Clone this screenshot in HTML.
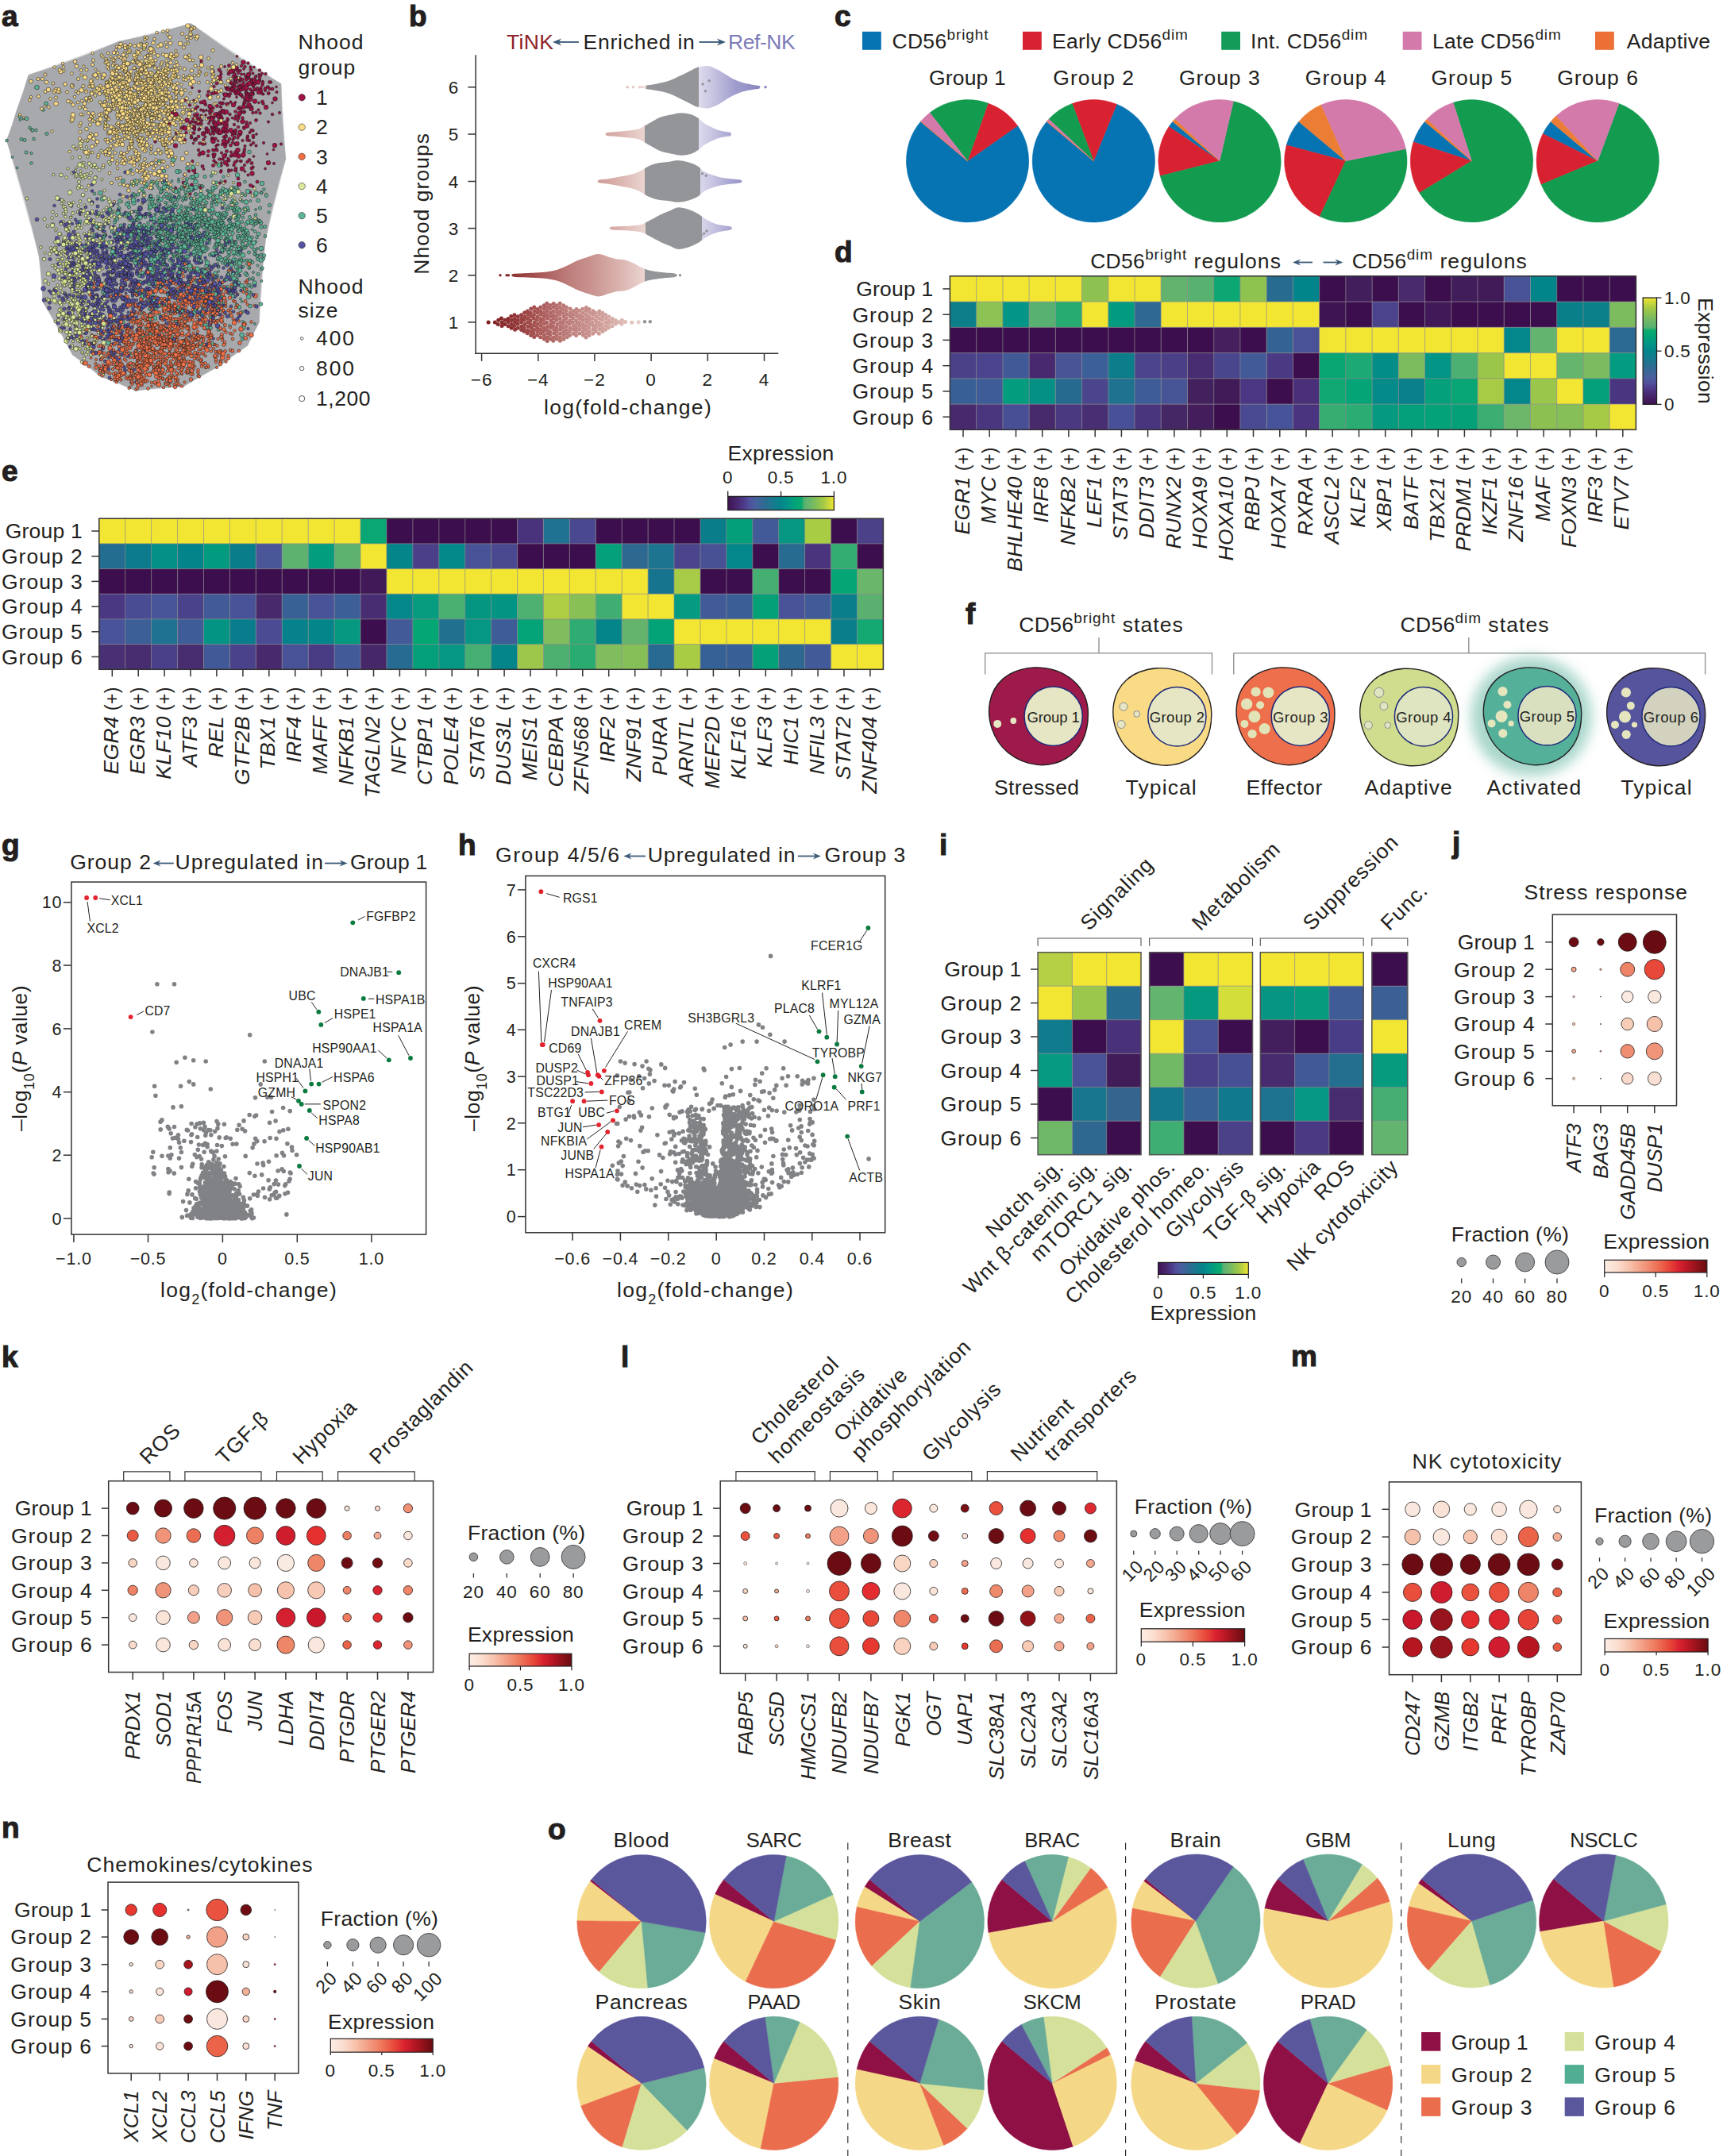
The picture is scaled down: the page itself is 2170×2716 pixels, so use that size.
<!DOCTYPE html><html><head><meta charset="utf-8"><title>Figure</title><style>html,body{margin:0;padding:0;background:#fff}svg{display:block;font-family:"Liberation Sans",sans-serif;font-size:26.5px;letter-spacing:0.3px}text{fill:#231F20}.pl{font-weight:bold;font-size:37px;letter-spacing:0;stroke:#231F20;stroke-width:1.1px}.a0{marker:url(#a0)}.a1{marker:url(#a1)}.a2{marker:url(#a2)}.a3{marker:url(#a3)}.a4{marker:url(#a4)}.a5{marker:url(#a5)}.b0{marker:url(#b0)}.b1{marker:url(#b1)}.b2{marker:url(#b2)}.b3{marker:url(#b3)}.b4{marker:url(#b4)}.b5{marker:url(#b5)}.c0{marker:url(#c0)}.c1{marker:url(#c1)}.c2{marker:url(#c2)}.c3{marker:url(#c3)}.c4{marker:url(#c4)}.c5{marker:url(#c5)}.d0{marker:url(#d0)}.d1{marker:url(#d1)}.d2{marker:url(#d2)}.d3{marker:url(#d3)}.d4{marker:url(#d4)}.d5{marker:url(#d5)}.e0{marker:url(#e0)}.e1{marker:url(#e1)}.e2{marker:url(#e2)}.e3{marker:url(#e3)}.e4{marker:url(#e4)}.e5{marker:url(#e5)}.f0{marker:url(#f0)}.f1{marker:url(#f1)}.f2{marker:url(#f2)}.f3{marker:url(#f3)}.f4{marker:url(#f4)}.f5{marker:url(#f5)}.g1{fill:#9E1245}.g2{fill:#FADB86}.g3{fill:#EF7048}.g4{fill:#DAE698}.g5{fill:#5DB597}.g6{fill:#5552A3}</style></head><body>
<svg width="2170" height="2716" viewBox="0 0 2170 2716">
<rect width="2170" height="2716" fill="#fff"/>
<defs>
<linearGradient id="vh" x1="0" y1="0" x2="1" y2="0"><stop offset="0" stop-color="#3F1353"/><stop offset="0.08" stop-color="#47256C"/><stop offset="0.15" stop-color="#4D3A8A"/><stop offset="0.2" stop-color="#50509B"/><stop offset="0.25" stop-color="#4A5F9F"/><stop offset="0.3" stop-color="#3C6698"/><stop offset="0.35" stop-color="#2D6C93"/><stop offset="0.4" stop-color="#1F7590"/><stop offset="0.45" stop-color="#0F7E8D"/><stop offset="0.5" stop-color="#05858A"/><stop offset="0.55" stop-color="#03908A"/><stop offset="0.6" stop-color="#019C7F"/><stop offset="0.65" stop-color="#04A575"/><stop offset="0.695" stop-color="#0BAA6E"/><stop offset="0.72" stop-color="#55B271"/><stop offset="0.75" stop-color="#62B46E"/><stop offset="0.8" stop-color="#75BA63"/><stop offset="0.85" stop-color="#8CC152"/><stop offset="0.9" stop-color="#A5CA46"/><stop offset="0.95" stop-color="#C9D73B"/><stop offset="1" stop-color="#F0E634"/></linearGradient>
<linearGradient id="vv" x1="0" y1="1" x2="0" y2="0"><stop offset="0" stop-color="#3F1353"/><stop offset="0.08" stop-color="#47256C"/><stop offset="0.15" stop-color="#4D3A8A"/><stop offset="0.2" stop-color="#50509B"/><stop offset="0.25" stop-color="#4A5F9F"/><stop offset="0.3" stop-color="#3C6698"/><stop offset="0.35" stop-color="#2D6C93"/><stop offset="0.4" stop-color="#1F7590"/><stop offset="0.45" stop-color="#0F7E8D"/><stop offset="0.5" stop-color="#05858A"/><stop offset="0.55" stop-color="#03908A"/><stop offset="0.6" stop-color="#019C7F"/><stop offset="0.65" stop-color="#04A575"/><stop offset="0.695" stop-color="#0BAA6E"/><stop offset="0.72" stop-color="#55B271"/><stop offset="0.75" stop-color="#62B46E"/><stop offset="0.8" stop-color="#75BA63"/><stop offset="0.85" stop-color="#8CC152"/><stop offset="0.9" stop-color="#A5CA46"/><stop offset="0.95" stop-color="#C9D73B"/><stop offset="1" stop-color="#F0E634"/></linearGradient>
<linearGradient id="rh" x1="0" y1="0" x2="1" y2="0"><stop offset="0" stop-color="#FCEEE5"/><stop offset="0.125" stop-color="#FBDDCF"/><stop offset="0.25" stop-color="#F7C0A9"/><stop offset="0.375" stop-color="#F29C82"/><stop offset="0.5" stop-color="#EE765A"/><stop offset="0.625" stop-color="#E8483A"/><stop offset="0.72" stop-color="#DA2230"/><stop offset="0.8" stop-color="#BE1826"/><stop offset="0.9" stop-color="#92121A"/><stop offset="1" stop-color="#690C12"/></linearGradient>
</defs>
<text x="2" y="32.5" class="pl">a</text>
<polygon points="240.5,29.2 354.2,105.6 360.1,199.9 334.7,302.2 326.6,406.2 312,435.5 276.2,461.5 230.7,487.5 170.6,492.4 126.7,474.5 91,446.9 53.6,380.2 48.7,321.7 8.1,177.1 21.1,138.1 35.7,94.2 149.5,52" fill="#C4C6C8" opacity="0.55"/>
<path d="M240.5 29.2Q295.6 71 354.2 105.6Q355 154.5 360.1 199.9Q344.4 251.9 334.7 302.2Q327.8 353.1 326.6 406.2Q318.6 420.2 312 435.5Q293.3 447.4 276.2 461.5Q252.9 473 230.7 487.5Q200.5 488.1 170.6 492.4Q149 482 126.7 474.5Q109.4 459.4 91 446.9Q73.9 411.9 53.6 380.2Q52.8 350.3 48.7 321.7Q32.3 250.5 8.1 177.1Q15.6 158.4 21.1 138.1Q29.4 117.2 35.7 94.2Q94 76.5 149.5 52Q194.9 43.4 240.5 29.2Z" fill="#A7A9AC"/>
<defs><marker id="a0" markerUnits="userSpaceOnUse" markerWidth="14" markerHeight="14" refX="7" refY="7"><circle cx="7" cy="7" r="2.9" class="g1" stroke="#1a1a1a" stroke-width="1.1"/></marker><marker id="a1" markerUnits="userSpaceOnUse" markerWidth="14" markerHeight="14" refX="7" refY="7"><circle cx="7" cy="7" r="3.3" class="g1" stroke="#1a1a1a" stroke-width="1.1"/></marker><marker id="a2" markerUnits="userSpaceOnUse" markerWidth="14" markerHeight="14" refX="7" refY="7"><circle cx="7" cy="7" r="3.7" class="g1" stroke="#1a1a1a" stroke-width="1.1"/></marker><marker id="a3" markerUnits="userSpaceOnUse" markerWidth="14" markerHeight="14" refX="7" refY="7"><circle cx="7" cy="7" r="4.1" class="g1" stroke="#1a1a1a" stroke-width="1.1"/></marker><marker id="a4" markerUnits="userSpaceOnUse" markerWidth="14" markerHeight="14" refX="7" refY="7"><circle cx="7" cy="7" r="4.7" class="g1" stroke="#1a1a1a" stroke-width="1.1"/></marker><marker id="a5" markerUnits="userSpaceOnUse" markerWidth="14" markerHeight="14" refX="7" refY="7"><circle cx="7" cy="7" r="5.7" class="g1" stroke="#1a1a1a" stroke-width="1.1"/></marker><marker id="b0" markerUnits="userSpaceOnUse" markerWidth="14" markerHeight="14" refX="7" refY="7"><circle cx="7" cy="7" r="2.9" class="g2" stroke="#1a1a1a" stroke-width="1.1"/></marker><marker id="b1" markerUnits="userSpaceOnUse" markerWidth="14" markerHeight="14" refX="7" refY="7"><circle cx="7" cy="7" r="3.3" class="g2" stroke="#1a1a1a" stroke-width="1.1"/></marker><marker id="b2" markerUnits="userSpaceOnUse" markerWidth="14" markerHeight="14" refX="7" refY="7"><circle cx="7" cy="7" r="3.7" class="g2" stroke="#1a1a1a" stroke-width="1.1"/></marker><marker id="b3" markerUnits="userSpaceOnUse" markerWidth="14" markerHeight="14" refX="7" refY="7"><circle cx="7" cy="7" r="4.1" class="g2" stroke="#1a1a1a" stroke-width="1.1"/></marker><marker id="b4" markerUnits="userSpaceOnUse" markerWidth="14" markerHeight="14" refX="7" refY="7"><circle cx="7" cy="7" r="4.7" class="g2" stroke="#1a1a1a" stroke-width="1.1"/></marker><marker id="b5" markerUnits="userSpaceOnUse" markerWidth="14" markerHeight="14" refX="7" refY="7"><circle cx="7" cy="7" r="5.7" class="g2" stroke="#1a1a1a" stroke-width="1.1"/></marker><marker id="c0" markerUnits="userSpaceOnUse" markerWidth="14" markerHeight="14" refX="7" refY="7"><circle cx="7" cy="7" r="2.9" class="g3" stroke="#1a1a1a" stroke-width="1.1"/></marker><marker id="c1" markerUnits="userSpaceOnUse" markerWidth="14" markerHeight="14" refX="7" refY="7"><circle cx="7" cy="7" r="3.3" class="g3" stroke="#1a1a1a" stroke-width="1.1"/></marker><marker id="c2" markerUnits="userSpaceOnUse" markerWidth="14" markerHeight="14" refX="7" refY="7"><circle cx="7" cy="7" r="3.7" class="g3" stroke="#1a1a1a" stroke-width="1.1"/></marker><marker id="c3" markerUnits="userSpaceOnUse" markerWidth="14" markerHeight="14" refX="7" refY="7"><circle cx="7" cy="7" r="4.1" class="g3" stroke="#1a1a1a" stroke-width="1.1"/></marker><marker id="c4" markerUnits="userSpaceOnUse" markerWidth="14" markerHeight="14" refX="7" refY="7"><circle cx="7" cy="7" r="4.7" class="g3" stroke="#1a1a1a" stroke-width="1.1"/></marker><marker id="c5" markerUnits="userSpaceOnUse" markerWidth="14" markerHeight="14" refX="7" refY="7"><circle cx="7" cy="7" r="5.7" class="g3" stroke="#1a1a1a" stroke-width="1.1"/></marker><marker id="d0" markerUnits="userSpaceOnUse" markerWidth="14" markerHeight="14" refX="7" refY="7"><circle cx="7" cy="7" r="2.9" class="g4" stroke="#1a1a1a" stroke-width="1.1"/></marker><marker id="d1" markerUnits="userSpaceOnUse" markerWidth="14" markerHeight="14" refX="7" refY="7"><circle cx="7" cy="7" r="3.3" class="g4" stroke="#1a1a1a" stroke-width="1.1"/></marker><marker id="d2" markerUnits="userSpaceOnUse" markerWidth="14" markerHeight="14" refX="7" refY="7"><circle cx="7" cy="7" r="3.7" class="g4" stroke="#1a1a1a" stroke-width="1.1"/></marker><marker id="d3" markerUnits="userSpaceOnUse" markerWidth="14" markerHeight="14" refX="7" refY="7"><circle cx="7" cy="7" r="4.1" class="g4" stroke="#1a1a1a" stroke-width="1.1"/></marker><marker id="d4" markerUnits="userSpaceOnUse" markerWidth="14" markerHeight="14" refX="7" refY="7"><circle cx="7" cy="7" r="4.7" class="g4" stroke="#1a1a1a" stroke-width="1.1"/></marker><marker id="d5" markerUnits="userSpaceOnUse" markerWidth="14" markerHeight="14" refX="7" refY="7"><circle cx="7" cy="7" r="5.7" class="g4" stroke="#1a1a1a" stroke-width="1.1"/></marker><marker id="e0" markerUnits="userSpaceOnUse" markerWidth="14" markerHeight="14" refX="7" refY="7"><circle cx="7" cy="7" r="2.9" class="g5" stroke="#1a1a1a" stroke-width="1.1"/></marker><marker id="e1" markerUnits="userSpaceOnUse" markerWidth="14" markerHeight="14" refX="7" refY="7"><circle cx="7" cy="7" r="3.3" class="g5" stroke="#1a1a1a" stroke-width="1.1"/></marker><marker id="e2" markerUnits="userSpaceOnUse" markerWidth="14" markerHeight="14" refX="7" refY="7"><circle cx="7" cy="7" r="3.7" class="g5" stroke="#1a1a1a" stroke-width="1.1"/></marker><marker id="e3" markerUnits="userSpaceOnUse" markerWidth="14" markerHeight="14" refX="7" refY="7"><circle cx="7" cy="7" r="4.1" class="g5" stroke="#1a1a1a" stroke-width="1.1"/></marker><marker id="e4" markerUnits="userSpaceOnUse" markerWidth="14" markerHeight="14" refX="7" refY="7"><circle cx="7" cy="7" r="4.7" class="g5" stroke="#1a1a1a" stroke-width="1.1"/></marker><marker id="e5" markerUnits="userSpaceOnUse" markerWidth="14" markerHeight="14" refX="7" refY="7"><circle cx="7" cy="7" r="5.7" class="g5" stroke="#1a1a1a" stroke-width="1.1"/></marker><marker id="f0" markerUnits="userSpaceOnUse" markerWidth="14" markerHeight="14" refX="7" refY="7"><circle cx="7" cy="7" r="2.9" class="g6" stroke="#1a1a1a" stroke-width="1.1"/></marker><marker id="f1" markerUnits="userSpaceOnUse" markerWidth="14" markerHeight="14" refX="7" refY="7"><circle cx="7" cy="7" r="3.3" class="g6" stroke="#1a1a1a" stroke-width="1.1"/></marker><marker id="f2" markerUnits="userSpaceOnUse" markerWidth="14" markerHeight="14" refX="7" refY="7"><circle cx="7" cy="7" r="3.7" class="g6" stroke="#1a1a1a" stroke-width="1.1"/></marker><marker id="f3" markerUnits="userSpaceOnUse" markerWidth="14" markerHeight="14" refX="7" refY="7"><circle cx="7" cy="7" r="4.1" class="g6" stroke="#1a1a1a" stroke-width="1.1"/></marker><marker id="f4" markerUnits="userSpaceOnUse" markerWidth="14" markerHeight="14" refX="7" refY="7"><circle cx="7" cy="7" r="4.7" class="g6" stroke="#1a1a1a" stroke-width="1.1"/></marker><marker id="f5" markerUnits="userSpaceOnUse" markerWidth="14" markerHeight="14" refX="7" refY="7"><circle cx="7" cy="7" r="5.7" class="g6" stroke="#1a1a1a" stroke-width="1.1"/></marker></defs>
<g transform="scale(.5)" fill="none"><polyline class="e5" points="408,597 614,580 544,559 437,521 537,474 348,590 436,602 569,539 598,441 372,728 470,562 598,550 397,610 502,646 346,741 395,678 600,596 552,506 552,581 431,570 337,633 660,462 493,472 641,713 198,564 484,793 512,600 383,741 483,447 444,746 417,464 496,708 535,527"/><polyline class="b3" points="378,144 409,214 382,223 325,376 328,195 325,161 312,466 286,178 295,188 227,314 295,313 338,417 380,375 423,378 294,178 150,232 351,394 225,384 334,438 264,224 313,388 375,334 342,202 306,411 348,176 481,88 343,185 233,163 271,297 369,249 361,305 368,256 281,461 411,173 353,362 419,241 394,186 382,296"/><polyline class="d5" points="470,492 205,704 239,861 199,614 192,741 184,724 122,690 203,362 169,673 178,766 167,859 305,657 287,810 197,668 244,700 339,341 152,833"/><polyline class="a2" points="663,261 637,421 605,215 564,345 606,239 619,193 534,323 593,191 630,484 637,470 613,220 623,408 568,390"/><polyline class="f2" points="348,731 497,707 279,701 258,597 271,714 250,718 601,718 395,632 488,677 430,681 170,625 451,685 221,774 502,663 179,725 217,785 378,657 316,719 316,673 312,701 254,810 341,734 245,501 415,677 286,639 404,802 213,839 487,603 448,698 193,610 280,654 192,802 292,808 482,594 348,543 489,780 345,578 305,622"/><polyline class="c2" points="428,963 497,794 423,845 457,869 460,778 591,808 485,721 300,833 431,774 404,832 489,827 414,906 461,858 474,822 558,775 602,774 383,867 473,801 348,857 345,954 420,864 404,905 392,967 297,923 522,712 492,848 346,772 533,798 523,773 376,853 515,802 303,940 555,804 467,754 569,837 464,718 332,948"/><polyline class="d2" points="216,822 212,382 184,782 222,877 194,802 277,749 175,805 207,775 275,549 312,627 253,796 201,800 312,626 171,760 255,380 545,506 564,461 299,693"/><polyline class="e4" points="628,719 628,383 475,560 581,626 354,524 643,492 506,658 357,476 379,500 481,670 542,688 577,575 408,600 449,548 528,484 651,589 527,556 502,514 449,596 512,520 565,537 495,533 524,563 441,502 509,549 620,564 521,564 616,726 412,546 520,670 485,527 284,625 479,592"/><polyline class="a0" points="599,348 576,428 676,219 638,218 611,308 613,207 562,402 623,270 599,305 634,229 593,258 547,365 549,355"/><polyline class="f4" points="539,773 154,560 483,794 244,745 298,532 342,707 386,659 426,629 361,605 229,555 333,638 295,609 181,647 256,647 547,564 414,805 258,793 375,807 542,699 465,613 400,709 596,712 350,546 231,583 307,707 321,843 466,755 490,783 475,665 236,697 572,734 296,610 482,615 284,845 453,690 353,824 314,694 349,663"/><polyline class="b2" points="393,260 408,318 326,221 456,322 551,205 411,79 210,269 544,200 501,208 407,338 275,215 538,189 433,410 414,239 393,403 410,244 375,473 370,274 324,371 366,458 341,211 490,190 361,302 349,182 123,270 526,242 417,312 273,170 334,288 342,382 175,382 316,157 266,306 370,350 296,298 392,261 295,171 423,183 381,132"/><polyline class="c2" points="257,873 560,852 440,871 376,841 398,839 358,868 460,859 450,863 462,903 569,911 358,869 440,848 270,846 304,920 379,821 297,825 472,862 449,754 418,904 400,947 401,822 583,679 413,858 325,800 539,808 357,970 461,911 378,865 295,864 425,856 434,874 375,833 399,861 483,770 518,926 329,927 391,754"/><polyline class="e5" points="512,697 471,595 558,486 560,748 589,655 432,694 609,844 606,655 512,632 658,626 553,539 566,583 470,647 549,572 345,592 383,459 407,553 388,550 504,639 490,681 553,557 637,557 516,556 424,574 494,599 570,665 572,485 466,618 478,670 473,580 596,543 409,567 573,611"/><polyline class="b3" points="326,338 501,243 374,322 283,247 281,180 382,339 399,378 278,278 236,190 444,236 304,240 267,149 557,167 305,385 356,460 406,255 263,235 371,284 396,332 277,207 440,166 305,256 283,394 417,303 385,162 328,113 430,245 576,179 317,403 343,152 285,349 463,120 276,280 268,289 297,360 405,406 319,312 389,298"/><polyline class="d2" points="189,688 177,717 171,857 265,549 159,805 139,675 185,510 210,687 118,753 213,756 234,809 130,755 151,636 133,534 141,668 206,411 172,582"/><polyline class="c5" points="480,915 461,754 549,753 545,726 431,862 332,936 494,855 348,920 474,889 615,816 590,813 359,874 254,931 431,821 374,909 305,918 327,876 298,852 537,725 271,921 366,911 306,824 281,848 531,845 385,819 302,927 337,788 359,848 486,763 643,745 359,956 633,844 377,702 504,808 398,845 408,822 627,664 286,823"/><polyline class="a1" points="533,236 585,341 600,184 625,194 608,187 614,262 499,300 560,364 606,338 491,436 519,325 697,232 632,365 564,331"/><polyline class="f3" points="394,620 369,711 584,733 233,673 282,610 346,831 149,616 482,731 323,666 235,604 229,791 575,661 273,563 287,769 457,713 323,618 284,653 212,693 228,691 337,592 330,846 331,591 343,883 406,722 261,772 403,720 337,616 342,767 424,609 187,716 458,634 258,931 486,478 453,678 364,612 284,609 227,791 447,645"/><polyline class="d4" points="195,592 165,614 161,521 168,646 209,822 146,681 326,552 199,469 150,702 264,589 225,412 161,794 289,574 183,613 228,700 182,704 233,561 276,508"/><polyline class="b3" points="349,309 313,179 346,405 349,231 277,202 406,296 226,246 331,286 201,349 411,137 302,357 317,239 424,217 319,231 343,310 323,468 381,298 298,286 378,167 363,184 387,424 284,190 272,298 303,317 459,237 359,347 341,200 365,120 333,284 353,368 435,415 314,334 312,213 411,251 248,183 263,189 266,158 348,314 284,337"/><polyline class="c2" points="497,775 368,922 294,960 465,757 428,931 356,898 490,856 431,897 419,828 556,884 477,734 329,947 428,882 324,896 286,886 458,973 455,936 580,840 400,899 383,885 547,871 482,705 241,857 384,818 447,810 468,679 409,879 373,800 292,887 495,847 462,924 300,906 291,960 575,896 490,700 335,917 395,817"/><polyline class="f3" points="147,665 516,711 340,715 303,696 331,714 437,741 408,642 464,767 299,686 391,561 137,733 610,673 453,821 521,695 449,695 332,585 303,626 630,607 394,580 231,577 350,741 359,617 286,634 371,726 290,600 240,657 281,754 448,699 250,756 328,694 417,637 245,633 236,771 255,622 305,803 365,541 204,529 368,617"/><polyline class="e2" points="631,657 634,723 401,474 433,692 570,600 606,631 609,577 628,675 606,503 433,556 539,668 414,661 430,539 415,558 385,609 423,757 558,569 469,467 402,607 488,682 497,580 528,562 418,645 468,502 616,575 597,704 452,586 575,645 573,667 330,656 480,499 358,609 600,575 429,608"/><polyline class="a2" points="574,302 524,392 503,361 661,214 604,205 529,286 625,193 503,300 575,221 391,357 602,233 620,233 539,405"/><polyline class="e2" points="610,855 584,618 487,719 576,555 238,488 594,570 384,589 540,644 617,458 109,277 423,756 619,590 602,630 482,481 518,542 472,579 596,704 612,548 532,547 17,354 511,591 462,476 355,737 434,508 335,491 488,554 490,585 658,642 504,569 511,634 424,609 500,573 390,705"/><polyline class="c3" points="350,921 502,851 370,928 247,834 227,742 356,892 507,793 511,760 504,815 290,955 455,895 395,864 375,868 410,857 465,877 485,706 517,877 435,858 324,921 381,879 484,741 417,869 346,833 521,754 500,898 369,944 425,960 380,897 384,819 374,804 434,835 200,833 365,939 312,885 512,727 387,825 244,809"/><polyline class="f1" points="298,603 280,716 394,763 264,910 327,623 165,742 552,766 356,664 449,661 364,840 425,553 204,751 227,597 516,757 284,518 251,934 296,603 424,780 326,608 162,827 497,842 336,677 619,783 273,713 507,784 246,719 244,813 418,827 272,662 226,718 258,748 398,532 463,712 330,667 344,579 167,626 592,748 481,599"/><polyline class="a5" points="610,425 567,322 467,467 594,232 595,384 642,255 611,306 536,351 586,179 556,310 599,234 564,281 545,232 623,213"/><polyline class="b1" points="330,186 233,134 334,250 491,264 520,300 311,272 336,468 303,320 346,254 392,267 346,241 305,301 532,212 429,306 314,245 114,267 268,293 544,228 341,214 252,311 400,236 455,171 305,250 338,204 328,363 331,196 387,205 299,226 404,325 304,262 233,201 433,213 362,232 245,302 376,263 411,338 350,365 436,309"/><polyline class="d4" points="194,613 209,491 585,511 250,538 177,631 255,725 255,896 227,820 214,675 192,821 153,783 179,763 195,679 194,716 210,531 166,751 239,778"/><polyline class="c2" points="349,732 375,878 548,765 543,725 337,900 408,826 474,824 468,722 531,760 399,846 526,736 364,856 481,881 522,752 412,891 386,758 301,937 305,957 255,929 225,823 382,813 413,869 445,911 323,917 303,943 371,903 329,767 472,800 393,885 442,860 483,895 388,905 538,784 332,940 586,854 426,765 416,966 492,903"/><polyline class="e4" points="263,718 380,770 426,620 623,524 419,489 401,407 523,588 660,676 526,531 272,538 506,867 388,662 488,553 472,562 459,589 519,601 310,456 523,551 657,766 522,626 402,617 472,424 424,738 314,607 606,637 595,533 308,608 334,623 467,543 616,526 483,469 393,658 457,525"/><polyline class="d4" points="205,804 214,445 111,653 225,504 203,644 174,745 186,625 216,675 181,872 322,611 180,693 206,634 384,617 294,550 190,828 207,853 199,658 245,638"/><polyline class="f3" points="367,579 272,774 416,630 315,756 323,818 547,593 321,796 205,857 237,629 397,652 303,775 493,783 347,835 592,725 271,849 513,718 461,570 597,805 357,580 509,747 146,814 417,649 592,609 529,671 233,715 524,766 318,826 638,743 138,729 316,536 532,760 232,734 297,738 355,695 544,725 312,542 221,703 459,678"/><polyline class="b5" points="366,274 348,306 259,222 336,324 444,177 240,189 371,262 369,166 183,295 274,335 416,211 253,300 371,163 422,289 318,119 370,318 460,400 461,284 247,312 401,432 419,140 428,297 362,300 508,164 444,267 368,233 286,209 327,236 308,364 342,340 429,381 432,386 474,323 351,205 372,240 333,260 141,261 349,204 444,139"/><polyline class="a0" points="624,194 634,213 585,297 566,333 615,187 509,304 673,388 517,345 614,174 584,220 597,209 544,368 633,269"/><polyline class="c3" points="552,773 523,706 436,837 320,866 486,922 512,917 393,749 468,873 514,786 334,804 387,693 487,859 410,930 384,837 430,802 468,856 354,810 452,876 270,926 416,833 351,952 543,814 534,785 415,736 529,819 478,870 249,922 461,871 561,785 483,769 550,756 316,867 325,863 253,839 376,909 385,918 466,819"/><polyline class="f3" points="433,773 409,606 289,756 271,660 235,708 253,620 209,672 335,735 548,639 313,675 524,696 439,667 233,788 425,627 371,611 397,713 390,708 389,654 582,772 381,612 367,770 218,730 385,735 293,716 543,717 365,588 233,712 421,629 450,592 449,694 521,739 587,724 279,890 339,621 226,688 306,636 253,824 281,811"/><polyline class="e3" points="300,525 423,583 643,632 452,565 583,605 562,748 600,642 477,708 545,585 575,571 516,445 355,644 579,478 628,611 579,558 543,600 437,642 636,661 563,626 433,553 375,503 542,586 575,585 290,636 406,562 615,584 424,675 556,583 489,579 613,586 547,621 351,695 485,520 462,500"/><polyline class="d2" points="214,685 206,374 160,538 201,879 206,912 192,746 237,821 154,679 181,662 121,758 204,662 141,633 247,543 216,543 506,481 196,474 544,413"/><polyline class="b3" points="346,331 269,153 500,190 248,390 302,331 416,183 341,203 463,320 355,275 454,309 308,352 359,235 180,305 459,85 535,177 410,407 442,193 423,287 391,236 266,295 536,205 407,114 268,215 317,170 365,282 223,285 218,176 310,271 420,118 457,359 412,179 345,239 391,169 407,183 352,305 345,136 229,298 450,194"/><polyline class="a2" points="539,218 504,386 556,204 602,224 543,349 507,312 601,217 516,362 537,389 483,465 637,284 594,430 525,328 674,219"/><polyline class="f1" points="453,705 344,756 459,674 286,807 195,804 329,734 230,625 538,714 210,682 509,725 240,731 401,725 344,686 312,610 339,624 549,672 387,722 359,617 427,737 385,698 305,849 391,671 589,706 160,609 305,645 388,836 335,651 236,747 514,585 337,583 253,713 336,533 210,672 374,604 319,603 185,724 185,711 262,731"/><polyline class="c3" points="457,911 432,921 377,873 512,750 434,737 426,890 356,819 249,872 413,768 302,909 460,827 430,961 421,955 429,813 476,866 337,813 452,869 467,742 560,798 467,810 462,696 390,755 544,766 377,876 480,849 430,816 532,786 262,935 474,911 390,963 343,899 448,833 546,754 224,923 439,733 559,811 342,849 517,761"/><polyline class="d3" points="151,829 160,670 142,634 149,639 184,537 159,717 220,712 321,617 207,740 195,700 147,738 248,575 112,552 277,526 147,807 237,682 243,851 211,801"/><polyline class="a3" points="540,313 598,177 661,256 616,257 510,419 581,366 638,212 571,381 537,378 593,363 552,287 620,226 686,224"/><polyline class="b2" points="280,216 347,352 418,267 341,275 420,454 316,269 307,394 395,82 458,300 291,242 374,340 188,244 289,336 280,217 301,273 392,438 387,129 305,208 255,260 226,246 228,210 426,314 436,256 444,230 389,333 360,347 349,269 323,237 358,254 141,224 431,253 356,110 472,99 373,260 373,189 308,202 290,385 276,436 259,384"/><polyline class="e2" points="584,698 427,656 469,524 415,607 385,567 458,475 413,554 485,612 519,656 438,598 629,658 514,630 231,599 532,443 460,625 411,578 594,523 418,521 614,657 505,624 588,544 535,694 466,622 327,890 542,536 578,795 512,559 496,513 351,824 577,578 470,564 625,719 390,673"/><polyline class="a0" points="696,219 668,425 512,278 662,205 538,396 628,208 596,245 518,290 539,297 566,351 545,286 541,379 590,210 616,250"/><polyline class="d2" points="193,732 219,657 210,829 218,759 260,422 206,822 277,413 200,627 228,641 208,889 641,475 185,779 232,585 267,353 215,865 203,439 171,701"/><polyline class="b3" points="426,315 385,260 378,344 342,147 404,331 257,265 440,182 406,231 182,215 312,396 222,386 265,308 333,317 114,231 197,199 369,291 332,323 235,152 345,129 348,212 271,358 210,217 431,262 305,282 523,207 393,344 281,267 373,139 447,164 396,183 294,243 288,349 347,307 141,246 534,169 378,334 371,419 399,193"/><polyline class="e5" points="531,571 562,514 477,623 581,599 395,524 592,568 447,432 514,632 390,801 383,659 618,730 499,623 534,583 599,562 407,538 383,688 526,599 320,690 552,570 510,792 420,620 568,480 443,482 388,518 368,465 533,866 542,595 456,544 379,803 401,558 504,682 478,607 405,502"/><polyline class="f2" points="325,584 203,758 147,798 252,790 342,771 205,795 217,616 339,629 274,930 454,591 266,765 272,697 538,701 408,631 380,613 322,703 203,736 204,682 257,751 547,732 315,700 266,593 348,576 329,672 491,785 580,705 207,617 402,568 185,745 490,685 457,732 437,788 560,524 267,810 265,854 302,601 302,490 237,867"/><polyline class="c2" points="535,764 421,902 323,841 499,846 529,797 336,900 370,892 440,803 507,915 211,916 448,943 423,800 344,918 475,803 344,918 410,734 441,729 369,861 436,732 537,772 495,758 446,813 511,848 407,886 480,703 552,744 490,903 320,868 608,788 405,953 495,890 245,853 560,769 315,876 343,981 365,874 290,897"/><polyline class="e3" points="395,529 465,604 482,684 562,629 567,605 567,704 417,590 50,294 327,603 590,532 631,561 482,500 528,531 577,736 573,596 679,517 487,511 643,641 434,594 629,657 426,498 507,605 416,612 371,584 627,636 474,610 566,621 490,504 424,593 629,547 336,489 365,573 472,537 602,601"/><polyline class="d4" points="302,545 224,632 189,775 236,562 277,692 188,682 219,683 280,516 251,801 187,697 234,800 190,847 349,652 140,610 163,719 177,837 200,831 114,708"/><polyline class="a2" points="643,210 633,269 569,342 616,282 490,352 566,285 579,207 534,280 638,217 613,282 643,226 611,297 595,237"/><polyline class="c1" points="423,861 242,925 383,835 262,835 533,766 560,712 432,745 351,774 624,842 376,920 320,885 448,915 431,952 478,925 328,901 354,906 395,915 403,853 448,851 490,773 210,869 591,833 423,968 406,771 590,759 382,840 352,833 392,856 459,718 370,926 477,747 287,848 377,758 311,848 392,830 338,803 531,846"/><polyline class="f2" points="526,703 531,718 394,683 254,906 260,749 299,646 332,653 381,629 430,678 545,723 249,797 379,753 241,727 382,716 347,718 243,743 444,559 257,617 503,653 317,663 399,727 563,675 346,617 294,738 338,614 471,624 468,562 588,785 469,735 245,761 194,644 555,793 353,660 436,657 462,583 265,651 253,654 459,781"/><polyline class="b2" points="346,291 408,335 364,271 357,278 383,332 345,159 416,325 360,361 344,238 196,258 300,143 348,227 483,317 350,250 220,355 384,256 439,188 405,163 368,209 387,276 353,201 295,166 356,229 339,293 352,182 437,296 223,380 280,355 440,281 282,199 256,286 465,270 392,418 318,181 363,242 353,188 379,141 306,190 203,368"/><polyline class="e2" points="665,477 373,561 460,604 79,411 490,588 430,524 349,539 604,627 521,746 413,495 304,576 413,599 364,613 421,499 615,591 507,678 85,350 436,598 460,626 485,617 510,610 620,586 539,710 385,513 495,520 531,741 250,620 572,722 427,601 552,591 268,623 497,502 531,799"/><polyline class="c3" points="358,888 329,915 342,885 405,821 404,711 404,945 559,843 520,868 400,937 321,951 372,854 476,880 564,723 518,759 434,704 358,921 356,948 403,922 356,939 291,946 344,772 399,913 433,920 618,759 387,880 467,890 454,717 397,720 328,950 424,925 533,718 396,770 440,764 544,906 588,733 496,871 562,742 233,880"/><polyline class="a1" points="591,213 602,219 551,326 573,299 482,278 569,364 558,385 616,416 479,489 708,363 630,310 494,308 557,187 651,277"/><polyline class="f2" points="428,706 511,773 371,766 262,798 419,566 508,661 415,634 642,720 302,669 406,763 446,690 446,590 189,593 357,669 607,732 207,680 236,622 345,711 422,739 210,780 271,759 477,755 467,798 467,569 202,647 329,695 196,622 423,680 269,811 323,799 304,840 294,691 289,625 492,687 398,764 411,718 427,546 426,750"/><polyline class="b2" points="352,137 325,294 273,391 256,139 418,300 359,242 478,190 357,293 160,169 474,257 334,403 433,216 481,96 445,288 383,321 286,161 491,298 359,166 323,254 398,455 420,310 286,258 325,409 350,289 357,298 425,270 391,202 386,459 436,229 363,277 444,291 236,418 336,287 399,260 341,235 356,303 75,252 465,358"/><polyline class="d0" points="244,858 300,601 200,716 156,513 198,647 311,615 217,660 208,871 228,631 302,595 208,448 160,558 156,685 196,782 170,707 249,696 183,794 200,861"/><polyline class="a2" points="593,281 633,203 594,424 539,305 593,337 571,315 579,288 582,393 493,350 589,416 479,309 569,220 625,254"/><polyline class="d1" points="226,864 213,517 185,782 177,670 166,571 218,370 145,718 184,860 214,659 191,597 232,669 471,471 158,706 157,655 172,583 224,821 204,853"/><polyline class="f2" points="462,752 149,502 422,600 579,552 243,747 372,880 320,667 200,661 310,768 353,600 366,580 327,692 231,866 385,636 318,643 281,746 363,884 458,645 569,726 538,749 350,588 336,652 526,550 275,665 469,571 354,724 137,518 511,776 358,638 288,774 306,748 178,662 377,666 435,728 456,608 377,731 269,665 453,676"/><polyline class="b1" points="50,289 366,164 256,221 365,93 237,231 351,161 422,87 327,430 462,287 349,199 287,363 334,360 347,355 279,205 321,198 559,209 380,166 380,386 456,327 289,153 308,315 284,331 131,331 370,96 427,342 506,321 308,116 381,216 395,292 266,390 381,305 370,110 399,320 501,171 398,179 275,248 528,266 474,109 432,260"/><polyline class="e4" points="413,431 461,819 611,596 116,261 558,546 549,653 295,586 408,575 516,604 239,593 657,561 361,502 183,803 491,568 352,523 466,554 452,686 425,527 395,460 461,629 600,685 630,771 574,694 402,550 652,558 589,528 439,600 515,507 452,496 607,657 294,552 395,834 511,739"/><polyline class="c4" points="564,868 538,732 449,904 302,919 565,751 401,762 525,751 426,805 429,797 458,922 557,757 288,851 354,936 559,898 427,823 469,859 404,890 567,766 429,959 531,720 484,942 400,853 558,807 352,857 387,838 449,968 291,753 385,878 421,856 368,863 470,937 485,913 380,770 387,763 356,966 441,975 472,734"/><polyline class="f1" points="361,592 260,809 309,580 373,676 315,819 124,733 283,824 258,620 397,613 291,651 367,603 619,785 490,655 226,537 313,574 310,724 320,775 197,779 252,885 307,843 405,693 224,634 467,685 453,756 307,660 375,693 397,702 377,574 286,662 189,818 185,852 348,593 405,599 400,691 523,705 528,733 214,859 625,828"/><polyline class="c2" points="302,837 404,918 481,731 331,828 442,855 323,955 519,680 575,738 393,903 274,939 451,782 519,692 402,925 543,725 563,782 442,901 275,856 328,718 541,899 270,919 287,904 413,862 332,958 258,901 340,844 437,905 404,923 430,844 338,952 418,817 389,892 346,978 313,749 280,899 431,922 580,787 342,896"/><polyline class="b3" points="391,313 480,76 460,349 294,166 298,253 390,172 425,462 422,420 318,175 295,412 331,281 81,328 470,93 465,174 396,334 331,362 364,218 360,327 357,238 535,185 390,297 321,273 520,186 419,375 230,233 412,261 358,294 107,199 356,323 382,257 354,186 368,330 284,326 543,262 395,272 492,166 311,271 269,245"/><polyline class="d0" points="216,785 242,446 140,581 191,446 220,850 208,808 287,586 181,644 225,871 180,777 203,632 201,780 222,828 191,749 586,481 226,852 192,423 215,879"/><polyline class="e1" points="585,611 376,628 428,489 392,590 564,630 551,549 575,684 482,509 599,476 563,445 420,512 333,556 595,689 505,708 477,682 456,532 332,588 581,564 366,547 557,635 342,533 556,480 569,526 366,594 537,539 257,715 346,555 359,615 351,611 554,571 480,585 466,615 610,786 391,751"/><polyline class="a2" points="554,259 466,352 573,416 624,343 669,186 612,393 559,278 490,326 538,337 679,224 537,322 507,154 587,351 558,334"/><polyline class="f2" points="180,672 304,785 387,636 586,732 352,622 393,690 348,551 368,742 425,768 390,617 299,600 357,598 346,727 411,660 356,674 282,668 463,723 375,749 436,701 425,624 395,697 272,685 433,615 339,719 347,618 287,513 296,637 284,627 319,690 249,701 301,869 212,789 443,597 174,775 392,890 330,638 336,564 267,621"/><polyline class="b4" points="442,315 433,291 366,267 356,155 394,194 327,263 440,215 215,275 373,273 370,253 297,356 286,322 389,439 234,286 304,230 340,144 412,191 234,219 337,290 275,334 364,373 430,158 324,241 146,230 483,178 364,440 294,330 164,212 356,250 270,317 419,350 283,403 357,226 445,336 305,319 416,333 386,267 557,228 356,281"/><polyline class="e3" points="401,568 620,689 425,555 424,624 499,856 469,543 589,514 509,700 456,586 498,594 621,599 562,579 583,625 66,384 498,563 622,693 503,544 602,712 438,682 418,469 202,558 383,474 605,626 310,588 411,567 287,701 592,620 594,541 348,535 448,635 483,580 453,432 537,555"/><polyline class="d2" points="192,825 203,803 516,519 159,665 231,538 202,785 618,528 258,819 185,369 203,531 182,436 222,628 171,566 229,436 234,563 173,569 244,643"/><polyline class="c2" points="377,853 335,766 496,763 332,785 489,828 503,734 410,856 331,935 512,859 387,827 367,808 554,887 254,871 384,766 346,909 483,798 453,805 399,859 413,848 379,830 468,776 447,892 430,932 621,712 575,782 434,837 463,903 409,858 519,824 412,768 466,883 458,722 364,837 256,814 447,804 426,948 462,871 500,742"/><polyline class="a5" points="626,188 589,334 693,249 630,250 553,195 613,157 622,248 597,362 567,360 552,334 537,356 471,303 512,337"/><polyline class="c3" points="506,908 362,961 531,783 567,885 480,912 525,726 511,876 470,855 346,950 488,878 352,892 312,846 408,801 304,877 483,859 500,947 306,798 442,786 325,852 355,820 300,873 432,869 400,752 339,727 533,783 342,891 430,856 523,869 470,792 258,937 478,807 345,809 293,807 331,963 303,744 388,818 309,922"/><polyline class="b4" points="182,218 348,132 312,317 303,270 342,340 424,320 338,218 402,231 276,385 364,220 381,288 350,225 420,307 470,248 445,254 443,236 404,259 331,225 359,309 379,121 363,491 402,292 344,331 331,245 311,138 376,313 342,299 324,200 301,119 376,154 266,382 390,350 317,282 429,145 315,180 419,444 372,292 485,70"/><polyline class="e3" points="443,566 381,503 469,632 652,556 467,535 575,493 325,522 526,551 480,564 54,351 360,691 540,596 585,616 649,653 572,615 453,605 567,651 553,615 474,545 546,577 484,549 430,506 495,544 519,731 463,547 473,633 423,772 450,498 402,557 508,536 420,581 474,646 540,624"/><polyline class="f5" points="454,706 277,707 310,752 428,693 306,732 313,659 513,681 351,713 412,690 214,749 375,578 231,804 324,545 374,700 467,657 282,720 274,733 293,635 490,772 482,729 159,703 262,730 433,537 355,626 360,772 295,748 549,781 412,665 535,723 544,735 497,724 499,595 514,712 368,593 526,690 384,761 271,841 526,746"/><polyline class="d2" points="214,826 212,903 180,624 103,623 172,688 165,685 221,395 263,713 219,439 256,539 191,878 169,674 565,502 217,622 205,719 330,700 231,581 196,625"/><polyline class="a1" points="594,292 668,228 605,338 498,269 571,407 589,264 513,280 529,296 482,347 653,229 614,283 427,312 602,293 517,262"/><polyline class="a2" points="648,222 635,206 594,175 638,360 607,406 469,334 583,211 627,239 628,354 525,231 637,329 606,284 616,376"/><polyline class="b2" points="581,198 492,280 379,322 355,224 421,229 399,315 334,308 278,213 371,240 181,185 310,495 319,118 376,415 341,202 204,177 329,304 485,276 346,278 389,98 359,162 338,301 271,351 297,332 401,300 537,186 267,231 264,283 364,299 300,364 363,316 294,337 374,128 388,135 352,276 445,350 451,340 169,232 340,201 457,240"/><polyline class="c1" points="408,913 275,895 468,880 280,956 372,804 434,893 496,889 456,785 419,842 315,933 388,931 354,878 447,812 363,955 383,827 408,911 458,942 581,778 387,925 569,758 439,968 302,834 538,742 546,808 465,963 283,897 461,879 349,791 443,818 498,872 260,923 435,860 348,877 406,848 457,790 525,925 285,918 455,783"/><polyline class="e1" points="550,592 527,609 561,663 406,638 266,614 491,452 567,623 590,638 457,551 547,776 605,577 564,549 493,678 404,723 377,537 613,672 468,533 493,575 406,575 427,589 407,657 588,713 651,644 448,504 457,519 600,581 345,572 327,536 387,665 602,622 482,526 452,579 644,609 421,558"/><polyline class="d1" points="213,733 190,430 260,567 181,697 233,709 221,551 158,819 155,634 165,668 142,577 179,547 139,810 164,521 204,641 247,576 203,445 243,563"/><polyline class="f2" points="378,645 379,790 325,572 409,664 305,603 522,725 439,677 305,673 488,527 550,671 431,636 361,736 280,574 226,767 493,728 263,623 228,733 274,816 434,692 425,759 253,828 335,776 231,887 367,667 219,676 323,687 496,645 473,700 337,561 537,853 250,576 357,544 420,814 339,709 221,601 413,656 324,671 299,826"/><polyline class="b5" points="214,195 245,229 386,216 473,65 408,443 357,223 332,309 529,246 373,445 343,457 372,227 367,252 407,311 408,235 477,287 413,284 435,195 404,219 374,336 446,292 248,225 378,230 440,190 350,114 405,113 288,232 284,185 313,149 205,227 338,239 312,257 308,271 368,450 289,331 153,180 273,228 398,220 373,233"/><polyline class="e3" points="478,568 310,811 550,560 556,570 473,623 541,564 510,470 502,562 591,512 383,508 380,590 599,583 597,659 439,571 587,505 287,731 469,459 326,569 330,623 588,687 499,606 524,593 476,552 667,571 118,337 512,572 366,470 609,559 444,598 570,592 348,690 609,601 435,553"/><polyline class="a2" points="465,441 556,269 530,274 575,357 493,273 575,400 488,307 588,217 655,285 482,346 553,401 636,231 638,346 611,244"/><polyline class="d2" points="153,726 220,873 193,827 224,717 196,567 180,751 165,642 152,591 242,749 122,715 170,780 172,795 213,441 133,632 166,533 162,762 274,501 175,701"/><polyline class="f4" points="240,889 242,615 221,659 195,560 573,797 311,668 547,725 355,583 441,751 414,709 270,690 390,625 511,705 245,675 357,751 385,750 269,674 158,752 313,651 295,808 344,670 385,751 284,686 330,623 432,748 448,703 297,694 238,807 379,544 315,586 209,633 389,640 280,882 236,874 244,703 321,658 290,757 508,745"/><polyline class="c1" points="348,908 368,897 400,868 539,727 594,775 410,846 402,887 370,841 266,937 549,854 350,777 462,858 316,828 355,920 529,755 583,680 502,949 423,859 358,862 387,933 641,770 509,744 410,953 435,791 447,787 487,721 371,832 528,853 436,805 327,976 555,909 354,858 409,806 587,803 496,872 418,968 420,710"/><polyline class="c1" points="485,855 410,716 517,793 260,940 358,832 403,939 291,939 445,860 430,910 475,860 324,890 524,871 521,828 317,953 327,832 332,848 273,888 349,930 448,758 525,848 446,967 336,855 524,841 354,847 332,841 623,706 602,809 362,788 364,903 354,680 543,794 284,930 477,833 425,892 403,850 335,836 410,756"/><polyline class="b4" points="361,217 372,255 409,423 360,204 308,325 336,157 271,274 332,355 386,196 368,153 333,313 473,413 361,423 512,359 463,341 388,224 280,320 435,146 328,306 325,197 380,269 138,229 429,109 434,175 409,247 304,111 357,327 390,288 361,303 345,210 213,261 294,237 231,340 296,213 273,376 441,346 349,288 365,170 425,394"/><polyline class="a3" points="639,214 634,424 648,458 507,292 606,275 578,350 600,450 462,460 577,165 626,240 631,237 561,260 559,298"/><polyline class="f4" points="238,802 369,686 176,691 181,702 262,810 555,753 317,694 303,859 232,510 379,494 240,805 242,640 360,714 322,897 507,703 268,706 363,587 441,734 295,690 377,707 646,772 173,669 348,659 474,567 437,728 231,735 303,639 359,696 302,673 397,659 279,790 293,835 246,672 376,587 224,714 336,616 325,668 288,681"/><polyline class="d4" points="193,829 240,448 198,747 239,803 537,434 154,441 238,415 197,633 167,578 176,693 208,418 181,800 194,761 193,442 161,632 188,680 181,788"/><polyline class="e3" points="507,549 534,510 335,608 589,568 364,612 650,691 500,633 520,576 594,610 460,673 506,594 534,641 351,664 496,541 384,572 603,581 526,571 531,826 345,605 487,521 471,451 453,574 451,592 589,545 527,489 432,598 550,565 348,490 479,553 423,550 440,577 262,597 411,662"/><polyline class="b4" points="320,325 350,387 401,251 337,312 353,323 398,140 232,369 358,429 336,400 395,188 182,302 384,124 293,199 348,396 325,249 371,309 578,175 296,290 260,193 365,228 503,182 302,212 328,242 427,283 193,167 387,298 376,280 233,212 361,315 236,350 346,156 293,327 431,137 345,430 374,188 306,298 296,235 427,361"/><polyline class="d2" points="231,513 195,715 609,492 218,610 543,436 670,490 182,676 218,661 239,854 260,607 262,553 215,807 214,657 167,447 217,893 205,758 230,417 260,944"/><polyline class="c2" points="373,979 507,749 350,868 356,907 412,976 529,862 486,806 508,923 407,887 536,809 347,968 384,804 405,900 348,837 443,716 557,733 406,830 467,882 369,880 451,842 481,891 298,823 373,796 419,857 376,815 449,928 494,897 462,881 550,706 521,848 464,907 381,733 566,862 353,805 321,830 399,929 426,891 403,858"/><polyline class="a1" points="660,185 602,219 591,186 553,283 556,181 466,253 493,351 645,192 642,210 589,226 638,236 682,207 545,375 530,338"/><polyline class="f1" points="562,769 234,609 363,746 308,687 335,797 380,555 354,783 268,637 553,711 319,730 517,649 324,688 505,714 198,701 368,538 328,588 285,866 346,593 243,532 460,714 476,710 456,637 293,716 397,715 329,669 232,716 502,727 359,749 173,778 535,706 351,676 566,770 348,505 240,811 388,696 261,781 535,759 209,811"/><polyline class="e1" points="347,867 387,559 339,633 537,509 350,528 453,632 396,467 383,675 593,522 582,510 468,500 351,455 591,664 401,670 468,521 433,664 548,586 595,616 536,481 504,510 498,605 550,651 227,722 373,579 416,582 327,672 516,560 573,629 459,617 677,535 416,510 502,598 297,596 408,665"/><polyline class="b4" points="229,204 398,282 382,298 189,155 400,269 448,300 385,335 371,229 218,325 354,308 437,220 324,191 386,108 407,264 392,386 78,205 265,317 420,384 172,255 345,224 382,202 184,264 391,281 315,115 340,379 270,239 322,302 471,145 328,314 443,256 310,322 314,161 353,277 338,139 539,202 422,270 309,196 395,205 349,400"/><polyline class="c4" points="584,719 312,861 382,850 302,908 410,858 390,836 334,867 419,869 399,865 278,916 449,889 374,895 350,717 405,858 352,945 465,761 466,892 456,800 395,869 357,849 459,844 367,850 340,858 365,878 445,882 275,864 305,811 478,919 400,788 434,775 481,956 357,760 353,788 530,765 530,786 536,695 368,879"/><polyline class="e1" points="436,565 471,536 533,570 493,565 451,487 363,487 621,619 569,502 610,507 446,546 551,763 552,605 469,578 624,617 498,600 414,644 618,492 351,640 351,590 496,635 621,655 374,585 452,589 440,496 595,554 213,622 467,484 454,597 405,646 450,457 398,505 435,703 463,537"/><polyline class="d1" points="232,665 222,766 148,741 166,718 545,511 130,633 188,848 203,431 252,762 197,714 588,460 306,508 113,637 193,808 135,692 205,815 222,591 208,706"/><polyline class="a0" points="513,426 640,169 652,188 629,184 559,401 689,377 550,365 532,319 575,261 534,347 557,283 488,253 554,335"/><polyline class="f5" points="244,634 282,684 573,699 353,526 544,741 109,727 570,608 251,596 308,730 384,780 179,629 297,903 538,642 523,706 240,812 446,708 175,592 220,720 287,670 452,575 353,543 311,772 184,626 321,542 365,639 292,741 422,722 442,779 136,696 365,665 593,716 288,773 510,682 461,729 429,713 248,706 472,593 306,726"/><polyline class="f2" points="272,747 437,673 261,656 430,708 173,649 314,767 353,762 465,783 338,931 297,814 432,617 222,637 521,867 175,706 454,735 173,632 480,689 464,719 516,828 258,878 277,703 457,736 369,691 256,660 411,763 393,634 279,573 277,597 277,715 536,798 345,681 343,555 432,712 307,578 556,714 221,625 321,579 470,716"/><polyline class="e3" points="497,738 259,737 512,681 520,511 348,597 313,665 374,641 455,623 509,693 463,616 555,489 443,810 431,475 618,689 445,562 418,640 436,553 466,664 543,472 450,618 388,757 384,680 375,621 289,560 655,524 384,462 339,492 434,609 448,582 495,525 352,572 330,618 360,848"/><polyline class="d1" points="227,813 154,564 205,771 214,564 250,647 154,643 182,397 228,599 174,708 149,758 208,627 217,778 161,508 198,659 235,422 575,442 171,659"/><polyline class="b5" points="482,197 316,215 338,258 263,266 380,148 321,434 588,169 506,144 389,260 326,129 480,211 380,123 453,352 383,206 297,239 292,221 313,210 294,245 293,365 501,309 321,345 381,208 307,280 412,364 379,217 532,224 372,336 413,315 420,172 331,321 345,190 364,115 436,310 374,200 408,353 274,276 454,110 381,185"/><polyline class="c2" points="468,895 389,927 465,762 385,819 466,821 479,751 584,724 384,777 556,912 432,819 411,829 415,752 517,718 403,704 516,787 461,787 464,908 288,869 480,800 469,783 344,961 457,766 450,905 223,808 299,923 394,901 517,915 514,816 356,779 335,743 602,884 370,794 260,808 285,846 336,917 438,858 445,940"/><polyline class="a3" points="576,239 543,320 645,303 546,210 525,381 567,369 641,225 577,242 539,394 631,467 585,334 632,176 538,235"/><polyline class="c1" points="455,816 475,829 384,937 524,921 239,865 327,951 532,813 238,713 411,851 315,941 370,902 396,768 567,790 419,920 431,920 300,900 388,925 409,885 360,916 231,844 407,736 365,806 269,911 408,687 353,960 203,844 403,825 343,786 386,824 544,912 470,857 557,758 389,862 432,779 323,825 553,830 392,928 320,865"/><polyline class="b3" points="306,223 114,188 352,158 377,271 355,187 374,238 280,194 265,324 148,225 439,274 150,176 401,412 97,243 250,289 448,295 462,200 396,254 202,332 307,259 326,322 324,225 394,439 535,194 363,123 354,176 341,221 306,196 404,277 369,225 361,292 345,403 339,116 535,291 301,291 310,168 377,282 482,73 326,327 422,77"/><polyline class="a5" points="629,210 670,270 569,309 583,226 488,320 622,240 543,289 488,428 581,180 511,385 676,410 608,223 692,366 615,223"/><polyline class="f4" points="233,751 369,598 326,545 493,780 185,729 207,699 291,627 278,788 397,752 287,636 446,626 529,816 435,704 335,712 249,711 276,780 344,633 227,648 394,761 588,686 183,685 111,756 340,706 317,696 449,776 426,706 542,770 217,596 93,553 266,743 499,617 312,802 259,750 329,699 495,662 398,660 554,716 483,788"/><polyline class="d2" points="251,613 263,480 228,866 195,854 163,810 258,853 184,600 141,624 194,625 222,734 636,493 192,375 216,831 165,712 301,599 592,508 151,664 261,496"/><polyline class="e3" points="374,624 305,598 472,466 658,485 607,629 541,638 597,628 584,666 346,546 498,508 455,575 82,328 405,485 358,656 486,446 482,560 341,572 394,573 379,842 477,936 386,502 62,353 562,475 353,647 421,555 563,550 448,741 376,715 359,687 399,582 304,568 476,746 596,768 596,512"/><polyline class="c2" points="430,707 499,938 307,852 438,775 456,892 435,891 407,802 496,800 437,860 514,868 280,746 428,833 373,908 310,876 551,731 334,823 334,890 341,943 404,854 346,925 494,850 432,738 314,905 433,867 439,768 541,868 286,942 432,861 455,916 355,663 349,820 415,853 504,864 569,735 459,815 257,947 272,893"/><polyline class="a1" points="546,333 690,412 626,236 577,405 631,169 518,264 604,200 506,277 636,200 597,405 607,201 527,280 663,237"/><polyline class="d2" points="164,634 198,607 168,611 165,527 218,639 230,683 165,546 207,771 275,528 157,705 171,794 221,887 235,692 240,806 148,654 197,788 243,422"/><polyline class="f2" points="567,787 458,680 369,734 332,690 273,831 522,734 206,768 317,697 245,595 321,583 272,726 475,730 308,835 208,762 443,635 258,647 481,696 375,729 584,737 274,806 178,602 575,691 495,609 371,681 340,644 434,544 413,707 220,684 535,807 251,820 325,688 238,797 242,596 476,659 357,616 284,829 501,652 491,648"/><polyline class="e1" points="473,741 555,544 482,574 456,573 591,528 527,613 412,660 532,539 519,566 508,628 453,545 626,530 457,471 594,653 544,638 627,595 519,577 457,642 474,717 404,686 260,575 480,570 467,573 499,620 402,640 611,488 248,540 401,531 397,604 384,643 430,502 654,558 448,644"/><polyline class="b2" points="245,197 350,318 332,458 352,434 417,365 383,313 462,191 463,307 437,183 367,276 297,201 410,202 368,276 201,271 408,157 258,198 303,448 389,215 497,413 420,198 408,338 324,187 385,253 597,198 442,289 352,208 296,281 252,235 400,172 356,274 348,392 420,161 324,286 470,277 363,462 437,176 158,160 134,210"/><polyline class="d3" points="240,652 279,677 200,849 154,768 267,555 187,648 201,796 534,490 235,560 236,765 122,756 264,770 212,715 163,738 287,802 250,725 229,894 201,396"/><polyline class="b2" points="298,316 483,256 312,170 459,271 206,254 433,280 328,321 358,179 407,383 358,330 342,196 356,163 333,242 525,147 490,70 402,239 467,227 316,179 346,353 432,278 265,234 371,217 509,294 383,163 442,397 296,134 379,435 350,313 491,92 326,131 380,243 379,183 314,350 382,248 366,433 288,198 327,397 441,351 444,156"/><polyline class="a1" points="676,307 436,349 514,335 637,185 529,305 444,336 526,311 502,230 576,432 494,351 611,200 504,309 581,257 586,359"/><polyline class="c3" points="509,805 348,902 345,900 396,925 396,887 291,925 366,961 313,943 507,906 253,839 557,849 401,864 286,899 333,964 476,725 414,942 399,961 427,879 502,852 376,865 298,887 349,971 262,890 395,729 368,960 392,854 489,846 325,933 424,766 425,771 219,831 497,770 235,891 446,958 301,819 606,788 485,916 530,812"/><polyline class="f1" points="379,827 533,698 233,660 274,786 403,516 377,813 407,573 424,743 410,460 161,804 404,665 230,711 331,494 433,606 283,832 161,610 289,707 442,734 486,739 296,676 309,604 230,830 229,627 357,637 306,774 289,628 431,628 390,638 302,804 353,562 556,635 605,795 223,733 538,790 241,693 444,597 391,697 268,726"/><polyline class="e3" points="463,554 374,762 558,557 492,548 387,717 529,642 487,547 563,618 462,650 522,586 603,659 289,595 426,590 671,493 645,551 318,618 595,473 512,773 451,479 378,792 514,573 289,643 502,551 243,571 463,667 393,843 502,612 545,515 459,784 348,659 446,515 592,718 553,647"/><polyline class="a5" points="547,312 601,393 569,319 602,464 635,437 613,390 603,286 640,202 523,331 570,331 614,269 591,390 593,201"/><polyline class="e5" points="553,416 495,442 612,643 436,502 604,681 516,630 517,818 380,653 645,487 658,655 273,864 511,626 625,559 253,486 451,560 516,529 557,654 493,458 321,514 506,490 258,501 629,602 547,496 453,632 397,648 522,662 572,605 455,655 596,673 415,687 589,636 545,617 561,563 639,612"/><polyline class="d3" points="224,550 219,806 255,644 133,565 168,659 201,722 232,533 188,684 185,639 199,458 293,665 175,559 182,734 548,464 181,811 250,428 280,543"/><polyline class="c2" points="335,845 308,849 520,785 379,832 520,769 513,771 511,786 530,774 525,859 598,741 441,780 598,769 397,921 432,739 412,784 419,910 385,795 434,929 449,725 379,856 474,875 302,823 427,749 343,945 379,915 408,844 506,697 374,811 524,743 399,953 441,838 447,846 469,846 464,871 289,950 443,804 560,856"/><polyline class="f2" points="270,816 454,728 278,784 253,850 196,748 527,687 381,600 241,539 495,566 500,714 413,642 518,567 310,781 394,596 482,638 125,763 341,641 256,887 232,465 528,687 223,817 316,822 515,712 325,825 269,831 355,601 537,673 503,807 389,709 298,529 274,735 334,745 531,721 448,652 281,735 301,881 293,620 316,690"/><polyline class="b5" points="310,287 387,250 375,201 294,201 262,189 325,202 393,272 332,408 389,438 432,255 459,254 394,199 122,226 334,302 321,160 184,289 319,296 382,160 316,172 226,345 277,332 363,214 368,183 217,384 396,243 360,274 352,162 318,241 418,278 381,229 310,208 487,206 340,257 458,234 360,375 425,333 271,217 301,252"/><polyline class="f4" points="521,749 395,713 285,683 307,748 301,800 339,605 172,852 310,752 395,771 385,631 276,832 258,545 186,662 164,567 511,593 124,776 294,782 376,675 366,620 328,669 431,735 314,713 396,683 452,715 243,640 130,738 624,788 405,659 254,833 577,730 460,667 418,721 303,660 307,618 354,654 170,620 193,846 369,635"/><polyline class="a3" points="511,363 592,299 557,294 552,176 601,273 617,258 520,323 593,329 584,391 588,192 565,313 561,309 497,288 626,266"/><polyline class="c2" points="364,914 353,841 440,933 392,837 413,825 379,847 345,916 383,835 366,928 407,874 549,809 425,849 513,806 252,934 411,834 361,802 457,890 413,800 351,939 408,877 283,824 367,865 428,953 420,958 417,876 374,900 505,729 424,690 633,811 428,848 294,923 287,821 382,964 481,739 350,866 325,863 387,934"/><polyline class="d1" points="205,574 266,841 270,649 250,824 140,727 216,668 183,806 181,713 605,502 257,766 165,603 268,523 211,410 562,492 315,545 228,881 180,617 208,705"/><polyline class="b4" points="269,284 283,240 495,253 366,379 381,266 385,411 300,195 340,332 308,219 320,314 433,357 285,256 287,133 387,314 301,262 427,243 425,203 282,225 447,270 382,412 269,207 365,241 478,151 242,339 308,317 345,340 429,271 338,286 339,171 470,385 394,327 425,280 231,236 422,175 358,212 427,324 480,86 348,224 311,171"/><polyline class="e4" points="437,550 349,583 508,618 529,576 493,490 611,616 634,621 580,483 302,506 422,472 313,591 650,505 571,658 587,691 585,571 363,568 473,555 497,646 67,299 337,656 546,614 559,630 419,641 553,649 658,572 435,540 583,668 510,560 541,576 276,648 558,727 461,590 522,563"/><polyline class="f2" points="298,664 368,759 271,654 215,794 177,874 407,630 177,829 231,664 216,522 259,582 406,732 418,773 258,627 264,638 357,778 407,652 229,730 312,682 259,635 365,578 537,762 327,670 333,710 401,843 180,519 502,789 280,822 186,434 322,805 581,677 331,579 382,636 378,764 260,878 276,836 332,654 339,575 558,699"/><polyline class="c0" points="518,897 457,919 547,897 358,881 336,866 310,860 296,855 499,907 389,735 511,744 381,818 432,874 294,925 429,803 519,743 441,882 528,837 454,893 444,746 377,874 540,868 404,866 229,902 300,820 269,814 456,795 521,775 437,860 324,769 372,851 284,808 403,940 506,881 367,827 470,870 342,944 375,897 373,883"/><polyline class="b1" points="414,230 331,350 430,201 365,194 423,207 332,299 265,352 457,213 403,269 378,284 379,253 391,256 315,247 233,384 438,302 394,295 353,198 296,344 321,283 241,365 413,327 425,175 368,215 295,405 502,181 232,296 228,336 358,446 355,111 443,141 368,224 294,327 355,319 385,243 331,367 257,291 438,303 282,244"/><polyline class="e5" points="453,575 414,472 549,606 337,511 529,492 499,568 331,553 410,624 626,748 467,624 548,540 542,741 535,559 505,528 590,481 609,720 481,474 379,676 360,747 517,685 495,614 330,592 93,220 485,612 507,614 451,531 613,825 404,597 465,621 386,611 348,635 395,528 436,403"/><polyline class="d4" points="261,797 179,515 164,686 209,865 182,767 216,837 281,574 168,837 198,598 289,656 250,681 580,493 202,775 240,749 221,537 247,647 263,499"/><polyline class="a2" points="623,347 608,239 567,457 605,197 537,272 629,199 597,227 478,265 502,325 495,311 537,180 645,283 654,177"/><polyline class="c1" points="482,709 457,794 250,943 426,898 379,798 459,931 242,906 404,912 543,771 204,849 304,893 503,765 340,739 407,752 329,953 461,860 623,767 373,914 487,930 312,862 338,925 358,837 421,726 520,925 246,823 364,790 424,834 323,924 487,839 569,772 277,941 427,951 512,854 311,896 457,820 411,956 411,867"/><polyline class="b3" points="419,189 319,199 393,254 278,264 259,196 413,195 391,285 292,265 312,245 403,214 406,213 292,229 353,348 435,190 217,231 382,199 410,262 419,226 531,299 402,227 234,304 105,274 368,243 369,432 495,97 265,230 380,473 343,286 283,150 292,260 422,357 267,295 316,272 360,221 483,317 271,169 293,186 197,234 453,296"/><polyline class="f3" points="553,737 278,841 311,699 360,656 315,933 268,653 277,731 224,628 221,697 461,656 419,667 462,654 229,633 169,749 306,686 412,764 241,798 218,725 273,692 524,772 434,532 222,722 401,581 279,810 518,734 372,579 342,734 484,760 405,704 257,772 543,667 294,668 226,623 320,496 451,780 337,725 247,767 162,778"/><polyline class="e2" points="366,547 303,594 648,645 388,641 466,544 631,737 614,607 264,740 474,584 483,605 612,623 469,542 579,821 439,644 560,561 446,630 413,556 419,590 647,562 490,585 513,723 534,755 365,507 412,535 429,788 91,328 567,541 439,516 550,831 400,587 475,524 606,626 640,629 532,570"/><polyline class="d3" points="184,755 191,576 263,753 248,784 286,533 192,770 176,820 68,500 142,728 232,791 197,591 210,688 203,539 163,690 265,565 583,474 266,613 274,557"/><polyline class="a1" points="554,461 645,367 583,429 513,351 611,354 551,298 625,441 614,321 503,468 629,334 544,410 657,221 582,383 609,217"/><polyline class="e0" points="411,481 344,555 659,708 484,552 450,451 644,528 433,500 561,724 366,623 542,560 642,816 525,500 376,614 494,582 427,519 426,543 598,680 541,730 581,548 305,596 538,462 566,819 51,302 518,618 375,687 353,661 435,509 538,588 330,428 572,603 558,619 533,642 402,793"/><polyline class="b1" points="402,261 381,234 292,257 418,190 292,126 312,233 320,220 373,335 388,301 308,176 344,187 209,289 335,272 307,207 313,325 385,216 349,355 230,252 355,353 417,356 432,208 251,188 539,262 351,329 366,262 416,329 416,279 326,225 355,299 568,215 417,244 295,360 457,263 237,292 471,195 322,132 274,301 419,198"/><polyline class="d2" points="135,705 168,616 171,671 261,530 208,710 256,606 156,504 161,603 336,462 209,450 166,665 643,550 171,851 188,651 211,659 196,858 153,831"/><polyline class="a0" points="482,342 609,282 604,270 487,361 619,237 570,224 639,394 558,417 646,338 583,208 597,142 558,410 620,199"/><polyline class="f1" points="317,688 190,553 502,705 534,785 384,634 185,651 476,754 308,596 182,564 264,766 427,628 461,723 216,727 251,829 440,497 288,855 601,799 269,632 234,568 274,901 283,759 334,740 470,608 367,708 281,732 372,751 322,628 459,647 269,703 342,963 223,678 420,755 422,668 232,620 205,646 324,638 364,599 249,766"/><polyline class="c1" points="453,779 396,926 402,839 387,896 576,681 393,837 416,834 512,727 293,963 503,707 539,807 425,929 442,959 376,943 318,863 481,715 260,919 427,972 433,770 322,837 437,737 295,914 425,923 461,804 420,776 518,803 442,790 513,855 346,906 498,835 482,796 528,832 473,892 477,742 290,865 292,744 585,842"/><polyline class="f1" points="242,631 536,742 166,678 400,608 535,789 332,825 364,746 270,822 274,777 550,741 267,732 227,537 398,531 264,592 598,743 237,617 261,813 376,540 317,583 359,764 237,749 551,778 436,738 326,679 249,754 302,577 344,587 319,766 278,706 310,681 190,633 503,598 322,589 586,660 229,629 490,657 308,671 359,737"/><polyline class="c0" points="618,710 439,780 429,915 254,841 383,827 391,864 261,874 403,880 346,851 517,813 394,931 405,860 330,873 345,902 375,821 382,973 423,692 338,787 491,923 445,773 359,817 499,762 411,781 436,817 461,806 382,693 274,891 329,807 427,828 436,947 346,843 390,751 332,768 464,718 378,940 379,900 358,913 372,932"/><polyline class="d2" points="168,809 175,610 229,878 252,577 198,645 254,757 137,746 157,652 198,769 173,663 219,558 217,479 153,779 259,606 227,666 225,601 138,624 244,696"/><polyline class="a3" points="592,200 601,342 500,344 615,323 576,186 523,240 604,335 537,417 487,319 620,201 592,409 497,296 634,411 562,282"/><polyline class="e5" points="620,509 398,625 599,526 416,530 390,653 451,547 530,576 404,585 467,581 388,622 589,701 449,668 511,497 486,422 336,504 378,522 561,589 504,502 497,677 284,634 634,560 584,577 514,540 374,572 489,635 491,785 604,663 297,537 624,482 361,733 353,548 320,541 394,713"/><polyline class="b2" points="400,346 439,349 229,293 203,310 381,465 311,153 307,230 477,139 376,162 445,330 355,173 416,365 405,325 410,177 444,245 350,295 291,145 419,372 573,265 349,196 272,134 436,479 365,100 296,424 272,155 247,396 357,209 355,430 360,365 295,203 483,411 480,336 406,201 477,277 305,233 385,199 411,187 333,308 365,210"/><polyline class="d1" points="245,546 196,534 255,722 248,838 222,722 168,690 213,805 225,584 212,588 223,562 157,736 141,763 178,648 160,612 275,561 208,635 218,630 184,586"/><polyline class="a2" points="615,382 686,288 620,235 476,431 583,207 662,209 590,314 605,178 623,353 505,473 591,346 654,203 588,229"/><polyline class="b2" points="252,257 361,296 419,153 401,282 312,334 596,163 367,166 305,146 301,345 403,209 322,262 127,249 367,228 342,313 268,238 434,275 359,287 354,279 306,244 223,468 204,288 355,126 378,254 286,256 430,465 294,450 428,200 388,326 407,327 390,231 407,454 284,165 201,317 315,400 396,282 586,158 356,313 371,285"/><polyline class="f2" points="285,744 301,822 267,923 204,746 390,778 223,651 244,590 403,705 149,747 242,889 205,805 322,677 284,703 340,766 423,681 144,641 324,646 260,857 425,783 309,574 313,566 189,616 542,769 313,925 416,638 365,608 367,729 344,799 414,628 378,727 431,652 388,722 400,624 172,789 277,800 436,568 448,735 254,671"/><polyline class="e0" points="598,636 343,545 390,540 508,468 466,543 638,686 637,704 433,851 437,651 613,626 617,595 425,501 475,482 341,495 297,515 470,593 460,506 658,679 604,635 502,467 606,753 411,659 522,480 426,594 540,504 452,650 386,643 595,639 517,519 340,593 589,643 450,735 338,555 461,596"/><polyline class="c4" points="352,839 441,891 361,800 482,897 350,866 426,761 537,789 225,867 520,748 371,883 536,741 319,844 473,934 478,845 443,916 524,788 564,830 516,770 518,805 526,836 452,902 515,826 585,884 385,851 381,912 420,832 426,872 420,801 447,842 498,812 440,897 372,850 357,926 513,721 448,895 438,775 266,925"/><polyline class="a1" points="677,235 617,368 584,224 621,237 535,332 531,270 501,327 463,319 545,321 557,430 564,237 543,310 547,379 500,313"/><polyline class="c5" points="442,818 496,750 317,855 494,823 532,752 369,908 449,827 273,912 393,940 490,739 430,866 404,886 389,860 482,922 607,829 561,901 506,757 215,915 450,918 344,845 370,921 324,769 415,776 295,836 405,826 489,824 319,749 393,787 443,894 487,870 256,718 348,945 440,822 464,914 392,733 278,796 310,940 348,949"/><polyline class="e0" points="221,612 336,583 437,482 414,770 284,534 553,615 548,697 612,810 659,486 419,649 522,600 348,541 465,552 445,702 448,658 584,483 540,492 584,722 445,610 516,589 648,626 541,460 503,516 627,703 402,567 447,785 414,667 479,704 489,598 421,544 343,650 479,514 536,501"/><polyline class="f2" points="246,696 241,831 604,694 551,792 479,642 414,456 510,731 480,699 521,613 406,598 514,767 444,815 201,535 477,846 331,730 380,774 308,624 305,716 371,681 331,636 190,706 296,630 311,671 314,646 493,755 286,649 527,809 258,643 315,434 238,636 528,603 350,660 290,809 327,648 605,631 405,798 437,705 537,770"/><polyline class="d1" points="591,499 171,797 182,877 180,613 178,548 207,887 200,794 120,570 332,534 219,636 286,625 156,685 171,425 203,633 258,677 192,809 175,574"/><polyline class="b1" points="179,257 296,205 313,341 387,160 354,333 524,171 161,179 344,339 264,256 347,156 412,216 326,188 381,287 475,316 320,194 333,266 324,259 291,169 425,279 211,167 266,310 288,508 287,276 479,235 291,209 429,205 334,355 388,247 370,159 374,247 358,350 272,235 449,230 294,117 284,376 412,302 363,120 409,221 270,376"/><polyline class="f2" points="436,616 214,698 480,565 411,524 232,481 240,765 588,738 566,707 578,609 281,714 287,589 329,641 411,681 345,616 473,745 324,800 589,727 485,572 487,733 265,801 324,755 469,677 497,735 428,688 572,669 537,800 393,672 491,722 405,631 481,739 169,639 181,622 370,539 501,647 535,763 567,617 232,752 316,751"/><polyline class="e0" points="393,528 600,674 495,610 553,544 639,569 43,423 548,664 605,528 631,506 399,593 409,606 605,594 581,549 436,517 520,625 587,471 607,610 425,551 540,591 609,760 483,610 452,556 441,472 521,592 470,662 402,647 557,456 469,607 635,578 407,476 556,540 424,529 295,581"/><polyline class="a2" points="600,320 548,292 621,308 607,227 625,159 649,207 633,245 603,220 500,378 645,204 633,328 593,202 580,236"/><polyline class="d2" points="208,701 263,868 309,674 237,864 198,519 201,735 302,464 206,444 167,796 252,600 199,646 164,690 236,555 196,877 240,664 197,573 162,719 346,603"/><polyline class="c5" points="344,768 378,738 462,918 431,932 562,891 343,852 344,811 456,742 288,908 400,969 251,888 552,887 477,749 410,868 277,877 349,871 376,944 478,920 528,871 441,834 521,882 426,783 373,820 492,744 367,896 456,861 380,908 472,864 506,814 365,929 369,876 308,881 395,835 413,891 470,765 299,946 406,733"/><polyline class="b2" points="318,259 384,202 381,237 430,249 381,153 347,315 374,221 341,249 390,261 363,321 426,210 353,176 409,350 385,261 402,315 327,334 356,251 240,241 548,196 342,278 269,156 355,301 402,319 372,140 309,295 137,169 371,166 421,477 360,202 265,274 322,185 371,288 221,353 316,217 365,401 207,356 374,204 347,195"/><polyline class="e4" points="474,598 586,746 369,600 622,581 589,566 603,774 341,663 603,530 521,568 470,568 570,572 474,550 403,674 602,543 325,542 350,632 425,637 438,600 577,569 342,632 542,698 536,639 277,528 424,587 475,528 351,567 586,588 432,609 475,479 409,599 464,569 665,644 460,597 576,635"/><polyline class="c1" points="397,918 345,941 541,786 258,843 342,884 376,867 362,879 507,820 318,705 497,747 323,828 344,744 372,748 449,872 314,798 351,931 447,872 293,852 411,795 372,737 462,871 580,825 470,809 495,776 498,855 438,835 286,882 360,844 487,753 288,889 280,868 302,954 415,784 534,779 473,789 449,915 412,825"/><polyline class="d3" points="197,720 189,756 150,781 232,847 193,689 225,590 210,763 255,565 202,605 182,729 206,472 215,706 190,838 125,640 149,689 351,481 223,613"/><polyline class="b2" points="302,394 319,210 336,335 225,218 181,215 486,152 320,333 385,288 551,231 364,381 414,180 297,266 398,442 363,312 365,283 360,297 413,407 337,323 418,266 402,197 327,280 326,316 383,287 288,257 396,199 360,253 600,196 335,395 253,216 359,332 402,353 385,153 404,315 457,225 332,255 286,152 366,179 432,177 344,288"/><polyline class="a0" points="486,299 652,259 617,432 443,474 557,290 549,286 596,195 566,168 571,237 605,406 520,278 484,221 634,205 686,259"/><polyline class="f3" points="591,725 294,856 437,624 375,766 434,578 475,710 497,785 232,640 366,646 485,600 364,586 223,760 209,760 324,668 320,598 277,733 432,694 215,631 247,729 273,716 191,631 286,730 360,763 372,600 325,694 369,667 186,584 176,789 183,670 327,733 419,531 330,576 520,782 250,644 450,655 291,699 216,797 399,675"/><polyline class="c1" points="410,954 341,946 448,956 317,908 363,951 357,922 288,913 545,886 281,835 452,749 255,906 377,883 553,889 305,725 485,780 580,882 445,856 371,853 322,921 452,811 360,885 471,750 266,899 281,848 472,867 219,859 537,711 324,869 473,760 465,882 323,924 529,679 480,789 364,877 550,782 306,946 469,762 513,769"/><polyline class="f2" points="191,817 418,638 294,603 360,574 429,726 398,773 268,616 302,604 406,687 289,889 380,692 351,640 269,535 259,839 418,552 315,687 268,733 471,712 263,583 334,567 546,630 375,650 307,893 431,731 327,721 239,848 308,851 488,720 485,686 267,730 537,801 389,770 427,783 334,694 435,689 544,756 234,581 437,772"/><polyline class="a3" points="593,428 537,323 506,258 628,403 594,200 597,171 676,235 574,226 547,267 600,298 502,390 488,335 638,342"/><polyline class="d2" points="201,684 568,501 172,607 227,639 200,771 166,802 202,696 560,516 211,836 585,516 128,625 212,702 233,688 218,777 220,675 216,776 303,590 145,654"/><polyline class="b3" points="346,292 399,182 417,178 279,234 273,162 289,241 447,210 374,191 327,308 334,155 415,300 417,253 283,197 415,232 325,325 350,329 368,177 338,410 549,244 245,222 442,232 474,196 367,263 414,206 279,368 404,386 337,276 365,437 226,301 466,440 423,288 322,213 360,415 321,468 429,143 329,356 343,381 374,255"/><polyline class="e0" points="264,592 553,570 475,591 403,644 569,548 450,542 419,557 496,590 524,480 446,647 494,608 421,609 551,674 495,631 649,669 422,743 281,787 432,572 579,643 586,565 339,643 31,396 550,684 368,826 594,611 575,653 469,571 435,586 536,736 59,299 275,625 393,540 331,464"/><polyline class="b3" points="272,232 456,341 317,189 447,180 445,232 476,295 311,165 342,387 347,330 328,231 332,371 305,238 408,279 338,171 374,233 288,272 468,201 398,117 339,278 233,217 422,164 319,221 415,248 294,346 536,127 298,309 440,298 315,245 96,199 315,121 361,311 365,144 297,208 363,411 425,233 325,259 309,405 357,176 392,152"/><polyline class="f2" points="337,599 331,617 320,645 473,695 375,611 454,789 294,694 350,709 243,659 235,827 400,524 347,627 501,723 544,698 347,767 163,740 556,727 393,633 298,781 335,571 577,738 286,809 175,743 509,796 262,570 452,711 193,617 300,597 388,646 328,680 176,602 313,648 229,612 234,742 476,621 408,535 264,647 247,649"/><polyline class="c1" points="501,881 621,740 318,835 426,775 460,687 460,764 414,876 332,961 458,940 450,765 321,879 392,931 364,869 414,853 502,771 387,889 456,825 416,723 296,957 329,811 365,890 546,926 443,918 367,914 403,827 505,847 350,828 294,832 472,940 494,730 416,828 374,742 505,908 541,780 241,916 489,675 513,893"/><polyline class="a5" points="650,207 620,221 544,313 599,378 539,327 656,228 627,264 443,288 570,282 588,264 581,328 466,323 551,308 633,274"/><polyline class="e2" points="585,695 546,616 402,769 381,551 387,582 340,455 413,556 452,617 350,602 469,557 632,557 376,515 625,587 557,562 628,736 440,544 535,597 374,588 642,583 369,575 443,595 306,540 496,544 557,600 343,732 549,651 655,557 599,695 443,522 427,585 469,567 498,553 466,579"/><polyline class="d4" points="150,589 233,790 279,611 137,629 142,636 178,517 224,736 135,738 151,762 250,565 223,815 163,599 220,649 305,612 220,823 538,460 235,605"/><polyline class="a5" points="568,239 605,333 565,393 652,232 442,367 622,317 564,356 568,410 563,325 529,268 514,257 555,333 534,298"/><polyline class="e2" points="416,700 613,538 602,545 500,655 394,517 606,570 424,575 575,691 637,701 586,524 581,524 557,584 644,541 474,785 514,542 566,575 373,645 635,598 75,322 422,594 398,495 461,587 469,492 477,580 468,678 602,627 450,581 320,538 282,584 668,595 416,583 579,658 545,460 449,775"/><polyline class="f5" points="214,730 246,715 409,695 541,715 294,733 528,761 144,601 548,821 239,785 452,662 510,726 268,731 481,793 380,637 381,703 342,610 367,641 270,744 465,633 407,568 316,664 498,692 321,595 431,581 481,733 276,709 266,659 333,791 362,505 263,614 395,529 311,646 324,758 299,579 248,664 335,757 227,815 328,549"/><polyline class="d1" points="236,761 199,601 215,354 465,466 186,847 489,500 244,608 257,452 217,422 225,833 135,440 174,512 132,669 262,715 200,732 212,657 185,756 142,542"/><polyline class="b1" points="336,244 431,247 381,368 320,141 421,344 310,151 428,341 334,301 370,360 400,250 285,262 366,316 261,416 354,414 316,264 318,207 407,161 417,225 303,186 288,325 359,292 327,500 382,304 312,160 412,365 341,301 205,189 419,232 279,143 450,297 467,111 345,314 393,252 268,208 372,272 294,342 334,235 410,359"/><polyline class="c1" points="588,758 527,866 387,786 496,812 438,815 408,938 348,896 471,928 429,857 386,829 372,959 378,829 592,760 411,900 314,890 498,867 451,828 389,815 543,886 599,790 561,711 473,938 325,978 321,835 237,849 359,797 327,797 401,885 459,926 405,863 352,888 451,869 333,968 530,806 367,822 621,729 457,909"/><polyline class="c2" points="303,934 362,870 529,742 249,891 396,918 415,760 328,925 370,910 532,851 503,891 404,919 295,917 351,921 360,887 379,780 499,932 345,963 511,889 319,893 412,835 538,878 422,935 418,792 532,885 458,931 438,951 481,943 466,665 487,868 613,735 328,768 317,850 399,914 436,713 394,817 474,827 397,813 436,820"/><polyline class="f3" points="419,693 362,657 532,678 327,802 245,773 276,952 234,767 186,665 246,754 368,670 471,748 251,759 384,763 261,692 292,736 503,753 362,647 187,779 237,650 344,644 477,562 593,734 160,757 241,619 408,626 498,733 345,690 306,695 381,667 318,757 439,855 180,849 419,577 451,696 169,564 281,715 435,527 126,653"/><polyline class="b1" points="448,334 354,246 271,252 441,327 78,244 136,233 287,326 419,314 492,354 259,143 438,142 268,262 455,314 286,268 442,189 305,167 320,290 331,252 320,384 395,245 218,252 518,189 402,337 224,255 266,319 433,394 351,321 383,219 358,513 492,256 404,188 418,107 303,233 238,306 363,203 192,230 296,206 267,293 443,128"/><polyline class="d5" points="216,663 160,616 218,558 137,758 176,485 159,711 600,483 195,765 163,709 167,817 159,790 223,822 200,838 146,608 263,817 195,776 583,488"/><polyline class="a2" points="556,433 630,225 617,168 539,328 593,328 520,331 608,166 434,284 656,190 558,260 541,325 541,389 491,352 546,326"/><polyline class="e0" points="458,604 404,553 322,649 503,553 350,600 497,531 465,494 598,599 441,551 495,572 582,739 490,627 501,615 433,456 621,665 356,570 290,554 618,594 261,603 439,609 568,658 563,763 438,641 470,611 356,788 526,675 453,795 549,694 396,585 540,574 445,616 375,540 561,636"/><polyline class="d5" points="208,652 148,794 190,638 185,799 191,879 517,529 590,546 144,499 237,459 183,599 221,799 261,863 199,781 270,612 132,568 201,415 261,815 192,814"/><polyline class="e1" points="594,548 410,607 522,590 629,703 422,567 279,642 398,596 434,494 398,506 274,610 627,674 361,482 324,510 641,640 347,554 375,527 449,540 492,620 592,485 509,558 480,560 575,519 644,564 362,584 354,710 618,533 79,386 537,501 481,539 400,583 380,494 416,633 376,778"/><polyline class="a1" points="643,194 704,284 537,309 564,249 485,406 664,360 587,224 660,236 457,323 483,306 533,294 500,300 525,297"/><polyline class="c4" points="398,713 555,917 394,949 474,842 615,818 542,896 459,839 293,839 379,795 352,935 359,732 392,863 619,852 415,868 345,810 490,815 265,930 459,888 579,750 296,927 391,819 604,864 557,728 373,686 473,866 429,839 343,892 410,932 348,932 393,890 333,792 510,732 441,771 483,934 416,916 242,926 467,757"/><polyline class="f0" points="354,637 362,710 250,813 347,686 229,866 193,737 480,596 187,700 351,528 213,866 271,772 387,612 445,664 187,666 201,540 235,831 481,741 231,748 286,570 164,699 360,511 508,688 323,787 281,660 350,610 204,786 489,578 229,821 531,734 335,727 363,732 284,707 415,526 317,739 316,718 330,675 263,724 270,641"/><polyline class="b4" points="402,206 328,233 419,251 363,247 356,174 330,180 556,207 497,92 300,240 575,204 370,366 117,207 294,226 324,480 356,276 391,195 217,248 245,357 285,253 313,412 435,269 324,346 392,191 251,236 428,94 445,222 362,358 377,166 557,304 386,271 380,208 467,143 378,264 424,270 356,356 347,253 299,171 534,180"/><polyline class="c3" points="547,790 555,827 345,901 284,901 462,746 393,841 492,729 512,786 363,854 458,772 471,827 400,932 443,951 432,940 567,819 500,853 558,777 393,846 363,862 485,877 242,848 424,780 391,849 466,796 296,951 575,903 416,891 466,810 237,724 583,795 476,762 352,902 462,882 355,754 353,898 349,809 491,889 413,859"/><polyline class="b0" points="461,450 217,227 476,276 369,412 364,454 454,333 359,266 480,81 368,279 194,373 398,222 340,344 60,296 332,329 357,310 344,143 355,317 341,243 322,220 381,376 288,180 241,175 273,174 390,226 483,319 314,131 352,418 394,297 346,263 418,241 453,259 352,324 273,262 324,312 350,327 325,118 374,259 373,323 317,308"/><polyline class="d2" points="131,549 175,844 237,665 180,705 230,823 200,567 274,408 228,674 202,507 176,721 288,547 192,439 187,814 194,670 225,448 195,720 258,826 215,601"/><polyline class="e2" points="507,609 405,654 375,577 407,555 502,587 397,507 664,652 488,642 618,624 337,593 533,578 401,507 542,508 621,606 492,781 647,598 466,462 506,657 574,528 563,568 522,825 344,464 493,489 588,573 393,778 406,483 423,609 570,607 489,616 533,518 571,705 410,460 520,496 497,568"/><polyline class="f3" points="473,785 286,896 218,811 253,780 246,520 440,673 284,647 351,537 252,850 447,739 337,784 327,620 275,539 238,687 284,787 333,689 290,793 332,621 390,623 385,715 330,705 282,674 156,826 492,746 378,601 435,672 367,662 217,839 521,691 550,730 307,793 292,715 352,737 455,705 335,717 339,594 382,575 140,733 274,648"/><polyline class="a3" points="568,327 592,219 569,344 629,269 636,238 550,293 612,213 571,357 571,262 679,207 490,290 606,238 668,223 654,196"/></g>
<text x="375.4" y="61.7" letter-spacing="1">Nhood</text>
<text x="375.4" y="94.2" letter-spacing="1">group</text>
<circle cx="380.2" cy="122.8" r="4.2" fill="#9E1245" stroke="#333" stroke-width="0.6"/>
<text x="398.1" y="132">1</text>
<circle cx="380.2" cy="160.2" r="4.2" fill="#FADB86" stroke="#333" stroke-width="0.6"/>
<text x="398.1" y="169.4">2</text>
<circle cx="380.2" cy="197.3" r="4.2" fill="#F26D43" stroke="#333" stroke-width="0.6"/>
<text x="398.1" y="206.5">3</text>
<circle cx="380.2" cy="234.6" r="4.2" fill="#DCE89A" stroke="#333" stroke-width="0.6"/>
<text x="398.1" y="243.8">4</text>
<circle cx="380.2" cy="271.7" r="4.2" fill="#5DB597" stroke="#333" stroke-width="0.6"/>
<text x="398.1" y="280.9">5</text>
<circle cx="380.2" cy="308.7" r="4.2" fill="#5552A3" stroke="#333" stroke-width="0.6"/>
<text x="398.1" y="317.9">6</text>
<text x="375.4" y="369.8" letter-spacing="1">Nhood</text>
<text x="375.4" y="400.4" letter-spacing="1">size</text>
<circle cx="380.2" cy="426.4" r="1.8" fill="#fff" stroke="#333" stroke-width="0.8"/>
<text x="398.1" y="435" letter-spacing="1.8">400</text>
<circle cx="380.2" cy="464.1" r="2.7" fill="#fff" stroke="#333" stroke-width="0.8"/>
<text x="398.1" y="472.7" letter-spacing="1.8">800</text>
<circle cx="380.2" cy="502.1" r="3.6" fill="#fff" stroke="#333" stroke-width="0.8"/>
<text x="398.1" y="510.7" letter-spacing="0.5">1,200</text>
<text x="515" y="32.5" class="pl">b</text>
<text x="638" y="61.7" style="fill:#8E2328">TiNK</text>
<line x1="729" y1="53" x2="701.4" y2="53" stroke="#3C5A78" stroke-width="1.8"/>
<path d="M696 53L707.2 48.5L703.6 53L707.2 57.5Z" fill="#3C5A78"/>
<text x="734.6" y="61.7" textLength="140.5" lengthAdjust="spacing">Enriched in</text>
<line x1="880.5" y1="53" x2="908.6" y2="53" stroke="#3C5A78" stroke-width="1.8"/>
<path d="M914 53L902.8 48.5L906.4 53L902.8 57.5Z" fill="#3C5A78"/>
<text x="917" y="61.7" style="fill:#7C7BB8" textLength="85" lengthAdjust="spacing">Ref-NK</text>
<line x1="599.1" y1="69.2" x2="599.1" y2="445.9" stroke="#333" stroke-width="1.5"/>
<line x1="598.4" y1="445.2" x2="980.3" y2="445.2" stroke="#333" stroke-width="1.5"/>
<line x1="606.6" y1="445.2" x2="606.6" y2="454.9" stroke="#333" stroke-width="1.5"/>
<text x="606.6" y="485.5" font-size="22.5" text-anchor="middle" letter-spacing="1">−6</text>
<line x1="677.8" y1="445.2" x2="677.8" y2="454.9" stroke="#333" stroke-width="1.5"/>
<text x="677.8" y="485.5" font-size="22.5" text-anchor="middle" letter-spacing="1">−4</text>
<line x1="748.9" y1="445.2" x2="748.9" y2="454.9" stroke="#333" stroke-width="1.5"/>
<text x="748.9" y="485.5" font-size="22.5" text-anchor="middle" letter-spacing="1">−2</text>
<line x1="820.1" y1="445.2" x2="820.1" y2="454.9" stroke="#333" stroke-width="1.5"/>
<text x="820.1" y="485.5" font-size="22.5" text-anchor="middle" letter-spacing="1">0</text>
<line x1="891.3" y1="445.2" x2="891.3" y2="454.9" stroke="#333" stroke-width="1.5"/>
<text x="891.3" y="485.5" font-size="22.5" text-anchor="middle" letter-spacing="1">2</text>
<line x1="962.5" y1="445.2" x2="962.5" y2="454.9" stroke="#333" stroke-width="1.5"/>
<text x="962.5" y="485.5" font-size="22.5" text-anchor="middle" letter-spacing="1">4</text>
<line x1="589.4" y1="109.8" x2="599.1" y2="109.8" stroke="#333" stroke-width="1.5"/>
<text x="577.5" y="117.8" font-size="22.5" text-anchor="end">6</text>
<line x1="589.4" y1="169" x2="599.1" y2="169" stroke="#333" stroke-width="1.5"/>
<text x="577.5" y="177" font-size="22.5" text-anchor="end">5</text>
<line x1="589.4" y1="228.5" x2="599.1" y2="228.5" stroke="#333" stroke-width="1.5"/>
<text x="577.5" y="236.5" font-size="22.5" text-anchor="end">4</text>
<line x1="589.4" y1="287.6" x2="599.1" y2="287.6" stroke="#333" stroke-width="1.5"/>
<text x="577.5" y="295.6" font-size="22.5" text-anchor="end">3</text>
<line x1="589.4" y1="346.8" x2="599.1" y2="346.8" stroke="#333" stroke-width="1.5"/>
<text x="577.5" y="354.8" font-size="22.5" text-anchor="end">2</text>
<line x1="589.4" y1="405.9" x2="599.1" y2="405.9" stroke="#333" stroke-width="1.5"/>
<text x="577.5" y="413.9" font-size="22.5" text-anchor="end">1</text>
<text x="790.5" y="522" text-anchor="middle" textLength="211" lengthAdjust="spacing">log(fold-change)</text>
<text transform="translate(539.5,256.7) rotate(-90)" text-anchor="middle" textLength="178" lengthAdjust="spacing">Nhood groups</text>
<defs>
<linearGradient id="bg6" gradientUnits="userSpaceOnUse" x1="606.6" y1="0" x2="962.5" y2="0"><stop offset="0.0000" stop-color="#7A1A1F"/><stop offset="0.1000" stop-color="#8C2E30"/><stop offset="0.2000" stop-color="#A85655"/><stop offset="0.3000" stop-color="#BC7B78"/><stop offset="0.4000" stop-color="#CB9692"/><stop offset="0.5000" stop-color="#DDB8B3"/><stop offset="0.5800" stop-color="#EBD6D2"/><stop offset="0.5817" stop-color="#EBD6D2"/><stop offset="0.5817" stop-color="#939598"/><stop offset="0.7671" stop-color="#939598"/><stop offset="0.7671" stop-color="#DDDBEC"/><stop offset="0.8200" stop-color="#C6C3E1"/><stop offset="0.9000" stop-color="#9F9CCD"/><stop offset="1.0000" stop-color="#8582BE"/></linearGradient>
<linearGradient id="bg5" gradientUnits="userSpaceOnUse" x1="606.6" y1="0" x2="962.5" y2="0"><stop offset="0.0000" stop-color="#7A1A1F"/><stop offset="0.1000" stop-color="#8C2E30"/><stop offset="0.2000" stop-color="#A85655"/><stop offset="0.3000" stop-color="#BC7B78"/><stop offset="0.4000" stop-color="#CB9692"/><stop offset="0.5000" stop-color="#DDB8B3"/><stop offset="0.5772" stop-color="#EBD5D1"/><stop offset="0.5772" stop-color="#939598"/><stop offset="0.7689" stop-color="#939598"/><stop offset="0.7689" stop-color="#DCDAEC"/><stop offset="0.8200" stop-color="#C6C3E1"/><stop offset="0.9000" stop-color="#9F9CCD"/><stop offset="1.0000" stop-color="#8582BE"/></linearGradient>
<linearGradient id="bg4" gradientUnits="userSpaceOnUse" x1="606.6" y1="0" x2="962.5" y2="0"><stop offset="0.0000" stop-color="#7A1A1F"/><stop offset="0.1000" stop-color="#8C2E30"/><stop offset="0.2000" stop-color="#A85655"/><stop offset="0.3000" stop-color="#BC7B78"/><stop offset="0.4000" stop-color="#CB9692"/><stop offset="0.5000" stop-color="#DDB8B3"/><stop offset="0.5772" stop-color="#EBD5D1"/><stop offset="0.5772" stop-color="#939598"/><stop offset="0.7735" stop-color="#939598"/><stop offset="0.7735" stop-color="#DAD8EB"/><stop offset="0.8200" stop-color="#C6C3E1"/><stop offset="0.9000" stop-color="#9F9CCD"/><stop offset="1.0000" stop-color="#8582BE"/></linearGradient>
<linearGradient id="bg3" gradientUnits="userSpaceOnUse" x1="606.6" y1="0" x2="962.5" y2="0"><stop offset="0.0000" stop-color="#7A1A1F"/><stop offset="0.1000" stop-color="#8C2E30"/><stop offset="0.2000" stop-color="#A85655"/><stop offset="0.3000" stop-color="#BC7B78"/><stop offset="0.4000" stop-color="#CB9692"/><stop offset="0.5000" stop-color="#DDB8B3"/><stop offset="0.5790" stop-color="#EBD6D2"/><stop offset="0.5790" stop-color="#939598"/><stop offset="0.7781" stop-color="#939598"/><stop offset="0.7781" stop-color="#D8D6EA"/><stop offset="0.8200" stop-color="#C6C3E1"/><stop offset="0.9000" stop-color="#9F9CCD"/><stop offset="1.0000" stop-color="#8582BE"/></linearGradient>
<linearGradient id="bg2" gradientUnits="userSpaceOnUse" x1="606.6" y1="0" x2="962.5" y2="0"><stop offset="0.0000" stop-color="#7A1A1F"/><stop offset="0.1000" stop-color="#8C2E30"/><stop offset="0.2000" stop-color="#A85655"/><stop offset="0.3000" stop-color="#BC7B78"/><stop offset="0.4000" stop-color="#CB9692"/><stop offset="0.5000" stop-color="#DDB8B3"/><stop offset="0.5772" stop-color="#EBD5D1"/><stop offset="0.5772" stop-color="#939598"/><stop offset="1.0000" stop-color="#939598"/></linearGradient>
</defs>
<path d="M812.6 108.9C814.7 108.2 820.2 107.8 825 106.9C829.8 106 835.8 105.1 841.2 103.3C846.7 101.6 852.6 98.5 857.5 96.2C862.4 93.9 867 91.4 870.5 89.7C874 88 875.1 86.7 878.6 85.8C882.1 84.9 887.6 83.7 891.6 84.2C895.7 84.6 899.5 86.7 903 88.4C906.5 90.1 909.5 92.3 912.7 94.2C916 96.2 918.7 98.3 922.5 100.1C926.3 101.9 931.2 104 935.5 105.3C939.8 106.6 945.1 107.3 948.5 107.9C951.8 108.5 954.4 108.4 955.6 108.9C956.8 109.4 956.8 110.3 955.6 110.8C954.4 111.3 951.8 111.2 948.5 111.8C945.1 112.4 939.8 113.1 935.5 114.4C931.2 115.7 926.3 117.8 922.5 119.6C918.7 121.4 916 123.5 912.7 125.4C909.5 127.4 906.5 129.6 903 131.3C899.5 133 895.7 135.1 891.6 135.5C887.6 136 882.1 134.8 878.6 133.9C875.1 133 874 131.7 870.5 130C867 128.3 862.4 125.8 857.5 123.5C852.6 121.2 846.7 118.1 841.2 116.3C835.8 114.6 829.8 113.7 825 112.8C820.2 111.9 814.7 111.5 812.6 110.8C810.6 110.2 810.6 109.5 812.6 108.9Z" fill="url(#bg6)" stroke="url(#bg6)" stroke-width="2" stroke-linejoin="round"/>
<path d="M764.9 168C766.8 167.5 771.6 167.5 776.2 167C780.8 166.6 787.6 166.1 792.5 165.4C797.4 164.8 802.1 164.2 805.5 163.1C808.9 162.1 809.9 160.8 812.6 159.2C815.4 157.7 818.6 155.8 821.7 154C824.9 152.3 827.7 150.3 831.5 148.8C835.3 147.4 840.2 146.5 844.5 145.6C848.8 144.7 853.2 143.4 857.5 143.3C861.8 143.3 866.8 144.1 870.5 145.3C874.2 146.4 877.2 148.5 879.6 150.1C882 151.8 882.8 153.7 885.1 155.3C887.4 157 890.3 158.4 893.2 159.9C896.2 161.4 899.7 163.3 903 164.4C906.2 165.6 910 166.2 912.7 166.7C915.4 167.3 918.2 167.1 919.2 167.7C920.3 168.3 920.3 169.7 919.2 170.3C918.2 170.9 915.4 170.7 912.7 171.3C910 171.8 906.2 172.4 903 173.5C899.7 174.7 896.2 176.6 893.2 178.1C890.3 179.6 887.4 181 885.1 182.6C882.8 184.3 882 186.2 879.6 187.8C877.2 189.5 874.2 191.6 870.5 192.7C866.8 193.9 861.8 194.7 857.5 194.7C853.2 194.6 848.8 193.3 844.5 192.4C840.2 191.5 835.3 190.6 831.5 189.1C827.7 187.7 824.9 185.7 821.7 183.9C818.6 182.2 815.4 180.3 812.6 178.7C809.9 177.2 808.9 175.9 805.5 174.8C802.1 173.8 797.4 173.2 792.5 172.6C787.6 171.9 780.8 171.4 776.2 170.9C771.6 170.5 766.8 170.5 764.9 170C763 169.5 763 168.5 764.9 168Z" fill="url(#bg5)" stroke="url(#bg5)" stroke-width="2" stroke-linejoin="round"/>
<path d="M755.1 227.5C757 227 761.9 226.9 766.5 226.2C771.1 225.5 777.3 224.4 782.7 223.3C788.2 222.2 794.7 221 799 219.7C803.3 218.4 805.8 217 808.7 215.5C811.7 213.9 813.6 211.8 816.9 210.3C820.1 208.8 824.2 207.2 828.2 206.4C832.3 205.5 837 205.6 841.2 205.1C845.5 204.5 849.3 203.1 853.6 203.1C857.9 203.2 863.1 204.2 867.2 205.4C871.4 206.6 875.6 208.5 878.6 210.3C881.6 212.1 882.7 214.5 885.1 216.1C887.6 217.7 889.7 218.7 893.2 220C896.8 221.4 901.4 223.2 906.2 224.2C911.1 225.3 918.2 226 922.5 226.5C926.8 227.1 930.6 227 932.2 227.5C933.9 228 933.9 229 932.2 229.4C930.6 229.9 926.8 229.9 922.5 230.4C918.2 231 911.1 231.6 906.2 232.7C901.4 233.8 896.8 235.6 893.2 236.9C889.7 238.3 887.6 239.2 885.1 240.8C882.7 242.4 881.6 244.9 878.6 246.7C875.6 248.5 871.4 250.4 867.2 251.5C863.1 252.7 857.9 253.8 853.6 253.8C849.3 253.9 845.5 252.4 841.2 251.9C837 251.3 832.3 251.4 828.2 250.6C824.2 249.7 820.1 248.2 816.9 246.7C813.6 245.2 811.7 243 808.7 241.5C805.8 239.9 803.3 238.5 799 237.2C794.7 235.9 788.2 234.8 782.7 233.7C777.3 232.6 771.1 231.4 766.5 230.7C761.9 230 757 230 755.1 229.4C753.2 228.9 753.2 228 755.1 227.5Z" fill="url(#bg4)" stroke="url(#bg4)" stroke-width="2" stroke-linejoin="round"/>
<path d="M771.4 286.6C774.9 286.2 786.5 286.1 792.5 285.7C798.5 285.2 803.3 284.9 807.1 284C810.9 283.2 812.3 281.9 815.2 280.5C818.2 279 821.7 277 825 275.3C828.2 273.5 831.5 271.6 834.7 270.1C838 268.6 841.2 267.5 844.5 266.2C847.7 264.9 850.4 262.5 854.2 262.3C858 262.1 863.2 263.6 867.2 264.9C871.3 266.2 875.4 268.2 878.6 270.1C881.9 271.9 884 274.2 886.7 275.9C889.4 277.7 891.9 279.1 894.9 280.5C897.8 281.8 900.6 283.1 904.6 284C908.7 285 916.8 285.5 919.2 286.3C921.7 287.1 921.7 288.1 919.2 288.9C916.8 289.7 908.7 290.2 904.6 291.2C900.6 292.2 897.8 293.4 894.9 294.8C891.9 296.1 889.4 297.6 886.7 299.3C884 301.1 881.9 303.3 878.6 305.2C875.4 307 871.3 309.1 867.2 310.4C863.2 311.7 858 313.2 854.2 313C850.4 312.8 847.7 310.4 844.5 309.1C841.2 307.8 838 306.7 834.7 305.2C831.5 303.7 828.2 301.7 825 300C821.7 298.2 818.2 296.2 815.2 294.8C812.3 293.3 810.9 292.1 807.1 291.2C803.3 290.3 798.5 290 792.5 289.6C786.5 289.1 774.9 289.1 771.4 288.6C767.8 288.1 767.8 287.1 771.4 286.6Z" fill="url(#bg3)" stroke="url(#bg3)" stroke-width="2" stroke-linejoin="round"/>
<path d="M647.9 345.8C651.4 345.3 662.2 345.2 669 344.8C675.8 344.4 683.1 344.2 688.5 343.5C693.9 342.9 697.2 342.2 701.5 340.9C705.8 339.6 710.2 337.7 714.5 335.7C718.8 333.8 723.2 331.1 727.5 329.2C731.8 327.4 736.2 326 740.5 324.7C744.8 323.3 749.2 321.1 753.5 321.1C757.8 321.1 762.7 323.6 766.5 324.7C770.3 325.7 772.7 326.6 776.2 327.3C779.8 327.9 784.1 327.7 787.6 328.6C791.1 329.4 794.1 331 797.4 332.5C800.6 334 804.1 336.3 807.1 337.7C810.1 339.1 812.3 340 815.2 340.9C818.2 341.8 821.2 342.3 825 342.9C828.8 343.5 833.9 344.1 838 344.5C842.1 344.9 847.5 344.9 849.4 345.5C851.3 346.1 851.3 347.5 849.4 348.1C847.5 348.7 842.1 348.6 838 349C833.9 349.5 828.8 350.1 825 350.7C821.2 351.3 818.2 351.7 815.2 352.6C812.3 353.5 810.1 354.5 807.1 355.9C804.1 357.3 800.6 359.5 797.4 361.1C794.1 362.6 791.1 364.1 787.6 365C784.1 365.8 779.8 365.6 776.2 366.3C772.7 366.9 770.3 367.8 766.5 368.9C762.7 369.9 757.8 372.4 753.5 372.4C749.2 372.4 744.8 370.2 740.5 368.9C736.2 367.5 731.8 366.2 727.5 364.3C723.2 362.5 718.8 359.8 714.5 357.8C710.2 355.9 705.8 353.9 701.5 352.6C697.2 351.3 693.9 350.7 688.5 350C683.1 349.4 675.8 349.1 669 348.7C662.2 348.3 651.4 348.2 647.9 347.7C644.4 347.3 644.4 346.3 647.9 345.8Z" fill="url(#bg2)" stroke="url(#bg2)" stroke-width="2" stroke-linejoin="round"/>
<circle cx="790.2" cy="109.8" r="1.7" fill="#E0BEB9"/>
<circle cx="797.4" cy="109.8" r="1.7" fill="#E3C6C1"/>
<circle cx="805.5" cy="109.8" r="1.7" fill="#E7CECA"/>
<circle cx="808.7" cy="109.8" r="1.7" fill="#E9D2CD"/>
<circle cx="950.1" cy="109.8" r="1.7" fill="#8E8BC3"/>
<circle cx="955" cy="109.8" r="1.7" fill="#8A87C1"/>
<circle cx="964.1" cy="109.8" r="1.7" fill="#8582BE"/>
<circle cx="885.1" cy="105.9" r="1.7" fill="#939598"/>
<circle cx="888.4" cy="114.7" r="1.7" fill="#939598"/>
<circle cx="893.2" cy="101.7" r="1.7" fill="#939598"/>
<circle cx="765.8" cy="169" r="1.7" fill="#D4A6A2"/>
<circle cx="916" cy="169" r="1.7" fill="#AEABD5"/>
<circle cx="756.7" cy="228.5" r="1.7" fill="#CF9D99"/>
<circle cx="758.4" cy="228.5" r="1.7" fill="#D09F9B"/>
<circle cx="924.1" cy="228.5" r="1.7" fill="#A3A0CF"/>
<circle cx="931.6" cy="228.5" r="1.7" fill="#9C99CB"/>
<circle cx="889.3" cy="221.3" r="1.7" fill="#939598"/>
<circle cx="884.5" cy="218.7" r="1.7" fill="#939598"/>
<circle cx="772.3" cy="287.6" r="1.7" fill="#D7ACA8"/>
<circle cx="777.9" cy="287.6" r="1.7" fill="#DAB2AD"/>
<circle cx="917.6" cy="287.6" r="1.7" fill="#ACA9D4"/>
<circle cx="886.7" cy="294.1" r="1.7" fill="#939598"/>
<circle cx="883.5" cy="296.1" r="1.7" fill="#939598"/>
<circle cx="890" cy="290.9" r="1.7" fill="#939598"/>
<circle cx="630" cy="346.8" r="1.7" fill="#86272A"/>
<circle cx="638.1" cy="346.8" r="1.7" fill="#8A2C2E"/>
<circle cx="640.4" cy="346.8" r="1.7" fill="#8B2D2F"/>
<circle cx="650.1" cy="346.8" r="1.7" fill="#923738"/>
<circle cx="655.3" cy="346.8" r="1.7" fill="#963D3E"/>
<circle cx="659.9" cy="346.8" r="1.7" fill="#9A4242"/>
<circle cx="665.7" cy="346.8" r="1.7" fill="#9F4848"/>
<circle cx="670.6" cy="346.8" r="1.7" fill="#A24E4E"/>
<circle cx="856.5" cy="346.8" r="1.7" fill="#939598"/>
<circle cx="851" cy="346.8" r="1.7" fill="#939598"/>
<g>
<circle cx="615.1" cy="405.9" r="2.5" fill="#7E1F23"/>
<circle cx="623.4" cy="406" r="2.5" fill="#832327"/>
<circle cx="627.8" cy="403.3" r="2.5" fill="#852629"/>
<circle cx="627.2" cy="408.5" r="2.5" fill="#842629"/>
<circle cx="631.5" cy="401" r="2.5" fill="#87282B"/>
<circle cx="632.2" cy="405.9" r="2.5" fill="#87282B"/>
<circle cx="632.1" cy="410.6" r="2.5" fill="#87282B"/>
<circle cx="636" cy="403.3" r="2.5" fill="#892B2D"/>
<circle cx="636" cy="408.5" r="2.5" fill="#892B2D"/>
<circle cx="640" cy="401.4" r="2.5" fill="#8B2D2F"/>
<circle cx="640.1" cy="405.6" r="2.5" fill="#8B2D2F"/>
<circle cx="640.2" cy="410.7" r="2.5" fill="#8B2D2F"/>
<circle cx="643.8" cy="398.5" r="2.5" fill="#8D3032"/>
<circle cx="644.4" cy="403.5" r="2.5" fill="#8E3032"/>
<circle cx="644.2" cy="408.5" r="2.5" fill="#8E3032"/>
<circle cx="644.2" cy="413.3" r="2.5" fill="#8E3032"/>
<circle cx="648" cy="396.7" r="2.5" fill="#913536"/>
<circle cx="648.1" cy="401.5" r="2.5" fill="#913536"/>
<circle cx="648.5" cy="405.7" r="2.5" fill="#913537"/>
<circle cx="647.8" cy="410.4" r="2.5" fill="#903436"/>
<circle cx="648.6" cy="415.3" r="2.5" fill="#913537"/>
<circle cx="652.3" cy="398.7" r="2.5" fill="#94393B"/>
<circle cx="652.2" cy="403.5" r="2.5" fill="#94393A"/>
<circle cx="652.1" cy="408.3" r="2.5" fill="#94393A"/>
<circle cx="652.3" cy="413.2" r="2.5" fill="#94393B"/>
<circle cx="656.5" cy="396.8" r="2.5" fill="#973E3F"/>
<circle cx="656.7" cy="401.5" r="2.5" fill="#973E3F"/>
<circle cx="656.5" cy="405.7" r="2.5" fill="#973E3F"/>
<circle cx="656.7" cy="410.9" r="2.5" fill="#973E3F"/>
<circle cx="656.7" cy="415.4" r="2.5" fill="#973E3F"/>
<circle cx="660.6" cy="393.9" r="2.5" fill="#9B4343"/>
<circle cx="660.7" cy="398.9" r="2.5" fill="#9B4343"/>
<circle cx="660.2" cy="403.3" r="2.5" fill="#9A4243"/>
<circle cx="660.8" cy="408.6" r="2.5" fill="#9B4343"/>
<circle cx="660" cy="413.2" r="2.5" fill="#9A4243"/>
<circle cx="660.3" cy="417.5" r="2.5" fill="#9A4243"/>
<circle cx="664.3" cy="392" r="2.5" fill="#9D4747"/>
<circle cx="664.9" cy="396.2" r="2.5" fill="#9E4848"/>
<circle cx="664.6" cy="400.9" r="2.5" fill="#9E4747"/>
<circle cx="664.7" cy="405.8" r="2.5" fill="#9E4747"/>
<circle cx="664.9" cy="410.9" r="2.5" fill="#9E4848"/>
<circle cx="664.5" cy="415.7" r="2.5" fill="#9E4747"/>
<circle cx="664.3" cy="419.8" r="2.5" fill="#9D4747"/>
<circle cx="668.7" cy="389.1" r="2.5" fill="#A14C4C"/>
<circle cx="668.3" cy="394.1" r="2.5" fill="#A14B4B"/>
<circle cx="668.7" cy="398.6" r="2.5" fill="#A14C4C"/>
<circle cx="668.2" cy="403.8" r="2.5" fill="#A04B4B"/>
<circle cx="668.4" cy="408.6" r="2.5" fill="#A14B4B"/>
<circle cx="669" cy="412.9" r="2.5" fill="#A14C4C"/>
<circle cx="668.6" cy="417.7" r="2.5" fill="#A14C4B"/>
<circle cx="668.7" cy="422.5" r="2.5" fill="#A14C4C"/>
<circle cx="672.8" cy="387.1" r="2.5" fill="#A45050"/>
<circle cx="673.1" cy="391.8" r="2.5" fill="#A45150"/>
<circle cx="672.6" cy="396.6" r="2.5" fill="#A45050"/>
<circle cx="672.4" cy="401.1" r="2.5" fill="#A4504F"/>
<circle cx="673.2" cy="405.9" r="2.5" fill="#A45150"/>
<circle cx="672.7" cy="410.3" r="2.5" fill="#A45050"/>
<circle cx="672.6" cy="415.4" r="2.5" fill="#A45050"/>
<circle cx="672.2" cy="420.1" r="2.5" fill="#A4504F"/>
<circle cx="672.8" cy="424.5" r="2.5" fill="#A45050"/>
<circle cx="676.9" cy="389.4" r="2.5" fill="#A75554"/>
<circle cx="677" cy="394" r="2.5" fill="#A75554"/>
<circle cx="677" cy="399" r="2.5" fill="#A75554"/>
<circle cx="676.3" cy="403.3" r="2.5" fill="#A75454"/>
<circle cx="677" cy="408.6" r="2.5" fill="#A75554"/>
<circle cx="676.6" cy="413" r="2.5" fill="#A75554"/>
<circle cx="676.9" cy="417.6" r="2.5" fill="#A75554"/>
<circle cx="676.7" cy="422.3" r="2.5" fill="#A75554"/>
<circle cx="680.8" cy="387.1" r="2.5" fill="#AA5958"/>
<circle cx="680.7" cy="391.7" r="2.5" fill="#AA5958"/>
<circle cx="681.2" cy="396.2" r="2.5" fill="#AA5A58"/>
<circle cx="681" cy="401.4" r="2.5" fill="#AA5958"/>
<circle cx="680.7" cy="405.7" r="2.5" fill="#AA5958"/>
<circle cx="681.2" cy="410.5" r="2.5" fill="#AA5A58"/>
<circle cx="680.6" cy="415.3" r="2.5" fill="#AA5958"/>
<circle cx="681.1" cy="419.8" r="2.5" fill="#AA5958"/>
<circle cx="680.7" cy="424.7" r="2.5" fill="#AA5958"/>
<circle cx="685.3" cy="384.7" r="2.5" fill="#AC5E5C"/>
<circle cx="685.3" cy="389.2" r="2.5" fill="#AC5E5C"/>
<circle cx="684.8" cy="394.2" r="2.5" fill="#AC5D5C"/>
<circle cx="685.4" cy="398.8" r="2.5" fill="#AC5E5C"/>
<circle cx="684.7" cy="403.3" r="2.5" fill="#AC5D5C"/>
<circle cx="685" cy="408.1" r="2.5" fill="#AC5E5C"/>
<circle cx="685.3" cy="413.2" r="2.5" fill="#AC5E5C"/>
<circle cx="684.7" cy="417.6" r="2.5" fill="#AC5D5C"/>
<circle cx="685.3" cy="422.5" r="2.5" fill="#AC5E5C"/>
<circle cx="685.3" cy="427" r="2.5" fill="#AC5E5C"/>
<circle cx="688.7" cy="382.2" r="2.5" fill="#AE6160"/>
<circle cx="689.4" cy="386.9" r="2.5" fill="#AF6260"/>
<circle cx="688.9" cy="391.7" r="2.5" fill="#AE6260"/>
<circle cx="689" cy="396.4" r="2.5" fill="#AE6260"/>
<circle cx="689.5" cy="401" r="2.5" fill="#AF6261"/>
<circle cx="688.6" cy="406.2" r="2.5" fill="#AE6160"/>
<circle cx="689.5" cy="410.9" r="2.5" fill="#AF6260"/>
<circle cx="689" cy="415.6" r="2.5" fill="#AE6260"/>
<circle cx="689.5" cy="419.9" r="2.5" fill="#AF6261"/>
<circle cx="689.3" cy="425" r="2.5" fill="#AE6260"/>
<circle cx="689.2" cy="429.5" r="2.5" fill="#AE6260"/>
<circle cx="693" cy="384.6" r="2.5" fill="#B16664"/>
<circle cx="692.9" cy="389.1" r="2.5" fill="#B16664"/>
<circle cx="693.3" cy="394" r="2.5" fill="#B16664"/>
<circle cx="693.5" cy="398.6" r="2.5" fill="#B16664"/>
<circle cx="693.6" cy="403.7" r="2.5" fill="#B16665"/>
<circle cx="693.6" cy="408.5" r="2.5" fill="#B16665"/>
<circle cx="693.6" cy="413" r="2.5" fill="#B16665"/>
<circle cx="692.7" cy="417.9" r="2.5" fill="#B06664"/>
<circle cx="692.9" cy="422.3" r="2.5" fill="#B06664"/>
<circle cx="693.3" cy="427.1" r="2.5" fill="#B16664"/>
<circle cx="697.2" cy="382.6" r="2.5" fill="#B36A68"/>
<circle cx="697.4" cy="387" r="2.5" fill="#B36A68"/>
<circle cx="697" cy="392" r="2.5" fill="#B36A68"/>
<circle cx="697.2" cy="396.7" r="2.5" fill="#B36A68"/>
<circle cx="697.1" cy="401" r="2.5" fill="#B36A68"/>
<circle cx="697.3" cy="406.1" r="2.5" fill="#B36A68"/>
<circle cx="696.9" cy="410.8" r="2.5" fill="#B36A68"/>
<circle cx="697.7" cy="415.5" r="2.5" fill="#B36B69"/>
<circle cx="697.6" cy="419.7" r="2.5" fill="#B36B68"/>
<circle cx="697.4" cy="425" r="2.5" fill="#B36A68"/>
<circle cx="696.8" cy="429.3" r="2.5" fill="#B36A68"/>
<circle cx="701.1" cy="384.7" r="2.5" fill="#B56E6C"/>
<circle cx="701.3" cy="389.4" r="2.5" fill="#B56E6C"/>
<circle cx="701.6" cy="393.8" r="2.5" fill="#B56F6C"/>
<circle cx="700.9" cy="398.6" r="2.5" fill="#B56E6C"/>
<circle cx="701" cy="403.3" r="2.5" fill="#B56E6C"/>
<circle cx="701.8" cy="408.5" r="2.5" fill="#B66F6D"/>
<circle cx="701" cy="413" r="2.5" fill="#B56E6C"/>
<circle cx="701.2" cy="417.6" r="2.5" fill="#B56E6C"/>
<circle cx="701.2" cy="422.5" r="2.5" fill="#B56E6C"/>
<circle cx="701.4" cy="427" r="2.5" fill="#B56F6C"/>
<circle cx="705.2" cy="382.2" r="2.5" fill="#B77270"/>
<circle cx="705.1" cy="387.1" r="2.5" fill="#B77270"/>
<circle cx="705.7" cy="391.7" r="2.5" fill="#B87370"/>
<circle cx="705.1" cy="396.3" r="2.5" fill="#B77270"/>
<circle cx="705.3" cy="401.3" r="2.5" fill="#B77370"/>
<circle cx="705.7" cy="405.8" r="2.5" fill="#B87371"/>
<circle cx="705.8" cy="410.7" r="2.5" fill="#B87371"/>
<circle cx="705.4" cy="415.3" r="2.5" fill="#B87370"/>
<circle cx="705.5" cy="420.2" r="2.5" fill="#B87370"/>
<circle cx="705.4" cy="424.9" r="2.5" fill="#B87370"/>
<circle cx="705.4" cy="429.3" r="2.5" fill="#B87370"/>
<circle cx="709.6" cy="384.8" r="2.5" fill="#BA7774"/>
<circle cx="709.1" cy="389.4" r="2.5" fill="#BA7774"/>
<circle cx="709.5" cy="394.4" r="2.5" fill="#BA7774"/>
<circle cx="710" cy="398.8" r="2.5" fill="#BA7775"/>
<circle cx="709.9" cy="403.7" r="2.5" fill="#BA7775"/>
<circle cx="709.3" cy="408.2" r="2.5" fill="#BA7774"/>
<circle cx="709.2" cy="413.2" r="2.5" fill="#BA7774"/>
<circle cx="709.7" cy="417.9" r="2.5" fill="#BA7774"/>
<circle cx="709.8" cy="422.5" r="2.5" fill="#BA7775"/>
<circle cx="709.8" cy="427.2" r="2.5" fill="#BA7774"/>
<circle cx="713.3" cy="387.1" r="2.5" fill="#BC7B78"/>
<circle cx="713.2" cy="391.5" r="2.5" fill="#BC7B78"/>
<circle cx="713.9" cy="396.2" r="2.5" fill="#BC7B78"/>
<circle cx="713.3" cy="400.9" r="2.5" fill="#BC7B78"/>
<circle cx="714" cy="405.7" r="2.5" fill="#BC7C78"/>
<circle cx="713.2" cy="410.8" r="2.5" fill="#BC7B78"/>
<circle cx="713.3" cy="415.6" r="2.5" fill="#BC7B78"/>
<circle cx="713.8" cy="420.3" r="2.5" fill="#BC7B78"/>
<circle cx="714.1" cy="424.8" r="2.5" fill="#BC7C79"/>
<circle cx="718" cy="389.1" r="2.5" fill="#BE7F7B"/>
<circle cx="718" cy="394.1" r="2.5" fill="#BE7F7B"/>
<circle cx="718" cy="398.6" r="2.5" fill="#BE7E7B"/>
<circle cx="718" cy="403.8" r="2.5" fill="#BE7F7B"/>
<circle cx="717.3" cy="408.2" r="2.5" fill="#BE7E7B"/>
<circle cx="717.8" cy="413.2" r="2.5" fill="#BE7E7B"/>
<circle cx="717.5" cy="417.5" r="2.5" fill="#BE7E7B"/>
<circle cx="717.5" cy="422.5" r="2.5" fill="#BE7E7B"/>
<circle cx="722.1" cy="391.7" r="2.5" fill="#C0827E"/>
<circle cx="721.7" cy="396.4" r="2.5" fill="#C0817E"/>
<circle cx="721.7" cy="401.1" r="2.5" fill="#C0817E"/>
<circle cx="721.4" cy="405.9" r="2.5" fill="#BF817E"/>
<circle cx="722.3" cy="410.6" r="2.5" fill="#C0827F"/>
<circle cx="722.1" cy="415.1" r="2.5" fill="#C0827E"/>
<circle cx="722" cy="420.2" r="2.5" fill="#C0827E"/>
<circle cx="726.1" cy="389.4" r="2.5" fill="#C18581"/>
<circle cx="725.9" cy="394.2" r="2.5" fill="#C18581"/>
<circle cx="726.3" cy="398.6" r="2.5" fill="#C18581"/>
<circle cx="725.5" cy="403.7" r="2.5" fill="#C18481"/>
<circle cx="726.3" cy="408.3" r="2.5" fill="#C18581"/>
<circle cx="725.9" cy="413.1" r="2.5" fill="#C18581"/>
<circle cx="725.6" cy="417.5" r="2.5" fill="#C18481"/>
<circle cx="725.6" cy="422.5" r="2.5" fill="#C18481"/>
<circle cx="729.8" cy="391.6" r="2.5" fill="#C38884"/>
<circle cx="730.2" cy="396.8" r="2.5" fill="#C38884"/>
<circle cx="729.8" cy="401.3" r="2.5" fill="#C38784"/>
<circle cx="729.9" cy="406.1" r="2.5" fill="#C38884"/>
<circle cx="730.1" cy="410.5" r="2.5" fill="#C38884"/>
<circle cx="729.8" cy="415" r="2.5" fill="#C38784"/>
<circle cx="730" cy="420" r="2.5" fill="#C38884"/>
<circle cx="733.8" cy="389.3" r="2.5" fill="#C58B87"/>
<circle cx="734" cy="394.3" r="2.5" fill="#C58B87"/>
<circle cx="733.8" cy="399.2" r="2.5" fill="#C58A87"/>
<circle cx="734.1" cy="403.6" r="2.5" fill="#C58B87"/>
<circle cx="734.1" cy="408.5" r="2.5" fill="#C58B87"/>
<circle cx="734.4" cy="413" r="2.5" fill="#C58B87"/>
<circle cx="734.1" cy="417.8" r="2.5" fill="#C58B87"/>
<circle cx="734.5" cy="422.3" r="2.5" fill="#C58B87"/>
<circle cx="738.4" cy="387.4" r="2.5" fill="#C78E8A"/>
<circle cx="738.2" cy="391.6" r="2.5" fill="#C68E8A"/>
<circle cx="738" cy="396.6" r="2.5" fill="#C68E8A"/>
<circle cx="738.4" cy="401.5" r="2.5" fill="#C78E8A"/>
<circle cx="738.6" cy="405.7" r="2.5" fill="#C78E8A"/>
<circle cx="737.9" cy="410.5" r="2.5" fill="#C68E8A"/>
<circle cx="737.9" cy="415.5" r="2.5" fill="#C68E8A"/>
<circle cx="738.6" cy="420.3" r="2.5" fill="#C78E8A"/>
<circle cx="738" cy="425" r="2.5" fill="#C68E8A"/>
<circle cx="742.1" cy="389.4" r="2.5" fill="#C8918D"/>
<circle cx="742.5" cy="393.9" r="2.5" fill="#C8918D"/>
<circle cx="741.9" cy="399.1" r="2.5" fill="#C8918D"/>
<circle cx="742.1" cy="403.5" r="2.5" fill="#C8918D"/>
<circle cx="742.4" cy="408.4" r="2.5" fill="#C8918D"/>
<circle cx="741.8" cy="412.9" r="2.5" fill="#C8918D"/>
<circle cx="742.3" cy="417.7" r="2.5" fill="#C8918D"/>
<circle cx="742" cy="422.5" r="2.5" fill="#C8918D"/>
<circle cx="746.9" cy="391.7" r="2.5" fill="#CA9490"/>
<circle cx="746.5" cy="396.2" r="2.5" fill="#CA9490"/>
<circle cx="746.2" cy="401.3" r="2.5" fill="#CA9490"/>
<circle cx="746" cy="406.2" r="2.5" fill="#CA9490"/>
<circle cx="746.8" cy="410.4" r="2.5" fill="#CA9490"/>
<circle cx="746.8" cy="415.3" r="2.5" fill="#CA9490"/>
<circle cx="746.7" cy="420.2" r="2.5" fill="#CA9490"/>
<circle cx="750.3" cy="394.2" r="2.5" fill="#CC9793"/>
<circle cx="750.7" cy="399" r="2.5" fill="#CC9894"/>
<circle cx="750.3" cy="403.7" r="2.5" fill="#CC9793"/>
<circle cx="751" cy="408.4" r="2.5" fill="#CC9894"/>
<circle cx="750.5" cy="412.7" r="2.5" fill="#CC9893"/>
<circle cx="750.5" cy="417.6" r="2.5" fill="#CC9793"/>
<circle cx="754.8" cy="391.9" r="2.5" fill="#CE9C97"/>
<circle cx="754.7" cy="396.3" r="2.5" fill="#CE9B97"/>
<circle cx="754.7" cy="401.3" r="2.5" fill="#CE9C97"/>
<circle cx="754.3" cy="406.2" r="2.5" fill="#CE9B97"/>
<circle cx="754.8" cy="410.4" r="2.5" fill="#CE9C97"/>
<circle cx="755" cy="415.1" r="2.5" fill="#CE9C98"/>
<circle cx="754.4" cy="420.2" r="2.5" fill="#CE9B97"/>
<circle cx="758.8" cy="394.2" r="2.5" fill="#D09F9B"/>
<circle cx="758.8" cy="398.8" r="2.5" fill="#D09F9B"/>
<circle cx="758.5" cy="403.3" r="2.5" fill="#D09F9B"/>
<circle cx="758.3" cy="408.4" r="2.5" fill="#D09F9B"/>
<circle cx="758.9" cy="413" r="2.5" fill="#D0A09B"/>
<circle cx="758.9" cy="417.6" r="2.5" fill="#D0A09B"/>
<circle cx="762.6" cy="396.4" r="2.5" fill="#D2A39F"/>
<circle cx="763.2" cy="400.9" r="2.5" fill="#D2A49F"/>
<circle cx="762.8" cy="405.8" r="2.5" fill="#D2A39F"/>
<circle cx="763.1" cy="410.5" r="2.5" fill="#D2A39F"/>
<circle cx="762.6" cy="415.3" r="2.5" fill="#D2A39F"/>
<circle cx="766.9" cy="399" r="2.5" fill="#D4A7A3"/>
<circle cx="766.7" cy="403.8" r="2.5" fill="#D4A7A3"/>
<circle cx="766.5" cy="408.1" r="2.5" fill="#D4A7A2"/>
<circle cx="766.5" cy="412.7" r="2.5" fill="#D4A7A2"/>
<circle cx="771.3" cy="401.4" r="2.5" fill="#D6ABA7"/>
<circle cx="770.7" cy="405.7" r="2.5" fill="#D6ABA6"/>
<circle cx="770.9" cy="410.8" r="2.5" fill="#D6ABA6"/>
<circle cx="775.4" cy="403.7" r="2.5" fill="#D8AFAB"/>
<circle cx="775.2" cy="408" r="2.5" fill="#D8AFAA"/>
<circle cx="779.1" cy="405.7" r="2.5" fill="#DAB3AE"/>
<circle cx="783.3" cy="403.6" r="2.5" fill="#DCB7B2"/>
<circle cx="783" cy="408.1" r="2.5" fill="#DCB7B2"/>
<circle cx="787.6" cy="405.6" r="2.5" fill="#DFBBB6"/>
<circle cx="795.8" cy="406.2" r="2.5" fill="#E3C4BF"/>
<circle cx="804.2" cy="405.8" r="2.5" fill="#E7CDC8"/>
</g>
<circle cx="812" cy="405.3" r="2.2" fill="#939598"/>
<circle cx="818.8" cy="405.3" r="2.2" fill="#939598"/>
<text x="1051" y="33" class="pl">c</text>
<rect x="1086" y="39.8" width="23.8" height="23" fill="#0673B3"/>
<text x="1123.5" y="60.6">CD56<tspan dy="-11" font-size="19" letter-spacing="0.9">bright</tspan></text>
<rect x="1288" y="39.8" width="23.8" height="23" fill="#D92231"/>
<text x="1325" y="60.6">Early CD56<tspan dy="-11" font-size="19" letter-spacing="0.9">dim</tspan></text>
<rect x="1538.2" y="39.8" width="23.8" height="23" fill="#139B5A"/>
<text x="1575" y="60.6">Int. CD56<tspan dy="-11" font-size="19" letter-spacing="0.9">dim</tspan></text>
<rect x="1766.7" y="39.8" width="23.8" height="23" fill="#D37AAB"/>
<text x="1804" y="60.6">Late CD56<tspan dy="-11" font-size="19" letter-spacing="0.9">dim</tspan></text>
<rect x="2009" y="39.8" width="23.8" height="23" fill="#EC6F35"/>
<text x="2048.8" y="60.6">Adaptive</text>
<text x="1218.5" y="107" text-anchor="middle" textLength="97.2" lengthAdjust="spacing">Group 1</text>
<path d="M1218.5 202.8L1159.4 153.2A77.2 77.2 0 1 0 1281.7 158.4Z" fill="#0673B3" stroke="#0673B3" stroke-width="0.5"/>
<path d="M1218.5 202.8L1281.7 158.4A77.2 77.2 0 0 0 1244.4 130.1Z" fill="#D92231" stroke="#D92231" stroke-width="0.5"/>
<path d="M1218.5 202.8L1244.4 130.1A77.2 77.2 0 0 0 1171 142Z" fill="#139B4F" stroke="#139B4F" stroke-width="0.5"/>
<path d="M1218.5 202.8L1171 142A77.2 77.2 0 0 0 1159.6 152.9Z" fill="#D37AAB" stroke="#D37AAB" stroke-width="0.5"/>
<path d="M1218.5 202.8L1159.6 152.9A77.2 77.2 0 0 0 1159.4 153.2Z" fill="#EC7D35" stroke="#EC7D35" stroke-width="0.5"/>
<text x="1377.3" y="107" text-anchor="middle" textLength="102" lengthAdjust="spacing">Group 2</text>
<path d="M1377.3 202.8L1318.2 153.2A77.2 77.2 0 1 0 1406.5 131.3Z" fill="#0673B3" stroke="#0673B3" stroke-width="0.5"/>
<path d="M1377.3 202.8L1406.5 131.3A77.2 77.2 0 0 0 1350.3 130.5Z" fill="#D92231" stroke="#D92231" stroke-width="0.5"/>
<path d="M1377.3 202.8L1350.3 130.5A77.2 77.2 0 0 0 1320.8 150.1Z" fill="#139B4F" stroke="#139B4F" stroke-width="0.5"/>
<path d="M1377.3 202.8L1320.8 150.1A77.2 77.2 0 0 0 1318.5 152.8Z" fill="#D37AAB" stroke="#D37AAB" stroke-width="0.5"/>
<path d="M1377.3 202.8L1318.5 152.8A77.2 77.2 0 0 0 1318.2 153.2Z" fill="#EC7D35" stroke="#EC7D35" stroke-width="0.5"/>
<text x="1536" y="107" text-anchor="middle" textLength="102" lengthAdjust="spacing">Group 3</text>
<path d="M1536 202.8L1476.9 153.2A77.2 77.2 0 0 0 1472.1 159.5Z" fill="#0673B3" stroke="#0673B3" stroke-width="0.5"/>
<path d="M1536 202.8L1472.1 159.5A77.2 77.2 0 0 0 1461.2 221.7Z" fill="#D92231" stroke="#D92231" stroke-width="0.5"/>
<path d="M1536 202.8L1461.2 221.7A77.2 77.2 0 1 0 1553.5 127.6Z" fill="#139B4F" stroke="#139B4F" stroke-width="0.5"/>
<path d="M1536 202.8L1553.5 127.6A77.2 77.2 0 0 0 1479.5 150.1Z" fill="#D37AAB" stroke="#D37AAB" stroke-width="0.5"/>
<path d="M1536 202.8L1479.5 150.1A77.2 77.2 0 0 0 1476.9 153.2Z" fill="#EC7D35" stroke="#EC7D35" stroke-width="0.5"/>
<text x="1694.8" y="107" text-anchor="middle" textLength="102" lengthAdjust="spacing">Group 4</text>
<path d="M1694.8 202.8L1635.7 153.2A77.2 77.2 0 0 0 1620.2 182.8Z" fill="#0673B3" stroke="#0673B3" stroke-width="0.5"/>
<path d="M1694.8 202.8L1620.2 182.8A77.2 77.2 0 0 0 1662.2 272.8Z" fill="#D92231" stroke="#D92231" stroke-width="0.5"/>
<path d="M1694.8 202.8L1662.2 272.8A77.2 77.2 0 0 0 1770.5 187.5Z" fill="#139B4F" stroke="#139B4F" stroke-width="0.5"/>
<path d="M1694.8 202.8L1770.5 187.5A77.2 77.2 0 0 0 1663.5 132.2Z" fill="#D37AAB" stroke="#D37AAB" stroke-width="0.5"/>
<path d="M1694.8 202.8L1663.5 132.2A77.2 77.2 0 0 0 1635.7 153.2Z" fill="#EC7D35" stroke="#EC7D35" stroke-width="0.5"/>
<text x="1853.5" y="107" text-anchor="middle" textLength="102" lengthAdjust="spacing">Group 5</text>
<path d="M1853.5 202.8L1794.4 153.2A77.2 77.2 0 0 0 1780.1 178.8Z" fill="#0673B3" stroke="#0673B3" stroke-width="0.5"/>
<path d="M1853.5 202.8L1780.1 178.8A77.2 77.2 0 0 0 1787.7 243.1Z" fill="#D92231" stroke="#D92231" stroke-width="0.5"/>
<path d="M1853.5 202.8L1787.7 243.1A77.2 77.2 0 1 0 1830.2 129.2Z" fill="#139B4F" stroke="#139B4F" stroke-width="0.5"/>
<path d="M1853.5 202.8L1830.2 129.2A77.2 77.2 0 0 0 1796.9 150.3Z" fill="#D37AAB" stroke="#D37AAB" stroke-width="0.5"/>
<path d="M1853.5 202.8L1796.9 150.3A77.2 77.2 0 0 0 1794.4 153.2Z" fill="#EC7D35" stroke="#EC7D35" stroke-width="0.5"/>
<text x="2012.2" y="107" text-anchor="middle" textLength="102" lengthAdjust="spacing">Group 6</text>
<path d="M2012.2 202.8L1953.1 153.2A77.2 77.2 0 0 0 1943.1 168.4Z" fill="#0673B3" stroke="#0673B3" stroke-width="0.5"/>
<path d="M2012.2 202.8L1943.1 168.4A77.2 77.2 0 0 0 1941 232.6Z" fill="#D92231" stroke="#D92231" stroke-width="0.5"/>
<path d="M2012.2 202.8L1941 232.6A77.2 77.2 0 1 0 2039 130.4Z" fill="#139B4F" stroke="#139B4F" stroke-width="0.5"/>
<path d="M2012.2 202.8L2039 130.4A77.2 77.2 0 0 0 1959.6 146.2Z" fill="#D37AAB" stroke="#D37AAB" stroke-width="0.5"/>
<path d="M2012.2 202.8L1959.6 146.2A77.2 77.2 0 0 0 1953.1 153.2Z" fill="#EC7D35" stroke="#EC7D35" stroke-width="0.5"/>
<text x="1051" y="330" class="pl">d</text>
<text x="1373.2" y="337.9">CD56<tspan dy="-11" font-size="19" letter-spacing="0.9">bright</tspan><tspan dy="11" letter-spacing="1.1"> regulons</tspan></text>
<line x1="1653" y1="330.5" x2="1632.8" y2="330.5" stroke="#3C5A78" stroke-width="1.8"/>
<path d="M1628 330.5L1638 326.5L1634.8 330.5L1638 334.5Z" fill="#3C5A78"/>
<line x1="1666.5" y1="330.5" x2="1686.7" y2="330.5" stroke="#3C5A78" stroke-width="1.8"/>
<path d="M1691.5 330.5L1681.5 326.5L1684.7 330.5L1681.5 334.5Z" fill="#3C5A78"/>
<text x="1702.7" y="337.9">CD56<tspan dy="-11" font-size="19" letter-spacing="0.9">dim</tspan><tspan dy="11" letter-spacing="1.1"> regulons</tspan></text>
<rect x="1196.4" y="347.8" width="33.5" height="32.5" fill="#F2E632"/>
<rect x="1229.6" y="347.8" width="33.5" height="32.5" fill="#F2E632"/>
<rect x="1262.9" y="347.8" width="33.5" height="32.5" fill="#F2E632"/>
<rect x="1296.1" y="347.8" width="33.5" height="32.5" fill="#F2E632"/>
<rect x="1329.3" y="347.8" width="33.5" height="32.5" fill="#F2E632"/>
<rect x="1362.6" y="347.8" width="33.5" height="32.5" fill="#8DC251"/>
<rect x="1395.8" y="347.8" width="33.5" height="32.5" fill="#F2E632"/>
<rect x="1429" y="347.8" width="33.5" height="32.5" fill="#F2E632"/>
<rect x="1462.2" y="347.8" width="33.5" height="32.5" fill="#63B36E"/>
<rect x="1495.5" y="347.8" width="33.5" height="32.5" fill="#58B16F"/>
<rect x="1528.7" y="347.8" width="33.5" height="32.5" fill="#0CA772"/>
<rect x="1561.9" y="347.8" width="33.5" height="32.5" fill="#8FC34F"/>
<rect x="1595.2" y="347.8" width="33.5" height="32.5" fill="#276B91"/>
<rect x="1628.4" y="347.8" width="33.5" height="32.5" fill="#02848B"/>
<rect x="1661.6" y="347.8" width="33.5" height="32.5" fill="#3D0E4E"/>
<rect x="1694.8" y="347.8" width="33.5" height="32.5" fill="#431E5C"/>
<rect x="1728.1" y="347.8" width="33.5" height="32.5" fill="#3D0E4E"/>
<rect x="1761.3" y="347.8" width="33.5" height="32.5" fill="#482A6D"/>
<rect x="1794.5" y="347.8" width="33.5" height="32.5" fill="#3D0E4E"/>
<rect x="1827.8" y="347.8" width="33.5" height="32.5" fill="#421D5B"/>
<rect x="1861" y="347.8" width="33.5" height="32.5" fill="#411A58"/>
<rect x="1894.2" y="347.8" width="33.5" height="32.5" fill="#485296"/>
<rect x="1927.5" y="347.8" width="33.5" height="32.5" fill="#02858A"/>
<rect x="1960.7" y="347.8" width="33.5" height="32.5" fill="#3D0E4E"/>
<rect x="1993.9" y="347.8" width="33.5" height="32.5" fill="#3D0E4E"/>
<rect x="2027.2" y="347.8" width="33.5" height="32.5" fill="#3D0E4E"/>
<rect x="1196.4" y="380.1" width="33.5" height="32.5" fill="#0C7F8B"/>
<rect x="1229.6" y="380.1" width="33.5" height="32.5" fill="#8DC254"/>
<rect x="1262.9" y="380.1" width="33.5" height="32.5" fill="#039585"/>
<rect x="1296.1" y="380.1" width="33.5" height="32.5" fill="#58B170"/>
<rect x="1329.3" y="380.1" width="33.5" height="32.5" fill="#27AB71"/>
<rect x="1362.6" y="380.1" width="33.5" height="32.5" fill="#F2E632"/>
<rect x="1395.8" y="380.1" width="33.5" height="32.5" fill="#039B7F"/>
<rect x="1429" y="380.1" width="33.5" height="32.5" fill="#2D6993"/>
<rect x="1462.2" y="380.1" width="33.5" height="32.5" fill="#F2E632"/>
<rect x="1495.5" y="380.1" width="33.5" height="32.5" fill="#F2E632"/>
<rect x="1528.7" y="380.1" width="33.5" height="32.5" fill="#F2E632"/>
<rect x="1561.9" y="380.1" width="33.5" height="32.5" fill="#F2E632"/>
<rect x="1595.2" y="380.1" width="33.5" height="32.5" fill="#F2E632"/>
<rect x="1628.4" y="380.1" width="33.5" height="32.5" fill="#F2E632"/>
<rect x="1661.6" y="380.1" width="33.5" height="32.5" fill="#3F1452"/>
<rect x="1694.8" y="380.1" width="33.5" height="32.5" fill="#3D0E4E"/>
<rect x="1728.1" y="380.1" width="33.5" height="32.5" fill="#4B448C"/>
<rect x="1761.3" y="380.1" width="33.5" height="32.5" fill="#3D0E4E"/>
<rect x="1794.5" y="380.1" width="33.5" height="32.5" fill="#411958"/>
<rect x="1827.8" y="380.1" width="33.5" height="32.5" fill="#3D0E4E"/>
<rect x="1861" y="380.1" width="33.5" height="32.5" fill="#3D0E4E"/>
<rect x="1894.2" y="380.1" width="33.5" height="32.5" fill="#3D0E4E"/>
<rect x="1927.5" y="380.1" width="33.5" height="32.5" fill="#3D0E4E"/>
<rect x="1960.7" y="380.1" width="33.5" height="32.5" fill="#097F8A"/>
<rect x="1993.9" y="380.1" width="33.5" height="32.5" fill="#0B7F8A"/>
<rect x="2027.2" y="380.1" width="33.5" height="32.5" fill="#7CBB5E"/>
<rect x="1196.4" y="412.3" width="33.5" height="32.5" fill="#3D0E4E"/>
<rect x="1229.6" y="412.3" width="33.5" height="32.5" fill="#3D0E4E"/>
<rect x="1262.9" y="412.3" width="33.5" height="32.5" fill="#3D0E4E"/>
<rect x="1296.1" y="412.3" width="33.5" height="32.5" fill="#3D0E4E"/>
<rect x="1329.3" y="412.3" width="33.5" height="32.5" fill="#3D0E4E"/>
<rect x="1362.6" y="412.3" width="33.5" height="32.5" fill="#3D0E4E"/>
<rect x="1395.8" y="412.3" width="33.5" height="32.5" fill="#3D0E4E"/>
<rect x="1429" y="412.3" width="33.5" height="32.5" fill="#3D0E4E"/>
<rect x="1462.2" y="412.3" width="33.5" height="32.5" fill="#3D0E4E"/>
<rect x="1495.5" y="412.3" width="33.5" height="32.5" fill="#3D0E4E"/>
<rect x="1528.7" y="412.3" width="33.5" height="32.5" fill="#451F5E"/>
<rect x="1561.9" y="412.3" width="33.5" height="32.5" fill="#3D0E4E"/>
<rect x="1595.2" y="412.3" width="33.5" height="32.5" fill="#336393"/>
<rect x="1628.4" y="412.3" width="33.5" height="32.5" fill="#4A5297"/>
<rect x="1661.6" y="412.3" width="33.5" height="32.5" fill="#F2E632"/>
<rect x="1694.8" y="412.3" width="33.5" height="32.5" fill="#F2E632"/>
<rect x="1728.1" y="412.3" width="33.5" height="32.5" fill="#F2E632"/>
<rect x="1761.3" y="412.3" width="33.5" height="32.5" fill="#F2E632"/>
<rect x="1794.5" y="412.3" width="33.5" height="32.5" fill="#F2E632"/>
<rect x="1827.8" y="412.3" width="33.5" height="32.5" fill="#F2E632"/>
<rect x="1861" y="412.3" width="33.5" height="32.5" fill="#F2E632"/>
<rect x="1894.2" y="412.3" width="33.5" height="32.5" fill="#03878A"/>
<rect x="1927.5" y="412.3" width="33.5" height="32.5" fill="#62B46F"/>
<rect x="1960.7" y="412.3" width="33.5" height="32.5" fill="#F2E632"/>
<rect x="1993.9" y="412.3" width="33.5" height="32.5" fill="#F2E632"/>
<rect x="2027.2" y="412.3" width="33.5" height="32.5" fill="#2D6A93"/>
<rect x="1196.4" y="444.6" width="33.5" height="32.5" fill="#4A4189"/>
<rect x="1229.6" y="444.6" width="33.5" height="32.5" fill="#49448D"/>
<rect x="1262.9" y="444.6" width="33.5" height="32.5" fill="#425997"/>
<rect x="1296.1" y="444.6" width="33.5" height="32.5" fill="#48296F"/>
<rect x="1329.3" y="444.6" width="33.5" height="32.5" fill="#485496"/>
<rect x="1362.6" y="444.6" width="33.5" height="32.5" fill="#3B5F98"/>
<rect x="1395.8" y="444.6" width="33.5" height="32.5" fill="#0C7E8B"/>
<rect x="1429" y="444.6" width="33.5" height="32.5" fill="#4A448C"/>
<rect x="1462.2" y="444.6" width="33.5" height="32.5" fill="#4B4088"/>
<rect x="1495.5" y="444.6" width="33.5" height="32.5" fill="#482C72"/>
<rect x="1528.7" y="444.6" width="33.5" height="32.5" fill="#49468E"/>
<rect x="1561.9" y="444.6" width="33.5" height="32.5" fill="#435A98"/>
<rect x="1595.2" y="444.6" width="33.5" height="32.5" fill="#4A3A84"/>
<rect x="1628.4" y="444.6" width="33.5" height="32.5" fill="#3D0E4E"/>
<rect x="1661.6" y="444.6" width="33.5" height="32.5" fill="#09A673"/>
<rect x="1694.8" y="444.6" width="33.5" height="32.5" fill="#1CA973"/>
<rect x="1728.1" y="444.6" width="33.5" height="32.5" fill="#038D88"/>
<rect x="1761.3" y="444.6" width="33.5" height="32.5" fill="#7CBC5F"/>
<rect x="1794.5" y="444.6" width="33.5" height="32.5" fill="#039585"/>
<rect x="1827.8" y="444.6" width="33.5" height="32.5" fill="#4BB072"/>
<rect x="1861" y="444.6" width="33.5" height="32.5" fill="#9AC64A"/>
<rect x="1894.2" y="444.6" width="33.5" height="32.5" fill="#F2E632"/>
<rect x="1927.5" y="444.6" width="33.5" height="32.5" fill="#F2E632"/>
<rect x="1960.7" y="444.6" width="33.5" height="32.5" fill="#66B56D"/>
<rect x="1993.9" y="444.6" width="33.5" height="32.5" fill="#7CBB5F"/>
<rect x="2027.2" y="444.6" width="33.5" height="32.5" fill="#039C80"/>
<rect x="1196.4" y="476.8" width="33.5" height="32.5" fill="#386096"/>
<rect x="1229.6" y="476.8" width="33.5" height="32.5" fill="#3E5C97"/>
<rect x="1262.9" y="476.8" width="33.5" height="32.5" fill="#039C7E"/>
<rect x="1296.1" y="476.8" width="33.5" height="32.5" fill="#059085"/>
<rect x="1329.3" y="476.8" width="33.5" height="32.5" fill="#266B8F"/>
<rect x="1362.6" y="476.8" width="33.5" height="32.5" fill="#4A458C"/>
<rect x="1395.8" y="476.8" width="33.5" height="32.5" fill="#1F7390"/>
<rect x="1429" y="476.8" width="33.5" height="32.5" fill="#3E5D98"/>
<rect x="1462.2" y="476.8" width="33.5" height="32.5" fill="#475596"/>
<rect x="1495.5" y="476.8" width="33.5" height="32.5" fill="#43215F"/>
<rect x="1528.7" y="476.8" width="33.5" height="32.5" fill="#411B58"/>
<rect x="1561.9" y="476.8" width="33.5" height="32.5" fill="#4A3682"/>
<rect x="1595.2" y="476.8" width="33.5" height="32.5" fill="#3D0E4E"/>
<rect x="1628.4" y="476.8" width="33.5" height="32.5" fill="#4A3078"/>
<rect x="1661.6" y="476.8" width="33.5" height="32.5" fill="#12A873"/>
<rect x="1694.8" y="476.8" width="33.5" height="32.5" fill="#04A477"/>
<rect x="1728.1" y="476.8" width="33.5" height="32.5" fill="#048A88"/>
<rect x="1761.3" y="476.8" width="33.5" height="32.5" fill="#09808B"/>
<rect x="1794.5" y="476.8" width="33.5" height="32.5" fill="#03A07B"/>
<rect x="1827.8" y="476.8" width="33.5" height="32.5" fill="#08A575"/>
<rect x="1861" y="476.8" width="33.5" height="32.5" fill="#A8CB45"/>
<rect x="1894.2" y="476.8" width="33.5" height="32.5" fill="#04878A"/>
<rect x="1927.5" y="476.8" width="33.5" height="32.5" fill="#99C64B"/>
<rect x="1960.7" y="476.8" width="33.5" height="32.5" fill="#F2E632"/>
<rect x="1993.9" y="476.8" width="33.5" height="32.5" fill="#03A07A"/>
<rect x="2027.2" y="476.8" width="33.5" height="32.5" fill="#4A3580"/>
<rect x="1196.4" y="509.1" width="33.5" height="32.5" fill="#48296D"/>
<rect x="1229.6" y="509.1" width="33.5" height="32.5" fill="#4A357F"/>
<rect x="1262.9" y="509.1" width="33.5" height="32.5" fill="#484F95"/>
<rect x="1296.1" y="509.1" width="33.5" height="32.5" fill="#472A6C"/>
<rect x="1329.3" y="509.1" width="33.5" height="32.5" fill="#4A3981"/>
<rect x="1362.6" y="509.1" width="33.5" height="32.5" fill="#482E73"/>
<rect x="1395.8" y="509.1" width="33.5" height="32.5" fill="#485197"/>
<rect x="1429" y="509.1" width="33.5" height="32.5" fill="#49347E"/>
<rect x="1462.2" y="509.1" width="33.5" height="32.5" fill="#452766"/>
<rect x="1495.5" y="509.1" width="33.5" height="32.5" fill="#431D5C"/>
<rect x="1528.7" y="509.1" width="33.5" height="32.5" fill="#3D0E4E"/>
<rect x="1561.9" y="509.1" width="33.5" height="32.5" fill="#494A92"/>
<rect x="1595.2" y="509.1" width="33.5" height="32.5" fill="#475399"/>
<rect x="1628.4" y="509.1" width="33.5" height="32.5" fill="#4A3480"/>
<rect x="1661.6" y="509.1" width="33.5" height="32.5" fill="#37AD72"/>
<rect x="1694.8" y="509.1" width="33.5" height="32.5" fill="#2BAC72"/>
<rect x="1728.1" y="509.1" width="33.5" height="32.5" fill="#049A80"/>
<rect x="1761.3" y="509.1" width="33.5" height="32.5" fill="#03A07B"/>
<rect x="1794.5" y="509.1" width="33.5" height="32.5" fill="#04A279"/>
<rect x="1827.8" y="509.1" width="33.5" height="32.5" fill="#04A179"/>
<rect x="1861" y="509.1" width="33.5" height="32.5" fill="#3DAE72"/>
<rect x="1894.2" y="509.1" width="33.5" height="32.5" fill="#6CB76A"/>
<rect x="1927.5" y="509.1" width="33.5" height="32.5" fill="#8CC152"/>
<rect x="1960.7" y="509.1" width="33.5" height="32.5" fill="#86BF57"/>
<rect x="1993.9" y="509.1" width="33.5" height="32.5" fill="#A5CA46"/>
<rect x="2027.2" y="509.1" width="33.5" height="32.5" fill="#F2E632"/>
<path d="M1229.6 347.8v193.5M1262.9 347.8v193.5M1296.1 347.8v193.5M1329.3 347.8v193.5M1362.6 347.8v193.5M1395.8 347.8v193.5M1429 347.8v193.5M1462.2 347.8v193.5M1495.5 347.8v193.5M1528.7 347.8v193.5M1561.9 347.8v193.5M1595.2 347.8v193.5M1628.4 347.8v193.5M1661.6 347.8v193.5M1694.8 347.8v193.5M1728.1 347.8v193.5M1761.3 347.8v193.5M1794.5 347.8v193.5M1827.8 347.8v193.5M1861 347.8v193.5M1894.2 347.8v193.5M1927.5 347.8v193.5M1960.7 347.8v193.5M1993.9 347.8v193.5M2027.2 347.8v193.5M1196.4 380.1h864M1196.4 412.3h864M1196.4 444.6h864M1196.4 476.8h864M1196.4 509.1h864" stroke="#8C8C8C" stroke-width="0.7" fill="none"/>
<rect x="1196.4" y="347.8" width="864" height="193.5" fill="none" stroke="#333" stroke-width="1.5"/>
<line x1="1187.4" y1="363.9" x2="1196.4" y2="363.9" stroke="#333" stroke-width="1.5"/>
<text x="1175.5" y="373.2" text-anchor="end" textLength="97.2" lengthAdjust="spacing">Group 1</text>
<line x1="1187.4" y1="396.2" x2="1196.4" y2="396.2" stroke="#333" stroke-width="1.5"/>
<text x="1175.5" y="405.5" text-anchor="end" textLength="102" lengthAdjust="spacing">Group 2</text>
<line x1="1187.4" y1="428.4" x2="1196.4" y2="428.4" stroke="#333" stroke-width="1.5"/>
<text x="1175.5" y="437.7" text-anchor="end" textLength="102" lengthAdjust="spacing">Group 3</text>
<line x1="1187.4" y1="460.7" x2="1196.4" y2="460.7" stroke="#333" stroke-width="1.5"/>
<text x="1175.5" y="470" text-anchor="end" textLength="102" lengthAdjust="spacing">Group 4</text>
<line x1="1187.4" y1="492.9" x2="1196.4" y2="492.9" stroke="#333" stroke-width="1.5"/>
<text x="1175.5" y="502.2" text-anchor="end" textLength="102" lengthAdjust="spacing">Group 5</text>
<line x1="1187.4" y1="525.2" x2="1196.4" y2="525.2" stroke="#333" stroke-width="1.5"/>
<text x="1175.5" y="534.5" text-anchor="end" textLength="102" lengthAdjust="spacing">Group 6</text>
<line x1="1213" y1="541.3" x2="1213" y2="550.5" stroke="#333" stroke-width="1.5"/>
<text transform="translate(1220.6,563) rotate(-90)" text-anchor="end"><tspan font-style="italic">EGR1</tspan><tspan font-size="23.5"> (+)</tspan></text>
<line x1="1246.2" y1="541.3" x2="1246.2" y2="550.5" stroke="#333" stroke-width="1.5"/>
<text transform="translate(1253.8,563) rotate(-90)" text-anchor="end"><tspan font-style="italic">MYC</tspan><tspan font-size="23.5"> (+)</tspan></text>
<line x1="1279.5" y1="541.3" x2="1279.5" y2="550.5" stroke="#333" stroke-width="1.5"/>
<text transform="translate(1287.1,563) rotate(-90)" text-anchor="end"><tspan font-style="italic">BHLHE40</tspan><tspan font-size="23.5"> (+)</tspan></text>
<line x1="1312.7" y1="541.3" x2="1312.7" y2="550.5" stroke="#333" stroke-width="1.5"/>
<text transform="translate(1320.3,563) rotate(-90)" text-anchor="end"><tspan font-style="italic">IRF8</tspan><tspan font-size="23.5"> (+)</tspan></text>
<line x1="1345.9" y1="541.3" x2="1345.9" y2="550.5" stroke="#333" stroke-width="1.5"/>
<text transform="translate(1353.5,563) rotate(-90)" text-anchor="end"><tspan font-style="italic">NFKB2</tspan><tspan font-size="23.5"> (+)</tspan></text>
<line x1="1379.2" y1="541.3" x2="1379.2" y2="550.5" stroke="#333" stroke-width="1.5"/>
<text transform="translate(1386.8,563) rotate(-90)" text-anchor="end"><tspan font-style="italic">LEF1</tspan><tspan font-size="23.5"> (+)</tspan></text>
<line x1="1412.4" y1="541.3" x2="1412.4" y2="550.5" stroke="#333" stroke-width="1.5"/>
<text transform="translate(1420,563) rotate(-90)" text-anchor="end"><tspan font-style="italic">STAT3</tspan><tspan font-size="23.5"> (+)</tspan></text>
<line x1="1445.6" y1="541.3" x2="1445.6" y2="550.5" stroke="#333" stroke-width="1.5"/>
<text transform="translate(1453.2,563) rotate(-90)" text-anchor="end"><tspan font-style="italic">DDIT3</tspan><tspan font-size="23.5"> (+)</tspan></text>
<line x1="1478.9" y1="541.3" x2="1478.9" y2="550.5" stroke="#333" stroke-width="1.5"/>
<text transform="translate(1486.5,563) rotate(-90)" text-anchor="end"><tspan font-style="italic">RUNX2</tspan><tspan font-size="23.5"> (+)</tspan></text>
<line x1="1512.1" y1="541.3" x2="1512.1" y2="550.5" stroke="#333" stroke-width="1.5"/>
<text transform="translate(1519.7,563) rotate(-90)" text-anchor="end"><tspan font-style="italic">HOXA9</tspan><tspan font-size="23.5"> (+)</tspan></text>
<line x1="1545.3" y1="541.3" x2="1545.3" y2="550.5" stroke="#333" stroke-width="1.5"/>
<text transform="translate(1552.9,563) rotate(-90)" text-anchor="end"><tspan font-style="italic">HOXA10</tspan><tspan font-size="23.5"> (+)</tspan></text>
<line x1="1578.5" y1="541.3" x2="1578.5" y2="550.5" stroke="#333" stroke-width="1.5"/>
<text transform="translate(1586.1,563) rotate(-90)" text-anchor="end"><tspan font-style="italic">RBPJ</tspan><tspan font-size="23.5"> (+)</tspan></text>
<line x1="1611.8" y1="541.3" x2="1611.8" y2="550.5" stroke="#333" stroke-width="1.5"/>
<text transform="translate(1619.4,563) rotate(-90)" text-anchor="end"><tspan font-style="italic">HOXA7</tspan><tspan font-size="23.5"> (+)</tspan></text>
<line x1="1645" y1="541.3" x2="1645" y2="550.5" stroke="#333" stroke-width="1.5"/>
<text transform="translate(1652.6,563) rotate(-90)" text-anchor="end"><tspan font-style="italic">RXRA</tspan><tspan font-size="23.5"> (+)</tspan></text>
<line x1="1678.2" y1="541.3" x2="1678.2" y2="550.5" stroke="#333" stroke-width="1.5"/>
<text transform="translate(1685.8,563) rotate(-90)" text-anchor="end"><tspan font-style="italic">ASCL2</tspan><tspan font-size="23.5"> (+)</tspan></text>
<line x1="1711.5" y1="541.3" x2="1711.5" y2="550.5" stroke="#333" stroke-width="1.5"/>
<text transform="translate(1719.1,563) rotate(-90)" text-anchor="end"><tspan font-style="italic">KLF2</tspan><tspan font-size="23.5"> (+)</tspan></text>
<line x1="1744.7" y1="541.3" x2="1744.7" y2="550.5" stroke="#333" stroke-width="1.5"/>
<text transform="translate(1752.3,563) rotate(-90)" text-anchor="end"><tspan font-style="italic">XBP1</tspan><tspan font-size="23.5"> (+)</tspan></text>
<line x1="1777.9" y1="541.3" x2="1777.9" y2="550.5" stroke="#333" stroke-width="1.5"/>
<text transform="translate(1785.5,563) rotate(-90)" text-anchor="end"><tspan font-style="italic">BATF</tspan><tspan font-size="23.5"> (+)</tspan></text>
<line x1="1811.2" y1="541.3" x2="1811.2" y2="550.5" stroke="#333" stroke-width="1.5"/>
<text transform="translate(1818.8,563) rotate(-90)" text-anchor="end"><tspan font-style="italic">TBX21</tspan><tspan font-size="23.5"> (+)</tspan></text>
<line x1="1844.4" y1="541.3" x2="1844.4" y2="550.5" stroke="#333" stroke-width="1.5"/>
<text transform="translate(1852,563) rotate(-90)" text-anchor="end"><tspan font-style="italic">PRDM1</tspan><tspan font-size="23.5"> (+)</tspan></text>
<line x1="1877.6" y1="541.3" x2="1877.6" y2="550.5" stroke="#333" stroke-width="1.5"/>
<text transform="translate(1885.2,563) rotate(-90)" text-anchor="end"><tspan font-style="italic">IKZF1</tspan><tspan font-size="23.5"> (+)</tspan></text>
<line x1="1910.8" y1="541.3" x2="1910.8" y2="550.5" stroke="#333" stroke-width="1.5"/>
<text transform="translate(1918.4,563) rotate(-90)" text-anchor="end"><tspan font-style="italic">ZNF16</tspan><tspan font-size="23.5"> (+)</tspan></text>
<line x1="1944.1" y1="541.3" x2="1944.1" y2="550.5" stroke="#333" stroke-width="1.5"/>
<text transform="translate(1951.7,563) rotate(-90)" text-anchor="end"><tspan font-style="italic">MAF</tspan><tspan font-size="23.5"> (+)</tspan></text>
<line x1="1977.3" y1="541.3" x2="1977.3" y2="550.5" stroke="#333" stroke-width="1.5"/>
<text transform="translate(1984.9,563) rotate(-90)" text-anchor="end"><tspan font-style="italic">FOXN3</tspan><tspan font-size="23.5"> (+)</tspan></text>
<line x1="2010.5" y1="541.3" x2="2010.5" y2="550.5" stroke="#333" stroke-width="1.5"/>
<text transform="translate(2018.1,563) rotate(-90)" text-anchor="end"><tspan font-style="italic">IRF3</tspan><tspan font-size="23.5"> (+)</tspan></text>
<line x1="2043.8" y1="541.3" x2="2043.8" y2="550.5" stroke="#333" stroke-width="1.5"/>
<text transform="translate(2051.4,563) rotate(-90)" text-anchor="end"><tspan font-style="italic">ETV7</tspan><tspan font-size="23.5"> (+)</tspan></text>
<rect x="2069.2" y="375.1" width="17.3" height="134.3" fill="url(#vv)" stroke="#231F20" stroke-width="1.3"/>
<line x1="2086.5" y1="375.1" x2="2092.5" y2="375.1" stroke="#231F20" stroke-width="1.3"/>
<text x="2096" y="383.1" font-size="22.5" letter-spacing="0.8">1.0</text>
<line x1="2086.5" y1="442.2" x2="2092.5" y2="442.2" stroke="#231F20" stroke-width="1.3"/>
<text x="2096" y="450.2" font-size="22.5" letter-spacing="0.8">0.5</text>
<line x1="2086.5" y1="509.4" x2="2092.5" y2="509.4" stroke="#231F20" stroke-width="1.3"/>
<text x="2096" y="517.4" font-size="22.5" letter-spacing="0.8">0</text>
<text transform="translate(2138.5,442) rotate(90)" text-anchor="middle">Expression</text>
<text x="2" y="605.5" class="pl">e</text>
<rect x="124.8" y="653.2" width="33.2" height="32" fill="#F2E632"/>
<rect x="157.7" y="653.2" width="33.2" height="32" fill="#F2E632"/>
<rect x="190.6" y="653.2" width="33.2" height="32" fill="#F2E632"/>
<rect x="223.6" y="653.2" width="33.2" height="32" fill="#F2E632"/>
<rect x="256.5" y="653.2" width="33.2" height="32" fill="#F2E632"/>
<rect x="289.4" y="653.2" width="33.2" height="32" fill="#F2E632"/>
<rect x="322.3" y="653.2" width="33.2" height="32" fill="#F2E632"/>
<rect x="355.2" y="653.2" width="33.2" height="32" fill="#F2E632"/>
<rect x="388.2" y="653.2" width="33.2" height="32" fill="#F2E632"/>
<rect x="421.1" y="653.2" width="33.2" height="32" fill="#F2E632"/>
<rect x="454" y="653.2" width="33.2" height="32" fill="#0AA673"/>
<rect x="486.9" y="653.2" width="33.2" height="32" fill="#3D0E4E"/>
<rect x="519.8" y="653.2" width="33.2" height="32" fill="#3D0E4E"/>
<rect x="552.8" y="653.2" width="33.2" height="32" fill="#3D0E4E"/>
<rect x="585.7" y="653.2" width="33.2" height="32" fill="#3D0E4E"/>
<rect x="618.6" y="653.2" width="33.2" height="32" fill="#3D0E4E"/>
<rect x="651.5" y="653.2" width="33.2" height="32" fill="#4A337D"/>
<rect x="684.4" y="653.2" width="33.2" height="32" fill="#1F7291"/>
<rect x="717.4" y="653.2" width="33.2" height="32" fill="#4A4890"/>
<rect x="750.3" y="653.2" width="33.2" height="32" fill="#3D0E4E"/>
<rect x="783.2" y="653.2" width="33.2" height="32" fill="#3D0E4E"/>
<rect x="816.1" y="653.2" width="33.2" height="32" fill="#3D0E4E"/>
<rect x="849" y="653.2" width="33.2" height="32" fill="#3D0E4E"/>
<rect x="882" y="653.2" width="33.2" height="32" fill="#0A7D8B"/>
<rect x="914.9" y="653.2" width="33.2" height="32" fill="#039F7A"/>
<rect x="947.8" y="653.2" width="33.2" height="32" fill="#425A98"/>
<rect x="980.7" y="653.2" width="33.2" height="32" fill="#059782"/>
<rect x="1013.6" y="653.2" width="33.2" height="32" fill="#A9CC45"/>
<rect x="1046.6" y="653.2" width="33.2" height="32" fill="#3D0E4E"/>
<rect x="1079.5" y="653.2" width="33.2" height="32" fill="#4A4189"/>
<rect x="124.8" y="684.9" width="33.2" height="32" fill="#236E90"/>
<rect x="157.7" y="684.9" width="33.2" height="32" fill="#0C7B8C"/>
<rect x="190.6" y="684.9" width="33.2" height="32" fill="#048F87"/>
<rect x="223.6" y="684.9" width="33.2" height="32" fill="#03838A"/>
<rect x="256.5" y="684.9" width="33.2" height="32" fill="#039B7F"/>
<rect x="289.4" y="684.9" width="33.2" height="32" fill="#0A7D8B"/>
<rect x="322.3" y="684.9" width="33.2" height="32" fill="#495698"/>
<rect x="355.2" y="684.9" width="33.2" height="32" fill="#5DB270"/>
<rect x="388.2" y="684.9" width="33.2" height="32" fill="#029C7E"/>
<rect x="421.1" y="684.9" width="33.2" height="32" fill="#5EB270"/>
<rect x="454" y="684.9" width="33.2" height="32" fill="#F2E632"/>
<rect x="486.9" y="684.9" width="33.2" height="32" fill="#03858A"/>
<rect x="519.8" y="684.9" width="33.2" height="32" fill="#4A3F88"/>
<rect x="552.8" y="684.9" width="33.2" height="32" fill="#03898A"/>
<rect x="585.7" y="684.9" width="33.2" height="32" fill="#485296"/>
<rect x="618.6" y="684.9" width="33.2" height="32" fill="#4A4990"/>
<rect x="651.5" y="684.9" width="33.2" height="32" fill="#3D0E4E"/>
<rect x="684.4" y="684.9" width="33.2" height="32" fill="#3D0E4E"/>
<rect x="717.4" y="684.9" width="33.2" height="32" fill="#3D0E4E"/>
<rect x="750.3" y="684.9" width="33.2" height="32" fill="#04A07A"/>
<rect x="783.2" y="684.9" width="33.2" height="32" fill="#2D6891"/>
<rect x="816.1" y="684.9" width="33.2" height="32" fill="#1C7490"/>
<rect x="849" y="684.9" width="33.2" height="32" fill="#4A458D"/>
<rect x="882" y="684.9" width="33.2" height="32" fill="#495195"/>
<rect x="914.9" y="684.9" width="33.2" height="32" fill="#03878A"/>
<rect x="947.8" y="684.9" width="33.2" height="32" fill="#3D0E4E"/>
<rect x="980.7" y="684.9" width="33.2" height="32" fill="#276B90"/>
<rect x="1013.6" y="684.9" width="33.2" height="32" fill="#4A347E"/>
<rect x="1046.6" y="684.9" width="33.2" height="32" fill="#34AD72"/>
<rect x="1079.5" y="684.9" width="33.2" height="32" fill="#3D0E4E"/>
<rect x="124.8" y="716.6" width="33.2" height="32" fill="#3D0E4E"/>
<rect x="157.7" y="716.6" width="33.2" height="32" fill="#3D0E4E"/>
<rect x="190.6" y="716.6" width="33.2" height="32" fill="#3D0E4E"/>
<rect x="223.6" y="716.6" width="33.2" height="32" fill="#3D0E4E"/>
<rect x="256.5" y="716.6" width="33.2" height="32" fill="#3D0E4E"/>
<rect x="289.4" y="716.6" width="33.2" height="32" fill="#3D0E4E"/>
<rect x="322.3" y="716.6" width="33.2" height="32" fill="#3D0E4E"/>
<rect x="355.2" y="716.6" width="33.2" height="32" fill="#3D0E4E"/>
<rect x="388.2" y="716.6" width="33.2" height="32" fill="#3D0E4E"/>
<rect x="421.1" y="716.6" width="33.2" height="32" fill="#3D0E4E"/>
<rect x="454" y="716.6" width="33.2" height="32" fill="#411958"/>
<rect x="486.9" y="716.6" width="33.2" height="32" fill="#F2E632"/>
<rect x="519.8" y="716.6" width="33.2" height="32" fill="#F2E632"/>
<rect x="552.8" y="716.6" width="33.2" height="32" fill="#F2E632"/>
<rect x="585.7" y="716.6" width="33.2" height="32" fill="#F2E632"/>
<rect x="618.6" y="716.6" width="33.2" height="32" fill="#F2E632"/>
<rect x="651.5" y="716.6" width="33.2" height="32" fill="#F2E632"/>
<rect x="684.4" y="716.6" width="33.2" height="32" fill="#F2E632"/>
<rect x="717.4" y="716.6" width="33.2" height="32" fill="#F2E632"/>
<rect x="750.3" y="716.6" width="33.2" height="32" fill="#F2E632"/>
<rect x="783.2" y="716.6" width="33.2" height="32" fill="#F2E632"/>
<rect x="816.1" y="716.6" width="33.2" height="32" fill="#17748F"/>
<rect x="849" y="716.6" width="33.2" height="32" fill="#A7CB46"/>
<rect x="882" y="716.6" width="33.2" height="32" fill="#3D0E4E"/>
<rect x="914.9" y="716.6" width="33.2" height="32" fill="#3D0E4E"/>
<rect x="947.8" y="716.6" width="33.2" height="32" fill="#45AF72"/>
<rect x="980.7" y="716.6" width="33.2" height="32" fill="#3D0E4E"/>
<rect x="1013.6" y="716.6" width="33.2" height="32" fill="#3D0E4E"/>
<rect x="1046.6" y="716.6" width="33.2" height="32" fill="#06A575"/>
<rect x="1079.5" y="716.6" width="33.2" height="32" fill="#6AB66B"/>
<rect x="124.8" y="748.2" width="33.2" height="32" fill="#4A3882"/>
<rect x="157.7" y="748.2" width="33.2" height="32" fill="#494C93"/>
<rect x="190.6" y="748.2" width="33.2" height="32" fill="#465699"/>
<rect x="223.6" y="748.2" width="33.2" height="32" fill="#4A438B"/>
<rect x="256.5" y="748.2" width="33.2" height="32" fill="#425A98"/>
<rect x="289.4" y="748.2" width="33.2" height="32" fill="#485397"/>
<rect x="322.3" y="748.2" width="33.2" height="32" fill="#47296C"/>
<rect x="355.2" y="748.2" width="33.2" height="32" fill="#386196"/>
<rect x="388.2" y="748.2" width="33.2" height="32" fill="#485296"/>
<rect x="421.1" y="748.2" width="33.2" height="32" fill="#3C5F97"/>
<rect x="454" y="748.2" width="33.2" height="32" fill="#482D73"/>
<rect x="486.9" y="748.2" width="33.2" height="32" fill="#03878A"/>
<rect x="519.8" y="748.2" width="33.2" height="32" fill="#069C7F"/>
<rect x="552.8" y="748.2" width="33.2" height="32" fill="#4AB072"/>
<rect x="585.7" y="748.2" width="33.2" height="32" fill="#059682"/>
<rect x="618.6" y="748.2" width="33.2" height="32" fill="#049484"/>
<rect x="651.5" y="748.2" width="33.2" height="32" fill="#4FB171"/>
<rect x="684.4" y="748.2" width="33.2" height="32" fill="#B0CE43"/>
<rect x="717.4" y="748.2" width="33.2" height="32" fill="#89C055"/>
<rect x="750.3" y="748.2" width="33.2" height="32" fill="#40AE72"/>
<rect x="783.2" y="748.2" width="33.2" height="32" fill="#F2E632"/>
<rect x="816.1" y="748.2" width="33.2" height="32" fill="#F2E632"/>
<rect x="849" y="748.2" width="33.2" height="32" fill="#049B80"/>
<rect x="882" y="748.2" width="33.2" height="32" fill="#405B98"/>
<rect x="914.9" y="748.2" width="33.2" height="32" fill="#3A5F97"/>
<rect x="947.8" y="748.2" width="33.2" height="32" fill="#04A179"/>
<rect x="980.7" y="748.2" width="33.2" height="32" fill="#485296"/>
<rect x="1013.6" y="748.2" width="33.2" height="32" fill="#405B98"/>
<rect x="1046.6" y="748.2" width="33.2" height="32" fill="#0A7E8B"/>
<rect x="1079.5" y="748.2" width="33.2" height="32" fill="#5AB16F"/>
<rect x="124.8" y="779.9" width="33.2" height="32" fill="#48539A"/>
<rect x="157.7" y="779.9" width="33.2" height="32" fill="#3C5F98"/>
<rect x="190.6" y="779.9" width="33.2" height="32" fill="#1F7291"/>
<rect x="223.6" y="779.9" width="33.2" height="32" fill="#3E5D98"/>
<rect x="256.5" y="779.9" width="33.2" height="32" fill="#049484"/>
<rect x="289.4" y="779.9" width="33.2" height="32" fill="#0A7D8C"/>
<rect x="322.3" y="779.9" width="33.2" height="32" fill="#4A4B93"/>
<rect x="355.2" y="779.9" width="33.2" height="32" fill="#05828B"/>
<rect x="388.2" y="779.9" width="33.2" height="32" fill="#03858A"/>
<rect x="421.1" y="779.9" width="33.2" height="32" fill="#069980"/>
<rect x="454" y="779.9" width="33.2" height="32" fill="#3D0E4E"/>
<rect x="486.9" y="779.9" width="33.2" height="32" fill="#425A98"/>
<rect x="519.8" y="779.9" width="33.2" height="32" fill="#04A674"/>
<rect x="552.8" y="779.9" width="33.2" height="32" fill="#207190"/>
<rect x="585.7" y="779.9" width="33.2" height="32" fill="#059783"/>
<rect x="618.6" y="779.9" width="33.2" height="32" fill="#3E5C98"/>
<rect x="651.5" y="779.9" width="33.2" height="32" fill="#04A478"/>
<rect x="684.4" y="779.9" width="33.2" height="32" fill="#80BD5C"/>
<rect x="717.4" y="779.9" width="33.2" height="32" fill="#2EAC72"/>
<rect x="750.3" y="779.9" width="33.2" height="32" fill="#03858A"/>
<rect x="783.2" y="779.9" width="33.2" height="32" fill="#65B46D"/>
<rect x="816.1" y="779.9" width="33.2" height="32" fill="#04A377"/>
<rect x="849" y="779.9" width="33.2" height="32" fill="#F2E632"/>
<rect x="882" y="779.9" width="33.2" height="32" fill="#F2E632"/>
<rect x="914.9" y="779.9" width="33.2" height="32" fill="#F2E632"/>
<rect x="947.8" y="779.9" width="33.2" height="32" fill="#F2E632"/>
<rect x="980.7" y="779.9" width="33.2" height="32" fill="#F2E632"/>
<rect x="1013.6" y="779.9" width="33.2" height="32" fill="#F2E632"/>
<rect x="1046.6" y="779.9" width="33.2" height="32" fill="#0A7F8B"/>
<rect x="1079.5" y="779.9" width="33.2" height="32" fill="#14A973"/>
<rect x="124.8" y="811.6" width="33.2" height="32" fill="#493074"/>
<rect x="157.7" y="811.6" width="33.2" height="32" fill="#482C70"/>
<rect x="190.6" y="811.6" width="33.2" height="32" fill="#4A4089"/>
<rect x="223.6" y="811.6" width="33.2" height="32" fill="#482C70"/>
<rect x="256.5" y="811.6" width="33.2" height="32" fill="#425998"/>
<rect x="289.4" y="811.6" width="33.2" height="32" fill="#4A438C"/>
<rect x="322.3" y="811.6" width="33.2" height="32" fill="#48296D"/>
<rect x="355.2" y="811.6" width="33.2" height="32" fill="#485296"/>
<rect x="388.2" y="811.6" width="33.2" height="32" fill="#4A3B85"/>
<rect x="421.1" y="811.6" width="33.2" height="32" fill="#425A98"/>
<rect x="454" y="811.6" width="33.2" height="32" fill="#46286A"/>
<rect x="486.9" y="811.6" width="33.2" height="32" fill="#286B92"/>
<rect x="519.8" y="811.6" width="33.2" height="32" fill="#03A07A"/>
<rect x="552.8" y="811.6" width="33.2" height="32" fill="#059783"/>
<rect x="585.7" y="811.6" width="33.2" height="32" fill="#46AF72"/>
<rect x="618.6" y="811.6" width="33.2" height="32" fill="#03858A"/>
<rect x="651.5" y="811.6" width="33.2" height="32" fill="#9CC74A"/>
<rect x="684.4" y="811.6" width="33.2" height="32" fill="#4DB071"/>
<rect x="717.4" y="811.6" width="33.2" height="32" fill="#2AAC71"/>
<rect x="750.3" y="811.6" width="33.2" height="32" fill="#80BD5C"/>
<rect x="783.2" y="811.6" width="33.2" height="32" fill="#86BF57"/>
<rect x="816.1" y="811.6" width="33.2" height="32" fill="#286A91"/>
<rect x="849" y="811.6" width="33.2" height="32" fill="#A9CC45"/>
<rect x="882" y="811.6" width="33.2" height="32" fill="#366196"/>
<rect x="914.9" y="811.6" width="33.2" height="32" fill="#386096"/>
<rect x="947.8" y="811.6" width="33.2" height="32" fill="#04A179"/>
<rect x="980.7" y="811.6" width="33.2" height="32" fill="#2E6792"/>
<rect x="1013.6" y="811.6" width="33.2" height="32" fill="#425A98"/>
<rect x="1046.6" y="811.6" width="33.2" height="32" fill="#F2E632"/>
<rect x="1079.5" y="811.6" width="33.2" height="32" fill="#F2E632"/>
<path d="M157.7 653.2v190.1M190.6 653.2v190.1M223.6 653.2v190.1M256.5 653.2v190.1M289.4 653.2v190.1M322.3 653.2v190.1M355.2 653.2v190.1M388.2 653.2v190.1M421.1 653.2v190.1M454 653.2v190.1M486.9 653.2v190.1M519.8 653.2v190.1M552.8 653.2v190.1M585.7 653.2v190.1M618.6 653.2v190.1M651.5 653.2v190.1M684.4 653.2v190.1M717.4 653.2v190.1M750.3 653.2v190.1M783.2 653.2v190.1M816.1 653.2v190.1M849 653.2v190.1M882 653.2v190.1M914.9 653.2v190.1M947.8 653.2v190.1M980.7 653.2v190.1M1013.6 653.2v190.1M1046.6 653.2v190.1M1079.5 653.2v190.1M124.8 684.9h987.6M124.8 716.6h987.6M124.8 748.2h987.6M124.8 779.9h987.6M124.8 811.6h987.6" stroke="#8C8C8C" stroke-width="0.7" fill="none"/>
<rect x="124.8" y="653.2" width="987.6" height="190.1" fill="none" stroke="#333" stroke-width="1.5"/>
<line x1="115.4" y1="669" x2="124.8" y2="669" stroke="#333" stroke-width="1.5"/>
<text x="104" y="678.3" text-anchor="end" textLength="97.2" lengthAdjust="spacing">Group 1</text>
<line x1="115.4" y1="700.7" x2="124.8" y2="700.7" stroke="#333" stroke-width="1.5"/>
<text x="104" y="710" text-anchor="end" textLength="102" lengthAdjust="spacing">Group 2</text>
<line x1="115.4" y1="732.4" x2="124.8" y2="732.4" stroke="#333" stroke-width="1.5"/>
<text x="104" y="741.7" text-anchor="end" textLength="102" lengthAdjust="spacing">Group 3</text>
<line x1="115.4" y1="764.1" x2="124.8" y2="764.1" stroke="#333" stroke-width="1.5"/>
<text x="104" y="773.4" text-anchor="end" textLength="102" lengthAdjust="spacing">Group 4</text>
<line x1="115.4" y1="795.8" x2="124.8" y2="795.8" stroke="#333" stroke-width="1.5"/>
<text x="104" y="805.1" text-anchor="end" textLength="102" lengthAdjust="spacing">Group 5</text>
<line x1="115.4" y1="827.4" x2="124.8" y2="827.4" stroke="#333" stroke-width="1.5"/>
<text x="104" y="836.7" text-anchor="end" textLength="102" lengthAdjust="spacing">Group 6</text>
<line x1="141.3" y1="843.3" x2="141.3" y2="852.3" stroke="#333" stroke-width="1.5"/>
<text transform="translate(148.9,865) rotate(-90)" text-anchor="end"><tspan font-style="italic">EGR4</tspan><tspan font-size="23.5"> (+)</tspan></text>
<line x1="174.2" y1="843.3" x2="174.2" y2="852.3" stroke="#333" stroke-width="1.5"/>
<text transform="translate(181.8,865) rotate(-90)" text-anchor="end"><tspan font-style="italic">EGR3</tspan><tspan font-size="23.5"> (+)</tspan></text>
<line x1="207.1" y1="843.3" x2="207.1" y2="852.3" stroke="#333" stroke-width="1.5"/>
<text transform="translate(214.7,865) rotate(-90)" text-anchor="end"><tspan font-style="italic">KLF10</tspan><tspan font-size="23.5"> (+)</tspan></text>
<line x1="240" y1="843.3" x2="240" y2="852.3" stroke="#333" stroke-width="1.5"/>
<text transform="translate(247.6,865) rotate(-90)" text-anchor="end"><tspan font-style="italic">ATF3</tspan><tspan font-size="23.5"> (+)</tspan></text>
<line x1="272.9" y1="843.3" x2="272.9" y2="852.3" stroke="#333" stroke-width="1.5"/>
<text transform="translate(280.5,865) rotate(-90)" text-anchor="end"><tspan font-style="italic">REL</tspan><tspan font-size="23.5"> (+)</tspan></text>
<line x1="305.9" y1="843.3" x2="305.9" y2="852.3" stroke="#333" stroke-width="1.5"/>
<text transform="translate(313.5,865) rotate(-90)" text-anchor="end"><tspan font-style="italic">GTF2B</tspan><tspan font-size="23.5"> (+)</tspan></text>
<line x1="338.8" y1="843.3" x2="338.8" y2="852.3" stroke="#333" stroke-width="1.5"/>
<text transform="translate(346.4,865) rotate(-90)" text-anchor="end"><tspan font-style="italic">TBX1</tspan><tspan font-size="23.5"> (+)</tspan></text>
<line x1="371.7" y1="843.3" x2="371.7" y2="852.3" stroke="#333" stroke-width="1.5"/>
<text transform="translate(379.3,865) rotate(-90)" text-anchor="end"><tspan font-style="italic">IRF4</tspan><tspan font-size="23.5"> (+)</tspan></text>
<line x1="404.6" y1="843.3" x2="404.6" y2="852.3" stroke="#333" stroke-width="1.5"/>
<text transform="translate(412.2,865) rotate(-90)" text-anchor="end"><tspan font-style="italic">MAFF</tspan><tspan font-size="23.5"> (+)</tspan></text>
<line x1="437.5" y1="843.3" x2="437.5" y2="852.3" stroke="#333" stroke-width="1.5"/>
<text transform="translate(445.1,865) rotate(-90)" text-anchor="end"><tspan font-style="italic">NFKB1</tspan><tspan font-size="23.5"> (+)</tspan></text>
<line x1="470.5" y1="843.3" x2="470.5" y2="852.3" stroke="#333" stroke-width="1.5"/>
<text transform="translate(478.1,865) rotate(-90)" text-anchor="end"><tspan font-style="italic">TAGLN2</tspan><tspan font-size="23.5"> (+)</tspan></text>
<line x1="503.4" y1="843.3" x2="503.4" y2="852.3" stroke="#333" stroke-width="1.5"/>
<text transform="translate(511,865) rotate(-90)" text-anchor="end"><tspan font-style="italic">NFYC</tspan><tspan font-size="23.5"> (+)</tspan></text>
<line x1="536.3" y1="843.3" x2="536.3" y2="852.3" stroke="#333" stroke-width="1.5"/>
<text transform="translate(543.9,865) rotate(-90)" text-anchor="end"><tspan font-style="italic">CTBP1</tspan><tspan font-size="23.5"> (+)</tspan></text>
<line x1="569.2" y1="843.3" x2="569.2" y2="852.3" stroke="#333" stroke-width="1.5"/>
<text transform="translate(576.8,865) rotate(-90)" text-anchor="end"><tspan font-style="italic">POLE4</tspan><tspan font-size="23.5"> (+)</tspan></text>
<line x1="602.1" y1="843.3" x2="602.1" y2="852.3" stroke="#333" stroke-width="1.5"/>
<text transform="translate(609.7,865) rotate(-90)" text-anchor="end"><tspan font-style="italic">STAT6</tspan><tspan font-size="23.5"> (+)</tspan></text>
<line x1="635.1" y1="843.3" x2="635.1" y2="852.3" stroke="#333" stroke-width="1.5"/>
<text transform="translate(642.7,865) rotate(-90)" text-anchor="end"><tspan font-style="italic">DUS3L</tspan><tspan font-size="23.5"> (+)</tspan></text>
<line x1="668" y1="843.3" x2="668" y2="852.3" stroke="#333" stroke-width="1.5"/>
<text transform="translate(675.6,865) rotate(-90)" text-anchor="end"><tspan font-style="italic">MEIS1</tspan><tspan font-size="23.5"> (+)</tspan></text>
<line x1="700.9" y1="843.3" x2="700.9" y2="852.3" stroke="#333" stroke-width="1.5"/>
<text transform="translate(708.5,865) rotate(-90)" text-anchor="end"><tspan font-style="italic">CEBPA</tspan><tspan font-size="23.5"> (+)</tspan></text>
<line x1="733.8" y1="843.3" x2="733.8" y2="852.3" stroke="#333" stroke-width="1.5"/>
<text transform="translate(741.4,865) rotate(-90)" text-anchor="end"><tspan font-style="italic">ZFN568</tspan><tspan font-size="23.5"> (+)</tspan></text>
<line x1="766.7" y1="843.3" x2="766.7" y2="852.3" stroke="#333" stroke-width="1.5"/>
<text transform="translate(774.3,865) rotate(-90)" text-anchor="end"><tspan font-style="italic">IRF2</tspan><tspan font-size="23.5"> (+)</tspan></text>
<line x1="799.7" y1="843.3" x2="799.7" y2="852.3" stroke="#333" stroke-width="1.5"/>
<text transform="translate(807.3,865) rotate(-90)" text-anchor="end"><tspan font-style="italic">ZNF91</tspan><tspan font-size="23.5"> (+)</tspan></text>
<line x1="832.6" y1="843.3" x2="832.6" y2="852.3" stroke="#333" stroke-width="1.5"/>
<text transform="translate(840.2,865) rotate(-90)" text-anchor="end"><tspan font-style="italic">PURA</tspan><tspan font-size="23.5"> (+)</tspan></text>
<line x1="865.5" y1="843.3" x2="865.5" y2="852.3" stroke="#333" stroke-width="1.5"/>
<text transform="translate(873.1,865) rotate(-90)" text-anchor="end"><tspan font-style="italic">ARNTL</tspan><tspan font-size="23.5"> (+)</tspan></text>
<line x1="898.4" y1="843.3" x2="898.4" y2="852.3" stroke="#333" stroke-width="1.5"/>
<text transform="translate(906,865) rotate(-90)" text-anchor="end"><tspan font-style="italic">MEF2D</tspan><tspan font-size="23.5"> (+)</tspan></text>
<line x1="931.3" y1="843.3" x2="931.3" y2="852.3" stroke="#333" stroke-width="1.5"/>
<text transform="translate(938.9,865) rotate(-90)" text-anchor="end"><tspan font-style="italic">KLF16</tspan><tspan font-size="23.5"> (+)</tspan></text>
<line x1="964.3" y1="843.3" x2="964.3" y2="852.3" stroke="#333" stroke-width="1.5"/>
<text transform="translate(971.9,865) rotate(-90)" text-anchor="end"><tspan font-style="italic">KLF3</tspan><tspan font-size="23.5"> (+)</tspan></text>
<line x1="997.2" y1="843.3" x2="997.2" y2="852.3" stroke="#333" stroke-width="1.5"/>
<text transform="translate(1004.8,865) rotate(-90)" text-anchor="end"><tspan font-style="italic">HIC1</tspan><tspan font-size="23.5"> (+)</tspan></text>
<line x1="1030.1" y1="843.3" x2="1030.1" y2="852.3" stroke="#333" stroke-width="1.5"/>
<text transform="translate(1037.7,865) rotate(-90)" text-anchor="end"><tspan font-style="italic">NFIL3</tspan><tspan font-size="23.5"> (+)</tspan></text>
<line x1="1063" y1="843.3" x2="1063" y2="852.3" stroke="#333" stroke-width="1.5"/>
<text transform="translate(1070.6,865) rotate(-90)" text-anchor="end"><tspan font-style="italic">STAT2</tspan><tspan font-size="23.5"> (+)</tspan></text>
<line x1="1095.9" y1="843.3" x2="1095.9" y2="852.3" stroke="#333" stroke-width="1.5"/>
<text transform="translate(1103.5,865) rotate(-90)" text-anchor="end"><tspan font-style="italic">ZNF404</tspan><tspan font-size="23.5"> (+)</tspan></text>
<text x="983.6" y="580" text-anchor="middle">Expression</text>
<rect x="916.7" y="625.4" width="133.7" height="17.2" fill="url(#vh)" stroke="#231F20" stroke-width="1.3"/>
<line x1="916.7" y1="618.8" x2="916.7" y2="625.4" stroke="#231F20" stroke-width="1.3"/>
<text x="916.7" y="609" font-size="22.5" text-anchor="middle" letter-spacing="0.8">0</text>
<line x1="983.6" y1="618.8" x2="983.6" y2="625.4" stroke="#231F20" stroke-width="1.3"/>
<text x="983.6" y="609" font-size="22.5" text-anchor="middle" letter-spacing="0.8">0.5</text>
<line x1="1050.4" y1="618.8" x2="1050.4" y2="625.4" stroke="#231F20" stroke-width="1.3"/>
<text x="1050.4" y="609" font-size="22.5" text-anchor="middle" letter-spacing="0.8">1.0</text>
<text x="1216" y="786" class="pl">f</text>
<text x="1283.3" y="795.9">CD56<tspan dy="-11" font-size="19" letter-spacing="0.9">bright</tspan><tspan dy="11" letter-spacing="1.1"> states</tspan></text>
<text x="1763.6" y="795.9">CD56<tspan dy="-11" font-size="19" letter-spacing="0.9">dim</tspan><tspan dy="11" letter-spacing="1.1"> states</tspan></text>
<path d="M1240.7 849.4V822.9H1526.5V849.4M1384 822.9V803M1553.8 849.4V822.9H2147.6V849.4M1849.8 822.9V803" fill="none" stroke="#8A8C8E" stroke-width="1.3"/>
<defs><filter id="glow" x="-40%" y="-40%" width="180%" height="180%"><feGaussianBlur stdDeviation="8"/></filter></defs>
<path d="M1301.5 840.9 C1342.3 839.7 1370.4 865.6 1370.4 898.9 C1370.4 927.3 1360.2 944.6 1342.3 955.7 C1321.9 968 1291.3 966.8 1268.3 947 C1233.9 917.4 1233.9 845.8 1301.5 840.9 Z" fill="#9E1A4A" stroke="#231F20" stroke-width="1.4"/>
<circle cx="1256.2" cy="911.9" r="5" fill="#E6E6C5"/>
<circle cx="1276.3" cy="908" r="3.9" fill="#E6E6C5"/>
<ellipse cx="1326.7" cy="902.2" rx="36.6" ry="37.2" fill="#E6E6C5" stroke="#1E2A78" stroke-width="1.5"/>
<text x="1326.7" y="909.6" font-size="18.5" text-anchor="middle" letter-spacing="0.1" textLength="66.5" lengthAdjust="spacing">Group 1</text>
<text x="1305.7" y="1001" text-anchor="middle" textLength="107.2" lengthAdjust="spacing">Stressed</text>
<path d="M1457.4 841.7 C1497.9 840.5 1525.8 866.3 1525.8 899.6 C1525.8 927.9 1515.7 945.1 1497.9 956.2 C1477.7 968.5 1447.2 967.3 1424.4 947.6 C1390.2 918 1390.2 846.6 1457.4 841.7 Z" fill="#F9DA85" stroke="#231F20" stroke-width="1.4"/>
<circle cx="1415" cy="890.2" r="5" fill="#E6E6C5" stroke="#8A8C8E" stroke-width="1"/>
<circle cx="1431.7" cy="899.4" r="3.9" fill="#E6E6C5" stroke="#8A8C8E" stroke-width="1"/>
<circle cx="1412.2" cy="912.5" r="5" fill="#E6E6C5" stroke="#8A8C8E" stroke-width="1"/>
<ellipse cx="1482.4" cy="902.7" rx="36.6" ry="37.2" fill="#E6E6C5" stroke="#1E2A78" stroke-width="1.5"/>
<text x="1482.4" y="910.1" font-size="18.5" text-anchor="middle" letter-spacing="0.1" textLength="69.5" lengthAdjust="spacing">Group 2</text>
<text x="1462.3" y="1001" text-anchor="middle" textLength="89.5" lengthAdjust="spacing">Typical</text>
<path d="M1612.6 840.9 C1653.1 839.7 1681 865.6 1681 898.9 C1681 927.3 1670.9 944.6 1653.1 955.7 C1632.9 968 1602.4 966.8 1579.6 947 C1545.4 917.4 1545.4 845.8 1612.6 840.9 Z" fill="#EE6F4B" stroke="#231F20" stroke-width="1.4"/>
<circle cx="1581.6" cy="871.5" r="6.1" fill="#E3E3B8"/>
<circle cx="1597.4" cy="872.4" r="7" fill="#E3E3B8"/>
<circle cx="1570.1" cy="886.9" r="7.2" fill="#E3E3B8"/>
<circle cx="1587.1" cy="888.2" r="5" fill="#E3E3B8"/>
<circle cx="1579.9" cy="902.7" r="7.5" fill="#E3E3B8"/>
<circle cx="1567.4" cy="911.9" r="5" fill="#E3E3B8"/>
<circle cx="1592.7" cy="918.1" r="7" fill="#E3E3B8"/>
<circle cx="1577.1" cy="924.5" r="5.6" fill="#E3E3B8"/>
<ellipse cx="1637.8" cy="902.2" rx="36.6" ry="37.2" fill="#E6E6C5" stroke="#1E2A78" stroke-width="1.5"/>
<text x="1637.8" y="909.6" font-size="18.5" text-anchor="middle" letter-spacing="0.1" textLength="69.5" lengthAdjust="spacing">Group 3</text>
<text x="1617.5" y="1001" text-anchor="middle" textLength="96.1" lengthAdjust="spacing">Effector</text>
<path d="M1768.3 842.3 C1808.9 841.1 1836.8 866.9 1836.8 900.2 C1836.8 928.5 1826.7 945.7 1808.9 956.8 C1788.6 969.1 1758.2 967.9 1735.4 948.2 C1701.1 918.6 1701.1 847.2 1768.3 842.3 Z" fill="#D0DD8E" stroke="#231F20" stroke-width="1.4"/>
<circle cx="1736.8" cy="872.4" r="6.1" fill="#DFE5C0" stroke="#8A8C8E" stroke-width="1"/>
<circle cx="1742.9" cy="889.6" r="5" fill="#DFE5C0" stroke="#8A8C8E" stroke-width="1"/>
<circle cx="1723.4" cy="913.6" r="5" fill="#DFE5C0" stroke="#8A8C8E" stroke-width="1"/>
<circle cx="1747.7" cy="913.6" r="3.9" fill="#DFE5C0" stroke="#8A8C8E" stroke-width="1"/>
<ellipse cx="1793" cy="902.7" rx="36.6" ry="37.2" fill="#DFE5C0" stroke="#1E2A78" stroke-width="1.5"/>
<text x="1793" y="910.1" font-size="18.5" text-anchor="middle" letter-spacing="0.1" textLength="69.5" lengthAdjust="spacing">Group 4</text>
<text x="1773.8" y="1001" text-anchor="middle" textLength="110.6" lengthAdjust="spacing">Adaptive</text>
<ellipse cx="1928.6" cy="902.6" rx="76" ry="75" fill="#6FBBA8" opacity="0.6" filter="url(#glow)"/>
<path d="M1923.6 840.9 C1963.9 839.7 1991.7 865.6 1991.7 898.9 C1991.7 927.3 1981.6 944.6 1963.9 955.7 C1943.7 968 1913.5 966.8 1890.7 947 C1856.7 917.4 1856.7 845.8 1923.6 840.9 Z" fill="#55B09A" stroke="#231F20" stroke-width="1.4"/>
<circle cx="1892.5" cy="871" r="6.1" fill="#E5E6BE"/>
<circle cx="1898.4" cy="887.7" r="5" fill="#E5E6BE"/>
<circle cx="1891.1" cy="902.5" r="7.5" fill="#E5E6BE"/>
<circle cx="1878.6" cy="911.4" r="5" fill="#E5E6BE"/>
<circle cx="1903.1" cy="911.4" r="3.6" fill="#E5E6BE"/>
<circle cx="1892.8" cy="923.9" r="5.6" fill="#E5E6BE"/>
<ellipse cx="1948.5" cy="901.6" rx="36.6" ry="37.2" fill="#D8E0C0" stroke="#1E2A78" stroke-width="1.5"/>
<text x="1948.5" y="909" font-size="18.5" text-anchor="middle" letter-spacing="0.1" textLength="69.5" lengthAdjust="spacing">Group 5</text>
<text x="1932" y="1001" text-anchor="middle" textLength="119.2" lengthAdjust="spacing">Activated</text>
<path d="M2079.2 841.7 C2119.8 840.5 2147.7 866.4 2147.7 899.8 C2147.7 928.3 2137.6 945.6 2119.8 956.7 C2099.5 969.1 2069.1 967.9 2046.3 948.1 C2012 918.4 2012 846.6 2079.2 841.7 Z" fill="#57549E" stroke="#231F20" stroke-width="1.4"/>
<circle cx="2047.9" cy="872.4" r="6.1" fill="#E5E6BE"/>
<circle cx="2053.8" cy="889.1" r="5" fill="#E5E6BE"/>
<circle cx="2046.5" cy="903" r="7.5" fill="#E5E6BE"/>
<circle cx="2034" cy="913" r="5" fill="#E5E6BE"/>
<circle cx="2058.5" cy="913" r="3.6" fill="#E5E6BE"/>
<circle cx="2048.2" cy="925.3" r="5.6" fill="#E5E6BE"/>
<ellipse cx="2104.5" cy="902.7" rx="36.6" ry="37.2" fill="#D2D2BE" stroke="#1E2A78" stroke-width="1.5"/>
<text x="2104.5" y="910.1" font-size="18.5" text-anchor="middle" letter-spacing="0.1" textLength="69.5" lengthAdjust="spacing">Group 6</text>
<text x="2086.1" y="1001" text-anchor="middle" textLength="89.5" lengthAdjust="spacing">Typical</text>
<text x="2" y="1077" class="pl">g</text>
<text x="88.2" y="1094.6" textLength="102" lengthAdjust="spacing">Group 2</text>
<line x1="218.8" y1="1087.5" x2="197.3" y2="1087.5" stroke="#3C5A78" stroke-width="1.8"/>
<path d="M192.5 1087.5L202.5 1083.5L199.3 1087.5L202.5 1091.5Z" fill="#3C5A78"/>
<text x="220.5" y="1094.6" textLength="186.8" lengthAdjust="spacing">Upregulated in</text>
<line x1="409" y1="1087.5" x2="432.8" y2="1087.5" stroke="#3C5A78" stroke-width="1.8"/>
<path d="M437.6 1087.5L427.6 1083.5L430.8 1087.5L427.6 1091.5Z" fill="#3C5A78"/>
<text x="441" y="1094.6" textLength="97.6" lengthAdjust="spacing">Group 1</text>
<rect x="89.9" y="1111.1" width="446.7" height="444" fill="none" stroke="#333" stroke-width="1.5"/>
<line x1="92.9" y1="1555.1" x2="92.9" y2="1565.1" stroke="#333" stroke-width="1.5"/>
<text x="92.9" y="1592.9" font-size="21.5" text-anchor="middle" letter-spacing="0.8">−1.0</text>
<line x1="186.5" y1="1555.1" x2="186.5" y2="1565.1" stroke="#333" stroke-width="1.5"/>
<text x="186.5" y="1592.9" font-size="21.5" text-anchor="middle" letter-spacing="0.8">−0.5</text>
<line x1="280.4" y1="1555.1" x2="280.4" y2="1565.1" stroke="#333" stroke-width="1.5"/>
<text x="280.4" y="1592.9" font-size="21.5" text-anchor="middle" letter-spacing="0.8">0</text>
<line x1="374.3" y1="1555.1" x2="374.3" y2="1565.1" stroke="#333" stroke-width="1.5"/>
<text x="374.3" y="1592.9" font-size="21.5" text-anchor="middle" letter-spacing="0.8">0.5</text>
<line x1="467.9" y1="1555.1" x2="467.9" y2="1565.1" stroke="#333" stroke-width="1.5"/>
<text x="467.9" y="1592.9" font-size="21.5" text-anchor="middle" letter-spacing="0.8">1.0</text>
<line x1="79.9" y1="1136.7" x2="89.9" y2="1136.7" stroke="#333" stroke-width="1.5"/>
<text x="78.3" y="1144.4" font-size="21.5" text-anchor="end" letter-spacing="0.8">10</text>
<line x1="79.9" y1="1216.1" x2="89.9" y2="1216.1" stroke="#333" stroke-width="1.5"/>
<text x="78.3" y="1223.8" font-size="21.5" text-anchor="end" letter-spacing="0.8">8</text>
<line x1="79.9" y1="1295.9" x2="89.9" y2="1295.9" stroke="#333" stroke-width="1.5"/>
<text x="78.3" y="1303.6" font-size="21.5" text-anchor="end" letter-spacing="0.8">6</text>
<line x1="79.9" y1="1375.7" x2="89.9" y2="1375.7" stroke="#333" stroke-width="1.5"/>
<text x="78.3" y="1383.4" font-size="21.5" text-anchor="end" letter-spacing="0.8">4</text>
<line x1="79.9" y1="1455.2" x2="89.9" y2="1455.2" stroke="#333" stroke-width="1.5"/>
<text x="78.3" y="1462.9" font-size="21.5" text-anchor="end" letter-spacing="0.8">2</text>
<line x1="79.9" y1="1534.9" x2="89.9" y2="1534.9" stroke="#333" stroke-width="1.5"/>
<text x="78.3" y="1542.6" font-size="21.5" text-anchor="end" letter-spacing="0.8">0</text>
<path d="M248.2 1521.7h0M265.9 1521.2h0M269.7 1519.4h0M272.5 1519.2h0M277.5 1513.1h0M272.3 1527h0M288.2 1532.8h0M258 1534h0M264.1 1496.5h0M262.3 1531.1h0M274.7 1534.6h0M278.2 1530.3h0M295 1528.8h0M280.6 1522.2h0M257.1 1494.5h0M274.8 1519.7h0M265.7 1511.1h0M274.9 1495.3h0M270 1494.8h0M266.6 1529.2h0M301 1527.4h0M288.2 1523.7h0M251.8 1493.9h0M289.9 1493.8h0M288.5 1534.9h0M306.8 1521h0M294.2 1519.1h0M281.1 1501.9h0M289.9 1528h0M279.9 1504.7h0M279.7 1532.2h0M286.8 1533.5h0M279.9 1500h0M293.6 1521.9h0M278.3 1530.3h0M269 1512.3h0M270.3 1532.2h0M283.6 1528h0M265.8 1502.9h0M308.1 1529.7h0M290.3 1523.9h0M262.4 1532.6h0M277.1 1526.4h0M303.1 1526.2h0M284.2 1527.2h0M279 1515.8h0M267.5 1528.8h0M269.6 1521.7h0M252.7 1515.6h0M265.7 1530.5h0M302.5 1531.2h0M264.1 1528.6h0M276.8 1530.3h0M244 1530.1h0M275.6 1469.3h0M264.9 1522.9h0M317.2 1532.5h0M288 1528.9h0M274 1508.2h0M300.7 1515h0M289.1 1527.3h0M301.4 1533.3h0M252.1 1529.2h0M266.8 1514h0M287.2 1527.7h0M274.8 1534.5h0M273.9 1528h0M281 1530.7h0M271.3 1524.8h0M274.8 1525.1h0M285.2 1486.4h0M272.9 1509.2h0M278.6 1515.7h0M283.1 1534.5h0M262.8 1482.1h0M242.5 1534.4h0M255.1 1512.8h0M281 1526.5h0M255.9 1531.9h0M266 1484.5h0M268.4 1505.7h0M254.1 1480.9h0M266 1525.4h0M251.2 1490.1h0M284.9 1523.1h0M250.9 1516.3h0M263.3 1513.4h0M287.8 1514.4h0M248.9 1533.1h0M246.6 1488.5h0M259.5 1506.4h0M290.3 1515.9h0M280.7 1522.2h0M270.1 1504.5h0M265.8 1534.2h0M268.9 1529.2h0M257.9 1508.7h0M269.8 1479.5h0M291.2 1528.4h0M276.1 1510.1h0M294.7 1529.9h0M299.7 1511.3h0M287.3 1522.1h0M268.4 1510.9h0M254.7 1530.1h0M277 1481.1h0M261.2 1488.4h0M291.1 1526.6h0M250.8 1531.7h0M272.7 1493.6h0M284.3 1507.7h0M275.5 1530.8h0M276 1521.8h0M287.5 1523.2h0M264.7 1513.4h0M272.8 1494.9h0M279.6 1516.9h0M272.7 1489.8h0M274.7 1534h0M260.3 1526.8h0M279.7 1500.6h0M278.4 1521.6h0M285.3 1534.4h0M269.7 1531.6h0M268.4 1533.8h0M265.7 1513.1h0M287 1511.6h0M245.7 1509.6h0M269.9 1530h0M281.5 1534.7h0M275.5 1520.9h0M269.8 1527.9h0M272.6 1525.6h0M261.2 1514h0M257.7 1504h0M280.7 1483.1h0M301.8 1532.9h0M269.6 1531.9h0M256.1 1521.7h0M255.9 1524.5h0M293.8 1516.5h0M258 1471.7h0M272 1521.3h0M268 1506.9h0M261.8 1497.6h0M260.8 1529.6h0M297 1484.5h0M272.3 1518h0M262.8 1500.7h0M293 1492.5h0M291.7 1525.5h0M283.9 1517.4h0M271.2 1502.9h0M273.4 1498.6h0M282.6 1533.5h0M269.9 1526h0M277.8 1501h0M283 1519h0M284.7 1506.8h0M257.5 1471.1h0M282.7 1520h0M277 1529.4h0M271.5 1518.5h0M295.9 1512.6h0M286.6 1518.7h0M263.1 1526.7h0M295.2 1524.4h0M252.8 1529.8h0M284.9 1493.3h0M273.3 1516.3h0M262 1530h0M272.7 1514.6h0M298 1534.3h0M274.7 1523.7h0M261.1 1499.6h0M269.6 1509.2h0M264.5 1533.4h0M265.2 1466.1h0M268.2 1478.7h0M296.4 1531.9h0M289.7 1522.5h0M250.2 1520.7h0M285.7 1526.5h0M280.9 1478.1h0M280 1531.9h0M276 1530.2h0M274 1529.3h0M266.6 1525.3h0M292.7 1513.7h0M294.4 1532h0M277 1519.3h0M285.9 1518.4h0M267.4 1522.3h0M286.7 1518.4h0M285.3 1531.1h0M293.3 1512.6h0M288 1518.4h0M260.3 1492.4h0M277.4 1529.1h0M252.9 1483.9h0M265.5 1526.6h0M309.7 1529.5h0M279 1499.6h0M281.4 1506.5h0M301.5 1528.3h0M292.9 1522.9h0M281.8 1500.7h0M284.3 1509.6h0M287 1534.5h0M283.6 1481.9h0M254.1 1530.3h0M276.3 1519.6h0M277 1509.6h0M284.9 1532.4h0M262.4 1534.1h0M271.5 1516.5h0M283.4 1531.4h0M279.2 1494.8h0M276.4 1498h0M269.1 1468.7h0M278.6 1521.3h0M265.2 1521.1h0M260.4 1519h0M288.8 1534.6h0M279.4 1508.5h0M270.2 1521.7h0M267.9 1505.5h0M284.8 1531h0M305.7 1519.2h0M275.7 1499.5h0M286.2 1508.2h0M262.6 1523.6h0M238.9 1514.9h0M272.4 1499.1h0M299.3 1528.4h0M263.6 1502h0M253.3 1498h0M283.3 1488.5h0M277.4 1508.9h0M254 1523.5h0M284.8 1506.8h0M282.8 1521.1h0M266.5 1534.7h0M290.6 1513.5h0M299.4 1529.1h0M271.1 1525.9h0M261.4 1511.3h0M270.6 1524.1h0M268.8 1509.3h0M255.2 1534h0M275.4 1514h0M267.1 1523.7h0M284.8 1533.8h0M293.4 1532.6h0M294.2 1528.6h0M267.5 1519.4h0M294 1512.3h0M272.7 1498.6h0M258.7 1533.2h0M265 1533.9h0M274.4 1476.6h0M293.5 1530.8h0M273.6 1519.9h0M266.2 1471.3h0M259.1 1522.9h0M274.9 1524.9h0M268.2 1527.5h0M263.2 1527.6h0M274.2 1507.3h0M281.2 1528.7h0M294 1533.9h0M297.7 1524.1h0M270.6 1485h0M269.4 1497.3h0M293.1 1533.2h0M269.2 1520.7h0M244.9 1525.2h0M270.5 1506.8h0M302.6 1521.1h0M273 1514.6h0M267.7 1532.2h0M267.6 1529.9h0M272.1 1533.7h0M276.3 1522.1h0M266 1510.8h0M279.3 1515.8h0M280.8 1523h0M259.4 1497h0M275 1505.9h0M275.6 1486h0M266 1501.3h0M269 1528h0M259.9 1509.6h0M269 1513h0M277.6 1504.3h0M281.1 1498.5h0M274.8 1488.7h0M280 1528h0M273.1 1522.8h0M272.4 1517.8h0M299.3 1533.3h0M287.1 1517.4h0M265.6 1513.1h0M291.1 1529.7h0M277.4 1525.7h0M250.7 1533.2h0M287.2 1532.1h0M258.7 1502.8h0M268.9 1529.7h0M277.2 1498.6h0M253.7 1524.8h0M242.8 1526.3h0M276 1517.5h0M246.2 1522.7h0M301.9 1524.8h0M297.4 1533.1h0M263.6 1533h0M269.6 1509.6h0M279.5 1527.1h0M273.2 1529.6h0M285 1511.1h0M279.8 1506.6h0M273.7 1509h0M286 1525.2h0M270.6 1506.6h0M279.5 1507.9h0M304 1516.5h0M259.1 1481.4h0M281.5 1522.3h0M266.8 1526.5h0M305.4 1523.7h0M266.4 1528.7h0M269.2 1525.1h0M288 1523.9h0M284.2 1524.2h0M287.3 1500h0M285.8 1517.9h0M262.8 1530.6h0M281.2 1503.8h0M271.5 1534.4h0M260.1 1519h0M270.7 1509h0M286.4 1499.2h0M279.3 1500.9h0M301.3 1533h0M278.3 1484.7h0M274 1533h0M269.4 1504.9h0M276 1512h0M282.4 1503.2h0M278.2 1518.8h0M264 1525.9h0M259.7 1508.1h0M275.4 1507h0M285.9 1507.9h0M267 1496.6h0M289.4 1510.8h0M256.9 1495.6h0M284.7 1486.9h0M271.9 1518.7h0M279.1 1507.8h0M263.9 1523h0M276.8 1531.4h0M234.5 1524.6h0M283.7 1530.9h0M293.3 1527.3h0M276.9 1532.5h0M281.6 1512h0M275.6 1502.2h0M282 1521.5h0M279.4 1515.7h0M277.3 1532.4h0M281.4 1530.4h0M283.6 1507.2h0M277.7 1515.1h0M287.9 1527.7h0M279.9 1530.8h0M265.2 1517.5h0M264.4 1497.7h0M272 1487.1h0M263.5 1481.1h0M275 1466h0M278.1 1520.5h0M270.4 1470.4h0M262.9 1499.5h0M288 1519h0M300 1527.9h0M277.6 1529h0M265.4 1534.7h0M275.3 1500h0M269.2 1507.6h0M273.9 1531.2h0M276.7 1526.4h0M304.4 1519h0M286 1512.7h0M276.4 1518.2h0M279.5 1531.3h0M272.3 1497.2h0M274.2 1493.9h0M273.3 1528h0M286.3 1507.3h0M286.5 1521.1h0M254.2 1466.8h0M263.7 1527h0M251.3 1500.8h0M296.5 1532.8h0M276.4 1496.6h0M293.3 1518.6h0M285.7 1531.1h0M267.6 1526.8h0M273.9 1533.2h0M287.8 1507.4h0M275.6 1525.1h0M271.8 1523.9h0M303 1521.3h0M270.7 1511.7h0M262.7 1534.6h0M295.1 1529h0M274.7 1516.7h0M274.5 1503.1h0M269.9 1529.8h0M270.2 1524.6h0M273.2 1517.9h0M290.2 1524h0M275.1 1510.8h0M282.7 1506.1h0M295.8 1526.2h0M269.4 1506.7h0M281.3 1526.1h0M273.6 1531.6h0M269.2 1532.7h0M258.2 1530.6h0M287.7 1523.6h0M262.3 1532.8h0M283.1 1529.3h0M283.9 1523.5h0M293.8 1533.2h0M270.2 1519.2h0M278.2 1512.1h0M251.9 1524.2h0M276.2 1526.1h0M279.2 1523.7h0M296.8 1508.6h0M273 1511.3h0M287.8 1514.4h0M279.8 1525.7h0M285.5 1511.9h0M285.3 1519.3h0M280.8 1500.9h0M261 1531.1h0M286.2 1503.1h0M267.9 1525.4h0M290.7 1519.7h0M292.2 1514.4h0M279 1507.4h0M263.4 1471.5h0M277.7 1513.3h0M284.7 1528.8h0M272.6 1516.1h0M261.6 1477h0M271 1525.1h0M280.8 1529.5h0M258.5 1483.6h0M272 1516.9h0M317.1 1528.2h0M254.2 1497.7h0M293.8 1514.8h0M297.5 1527.4h0M271.4 1485.1h0M287 1496h0M273.5 1530.4h0M278.1 1534.2h0M314.4 1530.6h0M273.1 1511.4h0M267.3 1526.9h0M257.6 1524.4h0M277.1 1515.3h0M276.6 1530h0M285.9 1521.1h0M286.8 1516.5h0M267.7 1530.7h0M275.3 1516.5h0M275.8 1526.1h0M272.7 1510.6h0M299 1531.5h0M272.7 1521h0M262.5 1523.3h0M261.4 1503.8h0M235.9 1504.4h0M275.6 1495h0M262.5 1492.6h0M284.3 1516.6h0M258.8 1483.3h0M274.9 1522.5h0M269 1483.5h0M278.4 1506.6h0M269 1484.5h0M258.3 1504.4h0M273.9 1526.9h0M276.3 1532h0M263.6 1521.9h0M279.6 1533.7h0M266 1508.9h0M276.8 1526.9h0M278.4 1523.9h0M273.5 1481.9h0M283.7 1508.4h0M264.5 1499.1h0M278.6 1529.4h0M258 1483.7h0M281.6 1532.6h0M270.2 1518h0M273.5 1468.9h0M278.6 1527.1h0M306.7 1526.3h0M282.2 1497.9h0M266.3 1523.8h0M295.7 1533.9h0M290.4 1534.2h0M270.2 1519.8h0M278.5 1475.4h0M276.7 1529.8h0M305.9 1527.2h0M264.3 1530.1h0M265 1495.1h0M292.6 1530.8h0M278.1 1488.5h0M275.6 1513h0M282.6 1530.2h0M276.3 1532.4h0M264.6 1506.6h0M292.1 1490.3h0M287.4 1507.6h0M278.4 1474.1h0M286.3 1522h0M283.4 1526.9h0M277.5 1507.8h0M287.7 1529h0M278.6 1511h0M263.7 1511.2h0M265 1487.7h0M273 1527.1h0M265.7 1477.7h0M266.8 1512.5h0M295.9 1532.8h0M275.4 1518.5h0M294.4 1518.3h0M284.2 1527.6h0M280.9 1528.6h0M272.8 1527.6h0M274.5 1504.1h0M287.6 1517.5h0M314.4 1530.4h0M252.5 1534.2h0M277.5 1521.3h0M260.4 1476.9h0M284.6 1519.7h0M290.5 1512.2h0M264.6 1525.1h0M257.1 1519h0M288.8 1519.5h0M260 1518.8h0M273.8 1468.6h0M302.3 1530.9h0M277.5 1514.4h0M286.5 1502.4h0M275.8 1501.1h0M267.5 1520.2h0M263.8 1529.4h0M271.2 1534.1h0M272.5 1515h0M258.4 1489.7h0M280.8 1530.6h0M279.3 1519.9h0M267.5 1522.4h0M276.6 1499.8h0M296.2 1533.3h0M267.2 1517.7h0M274 1500.6h0M286.6 1526.7h0M271.5 1534h0M294.3 1518.6h0M273.4 1528.2h0M270.4 1497.3h0M279 1530.8h0M282.5 1509.2h0M273.6 1496h0M273 1523.3h0M286.1 1525h0M319.5 1534h0M280.1 1520.2h0M235.6 1531.5h0M277.4 1521.6h0M274.7 1528.9h0M277.2 1486.6h0M289.8 1527.2h0M281 1522.8h0M275.8 1504.5h0M275.7 1505.9h0M286.9 1517.3h0M245.8 1528.8h0M286.1 1525h0M297.9 1525.9h0M277.4 1534h0M275 1523.6h0M274.3 1525.7h0M286.1 1508.9h0M261 1487.3h0M256.6 1521.3h0M295.1 1524.4h0M276.1 1501.6h0M292.6 1530.5h0M281.4 1517.4h0M287.6 1529.6h0M272 1521.1h0M287.4 1507.9h0M274.7 1491.4h0M294 1533.2h0M268.7 1509.2h0M289.3 1534.5h0M278 1530.5h0M278.4 1478.6h0M273.5 1507.4h0M293.4 1531.3h0M259.4 1474.5h0M290.8 1506.8h0M278.5 1482.9h0M279.6 1524.3h0M289.6 1533h0M266.9 1502.7h0M289.8 1518.9h0M283.9 1528.9h0M291.8 1534h0M296.6 1534.2h0M262.4 1526.7h0M288.1 1531.7h0M273.7 1508.1h0M295.8 1510.9h0M282.8 1531.4h0M284.4 1507.6h0M256.5 1523.5h0M298.3 1529.3h0M272.9 1527.3h0M288.7 1534h0M266.4 1534.4h0M262.5 1498.7h0M262.7 1523h0M249.9 1529.6h0M259.6 1509.3h0M249.3 1490.5h0M274.6 1529h0M273.2 1522.7h0M290.9 1524h0M283.6 1526.2h0M275.7 1519.9h0M286 1523.6h0M287.6 1520.8h0M297.7 1528.9h0M271 1532.8h0M292.5 1531.3h0M271.4 1515.8h0M260 1508.5h0M268.6 1534.4h0M288.9 1533.5h0M293.4 1523.6h0M281.6 1515.6h0M272.6 1521h0M290.3 1534.4h0M292.7 1525.6h0M266.9 1528.3h0M281 1510.8h0M289.6 1514h0M260.7 1467.2h0M276.5 1472.4h0M262.6 1502.6h0M263.8 1523.3h0M273.5 1523.1h0M290.1 1488.5h0M281.4 1524.4h0M277.2 1531.7h0M272.5 1519.4h0M291.9 1528.9h0M282.2 1530.2h0M300.9 1529h0M265.2 1534.9h0M274.9 1528.9h0M267.1 1520h0M262.8 1513.5h0M293.8 1516.9h0M245.3 1526h0M287.7 1525.6h0M267.9 1507.3h0M262.7 1508.9h0M246.5 1496.8h0M266.8 1531.1h0M265.9 1516.7h0M272.9 1524.8h0M298.7 1518.2h0M279 1529h0M292.4 1530.6h0M280.5 1519.1h0M283.6 1533.3h0M277.5 1532.5h0M271 1521.8h0M267 1502.5h0M272.5 1490.9h0M279.1 1490.3h0M280.5 1519.4h0M259.3 1500.1h0M293.4 1528.5h0M269.7 1507.4h0M283.6 1503.7h0M279 1494.4h0M261.8 1523h0M258.3 1508h0M258.4 1499.5h0M263.4 1532h0M294.2 1529.1h0M298.9 1530.4h0M269.3 1472.9h0M273.1 1529.6h0M263.5 1513h0M316.6 1523.8h0M261.2 1533.8h0M277.5 1507.6h0M281.5 1527.5h0M280.7 1506.1h0M278.1 1526.1h0M262.9 1534.3h0M273.8 1524.7h0M287.1 1526.8h0M252.2 1527.6h0M260.2 1524h0M261.5 1519.4h0M253.7 1509h0M271.7 1531.4h0M306.4 1530.7h0M300.1 1528.6h0M286.1 1520.2h0M289.3 1534.5h0M288.1 1516.6h0M294.7 1527.9h0M265 1529.2h0M280.3 1528.3h0M309.4 1533.7h0M290.5 1526.8h0M286.9 1533.1h0M293.7 1526.9h0M261 1490.7h0M274.4 1498.9h0M294.7 1523.9h0M281.3 1511.5h0M270.8 1513.5h0M296.1 1491.1h0M287.5 1517.3h0M258.5 1530.7h0M283.7 1534.3h0M286.4 1533.2h0M278.5 1525.2h0M265.3 1519.1h0M289.6 1534.7h0M317.6 1534.7h0M285.8 1518.5h0M254.6 1505.8h0M286.6 1523.7h0M253.1 1502.9h0M293.7 1530.9h0M271.1 1508.2h0M281.5 1528.6h0M274.9 1516.1h0M268.1 1529.3h0M283.5 1511.5h0M262.6 1498.5h0M293.5 1525.3h0M289.3 1527.7h0M272.1 1532.7h0M277.8 1526h0M266.1 1505.1h0M273.2 1517.6h0M271 1532.5h0M270 1531.5h0M293.2 1534.7h0M267.3 1519.6h0M283.6 1518h0M272 1468.3h0M307 1526.4h0M301.6 1504.2h0M303.8 1522.6h0M259.5 1526.2h0M291.9 1530.6h0M263.1 1527.9h0M247 1526.4h0M251.2 1530.5h0M314.7 1531.4h0M262.5 1512.9h0M293.8 1529.7h0M295.6 1513.9h0M259.4 1513.2h0M271 1519.5h0M270.3 1495.1h0M257.5 1509.3h0M283.8 1523h0M280.4 1524.3h0M294.4 1516.3h0M295.7 1519h0M281.5 1521.9h0M251.1 1515.2h0M259.9 1531.3h0M300 1521.1h0M277.4 1526.7h0M286.7 1505.7h0M271 1490.7h0M296.9 1531.9h0M277.9 1529.1h0M257.3 1494.8h0M251.8 1496.2h0M237.2 1499.9h0M276.2 1533.4h0M269.7 1490.2h0M264.9 1498.9h0M250.4 1521.7h0M272.4 1530.1h0M275.1 1527.7h0M272.6 1517.2h0M265.1 1501h0M273.9 1499.7h0M273.8 1492.6h0M258.3 1483.2h0M279.8 1500h0M291.4 1532.6h0M262.6 1534.1h0M290.7 1495.6h0M285.7 1532.2h0M281.9 1493.5h0M280.2 1513.9h0M275.2 1526.7h0M290.8 1513.2h0M262.4 1530.1h0M273.5 1510.7h0M279.4 1525.8h0M270.5 1526.6h0M268.5 1514.7h0M277.9 1508.9h0M281.1 1509h0M282.2 1521.1h0M271.4 1472.9h0M270.7 1514.3h0M281.2 1507.4h0M267.9 1505.7h0M287.2 1523.4h0M268.7 1531.4h0M264.3 1497.3h0M261.7 1523.4h0M271 1472.7h0M275.3 1525.6h0M267.2 1515.9h0M287 1527.6h0M265.8 1492.7h0M247.2 1510.2h0M287.2 1524.2h0M263.9 1505.1h0M269.9 1533.4h0M274.8 1523h0M275.4 1467.3h0M271.2 1527.3h0M258.2 1528.8h0M298 1523.3h0M301.8 1528.6h0M263.6 1523h0M288.8 1493.3h0M270.6 1515.3h0M269.4 1485.2h0M270 1532.9h0M283.7 1506.8h0M260.4 1510.7h0M281.9 1469.5h0M268.4 1534.4h0M266.3 1525.1h0M269.1 1521.2h0M294 1514.5h0M283.7 1496h0M272.2 1496.3h0M262.2 1511.9h0M229.3 1533.4h0M261 1521.3h0M291.6 1529.5h0M273 1526.6h0M283.7 1523.9h0M280.7 1505.3h0M279.6 1512h0M275.5 1513.5h0M264.6 1498.4h0M275.6 1506.2h0M270.5 1521.1h0M303.4 1534.6h0M252.5 1485.4h0M268.7 1534.4h0M290.3 1518.2h0M282.7 1532.3h0M265.9 1519.4h0M272.3 1532h0M276.3 1532.9h0M270.6 1519.2h0M303.3 1528.7h0M287.1 1523.2h0M280.8 1521.7h0M251.4 1517h0M287 1532.5h0M288.1 1493.4h0M306.6 1518.6h0M256.4 1523.5h0M259.4 1518.4h0M296.1 1534.7h0M292.9 1505.9h0M283.3 1507.6h0M295.6 1534.3h0M267.2 1532.3h0M307.5 1512.3h0M282.9 1493.7h0M284.2 1533.1h0M303.8 1528.3h0M299.2 1526.2h0M261 1520.2h0M254 1470.8h0M247.8 1516.5h0M277.8 1523.9h0M277.8 1527.1h0M267.1 1524.9h0M264.7 1522.6h0M279.6 1522.6h0M302.7 1521.8h0M288.6 1533.5h0M263.9 1518.5h0M274.6 1529.4h0M270.5 1532.6h0M285.9 1520.4h0M278.9 1529.2h0M262.2 1534.7h0M279.5 1523.5h0M276 1515.2h0M266.5 1520.3h0M270.5 1527.1h0M266.5 1514.3h0M270.8 1519.8h0M277.1 1519h0M274.6 1532.8h0M275.5 1528.5h0M302.5 1522.8h0M264.9 1491.9h0M281.3 1510h0M308.1 1532.9h0M275.7 1526.2h0M289.2 1526.5h0M255.3 1512.4h0M280.2 1533.6h0M271.9 1513.4h0M293.9 1517.3h0M270.3 1534.4h0M269 1475.3h0M259.8 1534.8h0M258.6 1505.7h0M281.5 1498.4h0M282.9 1533.2h0M261.7 1504.4h0M263.7 1524.5h0M284.7 1532.2h0M277.9 1526.5h0M273.7 1532.2h0M265.7 1495.6h0M263.1 1532.3h0M265.7 1532.1h0M307.4 1516.9h0M271.7 1479h0M290.4 1518.1h0M288.3 1494.9h0M297 1520.9h0M266.3 1534.2h0M280.5 1510.3h0M255.6 1477.3h0M278.9 1524.2h0M288.9 1501.9h0M294.4 1530.9h0M280 1515.6h0M292.4 1531h0M263.7 1525.5h0M268.7 1524.1h0M283.3 1516.2h0M266 1515.7h0M289.5 1520.6h0M273.7 1508.7h0M277.2 1529.1h0M297.9 1516.2h0M303.9 1528.4h0M288.5 1524.5h0M259.3 1507.3h0M284.2 1517h0M260.7 1498.7h0M283.6 1529.1h0M282.4 1504.3h0M277.8 1493.7h0M273.6 1534.1h0M260.3 1517.3h0M298.8 1526h0M297.6 1503.2h0M289.5 1499h0M293.9 1529.5h0M259.2 1530h0M275 1532.1h0M252.1 1503.2h0M259.8 1478.5h0M255.1 1509.3h0M297.5 1507.1h0M293.3 1527.4h0M260.4 1528.2h0M296.9 1528.6h0M281.1 1528.5h0M278.5 1527.3h0M284.6 1520.4h0M276.1 1527.9h0M287.8 1519.3h0M282.4 1489.6h0M289.8 1492.7h0M255.7 1514.3h0M270.9 1518.2h0M294.8 1511.3h0M266.5 1528.3h0M293.1 1533.7h0M269.4 1501h0M265.4 1529.1h0M278 1506.3h0M257.5 1471.9h0M277.6 1525.5h0M285.7 1529.1h0M267.1 1473.1h0M300.3 1511.5h0M293.8 1532.5h0M305.7 1516.7h0M308.1 1526.8h0M285.7 1489.9h0M288.2 1533.4h0M240.5 1534.2h0M259.9 1509.6h0M274.8 1492.6h0M261.7 1533.1h0M283.5 1518.5h0M294.3 1525.3h0M284.1 1519.8h0M298.6 1523.1h0M291.2 1520.3h0M284 1517h0M283 1512.6h0M287.4 1525.9h0M306.4 1508.4h0M259.5 1469.3h0M282.5 1478.1h0M252.1 1534.5h0M259.7 1520.2h0M265.4 1514.1h0M281.2 1514.1h0M274.7 1518.9h0M303.2 1533.6h0M276.9 1465.9h0M308.2 1534.4h0M279.9 1509.4h0M257 1518.8h0M264 1498.8h0M304.9 1534.9h0M282.3 1501.7h0M271.2 1523.4h0M292.1 1534.6h0M272.8 1502.7h0M294.9 1518.6h0M271.1 1526h0M264.5 1529.1h0M273.8 1488.1h0M286.3 1528.5h0M279.9 1520.6h0M266 1528.9h0M274.6 1511.6h0M296.6 1528.5h0M274.3 1489h0M288.2 1527h0M275.2 1526.1h0M256.5 1500.7h0M296.9 1517.9h0M290.7 1528.8h0M240.6 1529.5h0M300.2 1524.8h0M315.2 1525.3h0M255.1 1524.2h0M285.9 1531.7h0M254 1525.9h0M266.7 1500.7h0M283.7 1515.2h0M252.5 1505.3h0M284.3 1534.6h0M273.5 1519.8h0M272.2 1481.1h0M287.9 1531.5h0M295.1 1497.8h0M285.5 1525.7h0M272 1507.5h0M269.6 1471.2h0M281.7 1510.1h0M267.6 1488h0M244 1521.7h0M286.4 1524.7h0M273.1 1473.7h0M285.3 1533.3h0M292.8 1533.8h0M281.5 1526.9h0M283.3 1518.5h0M256 1517.9h0M267.5 1518.5h0M272.9 1470.5h0M285 1533.2h0M280.7 1526.8h0M246.2 1519.6h0M269.9 1531.1h0M295.1 1527.3h0M286.1 1500.4h0M273.7 1514.7h0M265.5 1493.9h0M269.3 1471.8h0M281.1 1533.9h0M264.4 1533.7h0M290.6 1531h0M300.4 1529.7h0M285.1 1534.5h0M301.2 1519.8h0M267.7 1511.7h0M282.1 1534.6h0M289.4 1527h0M278.7 1513.8h0M258.5 1524.8h0M281.9 1526.6h0M292.3 1525.2h0M265.4 1523.1h0M265.1 1517.9h0M272 1481.3h0M305.5 1529.1h0M263.5 1488.1h0M236.2 1531h0M276.3 1527.4h0M277.4 1530.8h0M266.9 1515.7h0M290.9 1531.1h0M275.6 1532.7h0M266.1 1509.5h0M291.5 1519.8h0M248 1416.1h0M262.1 1471.1h0M261 1441.6h0M284.2 1433.5h0M279.3 1443.6h0M273.5 1442.5h0M276.2 1432.9h0M261.1 1444.8h0M267.1 1466.2h0M252.4 1421.7h0M262.5 1423.6h0M297.9 1441.1h0M227.3 1445.8h0M250.4 1442h0M255.8 1442.4h0M293.1 1441.2h0M267.2 1450.8h0M274 1421.4h0M298.8 1423.3h0M258.8 1430.3h0M256.6 1423.6h0M235.3 1423.4h0M268.9 1460.7h0M251.1 1456.6h0M282.4 1416.3h0M266.2 1450.7h0M236.6 1424h0M241.1 1415.5h0M285.3 1432.8h0M272.8 1464.7h0M273 1412.6h0M253.6 1460.1h0M265.9 1429.8h0M217.4 1434h0M262.7 1463.7h0M258 1419.4h0M270.7 1425.3h0M231.9 1437.2h0M251.6 1414.9h0M249.3 1448.3h0M272.9 1450.1h0M264.9 1423.7h0M247.8 1457.6h0M240.9 1429.8h0M258.4 1440.4h0M275.2 1460h0M248.7 1432.5h0M228.4 1451.5h0M274.7 1415.9h0M256.5 1414.4h0M290.3 1434.2h0M257.1 1451.3h0M245.3 1454.5h0M260.9 1469.1h0M245.9 1419.7h0M259.5 1426.8h0M270.1 1456.3h0M283.5 1456.8h0M268.2 1451.7h0M265.7 1450h0M218 1394.9h0M212.1 1476.7h0M215.2 1427.8h0M213.1 1421.9h0M219.5 1419.5h0M237.8 1485.2h0M242.7 1466.2h0M230.6 1513.6h0M219.3 1478.1h0M228.5 1470.6h0M224.4 1434.8h0M213.1 1503.6h0M240.5 1438.6h0M194.1 1479.1h0M213.3 1502h0M220.5 1433.3h0M224.5 1429.8h0M192.8 1451.2h0M193.2 1478.1h0M194.2 1470.8h0M195.9 1380.3h0M215.9 1454.7h0M242 1504.9h0M202 1413.3h0M211.9 1456h0M203.9 1410.9h0M213.9 1474.7h0M214.1 1475.1h0M211.9 1472.5h0M214.3 1445.8h0M214.2 1458.9h0M241.6 1428.7h0M225.6 1439.3h0M228.4 1393.7h0M225.5 1459.1h0M202.2 1422.9h0M241.8 1469.3h0M191.2 1457.7h0M204 1456.3h0M211.3 1419.4h0M362.5 1502.3h0M339.6 1414.2h0M357.3 1475.5h0M340.1 1433.5h0M352 1425.6h0M339.3 1497.9h0M348.1 1455.7h0M336.9 1382.3h0M308.6 1424.8h0M321.7 1434.3h0M365.1 1485.2h0M338.5 1463.2h0M333.5 1508.2h0M342.6 1400.5h0M345.2 1491.6h0M355.1 1472.8h0M309.2 1456.4h0M331.1 1465.1h0M368 1449.2h0M365.3 1477h0M351.8 1506.4h0M320 1440.9h0M347.1 1412.1h0M325.5 1501.1h0M324 1466h0M300.8 1491.7h0M344.8 1504.8h0M320.8 1406.3h0M364 1488h0M311.5 1519.1h0M305.1 1422.2h0M350.5 1492.1h0M333.1 1437.7h0M301.1 1417.3h0M358.8 1493.6h0M348 1434.2h0M322.6 1405h0M314.3 1477.6h0M320.9 1481.3h0M355.5 1452.4h0M341.5 1382.3h0M314.7 1509.7h0M342.2 1505.8h0M366.1 1478h0M329.7 1479.9h0M356.6 1395.5h0M346.2 1502.4h0M323.8 1437.6h0M314.2 1404.5h0M359.7 1491.9h0M324.4 1506.3h0M349 1509.1h0M347.4 1509.1h0M357.5 1455.7h0M339.6 1510.8h0M302.2 1494.5h0M367.5 1445h0M359 1503.8h0M306.2 1524.5h0M347.5 1501.4h0M318.1 1445.8h0M347.4 1487.1h0M331.6 1497h0M338.1 1486.7h0M324.1 1504.4h0M319.4 1505h0M300.3 1499.8h0M340.3 1495.7h0M307 1411.9h0M331.7 1467.7h0M197.9 1239.7h0M219.5 1239.7h0M191.9 1300h0M314.7 1303.7h0M222.2 1338.3h0M232.9 1332.3h0M243.7 1335.7h0M259.2 1337h0M333.3 1337h0M194.6 1368.3h0M227.6 1368.3h0M238.3 1362.6h0M243.7 1365.9h0M265.3 1372h0M328.2 1365.9h0M321.5 1382.8h0M365.2 1399.6h0M373.6 1454.8h0M360.9 1529.9h0M350.1 1475h0M361.9 1440.7h0M362.9 1422.2h0M356.8 1423.8h0" stroke="#808285" stroke-width="5.6" stroke-linecap="round" fill="none"/>
<path d="M125.2 1131.7L138.7 1133.7M110.1 1136L113.4 1160.6M172.3 1278.4L180.8 1274.1M451.1 1158.9L459.5 1154.5M487.4 1224.2L494.2 1224.2M463.9 1258.2L471.3 1258.2M392.2 1262.3L398.9 1271.7M409 1288.5L419.1 1282.5M501.6 1304.3L515 1329.6M476.3 1322.9L487.1 1333M389.8 1346.4L391.5 1361.6M405.6 1363.3L419.1 1356.5M373 1358.2L382.1 1370.7M366.9 1381.8L373.6 1385.1M383.7 1390.9L403.9 1390.9M392.2 1402L399.9 1408.7M388.8 1436.6L396.5 1443.4M379.7 1472.3L387.1 1479.4" stroke="#231F20" stroke-width="1" fill="none"/>
<circle cx="109.1" cy="1131" r="2.9" fill="#E3232D"/>
<circle cx="120.2" cy="1131" r="2.9" fill="#E3232D"/>
<circle cx="164.6" cy="1281.1" r="2.9" fill="#E3232D"/>
<circle cx="444.3" cy="1162.3" r="2.9" fill="#0B7A3E"/>
<circle cx="502.2" cy="1225.2" r="2.9" fill="#0B7A3E"/>
<circle cx="457.8" cy="1257.9" r="2.9" fill="#0B7A3E"/>
<circle cx="401.3" cy="1274.7" r="2.9" fill="#0B7A3E"/>
<circle cx="404.3" cy="1290.9" r="2.9" fill="#0B7A3E"/>
<circle cx="517" cy="1333" r="2.9" fill="#0B7A3E"/>
<circle cx="489.8" cy="1335.3" r="2.9" fill="#0B7A3E"/>
<circle cx="392.2" cy="1365.6" r="2.9" fill="#0B7A3E"/>
<circle cx="401.6" cy="1365.6" r="2.9" fill="#0B7A3E"/>
<circle cx="384.4" cy="1374.4" r="2.9" fill="#0B7A3E"/>
<circle cx="376" cy="1386.8" r="2.9" fill="#0B7A3E"/>
<circle cx="379.7" cy="1390.9" r="2.9" fill="#0B7A3E"/>
<circle cx="389.8" cy="1398.9" r="2.9" fill="#0B7A3E"/>
<circle cx="386.1" cy="1433.9" r="2.9" fill="#0B7A3E"/>
<circle cx="377" cy="1469" r="2.9" fill="#0B7A3E"/>
<text x="139.7" y="1140.4" font-size="15.8" letter-spacing="0.2">XCL1</text>
<text x="109.4" y="1175.4" font-size="15.8" letter-spacing="0.2">XCL2</text>
<text x="461.2" y="1159.6" font-size="15.8" letter-spacing="0.2">FGFBP2</text>
<text x="428.2" y="1230.3" font-size="15.8" letter-spacing="0.2">DNAJB1</text>
<text x="473" y="1264.6" font-size="15.8" letter-spacing="0.2">HSPA1B</text>
<text x="363.6" y="1259.6" font-size="15.8" letter-spacing="0.2">UBC</text>
<text x="420.8" y="1283.1" font-size="15.8" letter-spacing="0.2">HSPE1</text>
<text x="469.6" y="1300.3" font-size="15.8" letter-spacing="0.2">HSPA1A</text>
<text x="393.2" y="1326.2" font-size="15.8" letter-spacing="0.2">HSP90AA1</text>
<text x="345.7" y="1344.7" font-size="15.8" letter-spacing="0.2">DNAJA1</text>
<text x="420.1" y="1362.6" font-size="15.8" letter-spacing="0.2">HSPA6</text>
<text x="322.5" y="1362.6" font-size="15.8" letter-spacing="0.2">HSPH1</text>
<text x="324.8" y="1381.8" font-size="15.8" letter-spacing="0.2">GZMH</text>
<text x="406.6" y="1397.6" font-size="15.8" letter-spacing="0.2">SPON2</text>
<text x="401.3" y="1417.1" font-size="15.8" letter-spacing="0.2">HSPA8</text>
<text x="397.2" y="1451.8" font-size="15.8" letter-spacing="0.2">HSP90AB1</text>
<text x="387.8" y="1486.8" font-size="15.8" letter-spacing="0.2">JUN</text>
<text x="182.4" y="1279.1" font-size="15.8" letter-spacing="0.2">CD7</text>
<text x="313" y="1634.2" text-anchor="middle" textLength="222" lengthAdjust="spacing">log<tspan dy="9" font-size="18">2</tspan><tspan dy="-9">(fold-change)</tspan></text>
<text transform="translate(33.7,1333) rotate(-90)" text-anchor="middle" textLength="184" lengthAdjust="spacing">–log<tspan dy="9" font-size="18">10</tspan><tspan dy="-9">(<tspan font-style="italic">P</tspan> value)</tspan></text>
<text x="577" y="1077" class="pl">h</text>
<text x="623.9" y="1085.5" textLength="156.5" lengthAdjust="spacing">Group 4/5/6</text>
<line x1="813" y1="1078.5" x2="790.2" y2="1078.5" stroke="#3C5A78" stroke-width="1.8"/>
<path d="M785.4 1078.5L795.4 1074.5L792.2 1078.5L795.4 1082.5Z" fill="#3C5A78"/>
<text x="815.7" y="1085.5" textLength="186.2" lengthAdjust="spacing">Upregulated in</text>
<line x1="1004.9" y1="1078.5" x2="1029.1" y2="1078.5" stroke="#3C5A78" stroke-width="1.8"/>
<path d="M1033.9 1078.5L1023.9 1074.5L1027.1 1078.5L1023.9 1082.5Z" fill="#3C5A78"/>
<text x="1038.6" y="1085.5" textLength="102" lengthAdjust="spacing">Group 3</text>
<rect x="661.9" y="1103.4" width="452.8" height="449.4" fill="none" stroke="#333" stroke-width="1.5"/>
<line x1="721.1" y1="1552.8" x2="721.1" y2="1562.8" stroke="#333" stroke-width="1.5"/>
<text x="721.1" y="1592.9" font-size="21.5" text-anchor="middle" letter-spacing="0.8">−0.6</text>
<line x1="781.4" y1="1552.8" x2="781.4" y2="1562.8" stroke="#333" stroke-width="1.5"/>
<text x="781.4" y="1592.9" font-size="21.5" text-anchor="middle" letter-spacing="0.8">−0.4</text>
<line x1="841.7" y1="1552.8" x2="841.7" y2="1562.8" stroke="#333" stroke-width="1.5"/>
<text x="841.7" y="1592.9" font-size="21.5" text-anchor="middle" letter-spacing="0.8">−0.2</text>
<line x1="902.2" y1="1552.8" x2="902.2" y2="1562.8" stroke="#333" stroke-width="1.5"/>
<text x="902.2" y="1592.9" font-size="21.5" text-anchor="middle" letter-spacing="0.8">0</text>
<line x1="962.5" y1="1552.8" x2="962.5" y2="1562.8" stroke="#333" stroke-width="1.5"/>
<text x="962.5" y="1592.9" font-size="21.5" text-anchor="middle" letter-spacing="0.8">0.2</text>
<line x1="1022.8" y1="1552.8" x2="1022.8" y2="1562.8" stroke="#333" stroke-width="1.5"/>
<text x="1022.8" y="1592.9" font-size="21.5" text-anchor="middle" letter-spacing="0.8">0.4</text>
<line x1="1083" y1="1552.8" x2="1083" y2="1562.8" stroke="#333" stroke-width="1.5"/>
<text x="1083" y="1592.9" font-size="21.5" text-anchor="middle" letter-spacing="0.8">0.6</text>
<line x1="651.9" y1="1120.9" x2="661.9" y2="1120.9" stroke="#333" stroke-width="1.5"/>
<text x="650.5" y="1128.6" font-size="21.5" text-anchor="end" letter-spacing="0.8">7</text>
<line x1="651.9" y1="1179.8" x2="661.9" y2="1179.8" stroke="#333" stroke-width="1.5"/>
<text x="650.5" y="1187.5" font-size="21.5" text-anchor="end" letter-spacing="0.8">6</text>
<line x1="651.9" y1="1238.7" x2="661.9" y2="1238.7" stroke="#333" stroke-width="1.5"/>
<text x="650.5" y="1246.4" font-size="21.5" text-anchor="end" letter-spacing="0.8">5</text>
<line x1="651.9" y1="1297.3" x2="661.9" y2="1297.3" stroke="#333" stroke-width="1.5"/>
<text x="650.5" y="1305" font-size="21.5" text-anchor="end" letter-spacing="0.8">4</text>
<line x1="651.9" y1="1356.2" x2="661.9" y2="1356.2" stroke="#333" stroke-width="1.5"/>
<text x="650.5" y="1363.9" font-size="21.5" text-anchor="end" letter-spacing="0.8">3</text>
<line x1="651.9" y1="1414.8" x2="661.9" y2="1414.8" stroke="#333" stroke-width="1.5"/>
<text x="650.5" y="1422.5" font-size="21.5" text-anchor="end" letter-spacing="0.8">2</text>
<line x1="651.9" y1="1473.7" x2="661.9" y2="1473.7" stroke="#333" stroke-width="1.5"/>
<text x="650.5" y="1481.4" font-size="21.5" text-anchor="end" letter-spacing="0.8">1</text>
<line x1="651.9" y1="1532.6" x2="661.9" y2="1532.6" stroke="#333" stroke-width="1.5"/>
<text x="650.5" y="1540.3" font-size="21.5" text-anchor="end" letter-spacing="0.8">0</text>
<path d="M882.5 1503.4h0M864.4 1516h0M870.4 1523.4h0M918.9 1474.7h0M869.9 1501.1h0M919.7 1511.5h0M924.8 1518.2h0M906.9 1515.4h0M942.8 1522.5h0M896.8 1531.2h0M897.6 1528.7h0M899.9 1523.1h0M906.4 1482.5h0M916.5 1528.3h0M900.4 1482.7h0M950 1517.2h0M897.9 1496.5h0M947 1516.1h0M859 1509.1h0M896.4 1516.2h0M913.6 1523h0M910.5 1527.1h0M927.7 1521.9h0M906.5 1495.4h0M918.3 1521.4h0M887.9 1520.8h0M923.8 1521.2h0M900.7 1530.2h0M905.3 1527.3h0M876.7 1525.5h0M890.9 1527.1h0M904.8 1529.7h0M909.1 1517.6h0M902.5 1516.9h0M870.3 1507.2h0M919.3 1519.7h0M899.8 1490.3h0M927.5 1500.6h0M872.4 1518.3h0M919.9 1474.4h0M915 1513.6h0M873.3 1490.1h0M945.1 1502.5h0M901.3 1512h0M915.1 1526.3h0M910.5 1520.2h0M840.9 1501.4h0M910.1 1528.5h0M903.7 1502.2h0M913.1 1517.5h0M882.9 1494.1h0M911.4 1507.7h0M924.4 1480.9h0M910.6 1504.4h0M898.5 1525.7h0M866.2 1511.4h0M898.6 1529.8h0M909.8 1519.7h0M893.9 1521h0M934.2 1442.4h0M857 1492.1h0M912.5 1505.2h0M888 1529h0M921.8 1526.2h0M919.5 1518h0M901.1 1470h0M890.1 1512.3h0M911.7 1527h0M933.7 1526.6h0M893.3 1516.8h0M877.6 1523h0M881.8 1520.1h0M891.3 1531.2h0M893.3 1526.9h0M909.3 1490.4h0M893.1 1525.1h0M895.6 1498.8h0M904.7 1529.3h0M901.8 1514.6h0M888.7 1519.6h0M882.5 1518.1h0M891.4 1525.9h0M880.7 1507.6h0M891.9 1521.8h0M872.1 1505.1h0M856.1 1507.1h0M899.2 1503.8h0M903.9 1517.9h0M864.6 1502.4h0M910.6 1495.1h0M879.7 1525h0M934.6 1512.3h0M890.8 1500.6h0M919.5 1502.2h0M883.2 1527.2h0M902.3 1531.5h0M921.9 1518.3h0M896.2 1522.4h0M883.1 1518.9h0M911.7 1505.6h0M910.9 1531.4h0M917.3 1518.2h0M915.5 1525.8h0M910.8 1505.6h0M924.2 1507.7h0M898.8 1517.2h0M905.5 1531.9h0M914 1516h0M910.3 1522.3h0M891.3 1520.9h0M912.3 1499.4h0M919.7 1506.9h0M926.1 1515.2h0M894.8 1488.5h0M925.6 1493h0M892.5 1517.7h0M925.5 1511.7h0M881 1475.4h0M900.1 1499.4h0M941 1501.5h0M905.9 1520.8h0M894.3 1501.3h0M926.6 1510.5h0M894.5 1514h0M911.2 1516.5h0M952.8 1515.5h0M946.5 1486.7h0M891.8 1504.1h0M950.3 1511.8h0M914 1513.9h0M903.5 1504h0M923.8 1526.2h0M924.7 1507.7h0M911.2 1513.3h0M875.1 1523.4h0M907.9 1502.2h0M944.3 1524h0M894.2 1528.9h0M914.7 1531h0M904.7 1512h0M892.3 1510.8h0M885.6 1511.9h0M898.2 1532.1h0M892.9 1531.2h0M902.2 1510.7h0M925.4 1523.8h0M909.8 1509.8h0M885.4 1527.7h0M922.5 1512.8h0M890.1 1508.9h0M909.4 1489.8h0M917.5 1503.5h0M883 1523.5h0M912 1478.4h0M917.9 1514h0M896.9 1522.8h0M937.3 1519.2h0M923.3 1489.5h0M889.1 1523.6h0M934.4 1522.8h0M900.8 1521h0M909.3 1501.7h0M906.1 1510.4h0M925.9 1513.9h0M900.3 1529.1h0M935.4 1526.9h0M881.9 1523.1h0M911.5 1493.5h0M893.6 1444.9h0M901.1 1530.2h0M895.9 1523.1h0M863.3 1495.4h0M897.6 1529.5h0M944 1518h0M926.5 1512.6h0M911.1 1520h0M902.5 1527.3h0M917.1 1513.8h0M908.3 1524.9h0M889.6 1496.3h0M899.6 1523h0M912.5 1513.1h0M892.7 1509.4h0M898.9 1510.4h0M917.2 1496.7h0M927.3 1512.3h0M903.8 1478.3h0M896 1500.2h0M925.4 1530h0M931.3 1517.4h0M915.2 1520.5h0M929.6 1504.7h0M931.6 1515.8h0M900.2 1526.7h0M899.7 1527.3h0M924.1 1509.1h0M937.9 1516h0M935.5 1513h0M912.3 1493.5h0M909.1 1519.3h0M896.2 1496.9h0M913.4 1530.5h0M900.4 1496.5h0M897.8 1526.8h0M893.9 1516.2h0M919.7 1530.5h0M894.8 1515.3h0M911.8 1522.5h0M882.9 1515.2h0M889.1 1523.7h0M888.1 1514.8h0M891.5 1505.6h0M890.4 1531.1h0M908.2 1527.3h0M910 1530.5h0M891.9 1510.9h0M905.4 1532.6h0M915.3 1481.6h0M892.5 1513.5h0M907.5 1521.5h0M913.9 1524.4h0M918.5 1515.4h0M899.2 1522.2h0M918 1532.1h0M917.7 1521.9h0M923.6 1530h0M917.2 1477.5h0M944.2 1492.9h0M881.5 1518.5h0M916.7 1473.9h0M925.8 1505.5h0M930.1 1523.1h0M896.7 1530.7h0M909.1 1530.9h0M911.9 1531.4h0M944.7 1478.4h0M917.3 1518.5h0M908.8 1512.8h0M880.7 1528.2h0M916.5 1523.1h0M863.8 1505h0M890.7 1516.6h0M905.5 1529.9h0M920.2 1492.7h0M908.4 1526.3h0M882.6 1461.3h0M903.7 1509.8h0M909.3 1524.7h0M892.5 1509.5h0M903.7 1525h0M910.7 1532.3h0M909.3 1525.6h0M921.4 1531.7h0M910.6 1529.8h0M921.8 1468.4h0M924.5 1519.9h0M919.7 1507.7h0M913.9 1514.1h0M921 1508.5h0M892.8 1503.2h0M896.6 1521.9h0M908.6 1502h0M908.1 1500.5h0M924.9 1507.8h0M869.6 1524.3h0M923 1523h0M895.4 1524.5h0M916.1 1516.6h0M925.2 1496.3h0M892.7 1523.5h0M910.7 1525.6h0M912.2 1532.3h0M917.4 1503.4h0M911.2 1532.3h0M901.2 1530.2h0M918.5 1526.3h0M911.2 1524.7h0M913.5 1513.7h0M886.5 1512.8h0M878.9 1508.9h0M896.4 1508.8h0M882.2 1517.9h0M895.9 1494.3h0M893.7 1526.7h0M890.6 1523.4h0M910.2 1526.4h0M917.3 1523.2h0M893.6 1523.5h0M920.4 1493.9h0M904.5 1527.1h0M908.7 1520.2h0M937.7 1502h0M896.8 1500.3h0M922.2 1529.5h0M917.8 1518.2h0M908 1499.9h0M879.6 1514.1h0M919.4 1507.5h0M931.3 1514.1h0M925.4 1477.5h0M898.3 1529.2h0M944.5 1510.1h0M910.9 1507h0M919.4 1493.2h0M896.2 1504.5h0M900.5 1499.9h0M929.8 1496.5h0M908.4 1525.5h0M905.2 1526.3h0M895.4 1507.5h0M893.4 1514.4h0M918.3 1528.3h0M926.4 1523h0M931.5 1506.9h0M920 1531.4h0M949.1 1506.1h0M884.8 1512.5h0M911.4 1521.4h0M888 1518.5h0M908.4 1517.9h0M925.1 1500.6h0M899 1519.2h0M892.1 1526.2h0M871.8 1512.4h0M879.8 1500.8h0M907.4 1530.1h0M903.8 1499.8h0M921.1 1522.8h0M909.1 1530.2h0M921 1523.4h0M910.9 1494.5h0M948.3 1476h0M866.1 1510.1h0M881.6 1519.6h0M896.5 1489.5h0M925.1 1511h0M886.7 1519.7h0M911.9 1530.5h0M914.9 1512.8h0M888.1 1496h0M892.5 1527.9h0M899.5 1514.7h0M900 1530.6h0M883.2 1510.8h0M887 1502.5h0M879.5 1511.3h0M898.2 1519.6h0M900.4 1480.2h0M948.8 1511.4h0M906.6 1531.1h0M912.7 1520.7h0M869.8 1502.3h0M890.9 1503.8h0M911.1 1523.6h0M885.6 1520.8h0M890.7 1527.4h0M898 1519.6h0M917.9 1525.9h0M873.4 1494.6h0M928.2 1515.2h0M894.9 1530.8h0M915.9 1503.1h0M870.8 1508.1h0M889.7 1529.1h0M916.9 1505.5h0M897.1 1515.3h0M927.5 1526.1h0M903.4 1517h0M907.4 1520.6h0M895.1 1501.5h0M915.5 1526.1h0M889.4 1503h0M879.2 1517.9h0M914.4 1506.2h0M861 1501.1h0M938.9 1512.5h0M867.3 1498h0M930.3 1527.6h0M888.8 1517.4h0M912.6 1519.5h0M911.8 1526.6h0M926.8 1512.8h0M927.5 1499.7h0M876.9 1528.7h0M879.9 1519.7h0M877.1 1477.5h0M863.3 1487.3h0M910.5 1523.4h0M910.6 1517.1h0M920.4 1513.3h0M878.7 1515.4h0M915.5 1510.9h0M900.8 1509.5h0M923.5 1507.9h0M927.2 1506.2h0M907.7 1469.2h0M903.6 1523.6h0M881.1 1521.9h0M920.2 1511.6h0M931.1 1508h0M896.7 1511.4h0M924.5 1525.3h0M876.4 1518.3h0M898.8 1514.2h0M938.2 1507.7h0M905.2 1524.7h0M912.1 1516.6h0M900.4 1527.7h0M912.6 1531.1h0M916.2 1461.8h0M900.9 1509h0M902.8 1522.7h0M934.6 1504.8h0M907.1 1490.5h0M908 1529.7h0M922.5 1522.2h0M905.2 1524.5h0M952.1 1519.5h0M913.7 1506.4h0M913.3 1515.4h0M896.6 1496.4h0M905.6 1524.4h0M928.7 1499h0M916.8 1502.2h0M889 1503.5h0M902.6 1528.2h0M911.6 1490.7h0M929.9 1489.5h0M867.1 1507.4h0M971.9 1465.9h0M873.3 1522.2h0M889.4 1527.6h0M891.5 1454.5h0M922.2 1527.2h0M923.4 1528.9h0M929.7 1524.3h0M913.1 1521.8h0M907.5 1523.2h0M937.7 1493.9h0M898.3 1520.3h0M910.9 1486.5h0M898.9 1500.2h0M915.4 1520.7h0M878.4 1481.5h0M908 1517.1h0M912 1515h0M891.2 1532h0M897 1530.4h0M897.8 1465.9h0M899.3 1529.4h0M924.2 1505.4h0M918.1 1515.8h0M909.7 1500.3h0M902.9 1514.7h0M899.9 1515h0M895.8 1494.1h0M921.6 1513.7h0M903.9 1531.7h0M889.6 1529.2h0M905.1 1498.6h0M900.8 1530.4h0M905.8 1525.7h0M916.8 1515.5h0M907.9 1512h0M915.4 1498.3h0M897.6 1511.4h0M899.3 1494.2h0M882.3 1476.8h0M904.6 1511.7h0M946.4 1503.9h0M915.7 1508.7h0M886.8 1530h0M939.2 1489.6h0M926.1 1523.1h0M898.1 1526.1h0M922.9 1515.5h0M900.9 1517.2h0M907.5 1524.3h0M914.7 1513.3h0M951.6 1492.5h0M918.1 1530.9h0M879.1 1524.1h0M935.3 1514.3h0M923.8 1506h0M917.7 1532.1h0M891.9 1513.6h0M899.3 1520.3h0M909.8 1527.3h0M886 1530.6h0M906.1 1525.3h0M887.7 1519.6h0M902.5 1527.7h0M901.3 1522.1h0M883.9 1526.5h0M897.8 1519.3h0M903.2 1521.2h0M918.5 1498h0M909.2 1524.9h0M913.4 1497.9h0M885.2 1501.8h0M918.4 1500.4h0M898.9 1525.6h0M894.1 1532.1h0M906.6 1532.2h0M887.4 1531.1h0M893.5 1510h0M915.5 1522.9h0M944.4 1518.9h0M914.9 1513h0M915.4 1509.7h0M886 1506.7h0M913.7 1526.4h0M907.7 1494.9h0M914.6 1502.1h0M900.8 1520.8h0M924 1529.4h0M894.1 1480.9h0M895.2 1498.3h0M924.4 1494.7h0M893.7 1522h0M914.4 1517.7h0M940 1500.1h0M927.8 1529.4h0M863.1 1493.3h0M929.6 1501.1h0M912.3 1526.6h0M876.2 1500.4h0M903.2 1525.7h0M902.5 1508.6h0M881.9 1506.6h0M921.5 1530.9h0M912.1 1527.3h0M919.3 1496.5h0M930.2 1490.3h0M911.8 1513.3h0M948.3 1507.4h0M869.9 1519.3h0M905.5 1521h0M912.2 1517.3h0M910.3 1501.1h0M913 1529.7h0M901.5 1475.2h0M898.4 1506.5h0M927.6 1498.8h0M921.6 1509.5h0M943.8 1469.4h0M900.2 1507h0M925.7 1528.3h0M902.3 1506.8h0M924.9 1525.1h0M896.7 1511.5h0M869.6 1495.6h0M936.3 1511.9h0M904.1 1519.3h0M925.3 1477.4h0M910.4 1506.4h0M892.8 1504.5h0M905.8 1512.4h0M894.1 1531.9h0M912.8 1491.6h0M900.2 1522.1h0M931 1521.4h0M898.7 1531.1h0M905.7 1519.4h0M911.9 1527.3h0M915.4 1500.1h0M898 1523.4h0M898.8 1528.9h0M899.2 1516.1h0M909.9 1527.6h0M898 1530.3h0M891.9 1530.6h0M890 1503h0M909.3 1482.4h0M898.6 1515h0M940.6 1507.2h0M919.9 1515.3h0M941.5 1474.4h0M926.4 1507.6h0M881 1527h0M900.2 1512.5h0M883.5 1510.6h0M926.3 1491.1h0M892.1 1522.5h0M887.3 1529.3h0M883.6 1524.4h0M896.9 1528.4h0M905.8 1531.4h0M877.6 1521.8h0M901.8 1528.8h0M900.8 1505.1h0M913.7 1520.4h0M898.4 1484.8h0M935.2 1513.8h0M924.7 1505.9h0M918.1 1530h0M907.8 1496.5h0M888.5 1497h0M905.3 1506.2h0M932.7 1518.6h0M924.4 1509.4h0M889.2 1531.3h0M900.7 1529.2h0M935.7 1522.6h0M906.8 1528.6h0M898.6 1531.4h0M911.3 1506.9h0M887.8 1523.4h0M905.3 1527.1h0M877.6 1520.7h0M877.8 1499.1h0M884.6 1503h0M884.9 1512.3h0M912.2 1481.6h0M905 1516h0M912.7 1512h0M916.3 1513.4h0M912.5 1517.8h0M906.3 1506.4h0M932.4 1520.2h0M912.5 1521.2h0M891.1 1482.4h0M895.3 1526.2h0M917.8 1510.4h0M907.8 1527.8h0M916.3 1492h0M872.1 1515.5h0M877.7 1515.4h0M870.4 1494.6h0M889.5 1525.7h0M882.9 1513.1h0M884.3 1503.6h0M909.8 1517.5h0M917 1523.8h0M877.4 1515h0M925.5 1521.7h0M891.9 1519.9h0M921.2 1504.7h0M912.9 1523.7h0M907.6 1531.9h0M920.9 1517.1h0M906.9 1530.5h0M885.9 1473.4h0M892.7 1521.5h0M902.7 1523.6h0M907.3 1530.9h0M915.9 1501.3h0M888.4 1531.4h0M888.6 1523.7h0M892.2 1503.1h0M903.3 1517.9h0M915.1 1508.7h0M895.1 1524.7h0M936.5 1520h0M916.5 1504.9h0M929.5 1525.7h0M901.7 1523.5h0M889.9 1529.5h0M939.3 1511.7h0M892.5 1528.8h0M898.4 1527h0M905 1522.4h0M869.1 1497.7h0M902.4 1527.9h0M904 1504.8h0M909.3 1519.3h0M923 1527.8h0M919.5 1499.2h0M918.4 1531.8h0M914.2 1514.9h0M899.4 1513.9h0M915.4 1513.8h0M903.4 1522.6h0M915.4 1523.3h0M888.5 1521.2h0M931.5 1492.4h0M930.3 1514.9h0M919.8 1484.7h0M910.5 1516h0M917.9 1528.3h0M887.4 1519.8h0M923.5 1515.8h0M886.2 1514.4h0M915.2 1498.1h0M893.4 1513.7h0M909.9 1520.8h0M923.9 1485.4h0M920.6 1524.5h0M889.8 1506.3h0M922.5 1520.4h0M901.4 1531.9h0M927.9 1500.4h0M902.4 1524.9h0M919.9 1502.3h0M929.3 1524.8h0M910.5 1505.9h0M918.9 1520.9h0M886.9 1522.3h0M874.9 1503.9h0M877.6 1497.5h0M923.4 1520.2h0M928.3 1517.9h0M935.5 1493.2h0M931.8 1502.9h0M885 1477.6h0M933.2 1495h0M905.6 1519.5h0M881.3 1519.1h0M915.3 1529.9h0M934.9 1483.9h0M913.7 1517.1h0M892.2 1513.2h0M892.3 1512h0M909.8 1531.1h0M882.1 1517.5h0M923.8 1531.4h0M894.5 1507h0M884.2 1497.7h0M919.9 1524.8h0M899.2 1521.4h0M903.8 1525.7h0M905.9 1512.8h0M905 1525.1h0M956.9 1520.6h0M895 1528.5h0M907 1526.5h0M913.6 1521h0M904.2 1511.3h0M911.4 1532.5h0M959.3 1470.1h0M870.6 1509.2h0M894 1528.7h0M917.5 1523h0M910.2 1518.5h0M887.5 1527.2h0M906.9 1511.6h0M874 1504.3h0M880.1 1527.4h0M892.5 1505.8h0M922.7 1508.6h0M909.9 1531.2h0M922.8 1530.9h0M910.4 1525.2h0M920.3 1532.2h0M899.7 1505.1h0M879.2 1511.4h0M896.9 1514.4h0M915.7 1515.7h0M875.2 1500.3h0M892.9 1527.4h0M907.5 1530.6h0M899.3 1517.3h0M906.4 1511.6h0M916.2 1530.3h0M885.2 1515.8h0M932 1524.7h0M944.4 1517.5h0M923.5 1508.3h0M879.2 1521.4h0M909.7 1482.6h0M883.9 1506.5h0M911.2 1518.6h0M911.3 1502.3h0M925.4 1499h0M922.6 1516.6h0M899.6 1485.8h0M926.3 1522.4h0M887.7 1504.1h0M918.1 1525h0M911.1 1499.6h0M898.8 1524.5h0M914.5 1502.7h0M912.7 1528.7h0M904.4 1528h0M906 1511.9h0M908.7 1513.4h0M920.8 1519.4h0M902.2 1524.1h0M929.5 1509.9h0M903.5 1529h0M918.3 1529.9h0M893.3 1511.5h0M923.3 1531.3h0M906.8 1518.6h0M880 1512.9h0M909.4 1502.2h0M864.9 1524.6h0M902.7 1526.9h0M904.8 1496.2h0M930.2 1514.3h0M925.5 1509.5h0M886.2 1504.8h0M890.8 1498h0M880.4 1522.9h0M927.5 1528.4h0M901.9 1526.2h0M894.9 1532.1h0M907.1 1502.5h0M878.3 1525.3h0M917.8 1475.2h0M915.1 1502.6h0M904.9 1510.7h0M863 1518.7h0M924.8 1495.6h0M887.3 1514.8h0M872.7 1520.5h0M922.5 1515.3h0M885 1503.9h0M895.2 1489.5h0M900.7 1528.3h0M929.4 1483.6h0M893.5 1493.4h0M933.8 1511.3h0M899.5 1496.6h0M874.1 1500.4h0M860 1518h0M906.8 1503.8h0M886.3 1515.1h0M925.5 1473h0M924.3 1520.4h0M908.9 1517.1h0M899.4 1514.6h0M936.3 1519h0M928.7 1517.2h0M892.7 1510.2h0M917.2 1523.5h0M906 1532.4h0M912.4 1522.3h0M934.2 1515.9h0M899.5 1511h0M918.4 1532.6h0M890.5 1513.1h0M921.4 1510.3h0M914.3 1531h0M898.7 1530h0M919.8 1493.5h0M893 1484.1h0M948.8 1508.1h0M919.7 1482h0M906.4 1530.9h0M953.3 1506.9h0M877.2 1525.8h0M923.5 1522.9h0M878.4 1487.1h0M960.2 1489.4h0M900.5 1512.7h0M915.8 1509.9h0M903 1505.6h0M948.8 1510.3h0M908.3 1511.6h0M894.3 1529.4h0M909.5 1522.3h0M960.9 1505.9h0M901 1496h0M887 1518.5h0M912.8 1523.2h0M907.4 1520.3h0M907.1 1529.7h0M892.2 1522.4h0M919.2 1530.4h0M906.4 1515.7h0M889.2 1515.6h0M908.8 1523.1h0M889.5 1507.5h0M931.6 1522.6h0M920.1 1482.9h0M893.7 1498.9h0M912.2 1507.8h0M885 1515.4h0M917.1 1528h0M915.3 1504.9h0M922.7 1521.4h0M876.1 1490.5h0M907.9 1489.3h0M946.1 1492.6h0M890 1513.8h0M896 1516.9h0M903.8 1510.9h0M886.1 1490.7h0M891.9 1496.1h0M912.4 1514.7h0M868.6 1502.4h0M901.8 1529.7h0M918.9 1519.5h0M916.2 1524.2h0M903.9 1508.8h0M921.8 1529.9h0M896.7 1501.1h0M870.5 1523.4h0M900.8 1524.5h0M932.9 1519.2h0M884.8 1519.7h0M889.3 1528h0M916.5 1526.6h0M908.7 1527.5h0M887.3 1474.8h0M920.7 1517.8h0M934.1 1524.8h0M906.3 1517.5h0M871.1 1490.2h0M912.1 1506.3h0M928.6 1526.2h0M917.2 1519.5h0M927.9 1521.7h0M905.4 1504h0M888.2 1520.8h0M898.9 1507.5h0M866.3 1517.8h0M888 1508.8h0M880.1 1523h0M922.1 1523.7h0M908.5 1529.8h0M892.1 1524.1h0M909.3 1532.4h0M910.4 1496h0M920.9 1516h0M868 1508.4h0M895.1 1527.3h0M905 1516.9h0M891.4 1501.5h0M941 1520.5h0M885.3 1502.6h0M935.4 1502.5h0M928.1 1524.6h0M892.3 1530.8h0M919.6 1530.5h0M901.5 1496.7h0M910.6 1501.3h0M894.8 1521.8h0M909.6 1522h0M892.3 1503.5h0M901.7 1498.5h0M852 1488.7h0M906.3 1506.7h0M909.2 1509.1h0M885.6 1530.5h0M945.8 1488.3h0M899.7 1492.1h0M897.7 1501.1h0M902 1521.8h0M929.5 1505.3h0M912.8 1525h0M878.4 1516.2h0M890.6 1530.5h0M930.9 1504.3h0M929.7 1524.7h0M893.6 1526.1h0M906.2 1499.6h0M884.5 1524.3h0M904.5 1514.9h0M931.3 1446.5h0M914.9 1504.3h0M929.2 1510.4h0M918.4 1413h0M934.6 1467.1h0M907.7 1463.4h0M908.8 1493.2h0M933.8 1495.6h0M912.7 1520.3h0M923.7 1454h0M942.3 1459h0M907.4 1501.9h0M905.7 1499.5h0M934.1 1491.2h0M933.4 1417.1h0M913.9 1423.2h0M922.2 1419.1h0M938.6 1477.4h0M924.1 1407.8h0M932.1 1461.2h0M921.7 1396.2h0M920.1 1517.1h0M941.1 1454.5h0M920 1516h0M925.5 1513.3h0M915.7 1442.3h0M906.3 1500h0M929.6 1397.9h0M936.6 1513.2h0M930 1455h0M909.9 1507.5h0M947.6 1468.7h0M940.8 1511.2h0M937.1 1469.1h0M912.2 1515.8h0M929.4 1520.1h0M914.3 1520.8h0M916.7 1482.7h0M930.3 1519.3h0M915.5 1502.9h0M939.7 1470.4h0M912.8 1471.2h0M939.8 1461.8h0M917.8 1518.4h0M927.9 1517.7h0M930.6 1520.8h0M939.1 1416.1h0M931.7 1451.6h0M929.6 1496.8h0M929.3 1450.1h0M908.6 1485.7h0M928.7 1407.7h0M919.8 1486.6h0M916.2 1398.8h0M907 1512.8h0M924.7 1485.2h0M911.9 1454.4h0M929.5 1512.3h0M923.7 1511.1h0M916.1 1416h0M917 1516.2h0M912.7 1500.3h0M925.5 1518h0M953.6 1498.3h0M938.4 1427.4h0M908.8 1513.7h0M913 1490.5h0M917.6 1501.1h0M914.2 1514.8h0M925.6 1505.3h0M910.7 1508.4h0M913.2 1489.6h0M918.4 1519.3h0M911.2 1439.2h0M932.8 1507.4h0M946.4 1409h0M923.8 1510.6h0M919.6 1418h0M920.2 1486.5h0M912.7 1441.8h0M927.4 1497.7h0M925.5 1490.8h0M906.4 1520.5h0M924.9 1497.4h0M928.2 1470.3h0M911.2 1416.4h0M922 1404.1h0M933.8 1467.3h0M917.1 1394.3h0M926.6 1482.4h0M935 1406.9h0M913.2 1503.8h0M952.7 1457.7h0M915.2 1394.2h0M917.2 1395h0M905.9 1519.3h0M916.5 1500.7h0M926.1 1508.3h0M904.3 1518.3h0M914.2 1516.1h0M912.8 1444.1h0M918.2 1464.7h0M917.9 1516.8h0M933.8 1419.4h0M910.4 1447.4h0M920.6 1491.5h0M937.7 1496.4h0M931.9 1489.9h0M914.7 1434.3h0M910.4 1511.9h0M910.5 1471h0M918.1 1508.8h0M924.5 1496.7h0M915.9 1409.9h0M910.5 1466.5h0M923.5 1480.8h0M909.8 1515.2h0M912.2 1458.9h0M930.5 1421.4h0M920.6 1495.9h0M918 1473.6h0M910.8 1476.3h0M913.1 1482.2h0M929 1427.4h0M914.4 1461.3h0M919.8 1463h0M913.2 1474.6h0M926 1493.4h0M920.7 1463.5h0M919.3 1476.7h0M914 1473.3h0M917 1509.1h0M928.2 1410.4h0M927.3 1508h0M919.6 1483h0M908.7 1514.2h0M921.4 1403.2h0M911.3 1445.1h0M916.5 1497.3h0M942.1 1398.1h0M909.7 1512.1h0M930 1394.7h0M929.1 1468.2h0M921.3 1516.8h0M909 1489.2h0M914.6 1518.8h0M935.8 1396.1h0M916.7 1519.7h0M941 1451.6h0M910.8 1449.2h0M934.9 1489.5h0M938 1481.9h0M932.4 1519.3h0M945 1450.2h0M916.4 1407.8h0M915.3 1454.6h0M919.2 1490.9h0M912.2 1440.8h0M912.2 1437.5h0M926 1483h0M921.9 1494.7h0M909.9 1485.9h0M914.6 1402.2h0M917.6 1456.6h0M931.7 1430.5h0M943.6 1406.8h0M917.1 1519.4h0M919.2 1486.2h0M923.7 1475.2h0M930.9 1417.3h0M910.3 1508.9h0M922.4 1513.8h0M921.3 1433.6h0M916.8 1416.3h0M931.4 1482.9h0M953.6 1501.9h0M921.6 1475.9h0M911.2 1477.2h0M916.2 1401.4h0M922.1 1454.5h0M926.5 1465.3h0M926.1 1496.8h0M935.8 1437.6h0M927.7 1504.7h0M909.2 1514.5h0M918.8 1419.9h0M923.8 1395.1h0M917.4 1418.5h0M910.6 1424.5h0M922.5 1482.2h0M909 1516.8h0M922.6 1517.4h0M916.9 1516.1h0M920.5 1411.9h0M918.6 1402.4h0M922.1 1441.5h0M918.8 1500.7h0M922.6 1453.1h0M918.1 1443h0M935.3 1500.4h0M936.4 1515.7h0M938.9 1520.4h0M912.4 1506.1h0M929 1420.8h0M907.3 1514.5h0M907.5 1500.6h0M934.4 1447.3h0M914.5 1480.1h0M910 1498.5h0M914.2 1404.3h0M919 1446.2h0M916.5 1437.2h0M906.8 1480.8h0M935.6 1516h0M912.8 1430h0M918.6 1443.6h0M915.6 1431.3h0M926.2 1445.9h0M914.1 1505h0M931 1406.1h0M924.5 1417.5h0M904.9 1512.7h0M926.3 1489.8h0M944.5 1472h0M931.9 1426.3h0M912.5 1403.5h0M910 1517.1h0M943.7 1469.3h0M941.4 1437.4h0M908.5 1466.2h0M921.8 1442.9h0M907.9 1502.1h0M915.6 1410h0M908.6 1461.3h0M927.1 1395.6h0M921.7 1487.5h0M923.9 1463h0M925 1414.3h0M916.5 1417.6h0M938 1448.6h0M919.3 1512.8h0M905.5 1512.3h0M915.4 1404.8h0M943.9 1427.8h0M917.3 1493.6h0M909.6 1460.7h0M923.9 1450.2h0M924.5 1515h0M914.4 1458.7h0M939.1 1473.1h0M921.9 1471.6h0M906 1493.4h0M946.3 1519.4h0M929.1 1454.5h0M921 1473.2h0M942.7 1462.3h0M944.7 1491h0M942.4 1403.9h0M915.6 1515.7h0M929.8 1500.2h0M913.1 1452.7h0M937.6 1473.7h0M945.1 1469.9h0M925.4 1403.5h0M917.1 1441.2h0M933.2 1517.5h0M918.8 1475.5h0M922.5 1505.4h0M916.9 1519.4h0M910 1514.3h0M908.1 1501.4h0M914.4 1399.8h0M919.5 1519.9h0M916.5 1517.3h0M912.3 1490.8h0M907.2 1476h0M913 1520.8h0M938.1 1425.8h0M942.3 1514.1h0M930.3 1503h0M905.1 1517.5h0M942.8 1500.1h0M932.1 1457.4h0M914.6 1512.8h0M916.1 1484.4h0M926.5 1465.4h0M920 1399.3h0M930.2 1432.1h0M916.3 1480.9h0M931.1 1507.1h0M921.2 1511.7h0M918 1520.5h0M927.2 1498.4h0M911 1497.7h0M913.2 1487.4h0M926.7 1493.6h0M911.7 1470.6h0M933.9 1491.4h0M923.8 1450.8h0M926.4 1512.9h0M909.7 1483.8h0M904.5 1517.1h0M909.5 1487h0M944 1425.9h0M921.6 1433h0M907 1515.7h0M907.6 1516.4h0M916.9 1502.9h0M915.2 1516.4h0M911.7 1510h0M908.9 1468.5h0M912.2 1470.7h0M928 1477.8h0M916.9 1434.6h0M920.5 1430h0M917 1520.2h0M932.5 1485.7h0M910.8 1484.5h0M924 1443.7h0M934.6 1452.8h0M909.3 1501.3h0M931.1 1511.2h0M932.9 1421.1h0M908.6 1512.8h0M940.2 1428.3h0M915 1426.3h0M924.6 1479.3h0M915.4 1509.8h0M913.8 1434.3h0M906.5 1520.4h0M923.9 1485.8h0M915 1500.4h0M908.8 1509.6h0M935.3 1410.6h0M923.5 1513h0M926.8 1439.1h0M913.2 1490.9h0M924.1 1472.4h0M932.5 1401.1h0M939.2 1427.9h0M941.3 1490.8h0M909.9 1447.8h0M917.2 1494.2h0M933.2 1505.2h0M905.1 1507.6h0M936.3 1460.5h0M929.3 1407.4h0M921.9 1418.1h0M951.2 1516.4h0M934.7 1501.3h0M907.8 1515.7h0M911.6 1446.2h0M921.1 1492.7h0M936.2 1520.6h0M906.4 1503.9h0M918.7 1520.5h0M915.9 1508.4h0M924.1 1477.6h0M919.5 1397.4h0M917 1414.3h0M920.5 1505.6h0M914.4 1415.9h0M918.6 1408h0M909.1 1497.3h0M922.3 1451.1h0M911.9 1494.5h0M932.9 1519.7h0M925.5 1495.6h0M920.8 1486.2h0M931.6 1492.2h0M908 1495.8h0M919.7 1519.2h0M908.3 1461.2h0M911.6 1500.1h0M929.5 1417.7h0M905.4 1516.9h0M940.5 1505.5h0M929.6 1458h0M917.4 1400.9h0M909.3 1500.5h0M912.8 1497.8h0M913.5 1412.7h0M915.8 1415.9h0M917.4 1398.3h0M908.8 1514.8h0M917.3 1512h0M935.5 1520.5h0M911.9 1519.4h0M928.6 1483h0M935 1414.1h0M920.4 1419.9h0M910.7 1448.8h0M906.7 1519.5h0M926.1 1416.5h0M906.4 1505.8h0M926.6 1509.7h0M916.3 1483h0M911.5 1475.5h0M912.1 1477.5h0M923.7 1465.5h0M918.3 1512.7h0M911.2 1436.8h0M906.4 1513.2h0M912 1504.5h0M908.2 1476.2h0M919.9 1416.3h0M909.2 1503.5h0M928.4 1426.4h0M928.1 1443.8h0M918.8 1501.1h0M933 1481.7h0M920.1 1426.9h0M923.9 1411.8h0M933.1 1433.4h0M915.4 1505.3h0M915.3 1407.6h0M930.7 1480.2h0M917.8 1464.6h0M928.3 1425.6h0M928.9 1419.4h0M909.4 1503h0M928.6 1512.4h0M920.7 1452h0M906.2 1517.1h0M941.3 1515.1h0M928.5 1434.7h0M940.7 1425.1h0M919 1501.6h0M917.4 1497.7h0M915.8 1464.1h0M930 1472.5h0M917.2 1434.7h0M945.4 1417.2h0M923.7 1520.3h0M925.1 1413.6h0M937 1488.5h0M913.4 1469.6h0M916.4 1513.7h0M918.5 1442.6h0M916.4 1475.4h0M920 1480.8h0M938.4 1506h0M918.2 1437.9h0M916.9 1402.2h0M908.1 1515.9h0M908.2 1499.5h0M929.1 1520.6h0M941.7 1508.5h0M909.2 1449.2h0M907.1 1520.8h0M924.1 1517.3h0M910.8 1508.9h0M914.4 1520.1h0M917.2 1513.9h0M910.2 1489.8h0M923.6 1473.4h0M909.7 1513.4h0M912.9 1410.4h0M929.8 1409.2h0M915.5 1494.5h0M934.8 1443.4h0M920 1489.1h0M907.8 1494.1h0M917 1500.4h0M915 1509.6h0M941.1 1503.3h0M949.3 1445.5h0M919 1485.9h0M928.8 1444.2h0M925.3 1432h0M920.4 1505.5h0M919.2 1439.7h0M924.2 1441.1h0M917.3 1411.8h0M937.3 1505.5h0M929.1 1430.5h0M916.3 1488.8h0M939.3 1427.3h0M909.9 1513.3h0M951.4 1436.2h0M947.7 1478.9h0M944.1 1395.6h0M949 1433.3h0M911.9 1420h0M923.9 1481.3h0M923.4 1516.6h0M925.4 1501.1h0M917 1460.9h0M925 1430.4h0M916.4 1403.9h0M923.5 1502.3h0M937.2 1399.4h0M916.5 1480.9h0M938.7 1503.1h0M911.1 1465h0M905.8 1517.2h0M928.1 1420.4h0M917.2 1435.4h0M917.2 1489h0M922.3 1441.3h0M910.6 1461.2h0M911.9 1394.9h0M910.1 1519.1h0M943.6 1407.3h0M931.1 1453.8h0M929 1457h0M912.4 1470.9h0M930 1476.7h0M906.4 1508.1h0M913 1518.5h0M944.2 1463.2h0M915.5 1513.1h0M907.6 1486.1h0M928.9 1465.2h0M952.9 1512.8h0M918.1 1515.8h0M907.7 1511.3h0M912.5 1520.7h0M916.5 1402.9h0M911 1428h0M917.4 1470.8h0M941.7 1517.6h0M921.3 1461.5h0M930.4 1509.9h0M915 1515.8h0M918.9 1466.9h0M938.2 1445h0M917.7 1398.7h0M920.7 1493.8h0M918 1418.9h0M922.6 1511h0M919.1 1488.9h0M919.4 1472.1h0M948 1477.2h0M905.8 1495.4h0M916.1 1410.7h0M910.7 1427.7h0M924.7 1520.3h0M934.2 1435.5h0M915.8 1398.8h0M930.6 1485.4h0M937.5 1409.8h0M911.2 1487h0M911.5 1404.5h0M926.4 1518.8h0M916.9 1514.3h0M906.2 1499.5h0M908.2 1494.2h0M911.4 1496.2h0M939.6 1405.2h0M911.3 1420.7h0M934 1453h0M920 1436.2h0M920.5 1465.5h0M921.9 1503.1h0M918.2 1450.5h0M944.4 1519.5h0M941.5 1401.6h0M932.1 1500.5h0M950.6 1518h0M932.8 1519.3h0M952.1 1520.5h0M921.2 1427.1h0M922.3 1516.2h0M919.1 1480.9h0M910.8 1414.9h0M921.9 1444.9h0M929.9 1468h0M950.1 1407.2h0M908.8 1519.9h0M923.7 1491.7h0M929.9 1519h0M929.8 1428.9h0M929 1405.8h0M913.2 1421.1h0M933 1475.4h0M918.8 1479.4h0M910.5 1453.6h0M940.3 1492.4h0M916.6 1495.7h0M920.4 1447h0M938.1 1510h0M931.8 1466.5h0M909.4 1518.9h0M905.5 1513.3h0M942 1437.2h0M921.5 1496.1h0M919.2 1476.8h0M931.1 1507.4h0M949.5 1418h0M931.8 1517.3h0M931.5 1489h0M928.1 1461.5h0M926.1 1413.7h0M913.7 1515.6h0M915.4 1519.2h0M938.6 1504.8h0M910.4 1470.6h0M918.3 1400.6h0M924.1 1471.6h0M914.7 1469.1h0M925.2 1518.3h0M911.2 1437.5h0M916.5 1431.7h0M914.6 1520.8h0M929 1504.7h0M905.5 1518.7h0M933 1477.3h0M921.9 1431.7h0M928.1 1504.1h0M907.6 1520.2h0M912.8 1515.2h0M921.6 1520.3h0M911.7 1441.8h0M920.1 1491.6h0M912.2 1405.9h0M936.2 1511.8h0M918.3 1422.1h0M931.4 1518.4h0M909.5 1470.7h0M950.7 1472.5h0M927.2 1398.3h0M925.8 1404.3h0M926.2 1451.7h0M928.7 1513.7h0M924.1 1517.3h0M921.4 1504.8h0M946.9 1394.6h0M917.8 1506.6h0M926.8 1498.3h0M908.7 1509.6h0M909 1490.6h0M909.1 1517.3h0M920.2 1516.6h0M906.6 1512.5h0M936.2 1491.4h0M940.7 1476.3h0M919.7 1409.6h0M913.1 1420.6h0M943.4 1501.4h0M928.2 1466.5h0M942.2 1507.3h0M913.4 1394.2h0M925.8 1444.5h0M909.3 1471.8h0M919.8 1419.7h0M940.2 1512.1h0M908.7 1483.7h0M928.9 1484.9h0M945 1467.4h0M931.2 1457.1h0M923.9 1496.5h0M924.1 1514h0M935.1 1422.1h0M930.1 1480h0M944.7 1459.9h0M912.3 1399.3h0M946.8 1443h0M916.6 1472h0M910.4 1520.7h0M918.7 1520.5h0M919.3 1467.4h0M928.2 1489.1h0M926.7 1497h0M917.7 1461.7h0M948.1 1515.2h0M921.1 1412.6h0M914.1 1397.6h0M910.9 1512.7h0M917.4 1516.7h0M939.8 1435.7h0M933.2 1456.2h0M944.2 1461.1h0M937.1 1501.8h0M913.4 1520.6h0M927.1 1485.3h0M908.6 1492.6h0M910.3 1460.6h0M919.1 1499.1h0M919.7 1456.7h0M916.8 1444.3h0M912.3 1463.7h0M924.8 1467.7h0M911.8 1478.8h0M912.4 1520.5h0M913.7 1513.5h0M937.1 1514.3h0M933.7 1469.6h0M920.6 1483.2h0M916 1421.6h0M912.3 1445.6h0M905.9 1520.8h0M904.9 1520.4h0M910.8 1488.3h0M917.5 1479.4h0M922.5 1406.9h0M912 1403.9h0M934.5 1404.4h0M909.6 1451.4h0M914.6 1516h0M873.1 1517.5h0M876.3 1510.7h0M882.9 1518.6h0M869.3 1420.1h0M881.6 1417.9h0M875 1430.2h0M872.1 1504.6h0M881.2 1508.8h0M889 1474.5h0M857.6 1508.6h0M888.7 1437.4h0M890.3 1487.7h0M878.3 1419.7h0M880.6 1479.3h0M884.7 1499.7h0M880 1513.7h0M876.5 1397.3h0M890.9 1500.9h0M870.9 1499.6h0M886.5 1514.6h0M885.9 1429.1h0M881.8 1513.6h0M865.5 1517.1h0M888.3 1447.7h0M864.8 1508.3h0M859.5 1483.5h0M879.5 1516.7h0M865.7 1519.2h0M890.4 1462.6h0M890.4 1515.1h0M857.1 1508.1h0M874.4 1434.5h0M867.7 1493.5h0M892.4 1511.8h0M878.4 1503.8h0M886.1 1492.9h0M884.2 1455.3h0M888.6 1467.7h0M884.2 1456.9h0M886.8 1499.5h0M876.3 1498.9h0M865.6 1456.8h0M867.1 1397.7h0M883.7 1483.8h0M868.9 1477.7h0M872.3 1448.9h0M853.9 1483.2h0M868.6 1463h0M865.9 1452.7h0M870.3 1485.4h0M879.9 1405.5h0M884.5 1397.1h0M873.1 1513.8h0M869.5 1437.5h0M890.6 1498.2h0M882.1 1516.6h0M876.2 1517h0M858.8 1475h0M866.9 1423.9h0M892.5 1513.1h0M869.8 1417h0M873 1426.4h0M891.2 1516.4h0M865.1 1517.8h0M888.4 1422.7h0M863.7 1438.1h0M879.9 1515.5h0M872.3 1494.1h0M883.5 1431.8h0M888.9 1451.2h0M881.5 1520.2h0M887.5 1491h0M883.7 1490h0M865.7 1497.6h0M892.8 1509.1h0M884.2 1468.6h0M887 1446.5h0M891.3 1518.5h0M884.5 1459.9h0M859.1 1400.1h0M844.5 1450.9h0M871 1508.4h0M890.8 1517.1h0M888.7 1470.8h0M881.5 1475.5h0M866.5 1483.9h0M881.3 1451h0M855.2 1453.5h0M867.5 1517.7h0M880.6 1511.7h0M877.1 1495.4h0M892.6 1518.5h0M863.5 1504.1h0M869.2 1399.9h0M843.2 1426.2h0M855.7 1478.4h0M859.1 1463.4h0M883.2 1427.9h0M886.3 1498.2h0M882.1 1409.3h0M878.9 1488.9h0M885 1421.7h0M866.6 1406.3h0M880.7 1504.1h0M861.5 1450.5h0M867.8 1520.6h0M887.8 1479.5h0M890.4 1462.5h0M880.3 1494.9h0M876.2 1404.4h0M853.6 1510.3h0M888.1 1517.2h0M872 1520.5h0M877.5 1520.2h0M886.1 1427.6h0M866.6 1508h0M873.8 1412h0M888.8 1473.1h0M853.5 1473.9h0M862.7 1487.9h0M851.1 1501.5h0M875.4 1423.9h0M886.2 1440.9h0M880.3 1519.5h0M855.1 1427.8h0M870.5 1435.1h0M859 1399.7h0M870.4 1518.5h0M888.2 1517.1h0M880.9 1445h0M866.1 1399.8h0M886.1 1417.2h0M859.9 1460.8h0M889.7 1486.8h0M868 1519.9h0M873 1515.6h0M887.9 1452.4h0M872.5 1514.3h0M862.9 1518.5h0M883.9 1449.2h0M860.1 1425.3h0M876.3 1507.4h0M888.8 1438.6h0M884.7 1520.7h0M868.8 1414.1h0M851.3 1407.5h0M885.1 1490h0M893.3 1518.8h0M877.6 1425.3h0M883.2 1512h0M893.1 1518.8h0M878.5 1519.7h0M884.4 1430.2h0M880.3 1471.1h0M870.9 1495.9h0M888.4 1474.5h0M842.7 1505.9h0M893.7 1510.6h0M871.2 1490.1h0M888.2 1498.5h0M880.6 1462.1h0M888 1486.7h0M856 1401.1h0M893.1 1495.9h0M890 1479.3h0M879.1 1519.2h0M868.6 1460.3h0M886.2 1409.6h0M879.2 1478.2h0M862.6 1439.9h0M878.3 1458.6h0M864.3 1507.2h0M869.9 1419.5h0M875.8 1461.5h0M890.7 1498.3h0M848.8 1510.5h0M873.2 1496.9h0M881.6 1518.1h0M892.8 1505.4h0M881.4 1482.4h0M844.3 1517.2h0M866.6 1487.6h0M881.7 1484.1h0M886.8 1477.9h0M868.9 1410.6h0M884.4 1478.4h0M888.5 1509.8h0M884 1502.2h0M891.5 1512h0M851.6 1487.5h0M885.4 1499.8h0M885.2 1440.3h0M880.4 1501h0M880.1 1421.6h0M883.6 1425.2h0M878.4 1461.4h0M879.1 1518.8h0M882.7 1456h0M888.6 1517.4h0M876.7 1469.7h0M881.3 1447.3h0M874.6 1448.6h0M886.8 1452.7h0M890 1493.4h0M875.4 1497.8h0M877.5 1500h0M876.9 1514.3h0M888.4 1520.6h0M875.2 1461.8h0M879.3 1486.2h0M880.9 1420.2h0M879.7 1512.6h0M873.7 1496.5h0M858.5 1436.7h0M881 1431h0M875.2 1398.5h0M875.5 1498.8h0M878.3 1448.1h0M879 1520.8h0M848.6 1451.8h0M888.5 1497.6h0M876.6 1439.4h0M861.1 1434.4h0M871.6 1452h0M861.5 1439.5h0M868.5 1414.3h0M878.6 1449h0M881.4 1414.4h0M872.6 1518.3h0M870.5 1515.5h0M885.6 1418.8h0M879.5 1498.4h0M871.5 1454.1h0M869.8 1424.8h0M860.8 1501h0M847.3 1425.3h0M892.1 1488h0M869 1492.6h0M876.4 1456.1h0M885.7 1518.1h0M885.1 1516.5h0M865.9 1435.8h0M875 1495.1h0M872.1 1405.5h0M888.1 1499.4h0M878.8 1435.9h0M868.7 1467.4h0M882.4 1440.3h0M887.2 1513.9h0M891 1512.2h0M892.9 1399.2h0M872.6 1519.3h0M878.5 1490h0M888.7 1474.6h0M892.7 1489.4h0M883.2 1457.8h0M891.4 1510.6h0M878.4 1520.4h0M889.8 1486.4h0M870.7 1520.8h0M889.3 1488.5h0M872.3 1464.6h0M868.6 1444.5h0M891.4 1504h0M890.6 1464.9h0M879.4 1516.3h0M886.8 1450.4h0M857.6 1472.6h0M868.4 1518.1h0M849.5 1428.4h0M882.8 1458.4h0M887.3 1421.3h0M879.1 1480h0M877.5 1408.2h0M865.5 1400.8h0M843.6 1453.8h0M865.6 1454.1h0M873.4 1518.3h0M874.1 1416.3h0M850.8 1444.4h0M874.8 1504.9h0M874.5 1420.6h0M864 1466.6h0M872.3 1437.8h0M870.3 1461h0M869.7 1470.4h0M893.1 1517.4h0M880.8 1478.4h0M892.2 1517.1h0M867.2 1515.7h0M889.3 1450.4h0M885 1445.5h0M855.7 1483.3h0M864.1 1463.5h0M876.6 1435h0M859.6 1451h0M875.8 1443h0M888.7 1494.5h0M878.1 1513.8h0M865.1 1463.1h0M883.2 1436.4h0M862.3 1434.7h0M883.6 1461.8h0M878.7 1501.8h0M885.6 1501.6h0M876 1510.8h0M848.5 1407.2h0M871.1 1488.7h0M853.8 1516.8h0M875.4 1520.4h0M877.5 1518.8h0M882.7 1520.1h0M883 1498.7h0M886.8 1495.1h0M851.2 1507.8h0M890.1 1467.8h0M888.6 1441.9h0M891.6 1517.8h0M868.1 1431h0M887.7 1423.1h0M857.5 1507.1h0M885.7 1449.5h0M892 1519.2h0M850.7 1464.2h0M873 1492.7h0M873.6 1419.8h0M878.8 1505.4h0M881.7 1520.8h0M872.8 1457.4h0M892 1501.2h0M806.9 1424.1h0M848.5 1408.7h0M846.7 1488.6h0M777.5 1479.5h0M838.9 1510.5h0M832.8 1340.9h0M834.9 1458.5h0M790.9 1376.3h0M790 1494h0M811.6 1358.5h0M850.7 1454.1h0M778.6 1443.7h0M808.6 1420.2h0M804 1463.2h0M840 1392h0M794.4 1436.6h0M778.9 1438h0M776.5 1415.5h0M804.8 1355.8h0M813.7 1497.9h0M832.6 1475.6h0M817.5 1406.8h0M805.8 1443.6h0M779.3 1465.1h0M781 1439.7h0M811.9 1492.5h0M802.8 1501.2h0M847.1 1374.2h0M799.1 1340.6h0M830.6 1454.9h0M798.7 1407.8h0M838.1 1393.9h0M809.5 1370.8h0M791.9 1387.1h0M849.5 1513.9h0M788.1 1410.1h0M826.5 1507.1h0M777.2 1354.9h0M850.1 1362.6h0M780.3 1394.5h0M809.1 1471.1h0M798.3 1405.9h0M805.6 1493.6h0M778 1486h0M807.4 1404.9h0M818.9 1347.9h0M842.3 1367.2h0M816.2 1449.8h0M827.9 1429.7h0M788.7 1434.2h0M810 1451.2h0M812.4 1449.8h0M821.2 1484.7h0M787.1 1339.1h0M832.2 1491.8h0M838 1395.1h0M800.5 1478.4h0M790.3 1494h0M794.3 1360.2h0M848.8 1430.2h0M849 1513.4h0M816.8 1346.2h0M795.5 1496.8h0M845.8 1435.1h0M846.1 1511.6h0M838.3 1440h0M840.9 1487.2h0M777.7 1415.4h0M801.3 1492.1h0M787.2 1489.1h0M821.3 1396h0M782.5 1479.1h0M837.6 1496.3h0M819.9 1499.2h0M837.2 1440.5h0M782.3 1463.1h0M826.1 1496.8h0M785.4 1456.6h0M777.2 1485.2h0M784.2 1468.6h0M837 1367.2h0M805.3 1401.2h0M837.7 1345.4h0M792.4 1406.5h0M843.2 1404.3h0M956.5 1387.1h0M1009.1 1418.9h0M956.4 1511.5h0M954 1449.4h0M996.7 1482.5h0M1013.9 1443h0M963.5 1439.2h0M972.6 1489.6h0M968.7 1395.4h0M960.6 1494.9h0M963.5 1423.2h0M1002.5 1446.6h0M964.6 1508.4h0M1020.6 1413.7h0M957.8 1431.1h0M1013.8 1464h0M1021.8 1461.3h0M985.3 1454.2h0M1023.1 1429.4h0M1006.8 1398.9h0M973.9 1456.5h0M986.8 1467.7h0M967.8 1497.5h0M1025 1358.2h0M965.1 1345.8h0M978.1 1399.3h0M987.3 1448h0M984.2 1494.3h0M991.1 1473.8h0M1020 1409.5h0M973.8 1383.3h0M995.6 1417.8h0M1006.8 1397.5h0M969.1 1376.8h0M1007.2 1392.2h0M1007.3 1465.6h0M1024.4 1393.1h0M1019.7 1453.1h0M975.7 1372.9h0M1025.7 1397.3h0M964.2 1486.5h0M992.7 1488.9h0M977.9 1436.9h0M1020.5 1400.3h0M1018 1461h0M1016.5 1461h0M971.7 1422.1h0M971.2 1504h0M1004.2 1479.2h0M999.7 1480.3h0M990.1 1367.2h0M983.7 1483.4h0M1018 1360.5h0M987.8 1401.1h0M971.1 1503.8h0M969.7 1434.7h0M1010.2 1470.7h0M963.7 1485.6h0M972.3 1473.5h0M1007.7 1451.7h0M1007.3 1410.6h0M1019.7 1416.1h0M1023.8 1441.7h0M993 1477.8h0M968.3 1475.8h0M1015.2 1363.6h0M986.5 1465.2h0M977.2 1437.2h0M986.7 1345.8h0M1003.3 1454.8h0M994.3 1445.7h0M1022.9 1459.5h0M1011.6 1458.2h0M981.9 1495.7h0M971.6 1478.2h0M972.6 1426.5h0M962.3 1485.4h0M992.7 1436.1h0M995.9 1478.1h0M972.3 1398.6h0M1025.1 1459.1h0M959.6 1375.2h0M1025.7 1437.4h0M1023.2 1413.9h0M1018.7 1469.9h0M955 1386h0M987.3 1488.6h0M1009.4 1477.2h0M967.5 1405.8h0M1007.2 1432.4h0M997.6 1423.9h0M972.3 1473.5h0M998.4 1471.1h0M1010.6 1361.3h0M998.8 1476.8h0M974 1434.5h0M985.7 1460.2h0M954.8 1477.7h0M980.6 1492.8h0M1024.9 1385.2h0M1023.3 1454.3h0M1002.8 1400.7h0M971.4 1434.4h0M1005.7 1421h0M992.9 1472.8h0M972.6 1477.3h0M989.7 1454.8h0M968.4 1504.4h0M1025.2 1442.7h0M1017.6 1364.9h0M866.4 1401.5h0M876.6 1414.6h0M875.3 1371.3h0M947.6 1402.6h0M921.3 1369.4h0M950.9 1366.4h0M956 1408.7h0M861.5 1363.6h0M909.3 1364.7h0M951.5 1360.2h0M949.3 1384.8h0M977.8 1367.4h0M914.6 1356.5h0M893.6 1390.4h0M931.4 1345.5h0M870.6 1394.3h0M857.5 1368.8h0M913.8 1381h0M895.8 1388.9h0M929.3 1403.6h0M914.1 1404.4h0M918.8 1379.7h0M903.9 1392.5h0M962.5 1398.2h0M921.4 1346.6h0M897.1 1385.1h0M944.8 1379.6h0M959.7 1352.1h0M877.3 1379.3h0M913.3 1382.5h0M938 1401.2h0M884.1 1397.4h0M907.6 1392.6h0M887 1347.9h0M935.1 1392.5h0M856.6 1370h0M932.6 1374.4h0M848.7 1372h0M962.1 1374.8h0M942.7 1389.8h0M899.2 1396.4h0M957.1 1362.2h0M923.3 1378.7h0M886.1 1346h0M847.8 1374.9h0M970.6 1204.4h0M1094.1 1459.9h0M955.4 1290.9h0M960.5 1294.2h0M969.9 1303.3h0M988.1 1312.1h0M912.7 1319.5h0M920.1 1316.1h0M935.2 1312.1h0M953.1 1312.1h0M781.4 1337h0M814.1 1337h0M809 1343.1h0M818.4 1353.2h0M824.1 1361.6h0M817.4 1364.9h0M792.8 1376h0M771.3 1468.3h0M778 1475h0M784.1 1493.2h0M824.8 1518.1h0M1010.3 1365.9h0M1004.2 1355.8h0M992.5 1355.8h0M985.1 1358.2h0M1017.7 1424.5h0M1009.3 1426.5h0M1017 1444h0M1009.3 1436.6h0" stroke="#808285" stroke-width="5.6" stroke-linecap="round" fill="none"/>
<path d="M688.5 1125.6L704.6 1130.3M678.4 1223.6L681.8 1312.8M694.5 1247.1L685.5 1312.8M746.1 1270.7L753.5 1282.5M790.5 1299.3L762.5 1344.7M744.4 1307.7L751.8 1351.5M728.2 1327.9L738.3 1348.1M726.5 1348.1L737.6 1353.2M756.2 1357.2L759.5 1360.6M725.9 1362.6L741 1364.9M736.6 1376L754.5 1375.4M739 1387.2L765.2 1386.1M715.4 1404.3L719.8 1391.9M763.6 1402.3L773.7 1399.6M733.9 1419.8L750.8 1417.1M739.3 1435L769.3 1413.1M747.7 1447.4L763.6 1428.2M750.1 1471L756.2 1448.4M1081.7 1187.5L1091.8 1172.1M1035.5 1250.5L1041.3 1303.3M1019.4 1279.1L1029.5 1296.6M1055.7 1273L1054.1 1312.8M926.8 1289.2L1026.1 1334.6M1095.1 1292.6L1085.7 1339.7M1048 1333L1051.4 1353.2M1085 1364.9L1085.7 1372.7M1027.8 1385.1L1035.9 1357.2M1065.5 1385.1L1053.1 1371.7M1082.7 1474.3L1068.2 1435" stroke="#231F20" stroke-width="1" fill="none"/>
<circle cx="681.4" cy="1123.2" r="2.9" fill="#E3232D"/>
<circle cx="682.8" cy="1316.1" r="2.9" fill="#E3232D"/>
<circle cx="683.8" cy="1316.1" r="2.9" fill="#E3232D"/>
<circle cx="755.5" cy="1285.8" r="2.9" fill="#E3232D"/>
<circle cx="760.9" cy="1348.8" r="2.9" fill="#E3232D"/>
<circle cx="752.8" cy="1354.2" r="2.9" fill="#E3232D"/>
<circle cx="754.5" cy="1355.8" r="2.9" fill="#E3232D"/>
<circle cx="740" cy="1350.8" r="2.9" fill="#E3232D"/>
<circle cx="741" cy="1354.2" r="2.9" fill="#E3232D"/>
<circle cx="744.4" cy="1364.9" r="2.9" fill="#E3232D"/>
<circle cx="757.8" cy="1375.4" r="2.9" fill="#E3232D"/>
<circle cx="735.6" cy="1387.2" r="2.9" fill="#E3232D"/>
<circle cx="721.1" cy="1387.2" r="2.9" fill="#E3232D"/>
<circle cx="777" cy="1399.3" r="2.9" fill="#E3232D"/>
<circle cx="772" cy="1411.4" r="2.9" fill="#E3232D"/>
<circle cx="754.1" cy="1417.1" r="2.9" fill="#E3232D"/>
<circle cx="765.2" cy="1425.9" r="2.9" fill="#E3232D"/>
<circle cx="757.5" cy="1444.7" r="2.9" fill="#E3232D"/>
<circle cx="1093.4" cy="1169" r="2.9" fill="#0B7A3E"/>
<circle cx="1031.5" cy="1299.3" r="2.9" fill="#0B7A3E"/>
<circle cx="1041.3" cy="1306.7" r="2.9" fill="#0B7A3E"/>
<circle cx="1054.1" cy="1315.5" r="2.9" fill="#0B7A3E"/>
<circle cx="1029.5" cy="1337.3" r="2.9" fill="#0B7A3E"/>
<circle cx="1084.7" cy="1343.1" r="2.9" fill="#0B7A3E"/>
<circle cx="1051.7" cy="1356.2" r="2.9" fill="#0B7A3E"/>
<circle cx="1036.6" cy="1354.2" r="2.9" fill="#0B7A3E"/>
<circle cx="1050.7" cy="1369.7" r="2.9" fill="#0B7A3E"/>
<circle cx="1085.7" cy="1375.4" r="2.9" fill="#0B7A3E"/>
<circle cx="1067.2" cy="1431.6" r="2.9" fill="#0B7A3E"/>
<text x="709" y="1136.7" font-size="15.8" letter-spacing="0.2">RGS1</text>
<text x="671" y="1219.2" font-size="15.8" letter-spacing="0.2">CXCR4</text>
<text x="690.2" y="1244.1" font-size="15.8" letter-spacing="0.2">HSP90AA1</text>
<text x="706.3" y="1267.7" font-size="15.8" letter-spacing="0.2">TNFAIP3</text>
<text x="786.1" y="1296.9" font-size="15.8" letter-spacing="0.2">CREM</text>
<text x="719.1" y="1305" font-size="15.8" letter-spacing="0.2">DNAJB1</text>
<text x="691.2" y="1325.9" font-size="15.8" letter-spacing="0.2">CD69</text>
<text x="674.4" y="1350.5" font-size="15.8" letter-spacing="0.2">DUSP2</text>
<text x="761.2" y="1367" font-size="15.8" letter-spacing="0.2">ZFP36</text>
<text x="675.4" y="1367.3" font-size="15.8" letter-spacing="0.2">DUSP1</text>
<text x="664.3" y="1381.8" font-size="15.8" letter-spacing="0.2">TSC22D3</text>
<text x="766.9" y="1391.9" font-size="15.8" letter-spacing="0.2">FOS</text>
<text x="677" y="1407" font-size="15.8" letter-spacing="0.2">BTG1</text>
<text x="728.2" y="1407" font-size="15.8" letter-spacing="0.2">UBC</text>
<text x="702.3" y="1425.5" font-size="15.8" letter-spacing="0.2">JUN</text>
<text x="681.1" y="1443" font-size="15.8" letter-spacing="0.2">NFKBIA</text>
<text x="706.3" y="1460.9" font-size="15.8" letter-spacing="0.2">JUNB</text>
<text x="711.4" y="1484.4" font-size="15.8" letter-spacing="0.2">HSPA1A</text>
<text x="1021.1" y="1196.6" font-size="15.8" letter-spacing="0.2">FCER1G</text>
<text x="1009.3" y="1247.1" font-size="15.8" letter-spacing="0.2">KLRF1</text>
<text x="975" y="1275.7" font-size="15.8" letter-spacing="0.2">PLAC8</text>
<text x="1044.6" y="1270" font-size="15.8" letter-spacing="0.2">MYL12A</text>
<text x="866.2" y="1287.9" font-size="15.8" letter-spacing="0.2">SH3BGRL3</text>
<text x="1062.5" y="1289.9" font-size="15.8" letter-spacing="0.2">GZMA</text>
<text x="1022.8" y="1331.9" font-size="15.8" letter-spacing="0.2">TYROBP</text>
<text x="1067.5" y="1362.6" font-size="15.8" letter-spacing="0.2">NKG7</text>
<text x="988.4" y="1398.6" font-size="15.8" letter-spacing="0.2">CORO1A</text>
<text x="1067.5" y="1399.3" font-size="15.8" letter-spacing="0.2">PRF1</text>
<text x="1069.2" y="1488.5" font-size="15.8" letter-spacing="0.2">ACTB</text>
<text x="888" y="1634.2" text-anchor="middle" textLength="222" lengthAdjust="spacing">log<tspan dy="9" font-size="18">2</tspan><tspan dy="-9">(fold-change)</tspan></text>
<text transform="translate(603.7,1333) rotate(-90)" text-anchor="middle" textLength="184" lengthAdjust="spacing">–log<tspan dy="9" font-size="18">10</tspan><tspan dy="-9">(<tspan font-style="italic">P</tspan> value)</tspan></text>
<text x="1183" y="1076.6" class="pl">i</text>
<rect x="1307.1" y="1199.7" width="43.6" height="42.8" fill="#B5D044"/>
<rect x="1350.4" y="1199.7" width="43.6" height="42.8" fill="#F2E632"/>
<rect x="1393.7" y="1199.7" width="43.6" height="42.8" fill="#F2E632"/>
<rect x="1307.1" y="1242.2" width="43.6" height="42.8" fill="#F2E632"/>
<rect x="1350.4" y="1242.2" width="43.6" height="42.8" fill="#9AC74C"/>
<rect x="1393.7" y="1242.2" width="43.6" height="42.8" fill="#276C8F"/>
<rect x="1307.1" y="1284.7" width="43.6" height="42.8" fill="#107B8C"/>
<rect x="1350.4" y="1284.7" width="43.6" height="42.8" fill="#3D0E4E"/>
<rect x="1393.7" y="1284.7" width="43.6" height="42.8" fill="#4A327B"/>
<rect x="1307.1" y="1327.2" width="43.6" height="42.8" fill="#069A80"/>
<rect x="1350.4" y="1327.2" width="43.6" height="42.8" fill="#4A5297"/>
<rect x="1393.7" y="1327.2" width="43.6" height="42.8" fill="#421C59"/>
<rect x="1307.1" y="1369.7" width="43.6" height="42.8" fill="#3D0E4E"/>
<rect x="1350.4" y="1369.7" width="43.6" height="42.8" fill="#18768E"/>
<rect x="1393.7" y="1369.7" width="43.6" height="42.8" fill="#33658F"/>
<rect x="1307.1" y="1412.2" width="43.6" height="42.8" fill="#6FB868"/>
<rect x="1350.4" y="1412.2" width="43.6" height="42.8" fill="#2E6891"/>
<rect x="1393.7" y="1412.2" width="43.6" height="42.8" fill="#3D0E4E"/>
<path d="M1350.4 1199.7v255M1393.7 1199.7v255M1307.1 1242.2h129.9M1307.1 1284.7h129.9M1307.1 1327.2h129.9M1307.1 1369.7h129.9M1307.1 1412.2h129.9" stroke="#8C8C8C" stroke-width="0.7" fill="none"/>
<rect x="1307.1" y="1199.7" width="129.9" height="255" fill="none" stroke="#555" stroke-width="1.5"/>
<path d="M1307.1 1191.8V1182H1437V1191.8" fill="none" stroke="#555" stroke-width="1.1"/>
<text transform="translate(1371.5,1173.5) rotate(-45)" letter-spacing="0.9">Signaling</text>
<text transform="translate(1341.2,1471.5) rotate(-45)" text-anchor="end" letter-spacing="0.8">Notch sig.</text>
<text transform="translate(1384.5,1471.5) rotate(-45)" text-anchor="end" letter-spacing="0.8">Wnt β-catenin sig.</text>
<text transform="translate(1427.8,1471.5) rotate(-45)" text-anchor="end" letter-spacing="0.8">mTORC1 sig.</text>
<rect x="1447.6" y="1199.7" width="43.6" height="42.8" fill="#3D0E4E"/>
<rect x="1490.9" y="1199.7" width="43.6" height="42.8" fill="#F2E632"/>
<rect x="1534.2" y="1199.7" width="43.6" height="42.8" fill="#F2E632"/>
<rect x="1447.6" y="1242.2" width="43.6" height="42.8" fill="#62B46E"/>
<rect x="1490.9" y="1242.2" width="43.6" height="42.8" fill="#059A80"/>
<rect x="1534.2" y="1242.2" width="43.6" height="42.8" fill="#D3DE3A"/>
<rect x="1447.6" y="1284.7" width="43.6" height="42.8" fill="#F2E632"/>
<rect x="1490.9" y="1284.7" width="43.6" height="42.8" fill="#485296"/>
<rect x="1534.2" y="1284.7" width="43.6" height="42.8" fill="#3D0E4E"/>
<rect x="1447.6" y="1327.2" width="43.6" height="42.8" fill="#72B965"/>
<rect x="1490.9" y="1327.2" width="43.6" height="42.8" fill="#4A408A"/>
<rect x="1534.2" y="1327.2" width="43.6" height="42.8" fill="#485095"/>
<rect x="1447.6" y="1369.7" width="43.6" height="42.8" fill="#15778E"/>
<rect x="1490.9" y="1369.7" width="43.6" height="42.8" fill="#386195"/>
<rect x="1534.2" y="1369.7" width="43.6" height="42.8" fill="#10798D"/>
<rect x="1447.6" y="1412.2" width="43.6" height="42.8" fill="#3EAE72"/>
<rect x="1490.9" y="1412.2" width="43.6" height="42.8" fill="#3D0E4E"/>
<rect x="1534.2" y="1412.2" width="43.6" height="42.8" fill="#4A4189"/>
<path d="M1490.9 1199.7v255M1534.2 1199.7v255M1447.6 1242.2h129.9M1447.6 1284.7h129.9M1447.6 1327.2h129.9M1447.6 1369.7h129.9M1447.6 1412.2h129.9" stroke="#8C8C8C" stroke-width="0.7" fill="none"/>
<rect x="1447.6" y="1199.7" width="129.9" height="255" fill="none" stroke="#555" stroke-width="1.5"/>
<path d="M1447.6 1191.8V1182H1577.5V1191.8" fill="none" stroke="#555" stroke-width="1.1"/>
<text transform="translate(1512,1173.5) rotate(-45)" letter-spacing="0.9">Metabolism</text>
<text transform="translate(1481.8,1471.5) rotate(-45)" text-anchor="end" letter-spacing="0.8">Oxidative phos.</text>
<text transform="translate(1525,1471.5) rotate(-45)" text-anchor="end" letter-spacing="0.8">Cholesterol homeo.</text>
<text transform="translate(1568.3,1471.5) rotate(-45)" text-anchor="end" letter-spacing="0.8">Glycolysis</text>
<rect x="1587.3" y="1199.7" width="43.6" height="42.8" fill="#F2E632"/>
<rect x="1630.6" y="1199.7" width="43.6" height="42.8" fill="#F2E632"/>
<rect x="1673.9" y="1199.7" width="43.6" height="42.8" fill="#F2E632"/>
<rect x="1587.3" y="1242.2" width="43.6" height="42.8" fill="#069483"/>
<rect x="1630.6" y="1242.2" width="43.6" height="42.8" fill="#059B7F"/>
<rect x="1673.9" y="1242.2" width="43.6" height="42.8" fill="#3F5C97"/>
<rect x="1587.3" y="1284.7" width="43.6" height="42.8" fill="#441F5E"/>
<rect x="1630.6" y="1284.7" width="43.6" height="42.8" fill="#3D0E4E"/>
<rect x="1673.9" y="1284.7" width="43.6" height="42.8" fill="#4A3D87"/>
<rect x="1587.3" y="1327.2" width="43.6" height="42.8" fill="#482A6E"/>
<rect x="1630.6" y="1327.2" width="43.6" height="42.8" fill="#425997"/>
<rect x="1673.9" y="1327.2" width="43.6" height="42.8" fill="#246E90"/>
<rect x="1587.3" y="1369.7" width="43.6" height="42.8" fill="#1D7390"/>
<rect x="1630.6" y="1369.7" width="43.6" height="42.8" fill="#059784"/>
<rect x="1673.9" y="1369.7" width="43.6" height="42.8" fill="#482C70"/>
<rect x="1587.3" y="1412.2" width="43.6" height="42.8" fill="#3D0E4E"/>
<rect x="1630.6" y="1412.2" width="43.6" height="42.8" fill="#4A3A83"/>
<rect x="1673.9" y="1412.2" width="43.6" height="42.8" fill="#3D0E4E"/>
<path d="M1630.6 1199.7v255M1673.9 1199.7v255M1587.3 1242.2h129.9M1587.3 1284.7h129.9M1587.3 1327.2h129.9M1587.3 1369.7h129.9M1587.3 1412.2h129.9" stroke="#8C8C8C" stroke-width="0.7" fill="none"/>
<rect x="1587.3" y="1199.7" width="129.9" height="255" fill="none" stroke="#555" stroke-width="1.5"/>
<path d="M1587.3 1191.8V1182H1717.2V1191.8" fill="none" stroke="#555" stroke-width="1.1"/>
<text transform="translate(1651.8,1173.5) rotate(-45)" letter-spacing="0.9">Suppression</text>
<text transform="translate(1621.5,1471.5) rotate(-45)" text-anchor="end" letter-spacing="0.8">TGF-β sig.</text>
<text transform="translate(1664.8,1471.5) rotate(-45)" text-anchor="end" letter-spacing="0.8">Hypoxia</text>
<text transform="translate(1708,1471.5) rotate(-45)" text-anchor="end" letter-spacing="0.8">ROS</text>
<rect x="1727.8" y="1199.7" width="45.3" height="42.8" fill="#3D0E4E"/>
<rect x="1727.8" y="1242.2" width="45.3" height="42.8" fill="#3A6096"/>
<rect x="1727.8" y="1284.7" width="45.3" height="42.8" fill="#F2E632"/>
<rect x="1727.8" y="1327.2" width="45.3" height="42.8" fill="#059B7F"/>
<rect x="1727.8" y="1369.7" width="45.3" height="42.8" fill="#45AF72"/>
<rect x="1727.8" y="1412.2" width="45.3" height="42.8" fill="#62B46E"/>
<path d="M1727.8 1242.2h45M1727.8 1284.7h45M1727.8 1327.2h45M1727.8 1369.7h45M1727.8 1412.2h45" stroke="#8C8C8C" stroke-width="0.7" fill="none"/>
<rect x="1727.8" y="1199.7" width="45" height="255" fill="none" stroke="#555" stroke-width="1.5"/>
<path d="M1727.8 1191.8V1182H1772.8V1191.8" fill="none" stroke="#555" stroke-width="1.1"/>
<text transform="translate(1749.8,1173.5) rotate(-45)" letter-spacing="0.9">Func.</text>
<text transform="translate(1762.8,1471.5) rotate(-45)" text-anchor="end" letter-spacing="0.8">NK cytotoxicity</text>
<line x1="1298" y1="1221" x2="1307.1" y2="1221" stroke="#333" stroke-width="1.5"/>
<text x="1286.5" y="1230.2" text-anchor="end" textLength="97.2" lengthAdjust="spacing">Group 1</text>
<line x1="1298" y1="1263.5" x2="1307.1" y2="1263.5" stroke="#333" stroke-width="1.5"/>
<text x="1286.5" y="1272.8" text-anchor="end" textLength="102" lengthAdjust="spacing">Group 2</text>
<line x1="1298" y1="1306" x2="1307.1" y2="1306" stroke="#333" stroke-width="1.5"/>
<text x="1286.5" y="1315.2" text-anchor="end" textLength="102" lengthAdjust="spacing">Group 3</text>
<line x1="1298" y1="1348.5" x2="1307.1" y2="1348.5" stroke="#333" stroke-width="1.5"/>
<text x="1286.5" y="1357.8" text-anchor="end" textLength="102" lengthAdjust="spacing">Group 4</text>
<line x1="1298" y1="1391" x2="1307.1" y2="1391" stroke="#333" stroke-width="1.5"/>
<text x="1286.5" y="1400.2" text-anchor="end" textLength="102" lengthAdjust="spacing">Group 5</text>
<line x1="1298" y1="1433.5" x2="1307.1" y2="1433.5" stroke="#333" stroke-width="1.5"/>
<text x="1286.5" y="1442.8" text-anchor="end" textLength="102" lengthAdjust="spacing">Group 6</text>
<rect x="1458.6" y="1590.4" width="113.7" height="15" fill="url(#vh)" stroke="#231F20" stroke-width="1.2"/>
<line x1="1458.6" y1="1605.4" x2="1458.6" y2="1610.5" stroke="#231F20" stroke-width="1.2"/>
<text x="1458.6" y="1635.8" font-size="22.5" text-anchor="middle" letter-spacing="0.9">0</text>
<line x1="1515.4" y1="1605.4" x2="1515.4" y2="1610.5" stroke="#231F20" stroke-width="1.2"/>
<text x="1515.4" y="1635.8" font-size="22.5" text-anchor="middle" letter-spacing="0.9">0.5</text>
<line x1="1572.3" y1="1605.4" x2="1572.3" y2="1610.5" stroke="#231F20" stroke-width="1.2"/>
<text x="1572.3" y="1635.8" font-size="22.5" text-anchor="middle" letter-spacing="0.9">1.0</text>
<text x="1515.5" y="1663.4" text-anchor="middle">Expression</text>
<text x="1829" y="1074" class="pl">j</text>
<rect x="1955.3" y="1152.1" width="156.2" height="240.7" fill="none" stroke="#333" stroke-width="1.5"/>
<line x1="1946.3" y1="1186.8" x2="1955.3" y2="1186.8" stroke="#333" stroke-width="1.5"/>
<text x="1933" y="1196.1" text-anchor="end" textLength="97.2" lengthAdjust="spacing">Group 1</text>
<line x1="1946.3" y1="1221.2" x2="1955.3" y2="1221.2" stroke="#333" stroke-width="1.5"/>
<text x="1933" y="1230.5" text-anchor="end" textLength="102" lengthAdjust="spacing">Group 2</text>
<line x1="1946.3" y1="1255.6" x2="1955.3" y2="1255.6" stroke="#333" stroke-width="1.5"/>
<text x="1933" y="1264.9" text-anchor="end" textLength="102" lengthAdjust="spacing">Group 3</text>
<line x1="1946.3" y1="1290" x2="1955.3" y2="1290" stroke="#333" stroke-width="1.5"/>
<text x="1933" y="1299.3" text-anchor="end" textLength="102" lengthAdjust="spacing">Group 4</text>
<line x1="1946.3" y1="1324.3" x2="1955.3" y2="1324.3" stroke="#333" stroke-width="1.5"/>
<text x="1933" y="1333.6" text-anchor="end" textLength="102" lengthAdjust="spacing">Group 5</text>
<line x1="1946.3" y1="1358.7" x2="1955.3" y2="1358.7" stroke="#333" stroke-width="1.5"/>
<text x="1933" y="1368" text-anchor="end" textLength="102" lengthAdjust="spacing">Group 6</text>
<line x1="1982.1" y1="1392.8" x2="1982.1" y2="1402.3" stroke="#333" stroke-width="1.5"/>
<text transform="translate(1991.3,1415.4) rotate(-90)" font-size="26" text-anchor="end" font-style="italic" letter-spacing="0">ATF3</text>
<line x1="2015.9" y1="1392.8" x2="2015.9" y2="1402.3" stroke="#333" stroke-width="1.5"/>
<text transform="translate(2025.1,1415.4) rotate(-90)" font-size="26" text-anchor="end" font-style="italic" letter-spacing="0">BAG3</text>
<line x1="2049.7" y1="1392.8" x2="2049.7" y2="1402.3" stroke="#333" stroke-width="1.5"/>
<text transform="translate(2058.9,1415.4) rotate(-90)" font-size="26" text-anchor="end" font-style="italic" letter-spacing="0">GADD45B</text>
<line x1="2083.8" y1="1392.8" x2="2083.8" y2="1402.3" stroke="#333" stroke-width="1.5"/>
<text transform="translate(2093,1415.4) rotate(-90)" font-size="26" text-anchor="end" font-style="italic" letter-spacing="0">DUSP1</text>
<circle cx="1982.1" cy="1186.8" r="6" fill="#6A0C12" stroke="#231F20" stroke-width="0.8"/>
<circle cx="2015.9" cy="1186.8" r="4.2" fill="#6A0C12" stroke="#231F20" stroke-width="0.8"/>
<circle cx="2049.7" cy="1186.8" r="11.5" fill="#6A0C12" stroke="#231F20" stroke-width="0.8"/>
<circle cx="2083.8" cy="1186.8" r="14.5" fill="#680C12" stroke="#231F20" stroke-width="0.8"/>
<circle cx="1982.1" cy="1221.2" r="3" fill="#F4A58A" stroke="#231F20" stroke-width="0.8"/>
<circle cx="2015.9" cy="1221.2" r="1.2" fill="#E9A090" stroke="#231F20" stroke-width="0.5"/>
<circle cx="2049.7" cy="1221.2" r="9" fill="#ED8467" stroke="#231F20" stroke-width="0.8"/>
<circle cx="2083.8" cy="1221.2" r="12.7" fill="#E8483A" stroke="#231F20" stroke-width="0.8"/>
<circle cx="1982.1" cy="1255.6" r="1.2" fill="#F4C0AA" stroke="#231F20" stroke-width="0.5"/>
<circle cx="2015.9" cy="1255.6" r="0.6" fill="#777" stroke="#231F20" stroke-width="0.5"/>
<circle cx="2049.7" cy="1255.6" r="7.2" fill="#FAEAE0" stroke="#231F20" stroke-width="0.8"/>
<circle cx="2083.8" cy="1255.6" r="8.1" fill="#FAE8DE" stroke="#231F20" stroke-width="0.8"/>
<circle cx="1982.1" cy="1290" r="1.8" fill="#F7C5AE" stroke="#231F20" stroke-width="0.5"/>
<circle cx="2015.9" cy="1290" r="0.7" fill="#777" stroke="#231F20" stroke-width="0.5"/>
<circle cx="2049.7" cy="1290" r="7.8" fill="#F8CDB8" stroke="#231F20" stroke-width="0.8"/>
<circle cx="2083.8" cy="1290" r="9.6" fill="#F6C1A9" stroke="#231F20" stroke-width="0.8"/>
<circle cx="1982.1" cy="1324.3" r="2.4" fill="#F5AE94" stroke="#231F20" stroke-width="0.8"/>
<circle cx="2015.9" cy="1324.3" r="1" fill="#C88" stroke="#231F20" stroke-width="0.5"/>
<circle cx="2049.7" cy="1324.3" r="8.7" fill="#EF8E72" stroke="#231F20" stroke-width="0.8"/>
<circle cx="2083.8" cy="1324.3" r="10.5" fill="#F0957A" stroke="#231F20" stroke-width="0.8"/>
<circle cx="1982.1" cy="1358.7" r="1.5" fill="#F7D0C0" stroke="#231F20" stroke-width="0.5"/>
<circle cx="2015.9" cy="1358.7" r="0.6" fill="#777" stroke="#231F20" stroke-width="0.5"/>
<circle cx="2049.7" cy="1358.7" r="7.2" fill="#F9D9C9" stroke="#231F20" stroke-width="0.8"/>
<circle cx="2083.8" cy="1358.7" r="8.4" fill="#FAE0D3" stroke="#231F20" stroke-width="0.8"/>
<text x="2022.7" y="1132.5" text-anchor="middle" letter-spacing="1">Stress response</text>
<text x="1827.7" y="1564.4" textLength="148.5" lengthAdjust="spacing">Fraction (%)</text>
<circle cx="1840.7" cy="1590" r="5.7" fill="#999B9D" stroke="#414042" stroke-width="0.9"/>
<line x1="1840.7" y1="1610.5" x2="1840.7" y2="1616.5" stroke="#333" stroke-width="1.3"/>
<text x="1840.7" y="1641.3" font-size="22.5" text-anchor="middle" letter-spacing="0.9">20</text>
<circle cx="1880.5" cy="1590" r="9" fill="#999B9D" stroke="#414042" stroke-width="0.9"/>
<line x1="1880.5" y1="1610.5" x2="1880.5" y2="1616.5" stroke="#333" stroke-width="1.3"/>
<text x="1880.5" y="1641.3" font-size="22.5" text-anchor="middle" letter-spacing="0.9">40</text>
<circle cx="1920.6" cy="1590" r="12" fill="#999B9D" stroke="#414042" stroke-width="0.9"/>
<line x1="1920.6" y1="1610.5" x2="1920.6" y2="1616.5" stroke="#333" stroke-width="1.3"/>
<text x="1920.6" y="1641.3" font-size="22.5" text-anchor="middle" letter-spacing="0.9">60</text>
<circle cx="1961" cy="1590" r="15" fill="#999B9D" stroke="#414042" stroke-width="0.9"/>
<line x1="1961" y1="1610.5" x2="1961" y2="1616.5" stroke="#333" stroke-width="1.3"/>
<text x="1961" y="1641.3" font-size="22.5" text-anchor="middle" letter-spacing="0.9">80</text>
<text x="2019.2" y="1572.8">Expression</text>
<rect x="2020.7" y="1587.3" width="129.1" height="15.7" fill="url(#rh)" stroke="#231F20" stroke-width="1.2"/>
<line x1="2020.7" y1="1603" x2="2020.7" y2="1609" stroke="#231F20" stroke-width="1.2"/>
<text x="2020.7" y="1634" font-size="22.5" text-anchor="middle" letter-spacing="0.9">0</text>
<line x1="2085.2" y1="1603" x2="2085.2" y2="1609" stroke="#231F20" stroke-width="1.2"/>
<text x="2085.2" y="1634" font-size="22.5" text-anchor="middle" letter-spacing="0.9">0.5</text>
<line x1="2149.8" y1="1603" x2="2149.8" y2="1609" stroke="#231F20" stroke-width="1.2"/>
<text x="2149.8" y="1634" font-size="22.5" text-anchor="middle" letter-spacing="0.9">1.0</text>
<text x="2" y="1721.9" class="pl">k</text>
<rect x="136.7" y="1865.7" width="408.9" height="240.8" fill="none" stroke="#333" stroke-width="1.5"/>
<line x1="127.9" y1="1900.1" x2="136.7" y2="1900.1" stroke="#333" stroke-width="1.5"/>
<text x="116" y="1909.4" text-anchor="end" textLength="97.2" lengthAdjust="spacing">Group 1</text>
<line x1="127.9" y1="1934.5" x2="136.7" y2="1934.5" stroke="#333" stroke-width="1.5"/>
<text x="116" y="1943.8" text-anchor="end" textLength="102" lengthAdjust="spacing">Group 2</text>
<line x1="127.9" y1="1968.9" x2="136.7" y2="1968.9" stroke="#333" stroke-width="1.5"/>
<text x="116" y="1978.2" text-anchor="end" textLength="102" lengthAdjust="spacing">Group 3</text>
<line x1="127.9" y1="2003.3" x2="136.7" y2="2003.3" stroke="#333" stroke-width="1.5"/>
<text x="116" y="2012.6" text-anchor="end" textLength="102" lengthAdjust="spacing">Group 4</text>
<line x1="127.9" y1="2037.7" x2="136.7" y2="2037.7" stroke="#333" stroke-width="1.5"/>
<text x="116" y="2047" text-anchor="end" textLength="102" lengthAdjust="spacing">Group 5</text>
<line x1="127.9" y1="2072.1" x2="136.7" y2="2072.1" stroke="#333" stroke-width="1.5"/>
<text x="116" y="2081.4" text-anchor="end" textLength="102" lengthAdjust="spacing">Group 6</text>
<line x1="167.2" y1="2106.5" x2="167.2" y2="2116" stroke="#333" stroke-width="1.5"/>
<text transform="translate(176.4,2130) rotate(-90)" font-size="26" text-anchor="end" font-style="italic" letter-spacing="0">PRDX1</text>
<line x1="205.5" y1="2106.5" x2="205.5" y2="2116" stroke="#333" stroke-width="1.5"/>
<text transform="translate(214.7,2130) rotate(-90)" font-size="26" text-anchor="end" font-style="italic" letter-spacing="0">SOD1</text>
<line x1="243.9" y1="2106.5" x2="243.9" y2="2116" stroke="#333" stroke-width="1.5"/>
<text transform="translate(253.1,2130) rotate(-90)" font-size="26" text-anchor="end" font-style="italic" letter-spacing="0" textLength="117" lengthAdjust="spacingAndGlyphs">PPP1R15A</text>
<line x1="282.7" y1="2106.5" x2="282.7" y2="2116" stroke="#333" stroke-width="1.5"/>
<text transform="translate(291.9,2130) rotate(-90)" font-size="26" text-anchor="end" font-style="italic" letter-spacing="0">FOS</text>
<line x1="321.1" y1="2106.5" x2="321.1" y2="2116" stroke="#333" stroke-width="1.5"/>
<text transform="translate(330.3,2130) rotate(-90)" font-size="26" text-anchor="end" font-style="italic" letter-spacing="0">JUN</text>
<line x1="359.9" y1="2106.5" x2="359.9" y2="2116" stroke="#333" stroke-width="1.5"/>
<text transform="translate(369.1,2130) rotate(-90)" font-size="26" text-anchor="end" font-style="italic" letter-spacing="0">LDHA</text>
<line x1="398.3" y1="2106.5" x2="398.3" y2="2116" stroke="#333" stroke-width="1.5"/>
<text transform="translate(407.5,2130) rotate(-90)" font-size="26" text-anchor="end" font-style="italic" letter-spacing="0">DDIT4</text>
<line x1="437.1" y1="2106.5" x2="437.1" y2="2116" stroke="#333" stroke-width="1.5"/>
<text transform="translate(446.3,2130) rotate(-90)" font-size="26" text-anchor="end" font-style="italic" letter-spacing="0">PTGDR</text>
<line x1="475.5" y1="2106.5" x2="475.5" y2="2116" stroke="#333" stroke-width="1.5"/>
<text transform="translate(484.7,2130) rotate(-90)" font-size="26" text-anchor="end" font-style="italic" letter-spacing="0">PTGER2</text>
<line x1="513.9" y1="2106.5" x2="513.9" y2="2116" stroke="#333" stroke-width="1.5"/>
<text transform="translate(523.1,2130) rotate(-90)" font-size="26" text-anchor="end" font-style="italic" letter-spacing="0">PTGER4</text>
<circle cx="167.2" cy="1900.1" r="7.9" fill="#6A0C12" stroke="#231F20" stroke-width="0.8"/>
<circle cx="205.5" cy="1900.1" r="11" fill="#6A0C12" stroke="#231F20" stroke-width="0.8"/>
<circle cx="243.9" cy="1900.1" r="12.3" fill="#6A0C12" stroke="#231F20" stroke-width="0.8"/>
<circle cx="282.7" cy="1900.1" r="14.1" fill="#6A0C12" stroke="#231F20" stroke-width="0.8"/>
<circle cx="321.1" cy="1900.1" r="14.1" fill="#6A0C12" stroke="#231F20" stroke-width="0.8"/>
<circle cx="359.9" cy="1900.1" r="12.3" fill="#6A0C12" stroke="#231F20" stroke-width="0.8"/>
<circle cx="398.3" cy="1900.1" r="12.3" fill="#6A0C12" stroke="#231F20" stroke-width="0.8"/>
<circle cx="437.1" cy="1900.1" r="3.1" fill="#FAE6DA" stroke="#231F20" stroke-width="0.8"/>
<circle cx="475.5" cy="1900.1" r="3.1" fill="#F9DACB" stroke="#231F20" stroke-width="0.8"/>
<circle cx="513.9" cy="1900.1" r="5.7" fill="#EF8F73" stroke="#231F20" stroke-width="0.8"/>
<circle cx="167.2" cy="1934.5" r="7" fill="#EA5A43" stroke="#231F20" stroke-width="0.8"/>
<circle cx="205.5" cy="1934.5" r="9.7" fill="#F09378" stroke="#231F20" stroke-width="0.8"/>
<circle cx="243.9" cy="1934.5" r="8.8" fill="#EC6E52" stroke="#231F20" stroke-width="0.8"/>
<circle cx="282.7" cy="1934.5" r="13.2" fill="#D31F30" stroke="#231F20" stroke-width="0.8"/>
<circle cx="321.1" cy="1934.5" r="10.6" fill="#EE8164" stroke="#231F20" stroke-width="0.8"/>
<circle cx="359.9" cy="1934.5" r="11.9" fill="#CF1D2E" stroke="#231F20" stroke-width="0.8"/>
<circle cx="398.3" cy="1934.5" r="11.9" fill="#E5302F" stroke="#231F20" stroke-width="0.8"/>
<circle cx="437.1" cy="1934.5" r="5.3" fill="#EE7E61" stroke="#231F20" stroke-width="0.8"/>
<circle cx="475.5" cy="1934.5" r="4.4" fill="#F4AE96" stroke="#231F20" stroke-width="0.8"/>
<circle cx="513.9" cy="1934.5" r="5.3" fill="#FAE6DA" stroke="#231F20" stroke-width="0.8"/>
<circle cx="167.2" cy="1968.9" r="5.3" fill="#F9D5C4" stroke="#231F20" stroke-width="0.8"/>
<circle cx="205.5" cy="1968.9" r="8.8" fill="#FAE8DE" stroke="#231F20" stroke-width="0.8"/>
<circle cx="243.9" cy="1968.9" r="5.3" fill="#FAE3D6" stroke="#231F20" stroke-width="0.8"/>
<circle cx="282.7" cy="1968.9" r="7.9" fill="#FAE8DE" stroke="#231F20" stroke-width="0.8"/>
<circle cx="321.1" cy="1968.9" r="7" fill="#FAE6DB" stroke="#231F20" stroke-width="0.8"/>
<circle cx="359.9" cy="1968.9" r="10.6" fill="#FAEBE2" stroke="#231F20" stroke-width="0.8"/>
<circle cx="398.3" cy="1968.9" r="10.6" fill="#EE8668" stroke="#231F20" stroke-width="0.8"/>
<circle cx="437.1" cy="1968.9" r="7" fill="#6A0C12" stroke="#231F20" stroke-width="0.8"/>
<circle cx="475.5" cy="1968.9" r="6.2" fill="#6F0D13" stroke="#231F20" stroke-width="0.8"/>
<circle cx="513.9" cy="1968.9" r="5.3" fill="#FADCCD" stroke="#231F20" stroke-width="0.8"/>
<circle cx="167.2" cy="2003.3" r="6.2" fill="#EE8164" stroke="#231F20" stroke-width="0.8"/>
<circle cx="205.5" cy="2003.3" r="9.7" fill="#F09479" stroke="#231F20" stroke-width="0.8"/>
<circle cx="243.9" cy="2003.3" r="6.6" fill="#F8CDB9" stroke="#231F20" stroke-width="0.8"/>
<circle cx="282.7" cy="2003.3" r="8.8" fill="#F8CFBC" stroke="#231F20" stroke-width="0.8"/>
<circle cx="321.1" cy="2003.3" r="8.4" fill="#F6C1AA" stroke="#231F20" stroke-width="0.8"/>
<circle cx="359.9" cy="2003.3" r="10.6" fill="#F6C3AC" stroke="#231F20" stroke-width="0.8"/>
<circle cx="398.3" cy="2003.3" r="10.6" fill="#F7C9B4" stroke="#231F20" stroke-width="0.8"/>
<circle cx="437.1" cy="2003.3" r="4.9" fill="#EF8669" stroke="#231F20" stroke-width="0.8"/>
<circle cx="475.5" cy="2003.3" r="5.7" fill="#D8222F" stroke="#231F20" stroke-width="0.8"/>
<circle cx="513.9" cy="2003.3" r="5.7" fill="#EE8568" stroke="#231F20" stroke-width="0.8"/>
<circle cx="167.2" cy="2037.7" r="4.9" fill="#FAE6DB" stroke="#231F20" stroke-width="0.8"/>
<circle cx="205.5" cy="2037.7" r="8.8" fill="#FAE3D7" stroke="#231F20" stroke-width="0.8"/>
<circle cx="243.9" cy="2037.7" r="7.5" fill="#F2A188" stroke="#231F20" stroke-width="0.8"/>
<circle cx="282.7" cy="2037.7" r="10.1" fill="#F09479" stroke="#231F20" stroke-width="0.8"/>
<circle cx="321.1" cy="2037.7" r="8.8" fill="#F8CBB6" stroke="#231F20" stroke-width="0.8"/>
<circle cx="359.9" cy="2037.7" r="11.9" fill="#D41F30" stroke="#231F20" stroke-width="0.8"/>
<circle cx="398.3" cy="2037.7" r="11.9" fill="#C9182B" stroke="#231F20" stroke-width="0.8"/>
<circle cx="437.1" cy="2037.7" r="5.3" fill="#EE7D60" stroke="#231F20" stroke-width="0.8"/>
<circle cx="475.5" cy="2037.7" r="5.7" fill="#E22C2F" stroke="#231F20" stroke-width="0.8"/>
<circle cx="513.9" cy="2037.7" r="6.2" fill="#6A0C12" stroke="#231F20" stroke-width="0.8"/>
<circle cx="167.2" cy="2072.1" r="4.9" fill="#FADACB" stroke="#231F20" stroke-width="0.8"/>
<circle cx="205.5" cy="2072.1" r="8.8" fill="#FAE6DB" stroke="#231F20" stroke-width="0.8"/>
<circle cx="243.9" cy="2072.1" r="5.7" fill="#F9D5C4" stroke="#231F20" stroke-width="0.8"/>
<circle cx="282.7" cy="2072.1" r="7.9" fill="#FAE3D6" stroke="#231F20" stroke-width="0.8"/>
<circle cx="321.1" cy="2072.1" r="7.5" fill="#FADFD1" stroke="#231F20" stroke-width="0.8"/>
<circle cx="359.9" cy="2072.1" r="11" fill="#EE8668" stroke="#231F20" stroke-width="0.8"/>
<circle cx="398.3" cy="2072.1" r="10.1" fill="#FAE8DE" stroke="#231F20" stroke-width="0.8"/>
<circle cx="437.1" cy="2072.1" r="5.3" fill="#EB6248" stroke="#231F20" stroke-width="0.8"/>
<circle cx="475.5" cy="2072.1" r="5.3" fill="#DB2630" stroke="#231F20" stroke-width="0.8"/>
<circle cx="513.9" cy="2072.1" r="5.3" fill="#F09479" stroke="#231F20" stroke-width="0.8"/>
<path d="M155.7 1865.7V1853.8H213.9V1865.7" fill="none" stroke="#333" stroke-width="1.2"/>
<text transform="translate(186.8,1846) rotate(-45)" letter-spacing="0.8">ROS</text>
<path d="M232.9 1865.7V1853.8H329V1865.7" fill="none" stroke="#333" stroke-width="1.2"/>
<text transform="translate(282.9,1846) rotate(-45)" letter-spacing="0.8">TGF-β</text>
<path d="M348.5 1865.7V1853.8H406.2V1865.7" fill="none" stroke="#333" stroke-width="1.2"/>
<text transform="translate(379.4,1846) rotate(-45)" letter-spacing="0.8">Hypoxia</text>
<path d="M425.6 1865.7V1853.8H522.2V1865.7" fill="none" stroke="#333" stroke-width="1.2"/>
<text transform="translate(475.9,1846) rotate(-45)" letter-spacing="0.8">Prostaglandin</text>
<text x="588.9" y="1940.2" textLength="148.5" lengthAdjust="spacing">Fraction (%)</text>
<circle cx="596.4" cy="1961.4" r="5.3" fill="#999B9D" stroke="#414042" stroke-width="0.9"/>
<line x1="596.4" y1="1982.1" x2="596.4" y2="1987.5" stroke="#333" stroke-width="1.3"/>
<text x="596.4" y="2013" font-size="22.5" text-anchor="middle" letter-spacing="0.9">20</text>
<circle cx="638.3" cy="1961.4" r="8.8" fill="#999B9D" stroke="#414042" stroke-width="0.9"/>
<line x1="638.3" y1="1982.1" x2="638.3" y2="1987.5" stroke="#333" stroke-width="1.3"/>
<text x="638.3" y="2013" font-size="22.5" text-anchor="middle" letter-spacing="0.9">40</text>
<circle cx="680.2" cy="1961.4" r="11.9" fill="#999B9D" stroke="#414042" stroke-width="0.9"/>
<line x1="680.2" y1="1982.1" x2="680.2" y2="1987.5" stroke="#333" stroke-width="1.3"/>
<text x="680.2" y="2013" font-size="22.5" text-anchor="middle" letter-spacing="0.9">60</text>
<circle cx="722.1" cy="1961.4" r="15" fill="#999B9D" stroke="#414042" stroke-width="0.9"/>
<line x1="722.1" y1="1982.1" x2="722.1" y2="1987.5" stroke="#333" stroke-width="1.3"/>
<text x="722.1" y="2013" font-size="22.5" text-anchor="middle" letter-spacing="0.9">80</text>
<text x="588.9" y="2068.2">Expression</text>
<rect x="591.1" y="2083.2" width="128.8" height="15.8" fill="url(#rh)" stroke="#231F20" stroke-width="1.2"/>
<line x1="591.1" y1="2099" x2="591.1" y2="2104.3" stroke="#231F20" stroke-width="1.2"/>
<text x="591.1" y="2129.9" font-size="22.5" text-anchor="middle" letter-spacing="0.9">0</text>
<line x1="655.5" y1="2099" x2="655.5" y2="2104.3" stroke="#231F20" stroke-width="1.2"/>
<text x="655.5" y="2129.9" font-size="22.5" text-anchor="middle" letter-spacing="0.9">0.5</text>
<line x1="719.9" y1="2099" x2="719.9" y2="2104.3" stroke="#231F20" stroke-width="1.2"/>
<text x="719.9" y="2129.9" font-size="22.5" text-anchor="middle" letter-spacing="0.9">1.0</text>
<text x="782" y="1722.4" class="pl">l</text>
<rect x="907.2" y="1865.7" width="499.2" height="242.6" fill="none" stroke="#333" stroke-width="1.5"/>
<line x1="898" y1="1900.1" x2="907.2" y2="1900.1" stroke="#333" stroke-width="1.5"/>
<text x="886" y="1909.4" text-anchor="end" textLength="97.2" lengthAdjust="spacing">Group 1</text>
<line x1="898" y1="1935" x2="907.2" y2="1935" stroke="#333" stroke-width="1.5"/>
<text x="886" y="1944.3" text-anchor="end" textLength="102" lengthAdjust="spacing">Group 2</text>
<line x1="898" y1="1969.5" x2="907.2" y2="1969.5" stroke="#333" stroke-width="1.5"/>
<text x="886" y="1978.8" text-anchor="end" textLength="102" lengthAdjust="spacing">Group 3</text>
<line x1="898" y1="2004.4" x2="907.2" y2="2004.4" stroke="#333" stroke-width="1.5"/>
<text x="886" y="2013.7" text-anchor="end" textLength="102" lengthAdjust="spacing">Group 4</text>
<line x1="898" y1="2038.9" x2="907.2" y2="2038.9" stroke="#333" stroke-width="1.5"/>
<text x="886" y="2048.2" text-anchor="end" textLength="102" lengthAdjust="spacing">Group 5</text>
<line x1="898" y1="2073.8" x2="907.2" y2="2073.8" stroke="#333" stroke-width="1.5"/>
<text x="886" y="2083.1" text-anchor="end" textLength="102" lengthAdjust="spacing">Group 6</text>
<line x1="938.7" y1="2108.3" x2="938.7" y2="2117.8" stroke="#333" stroke-width="1.5"/>
<text transform="translate(947.9,2131) rotate(-90)" font-size="26" text-anchor="end" font-style="italic" letter-spacing="0">FABP5</text>
<line x1="978.1" y1="2108.3" x2="978.1" y2="2117.8" stroke="#333" stroke-width="1.5"/>
<text transform="translate(987.3,2131) rotate(-90)" font-size="26" text-anchor="end" font-style="italic" letter-spacing="0">SC5D</text>
<line x1="1017.5" y1="2108.3" x2="1017.5" y2="2117.8" stroke="#333" stroke-width="1.5"/>
<text transform="translate(1026.7,2131) rotate(-90)" font-size="26" text-anchor="end" font-style="italic" letter-spacing="0">HMGCS1</text>
<line x1="1057" y1="2108.3" x2="1057" y2="2117.8" stroke="#333" stroke-width="1.5"/>
<text transform="translate(1066.2,2131) rotate(-90)" font-size="26" text-anchor="end" font-style="italic" letter-spacing="0">NDUFB2</text>
<line x1="1096.9" y1="2108.3" x2="1096.9" y2="2117.8" stroke="#333" stroke-width="1.5"/>
<text transform="translate(1106.1,2131) rotate(-90)" font-size="26" text-anchor="end" font-style="italic" letter-spacing="0">NDUFB7</text>
<line x1="1136.3" y1="2108.3" x2="1136.3" y2="2117.8" stroke="#333" stroke-width="1.5"/>
<text transform="translate(1145.5,2131) rotate(-90)" font-size="26" text-anchor="end" font-style="italic" letter-spacing="0">PGK1</text>
<line x1="1175.8" y1="2108.3" x2="1175.8" y2="2117.8" stroke="#333" stroke-width="1.5"/>
<text transform="translate(1185,2131) rotate(-90)" font-size="26" text-anchor="end" font-style="italic" letter-spacing="0">OGT</text>
<line x1="1215.2" y1="2108.3" x2="1215.2" y2="2117.8" stroke="#333" stroke-width="1.5"/>
<text transform="translate(1224.4,2131) rotate(-90)" font-size="26" text-anchor="end" font-style="italic" letter-spacing="0">UAP1</text>
<line x1="1254.6" y1="2108.3" x2="1254.6" y2="2117.8" stroke="#333" stroke-width="1.5"/>
<text transform="translate(1263.8,2131) rotate(-90)" font-size="26" text-anchor="end" font-style="italic" letter-spacing="0">SLC38A1</text>
<line x1="1294.6" y1="2108.3" x2="1294.6" y2="2117.8" stroke="#333" stroke-width="1.5"/>
<text transform="translate(1303.8,2131) rotate(-90)" font-size="26" text-anchor="end" font-style="italic" letter-spacing="0">SLC2A3</text>
<line x1="1334" y1="2108.3" x2="1334" y2="2117.8" stroke="#333" stroke-width="1.5"/>
<text transform="translate(1343.2,2131) rotate(-90)" font-size="26" text-anchor="end" font-style="italic" letter-spacing="0">SLC3A2</text>
<line x1="1373.4" y1="2108.3" x2="1373.4" y2="2117.8" stroke="#333" stroke-width="1.5"/>
<text transform="translate(1382.6,2131) rotate(-90)" font-size="26" text-anchor="end" font-style="italic" letter-spacing="0">SLC16A3</text>
<circle cx="938.7" cy="1900.1" r="6.5" fill="#6A0C12" stroke="#231F20" stroke-width="0.8"/>
<circle cx="978.1" cy="1900.1" r="4.5" fill="#6A0C12" stroke="#231F20" stroke-width="0.8"/>
<circle cx="1017.5" cy="1900.1" r="4" fill="#6A0C12" stroke="#231F20" stroke-width="0.8"/>
<circle cx="1057" cy="1900.1" r="11" fill="#FAE8DE" stroke="#231F20" stroke-width="0.8"/>
<circle cx="1096.9" cy="1900.1" r="7.5" fill="#FAE6DB" stroke="#231F20" stroke-width="0.8"/>
<circle cx="1136.3" cy="1900.1" r="12" fill="#DB2630" stroke="#231F20" stroke-width="0.8"/>
<circle cx="1175.8" cy="1900.1" r="5" fill="#FAE6DB" stroke="#231F20" stroke-width="0.8"/>
<circle cx="1215.2" cy="1900.1" r="5" fill="#7A0F15" stroke="#231F20" stroke-width="0.8"/>
<circle cx="1254.6" cy="1900.1" r="8.5" fill="#E94F3C" stroke="#231F20" stroke-width="0.8"/>
<circle cx="1294.6" cy="1900.1" r="10" fill="#6A0C12" stroke="#231F20" stroke-width="0.8"/>
<circle cx="1334" cy="1900.1" r="8.5" fill="#6A0C12" stroke="#231F20" stroke-width="0.8"/>
<circle cx="1373.4" cy="1900.1" r="7" fill="#DD2930" stroke="#231F20" stroke-width="0.8"/>
<circle cx="938.7" cy="1935" r="5.5" fill="#E9523E" stroke="#231F20" stroke-width="0.8"/>
<circle cx="978.1" cy="1935" r="3.5" fill="#EA5C45" stroke="#231F20" stroke-width="0.8"/>
<circle cx="1017.5" cy="1935" r="3" fill="#EE7D60" stroke="#231F20" stroke-width="0.8"/>
<circle cx="1057" cy="1935" r="12" fill="#F2A188" stroke="#231F20" stroke-width="0.8"/>
<circle cx="1096.9" cy="1935" r="9.5" fill="#F09378" stroke="#231F20" stroke-width="0.8"/>
<circle cx="1136.3" cy="1935" r="13" fill="#6A0C12" stroke="#231F20" stroke-width="0.8"/>
<circle cx="1175.8" cy="1935" r="6.5" fill="#6F0D13" stroke="#231F20" stroke-width="0.8"/>
<circle cx="1215.2" cy="1935" r="3.5" fill="#FAE6DB" stroke="#231F20" stroke-width="0.8"/>
<circle cx="1254.6" cy="1935" r="9.5" fill="#6A0C12" stroke="#231F20" stroke-width="0.8"/>
<circle cx="1294.6" cy="1935" r="9.5" fill="#E5302F" stroke="#231F20" stroke-width="0.8"/>
<circle cx="1334" cy="1935" r="7" fill="#EF8A6D" stroke="#231F20" stroke-width="0.8"/>
<circle cx="1373.4" cy="1935" r="8" fill="#6A0C12" stroke="#231F20" stroke-width="0.8"/>
<circle cx="938.7" cy="1969.5" r="2" fill="#FAE6DB" stroke="#231F20" stroke-width="0.5"/>
<circle cx="978.1" cy="1969.5" r="1.5" fill="#FAE6DB" stroke="#231F20" stroke-width="0.5"/>
<circle cx="1017.5" cy="1969.5" r="1.5" fill="#FAE6DB" stroke="#231F20" stroke-width="0.5"/>
<circle cx="1057" cy="1969.5" r="15" fill="#6A0C12" stroke="#231F20" stroke-width="0.8"/>
<circle cx="1096.9" cy="1969.5" r="12.5" fill="#6A0C12" stroke="#231F20" stroke-width="0.8"/>
<circle cx="1136.3" cy="1969.5" r="10.5" fill="#F9D5C4" stroke="#231F20" stroke-width="0.8"/>
<circle cx="1175.8" cy="1969.5" r="5" fill="#F9D2C0" stroke="#231F20" stroke-width="0.8"/>
<circle cx="1215.2" cy="1969.5" r="4" fill="#F2A189" stroke="#231F20" stroke-width="0.8"/>
<circle cx="1254.6" cy="1969.5" r="7" fill="#FAE8DE" stroke="#231F20" stroke-width="0.8"/>
<circle cx="1294.6" cy="1969.5" r="6.5" fill="#FAE8DE" stroke="#231F20" stroke-width="0.8"/>
<circle cx="1334" cy="1969.5" r="5.5" fill="#FAE6DB" stroke="#231F20" stroke-width="0.8"/>
<circle cx="1373.4" cy="1969.5" r="5" fill="#F3A78F" stroke="#231F20" stroke-width="0.8"/>
<circle cx="938.7" cy="2004.4" r="3" fill="#F9D5C4" stroke="#231F20" stroke-width="0.8"/>
<circle cx="978.1" cy="2004.4" r="2.5" fill="#F3A990" stroke="#231F20" stroke-width="0.8"/>
<circle cx="1017.5" cy="2004.4" r="2" fill="#FAE6DB" stroke="#231F20" stroke-width="0.5"/>
<circle cx="1057" cy="2004.4" r="12.5" fill="#E94F3C" stroke="#231F20" stroke-width="0.8"/>
<circle cx="1096.9" cy="2004.4" r="11" fill="#E22C2F" stroke="#231F20" stroke-width="0.8"/>
<circle cx="1136.3" cy="2004.4" r="10.5" fill="#FAE8DE" stroke="#231F20" stroke-width="0.8"/>
<circle cx="1175.8" cy="2004.4" r="5" fill="#FAE3D7" stroke="#231F20" stroke-width="0.8"/>
<circle cx="1215.2" cy="2004.4" r="4" fill="#EC6E52" stroke="#231F20" stroke-width="0.8"/>
<circle cx="1254.6" cy="2004.4" r="8" fill="#EF8A6D" stroke="#231F20" stroke-width="0.8"/>
<circle cx="1294.6" cy="2004.4" r="7.5" fill="#F2A188" stroke="#231F20" stroke-width="0.8"/>
<circle cx="1334" cy="2004.4" r="6" fill="#F8CBB6" stroke="#231F20" stroke-width="0.8"/>
<circle cx="1373.4" cy="2004.4" r="3.5" fill="#FAE6DB" stroke="#231F20" stroke-width="0.8"/>
<circle cx="938.7" cy="2038.9" r="3" fill="#F6BFA8" stroke="#231F20" stroke-width="0.8"/>
<circle cx="978.1" cy="2038.9" r="3" fill="#EA5A43" stroke="#231F20" stroke-width="0.8"/>
<circle cx="1017.5" cy="2038.9" r="3" fill="#EE7D60" stroke="#231F20" stroke-width="0.8"/>
<circle cx="1057" cy="2038.9" r="12.5" fill="#E94F3C" stroke="#231F20" stroke-width="0.8"/>
<circle cx="1096.9" cy="2038.9" r="10" fill="#E84838" stroke="#231F20" stroke-width="0.8"/>
<circle cx="1136.3" cy="2038.9" r="10.5" fill="#EF8669" stroke="#231F20" stroke-width="0.8"/>
<circle cx="1175.8" cy="2038.9" r="5.5" fill="#EA5C45" stroke="#231F20" stroke-width="0.8"/>
<circle cx="1215.2" cy="2038.9" r="5" fill="#6A0C12" stroke="#231F20" stroke-width="0.8"/>
<circle cx="1254.6" cy="2038.9" r="9.5" fill="#6A0C12" stroke="#231F20" stroke-width="0.8"/>
<circle cx="1294.6" cy="2038.9" r="9.5" fill="#8E1218" stroke="#231F20" stroke-width="0.8"/>
<circle cx="1334" cy="2038.9" r="6" fill="#F4AB92" stroke="#231F20" stroke-width="0.8"/>
<circle cx="1373.4" cy="2038.9" r="5.5" fill="#EB6349" stroke="#231F20" stroke-width="0.8"/>
<circle cx="938.7" cy="2073.8" r="2.5" fill="#FAE6DB" stroke="#231F20" stroke-width="0.8"/>
<circle cx="978.1" cy="2073.8" r="2" fill="#F8CBB6" stroke="#231F20" stroke-width="0.5"/>
<circle cx="1017.5" cy="2073.8" r="2" fill="#FAE6DB" stroke="#231F20" stroke-width="0.5"/>
<circle cx="1057" cy="2073.8" r="12" fill="#E94F3C" stroke="#231F20" stroke-width="0.8"/>
<circle cx="1096.9" cy="2073.8" r="10.5" fill="#E6382F" stroke="#231F20" stroke-width="0.8"/>
<circle cx="1136.3" cy="2073.8" r="10.5" fill="#F9D2C0" stroke="#231F20" stroke-width="0.8"/>
<circle cx="1175.8" cy="2073.8" r="5" fill="#F8CBB6" stroke="#231F20" stroke-width="0.8"/>
<circle cx="1215.2" cy="2073.8" r="4" fill="#E6382F" stroke="#231F20" stroke-width="0.8"/>
<circle cx="1254.6" cy="2073.8" r="8" fill="#EC6E52" stroke="#231F20" stroke-width="0.8"/>
<circle cx="1294.6" cy="2073.8" r="7" fill="#F8CBB6" stroke="#231F20" stroke-width="0.8"/>
<circle cx="1334" cy="2073.8" r="6" fill="#F3A78F" stroke="#231F20" stroke-width="0.8"/>
<circle cx="1373.4" cy="2073.8" r="4.5" fill="#F2A188" stroke="#231F20" stroke-width="0.8"/>
<path d="M926.9 1865.7V1853.7H1026.2V1865.7" fill="none" stroke="#333" stroke-width="1.2"/>
<path d="M1045.4 1865.7V1853.7H1105.3V1865.7" fill="none" stroke="#333" stroke-width="1.2"/>
<path d="M1124.9 1865.7V1853.7H1223.8V1865.7" fill="none" stroke="#333" stroke-width="1.2"/>
<path d="M1243.4 1865.7V1853.7H1381.7V1865.7" fill="none" stroke="#333" stroke-width="1.2"/>
<text transform="translate(956.6,1821.4) rotate(-45)" letter-spacing="0.9">Cholesterol</text>
<text transform="translate(979.1,1845) rotate(-45)" letter-spacing="0.9">homeostasis</text>
<text transform="translate(1060.9,1817.3) rotate(-45)" letter-spacing="0.9">Oxidative</text>
<text transform="translate(1083,1840) rotate(-45)" letter-spacing="0.9">phosphorylation</text>
<text transform="translate(1172,1842.3) rotate(-45)" letter-spacing="0.9">Glycolysis</text>
<text transform="translate(1283.7,1842.6) rotate(-45)" letter-spacing="0.9">Nutrient</text>
<text transform="translate(1326,1842) rotate(-45)" letter-spacing="0.9">transporters</text>
<text x="1428.8" y="1907.1" textLength="148.5" lengthAdjust="spacing">Fraction (%)</text>
<circle cx="1427.8" cy="1932.1" r="4" fill="#999B9D" stroke="#414042" stroke-width="0.9"/>
<line x1="1427.8" y1="1953.5" x2="1427.8" y2="1958.5" stroke="#333" stroke-width="1.3"/>
<text transform="translate(1432,1984.4) rotate(-45)" font-size="23" text-anchor="middle" letter-spacing="0.9">10</text>
<circle cx="1454.8" cy="1932.1" r="6.5" fill="#999B9D" stroke="#414042" stroke-width="0.9"/>
<line x1="1454.8" y1="1953.5" x2="1454.8" y2="1958.5" stroke="#333" stroke-width="1.3"/>
<text transform="translate(1459,1984.4) rotate(-45)" font-size="23" text-anchor="middle" letter-spacing="0.9">20</text>
<circle cx="1482.2" cy="1932.1" r="9" fill="#999B9D" stroke="#414042" stroke-width="0.9"/>
<line x1="1482.2" y1="1953.5" x2="1482.2" y2="1958.5" stroke="#333" stroke-width="1.3"/>
<text transform="translate(1486.4,1984.4) rotate(-45)" font-size="23" text-anchor="middle" letter-spacing="0.9">30</text>
<circle cx="1509.7" cy="1932.1" r="11.5" fill="#999B9D" stroke="#414042" stroke-width="0.9"/>
<line x1="1509.7" y1="1953.5" x2="1509.7" y2="1958.5" stroke="#333" stroke-width="1.3"/>
<text transform="translate(1513.9,1984.4) rotate(-45)" font-size="23" text-anchor="middle" letter-spacing="0.9">40</text>
<circle cx="1537.1" cy="1932.1" r="13.5" fill="#999B9D" stroke="#414042" stroke-width="0.9"/>
<line x1="1537.1" y1="1953.5" x2="1537.1" y2="1958.5" stroke="#333" stroke-width="1.3"/>
<text transform="translate(1541.3,1984.4) rotate(-45)" font-size="23" text-anchor="middle" letter-spacing="0.9">50</text>
<circle cx="1564.6" cy="1932.1" r="15.5" fill="#999B9D" stroke="#414042" stroke-width="0.9"/>
<line x1="1564.6" y1="1953.5" x2="1564.6" y2="1958.5" stroke="#333" stroke-width="1.3"/>
<text transform="translate(1568.8,1984.4) rotate(-45)" font-size="23" text-anchor="middle" letter-spacing="0.9">60</text>
<text x="1434.8" y="2036.9">Expression</text>
<rect x="1437.3" y="2051.8" width="130.3" height="16.5" fill="url(#rh)" stroke="#231F20" stroke-width="1.2"/>
<line x1="1437.3" y1="2068.3" x2="1437.3" y2="2074.3" stroke="#231F20" stroke-width="1.2"/>
<text x="1437.3" y="2098.3" font-size="22.5" text-anchor="middle" letter-spacing="0.9">0</text>
<line x1="1502.4" y1="2068.3" x2="1502.4" y2="2074.3" stroke="#231F20" stroke-width="1.2"/>
<text x="1502.4" y="2098.3" font-size="22.5" text-anchor="middle" letter-spacing="0.9">0.5</text>
<line x1="1567.6" y1="2068.3" x2="1567.6" y2="2074.3" stroke="#231F20" stroke-width="1.2"/>
<text x="1567.6" y="2098.3" font-size="22.5" text-anchor="middle" letter-spacing="0.9">1.0</text>
<text x="1626" y="1720.7" class="pl">m</text>
<rect x="1749.5" y="1866.9" width="241.9" height="242.8" fill="none" stroke="#333" stroke-width="1.5"/>
<line x1="1740.6" y1="1901.3" x2="1749.5" y2="1901.3" stroke="#333" stroke-width="1.5"/>
<text x="1727.8" y="1910.6" text-anchor="end" textLength="97.2" lengthAdjust="spacing">Group 1</text>
<line x1="1740.6" y1="1936.1" x2="1749.5" y2="1936.1" stroke="#333" stroke-width="1.5"/>
<text x="1727.8" y="1945.4" text-anchor="end" textLength="102" lengthAdjust="spacing">Group 2</text>
<line x1="1740.6" y1="1970.8" x2="1749.5" y2="1970.8" stroke="#333" stroke-width="1.5"/>
<text x="1727.8" y="1980.1" text-anchor="end" textLength="102" lengthAdjust="spacing">Group 3</text>
<line x1="1740.6" y1="2005.9" x2="1749.5" y2="2005.9" stroke="#333" stroke-width="1.5"/>
<text x="1727.8" y="2015.2" text-anchor="end" textLength="102" lengthAdjust="spacing">Group 4</text>
<line x1="1740.6" y1="2040.3" x2="1749.5" y2="2040.3" stroke="#333" stroke-width="1.5"/>
<text x="1727.8" y="2049.6" text-anchor="end" textLength="102" lengthAdjust="spacing">Group 5</text>
<line x1="1740.6" y1="2075" x2="1749.5" y2="2075" stroke="#333" stroke-width="1.5"/>
<text x="1727.8" y="2084.3" text-anchor="end" textLength="102" lengthAdjust="spacing">Group 6</text>
<line x1="1779" y1="2109.7" x2="1779" y2="2119.2" stroke="#333" stroke-width="1.5"/>
<text transform="translate(1788.2,2131) rotate(-90)" font-size="26" text-anchor="end" font-style="italic" letter-spacing="0">CD247</text>
<line x1="1815.4" y1="2109.7" x2="1815.4" y2="2119.2" stroke="#333" stroke-width="1.5"/>
<text transform="translate(1824.6,2131) rotate(-90)" font-size="26" text-anchor="end" font-style="italic" letter-spacing="0">GZMB</text>
<line x1="1851.8" y1="2109.7" x2="1851.8" y2="2119.2" stroke="#333" stroke-width="1.5"/>
<text transform="translate(1861,2131) rotate(-90)" font-size="26" text-anchor="end" font-style="italic" letter-spacing="0">ITGB2</text>
<line x1="1888.1" y1="2109.7" x2="1888.1" y2="2119.2" stroke="#333" stroke-width="1.5"/>
<text transform="translate(1897.3,2131) rotate(-90)" font-size="26" text-anchor="end" font-style="italic" letter-spacing="0">PRF1</text>
<line x1="1924.9" y1="2109.7" x2="1924.9" y2="2119.2" stroke="#333" stroke-width="1.5"/>
<text transform="translate(1934.1,2131) rotate(-90)" font-size="26" text-anchor="end" font-style="italic" letter-spacing="0">TYROBP</text>
<line x1="1961.3" y1="2109.7" x2="1961.3" y2="2119.2" stroke="#333" stroke-width="1.5"/>
<text transform="translate(1970.5,2131) rotate(-90)" font-size="26" text-anchor="end" font-style="italic" letter-spacing="0">ZAP70</text>
<circle cx="1779" cy="1901.3" r="9.3" fill="#FAE8DE" stroke="#231F20" stroke-width="0.8"/>
<circle cx="1815.4" cy="1901.3" r="10.3" fill="#FAE3D6" stroke="#231F20" stroke-width="0.8"/>
<circle cx="1851.8" cy="1901.3" r="7.6" fill="#FAE8DE" stroke="#231F20" stroke-width="0.8"/>
<circle cx="1888.1" cy="1901.3" r="9.3" fill="#FAE8DE" stroke="#231F20" stroke-width="0.8"/>
<circle cx="1924.9" cy="1901.3" r="11.2" fill="#FAE8DE" stroke="#231F20" stroke-width="0.8"/>
<circle cx="1961.3" cy="1901.3" r="4.6" fill="#FAE3D7" stroke="#231F20" stroke-width="0.8"/>
<circle cx="1779" cy="1936.1" r="9.9" fill="#F6C1AA" stroke="#231F20" stroke-width="0.8"/>
<circle cx="1815.4" cy="1936.1" r="10.3" fill="#FAE8DE" stroke="#231F20" stroke-width="0.8"/>
<circle cx="1851.8" cy="1936.1" r="8.6" fill="#F7C7B1" stroke="#231F20" stroke-width="0.8"/>
<circle cx="1888.1" cy="1936.1" r="9.9" fill="#FAE0D2" stroke="#231F20" stroke-width="0.8"/>
<circle cx="1924.9" cy="1936.1" r="12.6" fill="#EB6349" stroke="#231F20" stroke-width="0.8"/>
<circle cx="1961.3" cy="1936.1" r="5.3" fill="#F4AF97" stroke="#231F20" stroke-width="0.8"/>
<circle cx="1779" cy="1970.8" r="13.2" fill="#6A0C12" stroke="#231F20" stroke-width="0.8"/>
<circle cx="1815.4" cy="1970.8" r="14.2" fill="#6A0C12" stroke="#231F20" stroke-width="0.8"/>
<circle cx="1851.8" cy="1970.8" r="12.6" fill="#6A0C12" stroke="#231F20" stroke-width="0.8"/>
<circle cx="1888.1" cy="1970.8" r="13.9" fill="#6A0C12" stroke="#231F20" stroke-width="0.8"/>
<circle cx="1924.9" cy="1970.8" r="13.9" fill="#6A0C12" stroke="#231F20" stroke-width="0.8"/>
<circle cx="1961.3" cy="1970.8" r="7" fill="#6A0C12" stroke="#231F20" stroke-width="0.8"/>
<circle cx="1779" cy="2005.9" r="11.6" fill="#E94F3C" stroke="#231F20" stroke-width="0.8"/>
<circle cx="1815.4" cy="2005.9" r="13.6" fill="#CF1C2E" stroke="#231F20" stroke-width="0.8"/>
<circle cx="1851.8" cy="2005.9" r="10.9" fill="#E9523E" stroke="#231F20" stroke-width="0.8"/>
<circle cx="1888.1" cy="2005.9" r="12.6" fill="#E94F3C" stroke="#231F20" stroke-width="0.8"/>
<circle cx="1924.9" cy="2005.9" r="12.6" fill="#EE8468" stroke="#231F20" stroke-width="0.8"/>
<circle cx="1961.3" cy="2005.9" r="5.6" fill="#EB6349" stroke="#231F20" stroke-width="0.8"/>
<circle cx="1779" cy="2040.3" r="12.2" fill="#C9182B" stroke="#231F20" stroke-width="0.8"/>
<circle cx="1815.4" cy="2040.3" r="13.9" fill="#98141C" stroke="#231F20" stroke-width="0.8"/>
<circle cx="1851.8" cy="2040.3" r="11.2" fill="#E22C2F" stroke="#231F20" stroke-width="0.8"/>
<circle cx="1888.1" cy="2040.3" r="12.9" fill="#DB2630" stroke="#231F20" stroke-width="0.8"/>
<circle cx="1924.9" cy="2040.3" r="12.9" fill="#E84337" stroke="#231F20" stroke-width="0.8"/>
<circle cx="1961.3" cy="2040.3" r="5.6" fill="#EA5C45" stroke="#231F20" stroke-width="0.8"/>
<circle cx="1779" cy="2075" r="12.2" fill="#B5161F" stroke="#231F20" stroke-width="0.8"/>
<circle cx="1815.4" cy="2075" r="13.9" fill="#98141C" stroke="#231F20" stroke-width="0.8"/>
<circle cx="1851.8" cy="2075" r="10.9" fill="#E6382F" stroke="#231F20" stroke-width="0.8"/>
<circle cx="1888.1" cy="2075" r="13.2" fill="#CF1C2E" stroke="#231F20" stroke-width="0.8"/>
<circle cx="1924.9" cy="2075" r="13.6" fill="#B71620" stroke="#231F20" stroke-width="0.8"/>
<circle cx="1961.3" cy="2075" r="5.3" fill="#EA5C45" stroke="#231F20" stroke-width="0.8"/>
<text x="1873" y="1850.4" text-anchor="middle" letter-spacing="1">NK cytotoxicity</text>
<text x="2007.9" y="1918.2" textLength="148.5" lengthAdjust="spacing">Fraction (%)</text>
<circle cx="2014.5" cy="1941.7" r="4.6" fill="#999B9D" stroke="#414042" stroke-width="0.9"/>
<line x1="2014.5" y1="1962.2" x2="2014.5" y2="1967.2" stroke="#333" stroke-width="1.3"/>
<text transform="translate(2018.7,1993.1) rotate(-45)" font-size="23" text-anchor="middle" letter-spacing="0.9">20</text>
<circle cx="2046.6" cy="1941.7" r="7.6" fill="#999B9D" stroke="#414042" stroke-width="0.9"/>
<line x1="2046.6" y1="1962.2" x2="2046.6" y2="1967.2" stroke="#333" stroke-width="1.3"/>
<text transform="translate(2050.8,1993.1) rotate(-45)" font-size="23" text-anchor="middle" letter-spacing="0.9">40</text>
<circle cx="2079" cy="1941.7" r="10.3" fill="#999B9D" stroke="#414042" stroke-width="0.9"/>
<line x1="2079" y1="1962.2" x2="2079" y2="1967.2" stroke="#333" stroke-width="1.3"/>
<text transform="translate(2083.2,1993.1) rotate(-45)" font-size="23" text-anchor="middle" letter-spacing="0.9">60</text>
<circle cx="2111.1" cy="1941.7" r="12.9" fill="#999B9D" stroke="#414042" stroke-width="0.9"/>
<line x1="2111.1" y1="1962.2" x2="2111.1" y2="1967.2" stroke="#333" stroke-width="1.3"/>
<text transform="translate(2115.3,1993.1) rotate(-45)" font-size="23" text-anchor="middle" letter-spacing="0.9">80</text>
<circle cx="2143.5" cy="1941.7" r="15.2" fill="#999B9D" stroke="#414042" stroke-width="0.9"/>
<line x1="2143.5" y1="1962.2" x2="2143.5" y2="1967.2" stroke="#333" stroke-width="1.3"/>
<text transform="translate(2147.7,1998) rotate(-45)" font-size="23" text-anchor="middle" letter-spacing="0.9">100</text>
<text x="2019.5" y="2050.5">Expression</text>
<rect x="2021.1" y="2064.4" width="130" height="16.6" fill="url(#rh)" stroke="#231F20" stroke-width="1.2"/>
<line x1="2021.1" y1="2081" x2="2021.1" y2="2085.3" stroke="#231F20" stroke-width="1.2"/>
<text x="2021.1" y="2111" font-size="22.5" text-anchor="middle" letter-spacing="0.9">0</text>
<line x1="2086.1" y1="2081" x2="2086.1" y2="2085.3" stroke="#231F20" stroke-width="1.2"/>
<text x="2086.1" y="2111" font-size="22.5" text-anchor="middle" letter-spacing="0.9">0.5</text>
<line x1="2151.1" y1="2081" x2="2151.1" y2="2085.3" stroke="#231F20" stroke-width="1.2"/>
<text x="2151.1" y="2111" font-size="22.5" text-anchor="middle" letter-spacing="0.9">1.0</text>
<text x="2" y="2314.6" class="pl">n</text>
<rect x="136" y="2371.1" width="240" height="240.7" fill="none" stroke="#333" stroke-width="1.5"/>
<line x1="127.7" y1="2406" x2="136" y2="2406" stroke="#333" stroke-width="1.5"/>
<text x="115.3" y="2415.3" text-anchor="end" textLength="97.2" lengthAdjust="spacing">Group 1</text>
<line x1="127.7" y1="2440.1" x2="136" y2="2440.1" stroke="#333" stroke-width="1.5"/>
<text x="115.3" y="2449.4" text-anchor="end" textLength="102" lengthAdjust="spacing">Group 2</text>
<line x1="127.7" y1="2474.7" x2="136" y2="2474.7" stroke="#333" stroke-width="1.5"/>
<text x="115.3" y="2484" text-anchor="end" textLength="102" lengthAdjust="spacing">Group 3</text>
<line x1="127.7" y1="2508.9" x2="136" y2="2508.9" stroke="#333" stroke-width="1.5"/>
<text x="115.3" y="2518.2" text-anchor="end" textLength="102" lengthAdjust="spacing">Group 4</text>
<line x1="127.7" y1="2543.4" x2="136" y2="2543.4" stroke="#333" stroke-width="1.5"/>
<text x="115.3" y="2552.7" text-anchor="end" textLength="102" lengthAdjust="spacing">Group 5</text>
<line x1="127.7" y1="2577.6" x2="136" y2="2577.6" stroke="#333" stroke-width="1.5"/>
<text x="115.3" y="2586.9" text-anchor="end" textLength="102" lengthAdjust="spacing">Group 6</text>
<line x1="165.2" y1="2611.8" x2="165.2" y2="2621.3" stroke="#333" stroke-width="1.5"/>
<text transform="translate(174.4,2633.5) rotate(-90)" font-size="26" text-anchor="end" font-style="italic" letter-spacing="0">XCL1</text>
<line x1="201.2" y1="2611.8" x2="201.2" y2="2621.3" stroke="#333" stroke-width="1.5"/>
<text transform="translate(210.4,2633.5) rotate(-90)" font-size="26" text-anchor="end" font-style="italic" letter-spacing="0">XCL2</text>
<line x1="237.1" y1="2611.8" x2="237.1" y2="2621.3" stroke="#333" stroke-width="1.5"/>
<text transform="translate(246.3,2633.5) rotate(-90)" font-size="26" text-anchor="end" font-style="italic" letter-spacing="0">CCL3</text>
<line x1="273.5" y1="2611.8" x2="273.5" y2="2621.3" stroke="#333" stroke-width="1.5"/>
<text transform="translate(282.7,2633.5) rotate(-90)" font-size="26" text-anchor="end" font-style="italic" letter-spacing="0">CCL5</text>
<line x1="309.8" y1="2611.8" x2="309.8" y2="2621.3" stroke="#333" stroke-width="1.5"/>
<text transform="translate(319,2633.5) rotate(-90)" font-size="26" text-anchor="end" font-style="italic" letter-spacing="0">IFNG</text>
<line x1="346.2" y1="2611.8" x2="346.2" y2="2621.3" stroke="#333" stroke-width="1.5"/>
<text transform="translate(355.4,2633.5) rotate(-90)" font-size="26" text-anchor="end" font-style="italic" letter-spacing="0">TNF</text>
<circle cx="165.2" cy="2406" r="7.2" fill="#E6382F" stroke="#231F20" stroke-width="0.8"/>
<circle cx="201.2" cy="2406" r="8.6" fill="#E5302F" stroke="#231F20" stroke-width="0.8"/>
<circle cx="237.1" cy="2406" r="1.1" fill="#888" stroke="#231F20" stroke-width="0.5"/>
<circle cx="273.5" cy="2406" r="13.7" fill="#E9523E" stroke="#231F20" stroke-width="0.8"/>
<circle cx="309.8" cy="2406" r="6.8" fill="#6F0D13" stroke="#231F20" stroke-width="0.8"/>
<circle cx="346.2" cy="2406" r="0.5" fill="#555" stroke="#231F20" stroke-width="0.5"/>
<circle cx="165.2" cy="2440.1" r="9.4" fill="#6A0C12" stroke="#231F20" stroke-width="0.8"/>
<circle cx="201.2" cy="2440.1" r="10.4" fill="#6A0C12" stroke="#231F20" stroke-width="0.8"/>
<circle cx="237.1" cy="2440.1" r="2.2" fill="#F4AE96" stroke="#231F20" stroke-width="0.8"/>
<circle cx="273.5" cy="2440.1" r="13" fill="#F2A188" stroke="#231F20" stroke-width="0.8"/>
<circle cx="309.8" cy="2440.1" r="4" fill="#F9D5C4" stroke="#231F20" stroke-width="0.8"/>
<circle cx="346.2" cy="2440.1" r="0.5" fill="#555" stroke="#231F20" stroke-width="0.5"/>
<circle cx="165.2" cy="2474.7" r="2.2" fill="#FAE6DB" stroke="#231F20" stroke-width="0.8"/>
<circle cx="201.2" cy="2474.7" r="5.4" fill="#F9D5C4" stroke="#231F20" stroke-width="0.8"/>
<circle cx="237.1" cy="2474.7" r="5.4" fill="#A5151E" stroke="#231F20" stroke-width="0.8"/>
<circle cx="273.5" cy="2474.7" r="13" fill="#F6C1AA" stroke="#231F20" stroke-width="0.8"/>
<circle cx="309.8" cy="2474.7" r="4" fill="#FAE3D6" stroke="#231F20" stroke-width="0.8"/>
<circle cx="346.2" cy="2474.7" r="1.1" fill="#B5161F" stroke="#231F20" stroke-width="0.5"/>
<circle cx="165.2" cy="2508.9" r="2.2" fill="#FAE0D2" stroke="#231F20" stroke-width="0.8"/>
<circle cx="201.2" cy="2508.9" r="4.7" fill="#FAE3D6" stroke="#231F20" stroke-width="0.8"/>
<circle cx="237.1" cy="2508.9" r="5" fill="#CF1C2E" stroke="#231F20" stroke-width="0.8"/>
<circle cx="273.5" cy="2508.9" r="14" fill="#6A0C12" stroke="#231F20" stroke-width="0.8"/>
<circle cx="309.8" cy="2508.9" r="4.7" fill="#F4AF97" stroke="#231F20" stroke-width="0.8"/>
<circle cx="346.2" cy="2508.9" r="1.8" fill="#6A0C12" stroke="#231F20" stroke-width="0.5"/>
<circle cx="165.2" cy="2543.4" r="2.9" fill="#F9D5C4" stroke="#231F20" stroke-width="0.8"/>
<circle cx="201.2" cy="2543.4" r="5.4" fill="#F8CBB6" stroke="#231F20" stroke-width="0.8"/>
<circle cx="237.1" cy="2543.4" r="5.4" fill="#6A0C12" stroke="#231F20" stroke-width="0.8"/>
<circle cx="273.5" cy="2543.4" r="13" fill="#FAE8DE" stroke="#231F20" stroke-width="0.8"/>
<circle cx="309.8" cy="2543.4" r="4" fill="#F9D5C4" stroke="#231F20" stroke-width="0.8"/>
<circle cx="346.2" cy="2543.4" r="1.1" fill="#B5161F" stroke="#231F20" stroke-width="0.5"/>
<circle cx="165.2" cy="2577.6" r="2.2" fill="#FAE6DB" stroke="#231F20" stroke-width="0.8"/>
<circle cx="201.2" cy="2577.6" r="4.7" fill="#FAE3D6" stroke="#231F20" stroke-width="0.8"/>
<circle cx="237.1" cy="2577.6" r="5.4" fill="#6A0C12" stroke="#231F20" stroke-width="0.8"/>
<circle cx="273.5" cy="2577.6" r="13.3" fill="#EB6349" stroke="#231F20" stroke-width="0.8"/>
<circle cx="309.8" cy="2577.6" r="4" fill="#FAE0D2" stroke="#231F20" stroke-width="0.8"/>
<circle cx="346.2" cy="2577.6" r="1.1" fill="#B5161F" stroke="#231F20" stroke-width="0.5"/>
<text x="251.9" y="2357.7" text-anchor="middle" letter-spacing="1">Chemokines/cytokines</text>
<text x="403.7" y="2426.1" textLength="148.5" lengthAdjust="spacing">Fraction (%)</text>
<circle cx="412.4" cy="2450.2" r="4.7" fill="#999B9D" stroke="#414042" stroke-width="0.9"/>
<line x1="412.4" y1="2471.1" x2="412.4" y2="2477.2" stroke="#333" stroke-width="1.3"/>
<text transform="translate(416.6,2503.1) rotate(-45)" font-size="23" text-anchor="middle" letter-spacing="0.9">20</text>
<circle cx="444.4" cy="2450.2" r="7.6" fill="#999B9D" stroke="#414042" stroke-width="0.9"/>
<line x1="444.4" y1="2471.1" x2="444.4" y2="2477.2" stroke="#333" stroke-width="1.3"/>
<text transform="translate(448.6,2503.1) rotate(-45)" font-size="23" text-anchor="middle" letter-spacing="0.9">40</text>
<circle cx="476.1" cy="2450.2" r="10.1" fill="#999B9D" stroke="#414042" stroke-width="0.9"/>
<line x1="476.1" y1="2471.1" x2="476.1" y2="2477.2" stroke="#333" stroke-width="1.3"/>
<text transform="translate(480.3,2503.1) rotate(-45)" font-size="23" text-anchor="middle" letter-spacing="0.9">60</text>
<circle cx="508.1" cy="2450.2" r="12.6" fill="#999B9D" stroke="#414042" stroke-width="0.9"/>
<line x1="508.1" y1="2471.1" x2="508.1" y2="2477.2" stroke="#333" stroke-width="1.3"/>
<text transform="translate(512.3,2503.1) rotate(-45)" font-size="23" text-anchor="middle" letter-spacing="0.9">80</text>
<circle cx="540.1" cy="2450.2" r="14.8" fill="#999B9D" stroke="#414042" stroke-width="0.9"/>
<line x1="540.1" y1="2471.1" x2="540.1" y2="2477.2" stroke="#333" stroke-width="1.3"/>
<text transform="translate(544.3,2508) rotate(-45)" font-size="23" text-anchor="middle" letter-spacing="0.9">100</text>
<text x="413.1" y="2555.7">Expression</text>
<rect x="416.3" y="2568.3" width="128.9" height="16.9" fill="url(#rh)" stroke="#231F20" stroke-width="1.2"/>
<line x1="416.3" y1="2585.2" x2="416.3" y2="2589.1" stroke="#231F20" stroke-width="1.2"/>
<text x="416.3" y="2615.8" font-size="22.5" text-anchor="middle" letter-spacing="0.9">0</text>
<line x1="480.8" y1="2585.2" x2="480.8" y2="2589.1" stroke="#231F20" stroke-width="1.2"/>
<text x="480.8" y="2615.8" font-size="22.5" text-anchor="middle" letter-spacing="0.9">0.5</text>
<line x1="545.2" y1="2585.2" x2="545.2" y2="2589.1" stroke="#231F20" stroke-width="1.2"/>
<text x="545.2" y="2615.8" font-size="22.5" text-anchor="middle" letter-spacing="0.9">1.0</text>
<text x="690" y="2316.5" class="pl">o</text>
<g transform="translate(808,2420.6) scale(1,1.0357)">
<path d="M0 0L-63.1 -51.1A81.2 81.2 0 0 0 -64.8 -48.9Z" fill="#8E1045" stroke="#8E1045" stroke-width="0.5"/>
<path d="M0 0L-64.8 -48.9A81.2 81.2 0 0 0 -81.2 -0.8Z" fill="#F5D887" stroke="#F5D887" stroke-width="0.5"/>
<path d="M0 0L-81.2 -0.8A81.2 81.2 0 0 0 -53.4 61.2Z" fill="#EA6E4E" stroke="#EA6E4E" stroke-width="0.5"/>
<path d="M0 0L-53.4 61.2A81.2 81.2 0 0 0 7.9 80.8Z" fill="#D5E09B" stroke="#D5E09B" stroke-width="0.5"/>
<path d="M0 0L7.9 80.8A81.2 81.2 0 0 0 80.1 13.5Z" fill="#6AAC97" stroke="#6AAC97" stroke-width="0.5"/>
<path d="M0 0L80.1 13.5A81.2 81.2 0 0 0 -63.1 -51.1Z" fill="#5A579C" stroke="#5A579C" stroke-width="0.5"/>
</g>
<text x="808" y="2327.1" text-anchor="middle" letter-spacing="0.6">Blood</text>
<g transform="translate(974.7,2420.6) scale(1,1.0357)">
<path d="M0 0L-63.1 -51.1A81.2 81.2 0 0 0 -74.2 -33.1Z" fill="#8E1045" stroke="#8E1045" stroke-width="0.5"/>
<path d="M0 0L-74.2 -33.1A81.2 81.2 0 0 0 -35.6 73Z" fill="#F5D887" stroke="#F5D887" stroke-width="0.5"/>
<path d="M0 0L-35.6 73A81.2 81.2 0 0 0 78.1 22.1Z" fill="#EA6E4E" stroke="#EA6E4E" stroke-width="0.5"/>
<path d="M0 0L78.1 22.1A81.2 81.2 0 0 0 74.4 -32.6Z" fill="#D5E09B" stroke="#D5E09B" stroke-width="0.5"/>
<path d="M0 0L74.4 -32.6A81.2 81.2 0 0 0 15.5 -79.7Z" fill="#6AAC97" stroke="#6AAC97" stroke-width="0.5"/>
<path d="M0 0L15.5 -79.7A81.2 81.2 0 0 0 -63.1 -51.1Z" fill="#5A579C" stroke="#5A579C" stroke-width="0.5"/>
</g>
<text x="974.7" y="2327.1" font-size="25.5" text-anchor="middle" letter-spacing="-0.3">SARC</text>
<g transform="translate(1158.4,2420.6) scale(1,1.0357)">
<path d="M0 0L-63.1 -51.1A81.2 81.2 0 0 0 -69.4 -42.2Z" fill="#8E1045" stroke="#8E1045" stroke-width="0.5"/>
<path d="M0 0L-69.4 -42.2A81.2 81.2 0 0 0 -79.3 -17.7Z" fill="#F5D887" stroke="#F5D887" stroke-width="0.5"/>
<path d="M0 0L-79.3 -17.7A81.2 81.2 0 0 0 -60.3 54.3Z" fill="#EA6E4E" stroke="#EA6E4E" stroke-width="0.5"/>
<path d="M0 0L-60.3 54.3A81.2 81.2 0 0 0 -11.6 80.4Z" fill="#D5E09B" stroke="#D5E09B" stroke-width="0.5"/>
<path d="M0 0L-11.6 80.4A81.2 81.2 0 0 0 65.3 -48.2Z" fill="#6AAC97" stroke="#6AAC97" stroke-width="0.5"/>
<path d="M0 0L65.3 -48.2A81.2 81.2 0 0 0 -63.1 -51.1Z" fill="#5A579C" stroke="#5A579C" stroke-width="0.5"/>
</g>
<text x="1158.4" y="2327.1" text-anchor="middle" letter-spacing="0.6">Breast</text>
<g transform="translate(1325.1,2420.6) scale(1,1.0357)">
<path d="M0 0L-63.1 -51.1A81.2 81.2 0 0 0 -80 13.9Z" fill="#8E1045" stroke="#8E1045" stroke-width="0.5"/>
<path d="M0 0L-80 13.9A81.2 81.2 0 1 0 69.8 -41.5Z" fill="#F5D887" stroke="#F5D887" stroke-width="0.5"/>
<path d="M0 0L69.8 -41.5A81.2 81.2 0 0 0 48.5 -65.1Z" fill="#EA6E4E" stroke="#EA6E4E" stroke-width="0.5"/>
<path d="M0 0L48.5 -65.1A81.2 81.2 0 0 0 20.4 -78.6Z" fill="#D5E09B" stroke="#D5E09B" stroke-width="0.5"/>
<path d="M0 0L20.4 -78.6A81.2 81.2 0 0 0 -34.5 -73.5Z" fill="#6AAC97" stroke="#6AAC97" stroke-width="0.5"/>
<path d="M0 0L-34.5 -73.5A81.2 81.2 0 0 0 -63.1 -51.1Z" fill="#5A579C" stroke="#5A579C" stroke-width="0.5"/>
</g>
<text x="1325.1" y="2327.1" font-size="25.5" text-anchor="middle" letter-spacing="-0.3">BRAC</text>
<g transform="translate(1505.9,2420) scale(1,1.0357)">
<path d="M0 0L-63.1 -51.1A81.2 81.2 0 0 0 -65.3 -48.2Z" fill="#8E1045" stroke="#8E1045" stroke-width="0.5"/>
<path d="M0 0L-65.3 -48.2A81.2 81.2 0 0 0 -79.7 -15.5Z" fill="#F5D887" stroke="#F5D887" stroke-width="0.5"/>
<path d="M0 0L-79.7 -15.5A81.2 81.2 0 0 0 -44.6 67.9Z" fill="#EA6E4E" stroke="#EA6E4E" stroke-width="0.5"/>
<path d="M0 0L-44.6 67.9A81.2 81.2 0 0 0 28.4 76.1Z" fill="#D5E09B" stroke="#D5E09B" stroke-width="0.5"/>
<path d="M0 0L28.4 76.1A81.2 81.2 0 0 0 47.2 -66.1Z" fill="#6AAC97" stroke="#6AAC97" stroke-width="0.5"/>
<path d="M0 0L47.2 -66.1A81.2 81.2 0 0 0 -63.1 -51.1Z" fill="#5A579C" stroke="#5A579C" stroke-width="0.5"/>
</g>
<text x="1505.9" y="2326.5" text-anchor="middle" letter-spacing="0.6">Brain</text>
<g transform="translate(1672.6,2420) scale(1,1.0357)">
<path d="M0 0L-63.1 -51.1A81.2 81.2 0 0 0 -79.8 -15.1Z" fill="#8E1045" stroke="#8E1045" stroke-width="0.5"/>
<path d="M0 0L-79.8 -15.1A81.2 81.2 0 1 0 77.6 -23.9Z" fill="#F5D887" stroke="#F5D887" stroke-width="0.5"/>
<path d="M0 0L77.6 -23.9A81.2 81.2 0 0 0 62 -52.4Z" fill="#EA6E4E" stroke="#EA6E4E" stroke-width="0.5"/>
<path d="M0 0L62 -52.4A81.2 81.2 0 0 0 42.9 -68.9Z" fill="#D5E09B" stroke="#D5E09B" stroke-width="0.5"/>
<path d="M0 0L42.9 -68.9A81.2 81.2 0 0 0 -31.5 -74.8Z" fill="#6AAC97" stroke="#6AAC97" stroke-width="0.5"/>
<path d="M0 0L-31.5 -74.8A81.2 81.2 0 0 0 -63.1 -51.1Z" fill="#5A579C" stroke="#5A579C" stroke-width="0.5"/>
</g>
<text x="1672.6" y="2326.5" font-size="25.5" text-anchor="middle" letter-spacing="-0.3">GBM</text>
<g transform="translate(1853.6,2420) scale(1,1.0357)">
<path d="M0 0L-63.1 -51.1A81.2 81.2 0 0 0 -67.1 -45.7Z" fill="#8E1045" stroke="#8E1045" stroke-width="0.5"/>
<path d="M0 0L-67.1 -45.7A81.2 81.2 0 0 0 -79.3 -17.7Z" fill="#F5D887" stroke="#F5D887" stroke-width="0.5"/>
<path d="M0 0L-79.3 -17.7A81.2 81.2 0 0 0 -54.5 60.2Z" fill="#EA6E4E" stroke="#EA6E4E" stroke-width="0.5"/>
<path d="M0 0L-54.5 60.2A81.2 81.2 0 0 0 23.1 77.8Z" fill="#D5E09B" stroke="#D5E09B" stroke-width="0.5"/>
<path d="M0 0L23.1 77.8A81.2 81.2 0 0 0 77.1 -25.5Z" fill="#6AAC97" stroke="#6AAC97" stroke-width="0.5"/>
<path d="M0 0L77.1 -25.5A81.2 81.2 0 0 0 -63.1 -51.1Z" fill="#5A579C" stroke="#5A579C" stroke-width="0.5"/>
</g>
<text x="1853.6" y="2326.5" text-anchor="middle" letter-spacing="0.6">Lung</text>
<g transform="translate(2019.8,2420) scale(1,1.0357)">
<path d="M0 0L-63.1 -51.1A81.2 81.2 0 0 0 -80.2 13Z" fill="#8E1045" stroke="#8E1045" stroke-width="0.5"/>
<path d="M0 0L-80.2 13A81.2 81.2 0 0 0 12.7 80.2Z" fill="#F5D887" stroke="#F5D887" stroke-width="0.5"/>
<path d="M0 0L12.7 80.2A81.2 81.2 0 0 0 72.4 36.8Z" fill="#EA6E4E" stroke="#EA6E4E" stroke-width="0.5"/>
<path d="M0 0L72.4 36.8A81.2 81.2 0 0 0 78.6 -20.5Z" fill="#D5E09B" stroke="#D5E09B" stroke-width="0.5"/>
<path d="M0 0L78.6 -20.5A81.2 81.2 0 0 0 15.2 -79.8Z" fill="#6AAC97" stroke="#6AAC97" stroke-width="0.5"/>
<path d="M0 0L15.2 -79.8A81.2 81.2 0 0 0 -63.1 -51.1Z" fill="#5A579C" stroke="#5A579C" stroke-width="0.5"/>
</g>
<text x="2019.8" y="2326.5" font-size="25.5" text-anchor="middle" letter-spacing="-0.3">NSCLC</text>
<g transform="translate(808,2624.4) scale(1,1.0357)">
<path d="M0 0L-63.1 -51.1A81.2 81.2 0 0 0 -67.8 -44.7Z" fill="#8E1045" stroke="#8E1045" stroke-width="0.5"/>
<path d="M0 0L-67.8 -44.7A81.2 81.2 0 0 0 -76.4 27.6Z" fill="#F5D887" stroke="#F5D887" stroke-width="0.5"/>
<path d="M0 0L-76.4 27.6A81.2 81.2 0 0 0 -24.1 77.5Z" fill="#EA6E4E" stroke="#EA6E4E" stroke-width="0.5"/>
<path d="M0 0L-24.1 77.5A81.2 81.2 0 0 0 57.5 57.3Z" fill="#D5E09B" stroke="#D5E09B" stroke-width="0.5"/>
<path d="M0 0L57.5 57.3A81.2 81.2 0 0 0 78.9 -19Z" fill="#6AAC97" stroke="#6AAC97" stroke-width="0.5"/>
<path d="M0 0L78.9 -19A81.2 81.2 0 0 0 -63.1 -51.1Z" fill="#5A579C" stroke="#5A579C" stroke-width="0.5"/>
</g>
<text x="808" y="2531.1" text-anchor="middle" letter-spacing="0.6">Pancreas</text>
<g transform="translate(974.7,2624.4) scale(1,1.0357)">
<path d="M0 0L-63.1 -51.1A81.2 81.2 0 0 0 -75.4 -30Z" fill="#8E1045" stroke="#8E1045" stroke-width="0.5"/>
<path d="M0 0L-75.4 -30A81.2 81.2 0 0 0 -16.6 79.5Z" fill="#F5D887" stroke="#F5D887" stroke-width="0.5"/>
<path d="M0 0L-16.6 79.5A81.2 81.2 0 0 0 80.8 -7.7Z" fill="#EA6E4E" stroke="#EA6E4E" stroke-width="0.5"/>
<path d="M0 0L80.8 -7.7A81.2 81.2 0 0 0 32.5 -74.4Z" fill="#D5E09B" stroke="#D5E09B" stroke-width="0.5"/>
<path d="M0 0L32.5 -74.4A81.2 81.2 0 0 0 -11.3 -80.4Z" fill="#6AAC97" stroke="#6AAC97" stroke-width="0.5"/>
<path d="M0 0L-11.3 -80.4A81.2 81.2 0 0 0 -63.1 -51.1Z" fill="#5A579C" stroke="#5A579C" stroke-width="0.5"/>
</g>
<text x="974.7" y="2531.1" font-size="25.5" text-anchor="middle" letter-spacing="-0.3">PAAD</text>
<g transform="translate(1158.4,2624.4) scale(1,1.0357)">
<path d="M0 0L-63.1 -51.1A81.2 81.2 0 0 0 -79.4 -16.9Z" fill="#8E1045" stroke="#8E1045" stroke-width="0.5"/>
<path d="M0 0L-79.4 -16.9A81.2 81.2 0 0 0 30.3 75.3Z" fill="#F5D887" stroke="#F5D887" stroke-width="0.5"/>
<path d="M0 0L30.3 75.3A81.2 81.2 0 0 0 59.9 54.9Z" fill="#EA6E4E" stroke="#EA6E4E" stroke-width="0.5"/>
<path d="M0 0L59.9 54.9A81.2 81.2 0 0 0 80.8 8.1Z" fill="#D5E09B" stroke="#D5E09B" stroke-width="0.5"/>
<path d="M0 0L80.8 8.1A81.2 81.2 0 0 0 23.7 -77.7Z" fill="#6AAC97" stroke="#6AAC97" stroke-width="0.5"/>
<path d="M0 0L23.7 -77.7A81.2 81.2 0 0 0 -63.1 -51.1Z" fill="#5A579C" stroke="#5A579C" stroke-width="0.5"/>
</g>
<text x="1158.4" y="2531.1" text-anchor="middle" letter-spacing="0.6">Skin</text>
<g transform="translate(1325.1,2624.4) scale(1,1.0357)">
<path d="M0 0L-63.1 -51.1A81.2 81.2 0 0 0 26.5 76.8Z" fill="#8E1045" stroke="#8E1045" stroke-width="0.5"/>
<path d="M0 0L26.5 76.8A81.2 81.2 0 0 0 73.3 -35Z" fill="#F5D887" stroke="#F5D887" stroke-width="0.5"/>
<path d="M0 0L73.3 -35A81.2 81.2 0 0 0 68.7 -43.3Z" fill="#EA6E4E" stroke="#EA6E4E" stroke-width="0.5"/>
<path d="M0 0L68.7 -43.3A81.2 81.2 0 0 0 -10.8 -80.5Z" fill="#D5E09B" stroke="#D5E09B" stroke-width="0.5"/>
<path d="M0 0L-10.8 -80.5A81.2 81.2 0 0 0 -38.8 -71.3Z" fill="#6AAC97" stroke="#6AAC97" stroke-width="0.5"/>
<path d="M0 0L-38.8 -71.3A81.2 81.2 0 0 0 -63.1 -51.1Z" fill="#5A579C" stroke="#5A579C" stroke-width="0.5"/>
</g>
<text x="1325.1" y="2531.1" font-size="25.5" text-anchor="middle" letter-spacing="-0.3">SKCM</text>
<g transform="translate(1505.9,2624.4) scale(1,1.0357)">
<path d="M0 0L-63.1 -51.1A81.2 81.2 0 0 0 -76.5 -27.2Z" fill="#8E1045" stroke="#8E1045" stroke-width="0.5"/>
<path d="M0 0L-76.5 -27.2A81.2 81.2 0 0 0 52.2 62.2Z" fill="#F5D887" stroke="#F5D887" stroke-width="0.5"/>
<path d="M0 0L52.2 62.2A81.2 81.2 0 0 0 80.7 8.6Z" fill="#EA6E4E" stroke="#EA6E4E" stroke-width="0.5"/>
<path d="M0 0L80.7 8.6A81.2 81.2 0 0 0 64.6 -49.2Z" fill="#D5E09B" stroke="#D5E09B" stroke-width="0.5"/>
<path d="M0 0L64.6 -49.2A81.2 81.2 0 0 0 -5.1 -81Z" fill="#6AAC97" stroke="#6AAC97" stroke-width="0.5"/>
<path d="M0 0L-5.1 -81A81.2 81.2 0 0 0 -63.1 -51.1Z" fill="#5A579C" stroke="#5A579C" stroke-width="0.5"/>
</g>
<text x="1505.9" y="2531.1" text-anchor="middle" letter-spacing="0.6">Prostate</text>
<g transform="translate(1672.6,2624.4) scale(1,1.0357)">
<path d="M0 0L-63.1 -51.1A81.2 81.2 0 0 0 -35.3 73.1Z" fill="#8E1045" stroke="#8E1045" stroke-width="0.5"/>
<path d="M0 0L-35.3 73.1A81.2 81.2 0 0 0 74.4 32.6Z" fill="#F5D887" stroke="#F5D887" stroke-width="0.5"/>
<path d="M0 0L74.4 32.6A81.2 81.2 0 0 0 78.2 -21.8Z" fill="#EA6E4E" stroke="#EA6E4E" stroke-width="0.5"/>
<path d="M0 0L78.2 -21.8A81.2 81.2 0 0 0 48.7 -65Z" fill="#D5E09B" stroke="#D5E09B" stroke-width="0.5"/>
<path d="M0 0L48.7 -65A81.2 81.2 0 0 0 -23 -77.9Z" fill="#6AAC97" stroke="#6AAC97" stroke-width="0.5"/>
<path d="M0 0L-23 -77.9A81.2 81.2 0 0 0 -63.1 -51.1Z" fill="#5A579C" stroke="#5A579C" stroke-width="0.5"/>
</g>
<text x="1672.6" y="2531.1" font-size="25.5" text-anchor="middle" letter-spacing="-0.3">PRAD</text>
<line x1="1067.8" y1="2321.5" x2="1067.8" y2="2716" stroke="#231F20" stroke-width="1.1" stroke-dasharray="8.7 8.1"/>
<line x1="1417.6" y1="2321.5" x2="1417.6" y2="2716" stroke="#231F20" stroke-width="1.1" stroke-dasharray="8.7 8.1"/>
<line x1="1764.7" y1="2321.5" x2="1764.7" y2="2716" stroke="#231F20" stroke-width="1.1" stroke-dasharray="8.7 8.1"/>
<rect x="1790.1" y="2560" width="24.2" height="23.7" fill="#8E1045"/>
<text x="1827.7" y="2581.9" textLength="97.2" lengthAdjust="spacing">Group 1</text>
<rect x="1790.1" y="2601.1" width="24.2" height="23.7" fill="#F5D887"/>
<text x="1827.7" y="2623" textLength="102" lengthAdjust="spacing">Group 2</text>
<rect x="1790.1" y="2642.2" width="24.2" height="23.7" fill="#EA6E4E"/>
<text x="1827.7" y="2664.1" textLength="102" lengthAdjust="spacing">Group 3</text>
<rect x="1970.7" y="2560" width="24.2" height="23.7" fill="#D5E09B"/>
<text x="2008.3" y="2581.9" textLength="102" lengthAdjust="spacing">Group 4</text>
<rect x="1970.7" y="2601.1" width="24.2" height="23.7" fill="#52AE93"/>
<text x="2008.3" y="2623" textLength="102" lengthAdjust="spacing">Group 5</text>
<rect x="1970.7" y="2642.2" width="24.2" height="23.7" fill="#5A579C"/>
<text x="2008.3" y="2664.1" textLength="102" lengthAdjust="spacing">Group 6</text>
</svg></body></html>
